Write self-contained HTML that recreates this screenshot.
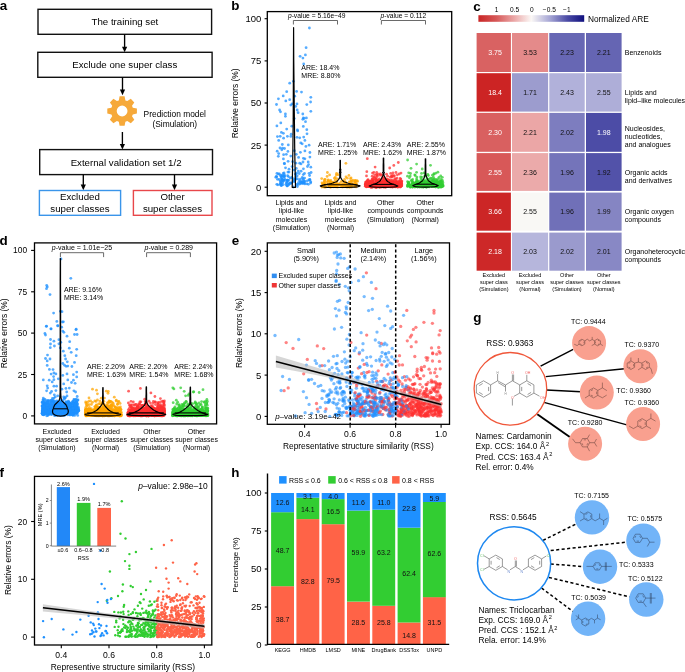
<!DOCTYPE html><html><head><meta charset="utf-8"><style>html,body{margin:0;padding:0;background:#fff;}svg{display:block;will-change:transform;font-family:"Liberation Sans",sans-serif;}</style></head><body>
<svg width="685" height="672" viewBox="0 0 685 672">
<rect width="685" height="672" fill="#fff"/>
<text x="-0.3" y="10.4" font-size="13.4" font-weight="bold">a</text>
<rect x="38" y="9.3" width="173.6" height="25" fill="none" stroke="#111" stroke-width="1.4"/>
<text x="124.9" y="25.1" font-size="9.7" text-anchor="middle">The training set</text>
<line x1="124.6" y1="34.3" x2="124.6" y2="48.8" stroke="#000" stroke-width="1.35"/>
<path d="M122,46.7 L127.2,46.7 L124.6,52.3 Z" fill="#000"/>
<rect x="37.8" y="52.3" width="174.3" height="25" fill="none" stroke="#111" stroke-width="1.4"/>
<text x="124.8" y="68.2" font-size="9.7" text-anchor="middle">Exclude one super class</text>
<line x1="122.5" y1="77.3" x2="122.5" y2="91.7" stroke="#000" stroke-width="1.35"/>
<path d="M119.9,89.6 L125.1,89.6 L122.5,95.2 Z" fill="#000"/>
<path d="M118.8,100.4 L119.6,96.3 L124.6,96.3 L125.4,100.4 L127.3,101.1 L130.8,98.8 L134.3,102.4 L132,105.8 L132.8,107.7 L136.9,108.5 L136.9,113.6 L132.8,114.4 L132,116.3 L134.3,119.7 L130.8,123.3 L127.3,121 L125.4,121.7 L124.6,125.8 L119.6,125.8 L118.8,121.7 L116.9,121 L113.4,123.3 L109.9,119.7 L112.2,116.3 L111.4,114.4 L107.3,113.6 L107.3,108.5 L111.4,107.7 L112.2,105.8 L109.9,102.4 L113.4,98.8 L116.9,101.1 Z M116.7,111 a5.4,5.4 0 1,0 10.8,0 a5.4,5.4 0 1,0 -10.8,0 Z" fill="#F6A93A" fill-rule="evenodd"/>
<text x="174.8" y="117" font-size="8.4" text-anchor="middle">Prediction model</text>
<text x="174.8" y="127.2" font-size="8.4" text-anchor="middle">(Simulation)</text>
<line x1="122.4" y1="132" x2="122.4" y2="146.1" stroke="#000" stroke-width="1.35"/>
<path d="M119.8,144 L125,144 L122.4,149.6 Z" fill="#000"/>
<rect x="39.7" y="149.6" width="172.8" height="25" fill="none" stroke="#111" stroke-width="1.4"/>
<text x="126.1" y="166.3" font-size="9.7" text-anchor="middle">External validation set 1/2</text>
<line x1="83.3" y1="174.6" x2="83.3" y2="186.7" stroke="#000" stroke-width="1.35"/>
<path d="M80.7,184.6 L85.9,184.6 L83.3,190.2 Z" fill="#000"/>
<line x1="174.5" y1="174.6" x2="174.5" y2="186.7" stroke="#000" stroke-width="1.35"/>
<path d="M171.9,184.6 L177.1,184.6 L174.5,190.2 Z" fill="#000"/>
<rect x="39.4" y="190.5" width="81.2" height="24.8" fill="none" stroke="#3A95EA" stroke-width="1.4"/>
<text x="79.9" y="200.3" font-size="9.7" text-anchor="middle">Excluded</text>
<text x="79.9" y="212.3" font-size="9.7" text-anchor="middle">super classes</text>
<rect x="133.4" y="190.5" width="78.6" height="24.8" fill="none" stroke="#E8474A" stroke-width="1.4"/>
<text x="172.5" y="200.3" font-size="9.7" text-anchor="middle">Other</text>
<text x="172.5" y="212.3" font-size="9.7" text-anchor="middle">super classes</text>
<text x="231.2" y="10" font-size="13.4" font-weight="bold">b</text>
<g fill="#1E90FF" fill-opacity="0.75">
<circle cx="309.4" cy="28" r="1.4"/>
<circle cx="306.1" cy="47.7" r="1.4"/>
<circle cx="305.4" cy="54.9" r="1.4"/>
<circle cx="300.1" cy="56.3" r="1.4"/>
<circle cx="302.9" cy="58.1" r="1.4"/>
<circle cx="303.7" cy="64" r="1.4"/>
<circle cx="293.4" cy="81.3" r="1.4"/>
<circle cx="289.7" cy="83.2" r="1.4"/>
<circle cx="286.7" cy="91.7" r="1.4"/>
<circle cx="296.6" cy="91.4" r="1.4"/>
<circle cx="301.5" cy="92.1" r="1.4"/>
<circle cx="283.2" cy="95.9" r="1.4"/>
<circle cx="294.8" cy="96.2" r="1.4"/>
<circle cx="278.4" cy="98.8" r="1.4"/>
<circle cx="310.8" cy="97.3" r="1.4"/>
<circle cx="285.8" cy="100.9" r="1.4"/>
<circle cx="289.7" cy="99.7" r="1.4"/>
<circle cx="310.6" cy="102" r="1.4"/>
<circle cx="276.5" cy="104.5" r="1.4"/>
<circle cx="290.8" cy="105.1" r="1.4"/>
<circle cx="292.1" cy="103.8" r="1.4"/>
<circle cx="297" cy="103.9" r="1.4"/>
<circle cx="295.7" cy="106.4" r="1.4"/>
<circle cx="306.8" cy="104.6" r="1.4"/>
<circle cx="279.6" cy="110" r="1.4"/>
<circle cx="280.5" cy="111.8" r="1.4"/>
<circle cx="297.2" cy="110" r="1.4"/>
<circle cx="298.1" cy="112.7" r="1.4"/>
<circle cx="310.8" cy="111.3" r="1.4"/>
<circle cx="285.4" cy="114" r="1.4"/>
<circle cx="285.4" cy="116.3" r="1.4"/>
<circle cx="302.8" cy="114" r="1.4"/>
<circle cx="303.3" cy="118" r="1.4"/>
<circle cx="306.4" cy="117.9" r="1.4"/>
<circle cx="294.3" cy="118.6" r="1.4"/>
<circle cx="302.8" cy="119.3" r="1.4"/>
<circle cx="304.1" cy="118.4" r="1.4"/>
<circle cx="305.5" cy="121.7" r="1.4"/>
<circle cx="280.8" cy="122.9" r="1.4"/>
<circle cx="276.9" cy="125.9" r="1.4"/>
<circle cx="291.8" cy="126.2" r="1.4"/>
<circle cx="303.3" cy="126.4" r="1.4"/>
<circle cx="286.7" cy="129.1" r="1.4"/>
<circle cx="297.4" cy="130" r="1.4"/>
<circle cx="297.7" cy="130.9" r="1.4"/>
<circle cx="306.8" cy="129.7" r="1.4"/>
<circle cx="281.4" cy="132.4" r="1.4"/>
<circle cx="283.4" cy="133.3" r="1.4"/>
<circle cx="307" cy="133.8" r="1.4"/>
<circle cx="291.2" cy="134.2" r="1.4"/>
<circle cx="277.4" cy="136.6" r="1.4"/>
<circle cx="280.2" cy="136.3" r="1.4"/>
<circle cx="287.4" cy="136.3" r="1.4"/>
<circle cx="290.8" cy="136.4" r="1.4"/>
<circle cx="297" cy="137.3" r="1.4"/>
<circle cx="299.7" cy="137.8" r="1.4"/>
<circle cx="303.7" cy="137.1" r="1.4"/>
<circle cx="283.6" cy="138.2" r="1.4"/>
<circle cx="278.7" cy="140.4" r="1.4"/>
<circle cx="304.9" cy="140.4" r="1.4"/>
<circle cx="282.3" cy="144.5" r="1.4"/>
<circle cx="288.3" cy="144.9" r="1.4"/>
<circle cx="300.8" cy="142.9" r="1.4"/>
<circle cx="302.2" cy="143.8" r="1.4"/>
<circle cx="305.9" cy="146.4" r="1.4"/>
<circle cx="309.1" cy="145.2" r="1.4"/>
<circle cx="280" cy="148" r="1.4"/>
<circle cx="282.5" cy="148.2" r="1.4"/>
<circle cx="284.5" cy="148.5" r="1.4"/>
<circle cx="281.8" cy="149.8" r="1.4"/>
<circle cx="277.2" cy="151.2" r="1.4"/>
<circle cx="287.9" cy="151.4" r="1.4"/>
<circle cx="294.3" cy="150.7" r="1.4"/>
<circle cx="304.9" cy="150.9" r="1.4"/>
<circle cx="300.4" cy="152.3" r="1.4"/>
<circle cx="309.9" cy="152.5" r="1.4"/>
<circle cx="278.7" cy="153.6" r="1.4"/>
<circle cx="283.6" cy="154.7" r="1.4"/>
<circle cx="286.3" cy="154.3" r="1.4"/>
<circle cx="296.3" cy="154.3" r="1.4"/>
<circle cx="290.8" cy="156.1" r="1.4"/>
<circle cx="278.3" cy="156.3" r="1.4"/>
<circle cx="298.6" cy="157.4" r="1.4"/>
<circle cx="309.9" cy="157.1" r="1.4"/>
<circle cx="283.4" cy="158.9" r="1.4"/>
<circle cx="303.4" cy="158.3" r="1.4"/>
<circle cx="304.9" cy="158.8" r="1.4"/>
<circle cx="288.1" cy="161.3" r="1.4"/>
<circle cx="295.9" cy="163.2" r="1.4"/>
<circle cx="299.7" cy="163.2" r="1.4"/>
<circle cx="301" cy="163.9" r="1.4"/>
<circle cx="308.2" cy="161.9" r="1.4"/>
<circle cx="284.5" cy="163.7" r="1.4"/>
<circle cx="308.6" cy="164.6" r="1.4"/>
<circle cx="292.1" cy="166.6" r="1.4"/>
<circle cx="310.8" cy="167.2" r="1.4"/>
<circle cx="303.4" cy="168.8" r="1.4"/>
<circle cx="289" cy="172.1" r="1.4"/>
<circle cx="298.3" cy="171.1" r="1.4"/>
<circle cx="278.3" cy="173.9" r="1.4"/>
<circle cx="283.2" cy="173.5" r="1.4"/>
<circle cx="303.3" cy="174.6" r="1.4"/>
<circle cx="284.3" cy="163.5" r="1.4"/>
<circle cx="292.6" cy="161.7" r="1.4"/>
<circle cx="303" cy="162" r="1.4"/>
<circle cx="307.5" cy="166.5" r="1.4"/>
<circle cx="296.3" cy="168.4" r="1.4"/>
<circle cx="285.5" cy="167.8" r="1.4"/>
<circle cx="290.6" cy="183.1" r="1.4"/>
<circle cx="282.7" cy="182.5" r="1.4"/>
<circle cx="280.2" cy="181" r="1.4"/>
<circle cx="288.4" cy="176.6" r="1.4"/>
<circle cx="310.6" cy="183" r="1.4"/>
<circle cx="281.1" cy="185.4" r="1.4"/>
<circle cx="287.9" cy="172.1" r="1.4"/>
<circle cx="302.3" cy="177.4" r="1.4"/>
<circle cx="306.8" cy="183.8" r="1.4"/>
<circle cx="307.3" cy="180.8" r="1.4"/>
<circle cx="284.1" cy="180.1" r="1.4"/>
<circle cx="284.1" cy="176.8" r="1.4"/>
<circle cx="304.3" cy="181.5" r="1.4"/>
<circle cx="309.9" cy="180" r="1.4"/>
<circle cx="310.8" cy="181.9" r="1.4"/>
<circle cx="281.4" cy="184" r="1.4"/>
<circle cx="301.1" cy="171.2" r="1.4"/>
<circle cx="303.3" cy="182.8" r="1.4"/>
<circle cx="302.9" cy="178.7" r="1.4"/>
<circle cx="297.5" cy="178.9" r="1.4"/>
<circle cx="283" cy="184.7" r="1.4"/>
<circle cx="281.7" cy="175.9" r="1.4"/>
<circle cx="281.6" cy="177.9" r="1.4"/>
<circle cx="294.3" cy="180.2" r="1.4"/>
<circle cx="297.4" cy="186.5" r="1.4"/>
<circle cx="293.8" cy="181.6" r="1.4"/>
<circle cx="284.5" cy="174.9" r="1.4"/>
<circle cx="287.6" cy="180.8" r="1.4"/>
<circle cx="284.7" cy="176.3" r="1.4"/>
<circle cx="287.4" cy="180.3" r="1.4"/>
<circle cx="283" cy="181.1" r="1.4"/>
<circle cx="287.6" cy="175.7" r="1.4"/>
<circle cx="304.2" cy="182.8" r="1.4"/>
<circle cx="288.8" cy="180.4" r="1.4"/>
<circle cx="289" cy="183.8" r="1.4"/>
<circle cx="302.4" cy="181.1" r="1.4"/>
<circle cx="302" cy="182.4" r="1.4"/>
<circle cx="276.8" cy="176.8" r="1.4"/>
<circle cx="309" cy="180" r="1.4"/>
<circle cx="282.5" cy="179.9" r="1.4"/>
<circle cx="301.6" cy="182.5" r="1.4"/>
<circle cx="286.5" cy="183.5" r="1.4"/>
<circle cx="304.9" cy="183.9" r="1.4"/>
<circle cx="276.3" cy="176.3" r="1.4"/>
<circle cx="287.2" cy="185.8" r="1.4"/>
<circle cx="281.1" cy="177.1" r="1.4"/>
<circle cx="285.9" cy="184.6" r="1.4"/>
<circle cx="294.6" cy="181.3" r="1.4"/>
<circle cx="303.5" cy="179.7" r="1.4"/>
<circle cx="296.7" cy="184.4" r="1.4"/>
<circle cx="299.4" cy="180.6" r="1.4"/>
<circle cx="304.9" cy="181.3" r="1.4"/>
<circle cx="287" cy="185.9" r="1.4"/>
<circle cx="295.9" cy="177" r="1.4"/>
<circle cx="282" cy="175.5" r="1.4"/>
<circle cx="283.5" cy="176.3" r="1.4"/>
<circle cx="277.9" cy="184.8" r="1.4"/>
<circle cx="296.7" cy="173.1" r="1.4"/>
<circle cx="311.1" cy="172.5" r="1.4"/>
<circle cx="295.5" cy="173.9" r="1.4"/>
<circle cx="281.5" cy="185.5" r="1.4"/>
<circle cx="303.7" cy="183.2" r="1.4"/>
<circle cx="280.2" cy="184.6" r="1.4"/>
<circle cx="289" cy="169.2" r="1.4"/>
<circle cx="295.8" cy="179.2" r="1.4"/>
<circle cx="276.9" cy="173.4" r="1.4"/>
<circle cx="288.9" cy="184.4" r="1.4"/>
<circle cx="284.7" cy="179" r="1.4"/>
<circle cx="281.9" cy="178.9" r="1.4"/>
<circle cx="298.5" cy="182.6" r="1.4"/>
<circle cx="294.2" cy="170.1" r="1.4"/>
<circle cx="300.5" cy="181.7" r="1.4"/>
<circle cx="276.8" cy="184.3" r="1.4"/>
<circle cx="279.1" cy="179.4" r="1.4"/>
<circle cx="295.7" cy="174.4" r="1.4"/>
<circle cx="287.5" cy="180.1" r="1.4"/>
<circle cx="286.7" cy="181.9" r="1.4"/>
<circle cx="290.1" cy="178" r="1.4"/>
<circle cx="304.6" cy="178.1" r="1.4"/>
<circle cx="299.2" cy="173.5" r="1.4"/>
<circle cx="308.4" cy="184.3" r="1.4"/>
<circle cx="300.8" cy="183.4" r="1.4"/>
<circle cx="290.5" cy="183.2" r="1.4"/>
<circle cx="289.7" cy="183.3" r="1.4"/>
<circle cx="302.5" cy="183.5" r="1.4"/>
<circle cx="281.5" cy="181.1" r="1.4"/>
<circle cx="298.1" cy="184.4" r="1.4"/>
<circle cx="284.5" cy="180.4" r="1.4"/>
<circle cx="280.7" cy="183.8" r="1.4"/>
<circle cx="300.4" cy="179.1" r="1.4"/>
<circle cx="291.9" cy="177.5" r="1.4"/>
<circle cx="284" cy="176" r="1.4"/>
<circle cx="293.9" cy="178.8" r="1.4"/>
<circle cx="287.2" cy="180.1" r="1.4"/>
<circle cx="277.4" cy="179.3" r="1.4"/>
<circle cx="280.3" cy="175.5" r="1.4"/>
<circle cx="275.8" cy="177.3" r="1.4"/>
<circle cx="309.6" cy="175.5" r="1.4"/>
<circle cx="287" cy="182.6" r="1.4"/>
<circle cx="291.4" cy="183" r="1.4"/>
<circle cx="299.7" cy="184.1" r="1.4"/>
<circle cx="282.8" cy="180" r="1.4"/>
<circle cx="309.1" cy="173.3" r="1.4"/>
<circle cx="284.1" cy="173" r="1.4"/>
<circle cx="280.8" cy="182.3" r="1.4"/>
<circle cx="309.8" cy="179.5" r="1.4"/>
<circle cx="293.3" cy="187" r="1.4"/>
<circle cx="304.5" cy="173.4" r="1.4"/>
<circle cx="288" cy="185.3" r="1.4"/>
<circle cx="281.6" cy="179.7" r="1.4"/>
<circle cx="295.6" cy="179.1" r="1.4"/>
<circle cx="280.7" cy="183.5" r="1.4"/>
<circle cx="297.2" cy="175.8" r="1.4"/>
<circle cx="300.8" cy="182.5" r="1.4"/>
<circle cx="279.4" cy="173.9" r="1.4"/>
</g>
<g fill="#FFA500" fill-opacity="0.75">
<circle cx="327.6" cy="184.4" r="1.4"/>
<circle cx="328.2" cy="181.5" r="1.4"/>
<circle cx="336.3" cy="174.9" r="1.4"/>
<circle cx="337.7" cy="183.8" r="1.4"/>
<circle cx="330.8" cy="180.5" r="1.4"/>
<circle cx="348.2" cy="186.3" r="1.4"/>
<circle cx="336.9" cy="185.4" r="1.4"/>
<circle cx="345.4" cy="182" r="1.4"/>
<circle cx="350" cy="186.9" r="1.4"/>
<circle cx="332.7" cy="183.6" r="1.4"/>
<circle cx="353.8" cy="184.1" r="1.4"/>
<circle cx="339" cy="184.5" r="1.4"/>
<circle cx="338.6" cy="184.6" r="1.4"/>
<circle cx="357.5" cy="181.4" r="1.4"/>
<circle cx="355.6" cy="183.6" r="1.4"/>
<circle cx="350.7" cy="186.7" r="1.4"/>
<circle cx="344.6" cy="185.3" r="1.4"/>
<circle cx="325.2" cy="179.5" r="1.4"/>
<circle cx="330.9" cy="184.5" r="1.4"/>
<circle cx="332.2" cy="182.1" r="1.4"/>
<circle cx="329.6" cy="186.8" r="1.4"/>
<circle cx="322.4" cy="184" r="1.4"/>
<circle cx="324" cy="184.8" r="1.4"/>
<circle cx="327.1" cy="181.9" r="1.4"/>
<circle cx="344.3" cy="186.2" r="1.4"/>
<circle cx="352.2" cy="183.7" r="1.4"/>
<circle cx="334.4" cy="178.2" r="1.4"/>
<circle cx="322" cy="182.8" r="1.4"/>
<circle cx="356" cy="185.6" r="1.4"/>
<circle cx="343.4" cy="184" r="1.4"/>
<circle cx="328.8" cy="184.5" r="1.4"/>
<circle cx="341.6" cy="185.3" r="1.4"/>
<circle cx="330.1" cy="185.3" r="1.4"/>
<circle cx="335.2" cy="180.2" r="1.4"/>
<circle cx="336.2" cy="186.9" r="1.4"/>
<circle cx="342.7" cy="185.4" r="1.4"/>
<circle cx="331.3" cy="184" r="1.4"/>
<circle cx="328.2" cy="179.8" r="1.4"/>
<circle cx="334.7" cy="183.9" r="1.4"/>
<circle cx="349.2" cy="182" r="1.4"/>
<circle cx="350.7" cy="185.7" r="1.4"/>
<circle cx="337.1" cy="185" r="1.4"/>
<circle cx="327.1" cy="176.4" r="1.4"/>
<circle cx="322.5" cy="186.6" r="1.4"/>
<circle cx="336.3" cy="183.2" r="1.4"/>
<circle cx="331" cy="184.8" r="1.4"/>
<circle cx="324.4" cy="181.2" r="1.4"/>
<circle cx="342.1" cy="186.8" r="1.4"/>
<circle cx="331.2" cy="186.5" r="1.4"/>
<circle cx="356.3" cy="183.9" r="1.4"/>
<circle cx="346.4" cy="186" r="1.4"/>
<circle cx="325.2" cy="184" r="1.4"/>
<circle cx="338" cy="174.7" r="1.4"/>
<circle cx="342.2" cy="186.1" r="1.4"/>
<circle cx="334.2" cy="184.7" r="1.4"/>
<circle cx="351" cy="181.2" r="1.4"/>
<circle cx="322.4" cy="185.6" r="1.4"/>
<circle cx="348.9" cy="175.4" r="1.4"/>
<circle cx="345.5" cy="183.6" r="1.4"/>
<circle cx="342.6" cy="186.9" r="1.4"/>
<circle cx="345.9" cy="163.3" r="1.4"/>
<circle cx="328.7" cy="186.4" r="1.4"/>
<circle cx="332.9" cy="184.6" r="1.4"/>
<circle cx="355" cy="182.1" r="1.4"/>
<circle cx="329.7" cy="181.1" r="1.4"/>
<circle cx="329.8" cy="186.7" r="1.4"/>
<circle cx="355.5" cy="181" r="1.4"/>
<circle cx="356.2" cy="184.3" r="1.4"/>
<circle cx="355.7" cy="183.8" r="1.4"/>
<circle cx="333.1" cy="185.9" r="1.4"/>
<circle cx="347.1" cy="185.8" r="1.4"/>
<circle cx="337.1" cy="178.8" r="1.4"/>
<circle cx="345" cy="184.3" r="1.4"/>
<circle cx="337.5" cy="184.6" r="1.4"/>
<circle cx="344.6" cy="179.5" r="1.4"/>
<circle cx="357" cy="180.7" r="1.4"/>
<circle cx="333.8" cy="182.4" r="1.4"/>
<circle cx="349" cy="187" r="1.4"/>
<circle cx="331.1" cy="184.4" r="1.4"/>
<circle cx="352.7" cy="180.1" r="1.4"/>
<circle cx="345.2" cy="183.3" r="1.4"/>
<circle cx="330.2" cy="182.8" r="1.4"/>
<circle cx="342.9" cy="181.2" r="1.4"/>
<circle cx="337.7" cy="187.1" r="1.4"/>
<circle cx="346" cy="176.9" r="1.4"/>
<circle cx="341.8" cy="185.1" r="1.4"/>
<circle cx="350.4" cy="182.7" r="1.4"/>
<circle cx="351.4" cy="184.9" r="1.4"/>
<circle cx="346.5" cy="186.4" r="1.4"/>
<circle cx="336.6" cy="173.4" r="1.4"/>
<circle cx="355.5" cy="183.8" r="1.4"/>
<circle cx="327.4" cy="172.5" r="1.4"/>
<circle cx="356.5" cy="184.8" r="1.4"/>
<circle cx="329.6" cy="174.9" r="1.4"/>
<circle cx="354.8" cy="181.2" r="1.4"/>
<circle cx="351" cy="177.8" r="1.4"/>
<circle cx="354.6" cy="186.6" r="1.4"/>
<circle cx="356.1" cy="186.9" r="1.4"/>
<circle cx="333.7" cy="186.8" r="1.4"/>
<circle cx="321.9" cy="187.1" r="1.4"/>
<circle cx="330.7" cy="185.4" r="1.4"/>
<circle cx="329.3" cy="186.7" r="1.4"/>
<circle cx="347.1" cy="187.2" r="1.4"/>
<circle cx="328.2" cy="180.6" r="1.4"/>
<circle cx="324.8" cy="183.5" r="1.4"/>
<circle cx="324.5" cy="179.6" r="1.4"/>
<circle cx="325.5" cy="187.2" r="1.4"/>
<circle cx="336.6" cy="184.2" r="1.4"/>
<circle cx="355.1" cy="180.5" r="1.4"/>
<circle cx="323.6" cy="183.5" r="1.4"/>
<circle cx="339.8" cy="183.5" r="1.4"/>
<circle cx="345.1" cy="182.4" r="1.4"/>
<circle cx="345" cy="183.5" r="1.4"/>
<circle cx="352.3" cy="181.2" r="1.4"/>
<circle cx="345.8" cy="185.3" r="1.4"/>
<circle cx="332.6" cy="183.6" r="1.4"/>
<circle cx="335" cy="186.3" r="1.4"/>
<circle cx="321.7" cy="178.6" r="1.4"/>
<circle cx="347.5" cy="185.4" r="1.4"/>
<circle cx="324" cy="187.1" r="1.4"/>
<circle cx="324.9" cy="186.9" r="1.4"/>
<circle cx="335" cy="185.5" r="1.4"/>
<circle cx="342.3" cy="184.2" r="1.4"/>
<circle cx="346.5" cy="185.8" r="1.4"/>
<circle cx="340.3" cy="185.6" r="1.4"/>
<circle cx="340.7" cy="185.4" r="1.4"/>
<circle cx="341.2" cy="181.6" r="1.4"/>
<circle cx="353.7" cy="183.9" r="1.4"/>
<circle cx="350.5" cy="178.7" r="1.4"/>
<circle cx="347.3" cy="178.2" r="1.4"/>
<circle cx="347.9" cy="186.2" r="1.4"/>
<circle cx="330.1" cy="186" r="1.4"/>
<circle cx="346.3" cy="183.9" r="1.4"/>
<circle cx="348.6" cy="184.3" r="1.4"/>
<circle cx="351.9" cy="185.6" r="1.4"/>
<circle cx="325.6" cy="186.7" r="1.4"/>
<circle cx="324.5" cy="181.6" r="1.4"/>
<circle cx="330.4" cy="187.1" r="1.4"/>
<circle cx="348.9" cy="186.5" r="1.4"/>
<circle cx="335.3" cy="177.5" r="1.4"/>
<circle cx="331" cy="186.9" r="1.4"/>
<circle cx="351" cy="181.3" r="1.4"/>
<circle cx="336.8" cy="181.4" r="1.4"/>
<circle cx="332.7" cy="182.9" r="1.4"/>
<circle cx="330.6" cy="182.1" r="1.4"/>
<circle cx="354.6" cy="185.6" r="1.4"/>
<circle cx="351.7" cy="187" r="1.4"/>
<circle cx="330.6" cy="186.9" r="1.4"/>
<circle cx="350.7" cy="185.2" r="1.4"/>
<circle cx="349.9" cy="187.1" r="1.4"/>
</g>
<g fill="#FF3030" fill-opacity="0.75">
<circle cx="374.6" cy="185.6" r="1.4"/>
<circle cx="365.7" cy="185.9" r="1.4"/>
<circle cx="377.4" cy="184.4" r="1.4"/>
<circle cx="371.3" cy="183.6" r="1.4"/>
<circle cx="378.3" cy="182.2" r="1.4"/>
<circle cx="386.6" cy="174.2" r="1.4"/>
<circle cx="381.4" cy="183.5" r="1.4"/>
<circle cx="384.2" cy="182.7" r="1.4"/>
<circle cx="389.9" cy="185" r="1.4"/>
<circle cx="376.2" cy="187" r="1.4"/>
<circle cx="396.1" cy="186.3" r="1.4"/>
<circle cx="369.7" cy="184.2" r="1.4"/>
<circle cx="401.1" cy="185.9" r="1.4"/>
<circle cx="399.2" cy="174" r="1.4"/>
<circle cx="369.7" cy="186.6" r="1.4"/>
<circle cx="401.2" cy="183.8" r="1.4"/>
<circle cx="397.5" cy="186.9" r="1.4"/>
<circle cx="377" cy="181.5" r="1.4"/>
<circle cx="375.9" cy="186.6" r="1.4"/>
<circle cx="376.4" cy="184.8" r="1.4"/>
<circle cx="369.8" cy="183.8" r="1.4"/>
<circle cx="390" cy="184.2" r="1.4"/>
<circle cx="379.3" cy="184.9" r="1.4"/>
<circle cx="390.7" cy="186.8" r="1.4"/>
<circle cx="380.3" cy="187" r="1.4"/>
<circle cx="380.4" cy="186.8" r="1.4"/>
<circle cx="388.7" cy="186.2" r="1.4"/>
<circle cx="380.7" cy="185.9" r="1.4"/>
<circle cx="374.9" cy="182.9" r="1.4"/>
<circle cx="385.1" cy="182.9" r="1.4"/>
<circle cx="389.5" cy="184.2" r="1.4"/>
<circle cx="400.9" cy="185.5" r="1.4"/>
<circle cx="383.5" cy="180.6" r="1.4"/>
<circle cx="392.5" cy="181.5" r="1.4"/>
<circle cx="389" cy="180.7" r="1.4"/>
<circle cx="385.7" cy="179.5" r="1.4"/>
<circle cx="372.8" cy="180.9" r="1.4"/>
<circle cx="394.4" cy="175.6" r="1.4"/>
<circle cx="367" cy="186.1" r="1.4"/>
<circle cx="391.7" cy="176.6" r="1.4"/>
<circle cx="370.4" cy="182.5" r="1.4"/>
<circle cx="385.5" cy="185.5" r="1.4"/>
<circle cx="366.8" cy="171.7" r="1.4"/>
<circle cx="385" cy="182.8" r="1.4"/>
<circle cx="375.2" cy="187.1" r="1.4"/>
<circle cx="376.4" cy="184.3" r="1.4"/>
<circle cx="400.4" cy="186.7" r="1.4"/>
<circle cx="398.9" cy="186.2" r="1.4"/>
<circle cx="395.7" cy="182" r="1.4"/>
<circle cx="384.7" cy="185.2" r="1.4"/>
<circle cx="372.2" cy="176.2" r="1.4"/>
<circle cx="387.6" cy="186.6" r="1.4"/>
<circle cx="371.1" cy="187" r="1.4"/>
<circle cx="368" cy="185.1" r="1.4"/>
<circle cx="380" cy="182" r="1.4"/>
<circle cx="374.7" cy="183.6" r="1.4"/>
<circle cx="372.8" cy="181.3" r="1.4"/>
<circle cx="397.1" cy="186.5" r="1.4"/>
<circle cx="380.4" cy="174" r="1.4"/>
<circle cx="393" cy="173" r="1.4"/>
<circle cx="385.9" cy="180.7" r="1.4"/>
<circle cx="386.8" cy="184" r="1.4"/>
<circle cx="395.3" cy="186.9" r="1.4"/>
<circle cx="399.4" cy="184.9" r="1.4"/>
<circle cx="366.7" cy="181.8" r="1.4"/>
<circle cx="375.9" cy="181.7" r="1.4"/>
<circle cx="392.5" cy="182.7" r="1.4"/>
<circle cx="384" cy="182" r="1.4"/>
<circle cx="373.1" cy="185" r="1.4"/>
<circle cx="370.1" cy="184.2" r="1.4"/>
<circle cx="383.2" cy="182" r="1.4"/>
<circle cx="400.1" cy="178.5" r="1.4"/>
<circle cx="368" cy="179.7" r="1.4"/>
<circle cx="396.8" cy="181.6" r="1.4"/>
<circle cx="373.3" cy="179.8" r="1.4"/>
<circle cx="380.3" cy="182.7" r="1.4"/>
<circle cx="385.1" cy="182.5" r="1.4"/>
<circle cx="365.6" cy="182.4" r="1.4"/>
<circle cx="380.2" cy="185" r="1.4"/>
<circle cx="395.1" cy="186" r="1.4"/>
<circle cx="392.4" cy="185.6" r="1.4"/>
<circle cx="392.2" cy="183.8" r="1.4"/>
<circle cx="396" cy="172.5" r="1.4"/>
<circle cx="376.2" cy="185.8" r="1.4"/>
<circle cx="372.1" cy="184.5" r="1.4"/>
<circle cx="381.6" cy="186.6" r="1.4"/>
<circle cx="380.4" cy="183.8" r="1.4"/>
<circle cx="401.2" cy="183.6" r="1.4"/>
<circle cx="400.6" cy="185.7" r="1.4"/>
<circle cx="373.6" cy="185.2" r="1.4"/>
<circle cx="373.3" cy="183.7" r="1.4"/>
<circle cx="373.8" cy="172.3" r="1.4"/>
<circle cx="367.5" cy="185.5" r="1.4"/>
<circle cx="401" cy="185.7" r="1.4"/>
<circle cx="373" cy="185.3" r="1.4"/>
<circle cx="381.3" cy="181.9" r="1.4"/>
<circle cx="401.9" cy="181.1" r="1.4"/>
<circle cx="374.9" cy="185.5" r="1.4"/>
<circle cx="372.1" cy="179.3" r="1.4"/>
<circle cx="377.3" cy="182" r="1.4"/>
<circle cx="380.5" cy="179.8" r="1.4"/>
<circle cx="366.7" cy="185.6" r="1.4"/>
<circle cx="375.4" cy="185.6" r="1.4"/>
<circle cx="398.9" cy="184.7" r="1.4"/>
<circle cx="384.3" cy="187.1" r="1.4"/>
<circle cx="399.7" cy="186.3" r="1.4"/>
<circle cx="392" cy="182.5" r="1.4"/>
<circle cx="378.4" cy="174.2" r="1.4"/>
<circle cx="376.7" cy="187.1" r="1.4"/>
<circle cx="400.2" cy="187.1" r="1.4"/>
<circle cx="394.6" cy="182.7" r="1.4"/>
<circle cx="371.8" cy="185.9" r="1.4"/>
<circle cx="370.2" cy="182.4" r="1.4"/>
<circle cx="373.1" cy="182" r="1.4"/>
<circle cx="379.6" cy="186.9" r="1.4"/>
<circle cx="377.2" cy="176.3" r="1.4"/>
<circle cx="381.7" cy="186.1" r="1.4"/>
<circle cx="391.5" cy="183.9" r="1.4"/>
<circle cx="367.5" cy="184.3" r="1.4"/>
<circle cx="377.5" cy="184.8" r="1.4"/>
<circle cx="369" cy="186.4" r="1.4"/>
<circle cx="385.5" cy="185.1" r="1.4"/>
<circle cx="378.5" cy="179.9" r="1.4"/>
<circle cx="398" cy="183.1" r="1.4"/>
<circle cx="378.3" cy="185.9" r="1.4"/>
<circle cx="394.1" cy="184.6" r="1.4"/>
<circle cx="393.4" cy="185.6" r="1.4"/>
<circle cx="375.1" cy="187.1" r="1.4"/>
<circle cx="372.7" cy="182.7" r="1.4"/>
<circle cx="374.8" cy="186.2" r="1.4"/>
<circle cx="376.5" cy="174.4" r="1.4"/>
<circle cx="374.7" cy="177.3" r="1.4"/>
<circle cx="365.6" cy="184.1" r="1.4"/>
<circle cx="368.1" cy="182.8" r="1.4"/>
<circle cx="401.4" cy="186.1" r="1.4"/>
<circle cx="377.3" cy="187.1" r="1.4"/>
<circle cx="386.9" cy="180.8" r="1.4"/>
<circle cx="382.7" cy="186" r="1.4"/>
<circle cx="389.7" cy="186.3" r="1.4"/>
<circle cx="378.1" cy="185.9" r="1.4"/>
<circle cx="368.3" cy="185.8" r="1.4"/>
<circle cx="390.1" cy="182.3" r="1.4"/>
<circle cx="395.7" cy="184" r="1.4"/>
<circle cx="381.9" cy="183.9" r="1.4"/>
<circle cx="382.8" cy="184.7" r="1.4"/>
<circle cx="366.4" cy="186.2" r="1.4"/>
<circle cx="372.7" cy="179.8" r="1.4"/>
<circle cx="373.7" cy="177.5" r="1.4"/>
<circle cx="383.4" cy="183.6" r="1.4"/>
<circle cx="393.3" cy="183.1" r="1.4"/>
<circle cx="392.5" cy="175.5" r="1.4"/>
<circle cx="380.7" cy="186.1" r="1.4"/>
<circle cx="394.2" cy="180" r="1.4"/>
<circle cx="372.5" cy="186.5" r="1.4"/>
<circle cx="398.4" cy="185.6" r="1.4"/>
<circle cx="391.7" cy="185.2" r="1.4"/>
<circle cx="385.4" cy="184.7" r="1.4"/>
<circle cx="389.7" cy="168" r="1.4"/>
<circle cx="396" cy="181.8" r="1.4"/>
<circle cx="375" cy="185.9" r="1.4"/>
<circle cx="367.4" cy="185.4" r="1.4"/>
<circle cx="373.9" cy="183.1" r="1.4"/>
<circle cx="369.1" cy="182.9" r="1.4"/>
<circle cx="366.1" cy="185.4" r="1.4"/>
<circle cx="376.7" cy="182.4" r="1.4"/>
<circle cx="391.3" cy="186.5" r="1.4"/>
<circle cx="386.1" cy="180.5" r="1.4"/>
<circle cx="372" cy="185.7" r="1.4"/>
<circle cx="398.4" cy="186.9" r="1.4"/>
<circle cx="375.1" cy="185.7" r="1.4"/>
<circle cx="397.1" cy="184.4" r="1.4"/>
<circle cx="372.1" cy="185.4" r="1.4"/>
<circle cx="396" cy="184.5" r="1.4"/>
<circle cx="390.1" cy="183.2" r="1.4"/>
<circle cx="372.9" cy="185.7" r="1.4"/>
<circle cx="376.7" cy="172.4" r="1.4"/>
<circle cx="400.8" cy="185" r="1.4"/>
<circle cx="375.2" cy="184.5" r="1.4"/>
<circle cx="397" cy="178.1" r="1.4"/>
<circle cx="384.2" cy="186.5" r="1.4"/>
<circle cx="391.5" cy="176.1" r="1.4"/>
<circle cx="396" cy="179.4" r="1.4"/>
<circle cx="385.3" cy="180.5" r="1.4"/>
<circle cx="374.5" cy="174.8" r="1.4"/>
<circle cx="372.2" cy="184.8" r="1.4"/>
<circle cx="375.7" cy="184.5" r="1.4"/>
<circle cx="400.1" cy="184.3" r="1.4"/>
<circle cx="385.1" cy="184.5" r="1.4"/>
<circle cx="376.3" cy="182.2" r="1.4"/>
<circle cx="396.4" cy="183.3" r="1.4"/>
<circle cx="376.8" cy="186" r="1.4"/>
<circle cx="376.6" cy="179.4" r="1.4"/>
<circle cx="388.9" cy="184.9" r="1.4"/>
<circle cx="395.3" cy="186.6" r="1.4"/>
<circle cx="388.6" cy="185.7" r="1.4"/>
<circle cx="397.1" cy="183.7" r="1.4"/>
<circle cx="372.6" cy="181" r="1.4"/>
<circle cx="387.7" cy="182.6" r="1.4"/>
<circle cx="379.5" cy="186.8" r="1.4"/>
<circle cx="375.5" cy="186.7" r="1.4"/>
<circle cx="390.6" cy="185.6" r="1.4"/>
<circle cx="387.6" cy="176.2" r="1.4"/>
<circle cx="382.3" cy="182.5" r="1.4"/>
<circle cx="401.7" cy="184.5" r="1.4"/>
<circle cx="377" cy="175.2" r="1.4"/>
<circle cx="376.4" cy="185.2" r="1.4"/>
<circle cx="366.4" cy="186.4" r="1.4"/>
<circle cx="370" cy="184.5" r="1.4"/>
<circle cx="367.7" cy="182.2" r="1.4"/>
<circle cx="371.4" cy="186.3" r="1.4"/>
<circle cx="375.6" cy="186" r="1.4"/>
<circle cx="391.9" cy="180.2" r="1.4"/>
<circle cx="368.9" cy="186.3" r="1.4"/>
<circle cx="380.7" cy="182.4" r="1.4"/>
<circle cx="390.5" cy="183.4" r="1.4"/>
<circle cx="400.8" cy="179.1" r="1.4"/>
<circle cx="389.3" cy="186.3" r="1.4"/>
<circle cx="398.7" cy="181" r="1.4"/>
<circle cx="393.9" cy="185.3" r="1.4"/>
<circle cx="376.2" cy="184.4" r="1.4"/>
<circle cx="387.6" cy="184.1" r="1.4"/>
<circle cx="384.4" cy="178.1" r="1.4"/>
<circle cx="379.4" cy="179" r="1.4"/>
<circle cx="369.9" cy="181.8" r="1.4"/>
<circle cx="390.5" cy="185.2" r="1.4"/>
<circle cx="381.7" cy="182" r="1.4"/>
<circle cx="400.1" cy="184" r="1.4"/>
<circle cx="376.2" cy="177.7" r="1.4"/>
<circle cx="379.8" cy="184.8" r="1.4"/>
<circle cx="393.3" cy="183.5" r="1.4"/>
<circle cx="386.5" cy="179.4" r="1.4"/>
<circle cx="399.5" cy="184.7" r="1.4"/>
<circle cx="385.5" cy="187" r="1.4"/>
<circle cx="397.6" cy="184.2" r="1.4"/>
<circle cx="369" cy="186.5" r="1.4"/>
<circle cx="389" cy="183.2" r="1.4"/>
<circle cx="367.2" cy="186.4" r="1.4"/>
<circle cx="366.3" cy="183.4" r="1.4"/>
<circle cx="376" cy="182" r="1.4"/>
<circle cx="397.6" cy="186.9" r="1.4"/>
<circle cx="386.2" cy="180" r="1.4"/>
<circle cx="393.9" cy="176.3" r="1.4"/>
<circle cx="399.1" cy="181.6" r="1.4"/>
<circle cx="396.3" cy="186.5" r="1.4"/>
<circle cx="388.3" cy="186.6" r="1.4"/>
<circle cx="401.6" cy="182.4" r="1.4"/>
<circle cx="372.1" cy="185.3" r="1.4"/>
<circle cx="400.6" cy="186.6" r="1.4"/>
<circle cx="371.2" cy="187" r="1.4"/>
<circle cx="395.1" cy="178.7" r="1.4"/>
<circle cx="390.9" cy="181.6" r="1.4"/>
<circle cx="375.8" cy="184.9" r="1.4"/>
<circle cx="399.4" cy="184.2" r="1.4"/>
<circle cx="400.5" cy="181.9" r="1.4"/>
<circle cx="392.6" cy="184.8" r="1.4"/>
<circle cx="386.1" cy="178.8" r="1.4"/>
<circle cx="371.5" cy="181.3" r="1.4"/>
<circle cx="384.2" cy="186.1" r="1.4"/>
<circle cx="401.5" cy="182" r="1.4"/>
<circle cx="378.5" cy="181.8" r="1.4"/>
<circle cx="393.2" cy="182.4" r="1.4"/>
<circle cx="391.5" cy="182.8" r="1.4"/>
<circle cx="376.1" cy="187.1" r="1.4"/>
<circle cx="387.7" cy="184.5" r="1.4"/>
<circle cx="379.5" cy="187" r="1.4"/>
<circle cx="370" cy="181.1" r="1.4"/>
<circle cx="394.1" cy="183.4" r="1.4"/>
<circle cx="375.4" cy="186" r="1.4"/>
<circle cx="372" cy="186.7" r="1.4"/>
<circle cx="374.2" cy="184.5" r="1.4"/>
<circle cx="390" cy="182.7" r="1.4"/>
<circle cx="371.4" cy="187.1" r="1.4"/>
<circle cx="377.3" cy="180.3" r="1.4"/>
<circle cx="379.6" cy="183.9" r="1.4"/>
<circle cx="367.9" cy="182.9" r="1.4"/>
<circle cx="399.2" cy="184.3" r="1.4"/>
<circle cx="393.8" cy="165.4" r="1.4"/>
<circle cx="381.8" cy="175.1" r="1.4"/>
<circle cx="383.7" cy="185.2" r="1.4"/>
<circle cx="383.6" cy="177.5" r="1.4"/>
<circle cx="383.8" cy="184.5" r="1.4"/>
<circle cx="388.2" cy="181.9" r="1.4"/>
<circle cx="394.9" cy="184.7" r="1.4"/>
<circle cx="385.6" cy="186" r="1.4"/>
<circle cx="385.8" cy="187" r="1.4"/>
<circle cx="380.6" cy="186.2" r="1.4"/>
<circle cx="378.1" cy="184.1" r="1.4"/>
<circle cx="372.5" cy="184.4" r="1.4"/>
<circle cx="373" cy="182.4" r="1.4"/>
<circle cx="384" cy="184.9" r="1.4"/>
<circle cx="386.1" cy="186.8" r="1.4"/>
<circle cx="397.1" cy="185.4" r="1.4"/>
<circle cx="385.8" cy="184" r="1.4"/>
<circle cx="370.6" cy="187" r="1.4"/>
<circle cx="390.1" cy="177.1" r="1.4"/>
<circle cx="396.5" cy="185" r="1.4"/>
<circle cx="376.1" cy="187" r="1.4"/>
<circle cx="380.6" cy="185.3" r="1.4"/>
<circle cx="367.4" cy="185.5" r="1.4"/>
<circle cx="387.9" cy="179.7" r="1.4"/>
<circle cx="383.7" cy="180.3" r="1.4"/>
<circle cx="397.8" cy="186.9" r="1.4"/>
<circle cx="382.5" cy="177.7" r="1.4"/>
<circle cx="376.2" cy="185.8" r="1.4"/>
<circle cx="392.6" cy="184.9" r="1.4"/>
<circle cx="367.2" cy="181.1" r="1.4"/>
<circle cx="401.3" cy="181.8" r="1.4"/>
<circle cx="401" cy="173.1" r="1.4"/>
<circle cx="365.3" cy="184.6" r="1.4"/>
<circle cx="375.2" cy="179.7" r="1.4"/>
<circle cx="386.7" cy="183.5" r="1.4"/>
<circle cx="367.5" cy="186.4" r="1.4"/>
<circle cx="365.3" cy="183.9" r="1.4"/>
<circle cx="386.5" cy="184.8" r="1.4"/>
<circle cx="392.9" cy="184.7" r="1.4"/>
<circle cx="390.4" cy="184.4" r="1.4"/>
<circle cx="376.8" cy="186.3" r="1.4"/>
<circle cx="382.3" cy="186.4" r="1.4"/>
<circle cx="375.8" cy="179.6" r="1.4"/>
<circle cx="394.4" cy="186.6" r="1.4"/>
<circle cx="387" cy="186.3" r="1.4"/>
<circle cx="367.3" cy="182.1" r="1.4"/>
<circle cx="394.2" cy="186.1" r="1.4"/>
<circle cx="386.5" cy="186.7" r="1.4"/>
<circle cx="366.5" cy="186.9" r="1.4"/>
<circle cx="392.8" cy="182.7" r="1.4"/>
<circle cx="383.8" cy="182.7" r="1.4"/>
<circle cx="368.1" cy="183.6" r="1.4"/>
<circle cx="397.2" cy="184.9" r="1.4"/>
<circle cx="378.5" cy="183.2" r="1.4"/>
<circle cx="380" cy="183" r="1.4"/>
<circle cx="375.1" cy="167.1" r="1.4"/>
<circle cx="389" cy="180.8" r="1.4"/>
<circle cx="381.6" cy="187.1" r="1.4"/>
<circle cx="365.8" cy="185.8" r="1.4"/>
<circle cx="376.7" cy="184.2" r="1.4"/>
<circle cx="373.4" cy="186.1" r="1.4"/>
<circle cx="377.3" cy="185.4" r="1.4"/>
<circle cx="393" cy="186.9" r="1.4"/>
<circle cx="392.9" cy="184.5" r="1.4"/>
<circle cx="397.3" cy="174.8" r="1.4"/>
<circle cx="369.6" cy="181.8" r="1.4"/>
<circle cx="390.5" cy="186.4" r="1.4"/>
<circle cx="394.5" cy="183.6" r="1.4"/>
<circle cx="375.1" cy="184" r="1.4"/>
<circle cx="392.2" cy="187.1" r="1.4"/>
<circle cx="392.5" cy="186.7" r="1.4"/>
<circle cx="388.3" cy="185.1" r="1.4"/>
<circle cx="367.3" cy="183.4" r="1.4"/>
<circle cx="367.6" cy="180.5" r="1.4"/>
<circle cx="401.8" cy="185.8" r="1.4"/>
<circle cx="385.1" cy="186.8" r="1.4"/>
<circle cx="390.3" cy="179.9" r="1.4"/>
<circle cx="371" cy="181.2" r="1.4"/>
<circle cx="371.5" cy="185.9" r="1.4"/>
<circle cx="384.9" cy="185.9" r="1.4"/>
<circle cx="376.2" cy="187" r="1.4"/>
<circle cx="369.5" cy="183.3" r="1.4"/>
<circle cx="365.9" cy="185.7" r="1.4"/>
<circle cx="368.6" cy="180.9" r="1.4"/>
<circle cx="368.6" cy="183" r="1.4"/>
<circle cx="366.5" cy="175.9" r="1.4"/>
<circle cx="377.5" cy="184.5" r="1.4"/>
<circle cx="369.7" cy="185" r="1.4"/>
<circle cx="378.4" cy="181.3" r="1.4"/>
<circle cx="397.9" cy="184.9" r="1.4"/>
<circle cx="390.1" cy="186.8" r="1.4"/>
<circle cx="382.3" cy="179.7" r="1.4"/>
<circle cx="386.7" cy="184.1" r="1.4"/>
<circle cx="384.5" cy="183.7" r="1.4"/>
<circle cx="392" cy="177" r="1.4"/>
<circle cx="379" cy="187" r="1.4"/>
<circle cx="395.5" cy="184.1" r="1.4"/>
<circle cx="391" cy="182.3" r="1.4"/>
<circle cx="397.1" cy="185" r="1.4"/>
<circle cx="396.2" cy="181.5" r="1.4"/>
<circle cx="400" cy="185.6" r="1.4"/>
<circle cx="372.6" cy="187.1" r="1.4"/>
<circle cx="380.2" cy="175.3" r="1.4"/>
<circle cx="390.7" cy="173.4" r="1.4"/>
<circle cx="366" cy="181.8" r="1.4"/>
<circle cx="389" cy="185.1" r="1.4"/>
<circle cx="383.3" cy="180.3" r="1.4"/>
<circle cx="366.6" cy="185.8" r="1.4"/>
<circle cx="371.5" cy="183.1" r="1.4"/>
<circle cx="388.8" cy="183.9" r="1.4"/>
<circle cx="375.4" cy="186.2" r="1.4"/>
<circle cx="387" cy="186.5" r="1.4"/>
<circle cx="393.1" cy="185.6" r="1.4"/>
<circle cx="399.5" cy="184.6" r="1.4"/>
<circle cx="393.5" cy="184.6" r="1.4"/>
<circle cx="379.8" cy="182.4" r="1.4"/>
<circle cx="384.9" cy="180.3" r="1.4"/>
<circle cx="383.4" cy="187.1" r="1.4"/>
<circle cx="388.4" cy="180" r="1.4"/>
<circle cx="370" cy="183.4" r="1.4"/>
<circle cx="372.5" cy="173.1" r="1.4"/>
<circle cx="397.2" cy="184.8" r="1.4"/>
<circle cx="381.6" cy="183.2" r="1.4"/>
<circle cx="367.3" cy="184.5" r="1.4"/>
<circle cx="385.7" cy="185.5" r="1.4"/>
<circle cx="398.3" cy="162.5" r="1.4"/>
<circle cx="377.2" cy="183.6" r="1.4"/>
<circle cx="399.3" cy="182.4" r="1.4"/>
<circle cx="375.4" cy="179.6" r="1.4"/>
<circle cx="401.7" cy="183.8" r="1.4"/>
<circle cx="384.5" cy="181.5" r="1.4"/>
<circle cx="366.6" cy="182.6" r="1.4"/>
<circle cx="365.3" cy="186.2" r="1.4"/>
<circle cx="385.8" cy="183.7" r="1.4"/>
<circle cx="372.6" cy="187" r="1.4"/>
<circle cx="393.9" cy="181.4" r="1.4"/>
<circle cx="396" cy="184.3" r="1.4"/>
<circle cx="383.5" cy="182.2" r="1.4"/>
<circle cx="394.2" cy="184.5" r="1.4"/>
<circle cx="367.3" cy="158.7" r="1.4"/>
<circle cx="389.5" cy="185.2" r="1.4"/>
<circle cx="365.4" cy="184.6" r="1.4"/>
<circle cx="400.5" cy="180.6" r="1.4"/>
<circle cx="395.1" cy="182.9" r="1.4"/>
<circle cx="376.4" cy="184.4" r="1.4"/>
<circle cx="397.7" cy="182.3" r="1.4"/>
<circle cx="374.7" cy="183.2" r="1.4"/>
<circle cx="376.7" cy="185.3" r="1.4"/>
<circle cx="390.4" cy="186.1" r="1.4"/>
<circle cx="379.2" cy="186.5" r="1.4"/>
<circle cx="372.5" cy="178.8" r="1.4"/>
<circle cx="394.9" cy="184.5" r="1.4"/>
<circle cx="383.6" cy="186" r="1.4"/>
<circle cx="371.4" cy="183.2" r="1.4"/>
</g>
<g fill="#32CD32" fill-opacity="0.75">
<circle cx="438.9" cy="182.6" r="1.4"/>
<circle cx="420" cy="184.2" r="1.4"/>
<circle cx="422.4" cy="185.9" r="1.4"/>
<circle cx="410.3" cy="187" r="1.4"/>
<circle cx="419.7" cy="184" r="1.4"/>
<circle cx="428.9" cy="186.1" r="1.4"/>
<circle cx="429.6" cy="184.6" r="1.4"/>
<circle cx="425.5" cy="186.6" r="1.4"/>
<circle cx="434.7" cy="185.4" r="1.4"/>
<circle cx="426.7" cy="186.8" r="1.4"/>
<circle cx="422.4" cy="179.8" r="1.4"/>
<circle cx="412.2" cy="186.4" r="1.4"/>
<circle cx="432.9" cy="180.9" r="1.4"/>
<circle cx="437.4" cy="185.1" r="1.4"/>
<circle cx="428" cy="186.3" r="1.4"/>
<circle cx="433" cy="181.8" r="1.4"/>
<circle cx="430.1" cy="182.9" r="1.4"/>
<circle cx="412.9" cy="186.8" r="1.4"/>
<circle cx="424.6" cy="186.4" r="1.4"/>
<circle cx="430.1" cy="185.2" r="1.4"/>
<circle cx="424.4" cy="182.8" r="1.4"/>
<circle cx="416.9" cy="186.1" r="1.4"/>
<circle cx="442.3" cy="177.3" r="1.4"/>
<circle cx="420.1" cy="184.3" r="1.4"/>
<circle cx="416.6" cy="164.1" r="1.4"/>
<circle cx="430.5" cy="178.2" r="1.4"/>
<circle cx="440.3" cy="184.1" r="1.4"/>
<circle cx="436.1" cy="179.3" r="1.4"/>
<circle cx="442.4" cy="180.5" r="1.4"/>
<circle cx="441.3" cy="187" r="1.4"/>
<circle cx="415.1" cy="184.9" r="1.4"/>
<circle cx="439.7" cy="186.8" r="1.4"/>
<circle cx="419.7" cy="185.5" r="1.4"/>
<circle cx="417.2" cy="185.3" r="1.4"/>
<circle cx="432.6" cy="180.9" r="1.4"/>
<circle cx="416.1" cy="184.8" r="1.4"/>
<circle cx="416.9" cy="177.1" r="1.4"/>
<circle cx="420.6" cy="177" r="1.4"/>
<circle cx="421.1" cy="184.7" r="1.4"/>
<circle cx="408.4" cy="185.2" r="1.4"/>
<circle cx="439.4" cy="183.8" r="1.4"/>
<circle cx="417.7" cy="186.8" r="1.4"/>
<circle cx="417.7" cy="184.8" r="1.4"/>
<circle cx="426.2" cy="187.1" r="1.4"/>
<circle cx="412.5" cy="182" r="1.4"/>
<circle cx="426.8" cy="183.7" r="1.4"/>
<circle cx="433" cy="185.5" r="1.4"/>
<circle cx="414.4" cy="184.8" r="1.4"/>
<circle cx="415" cy="186" r="1.4"/>
<circle cx="421.5" cy="173.4" r="1.4"/>
<circle cx="442.8" cy="183.8" r="1.4"/>
<circle cx="421" cy="179.1" r="1.4"/>
<circle cx="416.9" cy="182" r="1.4"/>
<circle cx="435.5" cy="186.1" r="1.4"/>
<circle cx="435.9" cy="181.6" r="1.4"/>
<circle cx="412.6" cy="179.4" r="1.4"/>
<circle cx="418.9" cy="184.9" r="1.4"/>
<circle cx="408.5" cy="184" r="1.4"/>
<circle cx="417.2" cy="185.4" r="1.4"/>
<circle cx="416" cy="185.3" r="1.4"/>
<circle cx="432.2" cy="186.2" r="1.4"/>
<circle cx="413.9" cy="184.2" r="1.4"/>
<circle cx="441.4" cy="181.1" r="1.4"/>
<circle cx="419.4" cy="187" r="1.4"/>
<circle cx="440.4" cy="181.8" r="1.4"/>
<circle cx="428.6" cy="185.9" r="1.4"/>
<circle cx="439" cy="181.6" r="1.4"/>
<circle cx="439" cy="186.9" r="1.4"/>
<circle cx="439.5" cy="184" r="1.4"/>
<circle cx="414.4" cy="186.8" r="1.4"/>
<circle cx="442.2" cy="186.1" r="1.4"/>
<circle cx="420.7" cy="184.5" r="1.4"/>
<circle cx="434.9" cy="182.3" r="1.4"/>
<circle cx="408.8" cy="184.9" r="1.4"/>
<circle cx="408.7" cy="183.5" r="1.4"/>
<circle cx="431.9" cy="186.4" r="1.4"/>
<circle cx="436.3" cy="182.9" r="1.4"/>
<circle cx="425.4" cy="184.4" r="1.4"/>
<circle cx="407.7" cy="186.2" r="1.4"/>
<circle cx="414.3" cy="184.7" r="1.4"/>
<circle cx="423.2" cy="185.9" r="1.4"/>
<circle cx="418.2" cy="185.3" r="1.4"/>
<circle cx="431.6" cy="181.4" r="1.4"/>
<circle cx="413.9" cy="186.7" r="1.4"/>
<circle cx="411.2" cy="184.6" r="1.4"/>
<circle cx="442.9" cy="186.2" r="1.4"/>
<circle cx="412.3" cy="183.1" r="1.4"/>
<circle cx="429.1" cy="186.9" r="1.4"/>
<circle cx="422.9" cy="185.8" r="1.4"/>
<circle cx="432.9" cy="182.7" r="1.4"/>
<circle cx="424.3" cy="181.6" r="1.4"/>
<circle cx="416.6" cy="186.3" r="1.4"/>
<circle cx="432.3" cy="183.9" r="1.4"/>
<circle cx="417.1" cy="181.7" r="1.4"/>
<circle cx="427.9" cy="183.2" r="1.4"/>
<circle cx="433.3" cy="177.2" r="1.4"/>
<circle cx="440" cy="186.1" r="1.4"/>
<circle cx="430.5" cy="165.3" r="1.4"/>
<circle cx="437.6" cy="185" r="1.4"/>
<circle cx="437.6" cy="181.8" r="1.4"/>
<circle cx="433.3" cy="180.3" r="1.4"/>
<circle cx="426.2" cy="186.7" r="1.4"/>
<circle cx="421.7" cy="177.1" r="1.4"/>
<circle cx="410.1" cy="187" r="1.4"/>
<circle cx="424.9" cy="181.5" r="1.4"/>
<circle cx="437.9" cy="185.3" r="1.4"/>
<circle cx="411.2" cy="180.6" r="1.4"/>
<circle cx="438" cy="183.7" r="1.4"/>
<circle cx="434.4" cy="185.9" r="1.4"/>
<circle cx="434.1" cy="178.9" r="1.4"/>
<circle cx="415.3" cy="186.3" r="1.4"/>
<circle cx="413.5" cy="185.4" r="1.4"/>
<circle cx="421.7" cy="184.2" r="1.4"/>
<circle cx="430.3" cy="182.9" r="1.4"/>
<circle cx="410.8" cy="185.8" r="1.4"/>
<circle cx="420.1" cy="183.9" r="1.4"/>
<circle cx="432.5" cy="180" r="1.4"/>
<circle cx="417.4" cy="183.9" r="1.4"/>
<circle cx="433.8" cy="181" r="1.4"/>
<circle cx="416.1" cy="185" r="1.4"/>
<circle cx="442" cy="184.8" r="1.4"/>
<circle cx="414.8" cy="174.8" r="1.4"/>
<circle cx="441.6" cy="186.4" r="1.4"/>
<circle cx="431.8" cy="186.5" r="1.4"/>
<circle cx="436" cy="183.3" r="1.4"/>
<circle cx="440.7" cy="176" r="1.4"/>
<circle cx="411.8" cy="180.5" r="1.4"/>
<circle cx="443.1" cy="185.5" r="1.4"/>
<circle cx="407.5" cy="176.2" r="1.4"/>
<circle cx="412" cy="184.5" r="1.4"/>
<circle cx="427.9" cy="186.1" r="1.4"/>
<circle cx="429" cy="179.2" r="1.4"/>
<circle cx="427.1" cy="184.7" r="1.4"/>
<circle cx="427.8" cy="180.7" r="1.4"/>
<circle cx="424.4" cy="183.7" r="1.4"/>
<circle cx="415.4" cy="183.2" r="1.4"/>
<circle cx="422.2" cy="169" r="1.4"/>
<circle cx="407.6" cy="181.6" r="1.4"/>
<circle cx="434.6" cy="186.6" r="1.4"/>
<circle cx="427.3" cy="185.8" r="1.4"/>
<circle cx="430" cy="185.3" r="1.4"/>
<circle cx="422.4" cy="184.4" r="1.4"/>
<circle cx="428.3" cy="186.1" r="1.4"/>
<circle cx="420.3" cy="184.2" r="1.4"/>
<circle cx="412.8" cy="182.1" r="1.4"/>
<circle cx="411.8" cy="185.3" r="1.4"/>
<circle cx="423.6" cy="182.1" r="1.4"/>
<circle cx="432.4" cy="184.8" r="1.4"/>
<circle cx="426.6" cy="187.2" r="1.4"/>
<circle cx="418.8" cy="186.7" r="1.4"/>
<circle cx="438.4" cy="187.2" r="1.4"/>
<circle cx="434" cy="186.6" r="1.4"/>
<circle cx="414.1" cy="185" r="1.4"/>
<circle cx="438.2" cy="185.4" r="1.4"/>
<circle cx="441.9" cy="183.7" r="1.4"/>
<circle cx="421.6" cy="186.6" r="1.4"/>
<circle cx="439.7" cy="186.5" r="1.4"/>
<circle cx="435.7" cy="187" r="1.4"/>
<circle cx="419" cy="186.5" r="1.4"/>
<circle cx="429.3" cy="183.3" r="1.4"/>
<circle cx="433.9" cy="179.3" r="1.4"/>
<circle cx="434" cy="174.3" r="1.4"/>
<circle cx="421.3" cy="183.4" r="1.4"/>
<circle cx="415.2" cy="175.5" r="1.4"/>
<circle cx="436.6" cy="186.5" r="1.4"/>
<circle cx="418" cy="184.3" r="1.4"/>
<circle cx="437.2" cy="186.8" r="1.4"/>
<circle cx="423.1" cy="187.2" r="1.4"/>
<circle cx="423.4" cy="183.7" r="1.4"/>
<circle cx="412.9" cy="184.5" r="1.4"/>
<circle cx="421.6" cy="181.5" r="1.4"/>
<circle cx="432.4" cy="175.2" r="1.4"/>
<circle cx="425.3" cy="175.9" r="1.4"/>
<circle cx="439" cy="177.3" r="1.4"/>
<circle cx="415" cy="183.1" r="1.4"/>
<circle cx="438.9" cy="185.1" r="1.4"/>
<circle cx="435" cy="185.6" r="1.4"/>
<circle cx="438.4" cy="186.5" r="1.4"/>
<circle cx="422.7" cy="184.3" r="1.4"/>
<circle cx="434.2" cy="186.7" r="1.4"/>
<circle cx="429.4" cy="186.3" r="1.4"/>
<circle cx="410.2" cy="176.1" r="1.4"/>
<circle cx="424.6" cy="180" r="1.4"/>
<circle cx="432.3" cy="186.3" r="1.4"/>
<circle cx="418.7" cy="181.1" r="1.4"/>
<circle cx="429.8" cy="185" r="1.4"/>
<circle cx="408.8" cy="182.4" r="1.4"/>
<circle cx="415.9" cy="185.5" r="1.4"/>
<circle cx="408.1" cy="184.4" r="1.4"/>
<circle cx="422.2" cy="184.2" r="1.4"/>
<circle cx="436" cy="173.1" r="1.4"/>
<circle cx="441" cy="186.1" r="1.4"/>
<circle cx="423.4" cy="183.3" r="1.4"/>
<circle cx="436.6" cy="180.3" r="1.4"/>
<circle cx="407.6" cy="186.4" r="1.4"/>
<circle cx="421.1" cy="184.9" r="1.4"/>
<circle cx="434" cy="185" r="1.4"/>
<circle cx="421.8" cy="181.1" r="1.4"/>
<circle cx="421" cy="182.4" r="1.4"/>
<circle cx="440.1" cy="186.7" r="1.4"/>
<circle cx="427.5" cy="182.8" r="1.4"/>
<circle cx="431.6" cy="185.1" r="1.4"/>
<circle cx="412.4" cy="186.8" r="1.4"/>
<circle cx="440.5" cy="184.8" r="1.4"/>
<circle cx="441" cy="179.4" r="1.4"/>
<circle cx="418.3" cy="184" r="1.4"/>
<circle cx="410.5" cy="173.5" r="1.4"/>
<circle cx="428.3" cy="185.1" r="1.4"/>
<circle cx="428.8" cy="182.9" r="1.4"/>
<circle cx="416.6" cy="183.1" r="1.4"/>
<circle cx="437" cy="186.2" r="1.4"/>
<circle cx="426" cy="184" r="1.4"/>
<circle cx="433.8" cy="185" r="1.4"/>
<circle cx="414.2" cy="184.7" r="1.4"/>
<circle cx="427.9" cy="183.6" r="1.4"/>
<circle cx="433.5" cy="181.6" r="1.4"/>
<circle cx="415.9" cy="182.1" r="1.4"/>
<circle cx="434" cy="173.7" r="1.4"/>
<circle cx="416.6" cy="172.3" r="1.4"/>
<circle cx="428.5" cy="183.2" r="1.4"/>
<circle cx="437.2" cy="183.8" r="1.4"/>
<circle cx="438.5" cy="184.7" r="1.4"/>
<circle cx="423.3" cy="186.5" r="1.4"/>
<circle cx="415.7" cy="186.7" r="1.4"/>
<circle cx="408.7" cy="172.8" r="1.4"/>
<circle cx="424.1" cy="173" r="1.4"/>
<circle cx="421.2" cy="186.2" r="1.4"/>
<circle cx="413.7" cy="183.6" r="1.4"/>
<circle cx="442.3" cy="186.4" r="1.4"/>
<circle cx="437.9" cy="172.2" r="1.4"/>
<circle cx="409.3" cy="185.7" r="1.4"/>
<circle cx="418.4" cy="184" r="1.4"/>
<circle cx="440.6" cy="187" r="1.4"/>
<circle cx="420.5" cy="186.3" r="1.4"/>
<circle cx="424.8" cy="176.2" r="1.4"/>
<circle cx="425.7" cy="183" r="1.4"/>
<circle cx="428.4" cy="175.6" r="1.4"/>
<circle cx="433.3" cy="183.5" r="1.4"/>
<circle cx="438.7" cy="184" r="1.4"/>
<circle cx="441.6" cy="185.8" r="1.4"/>
<circle cx="408" cy="185.5" r="1.4"/>
<circle cx="414.9" cy="186.3" r="1.4"/>
<circle cx="438.6" cy="182.9" r="1.4"/>
<circle cx="412.8" cy="184.9" r="1.4"/>
<circle cx="440.9" cy="181.3" r="1.4"/>
<circle cx="427.2" cy="184.9" r="1.4"/>
<circle cx="436.9" cy="180.6" r="1.4"/>
<circle cx="425.4" cy="186.4" r="1.4"/>
<circle cx="436.8" cy="186" r="1.4"/>
<circle cx="413.7" cy="183.3" r="1.4"/>
<circle cx="427.8" cy="174.5" r="1.4"/>
<circle cx="421.9" cy="186.6" r="1.4"/>
<circle cx="408.2" cy="182.6" r="1.4"/>
<circle cx="431.6" cy="178.5" r="1.4"/>
<circle cx="421.5" cy="185.4" r="1.4"/>
<circle cx="417.5" cy="184.9" r="1.4"/>
<circle cx="435.6" cy="182.6" r="1.4"/>
<circle cx="424.5" cy="186.4" r="1.4"/>
<circle cx="408.9" cy="182.7" r="1.4"/>
<circle cx="428.9" cy="182.7" r="1.4"/>
<circle cx="420.4" cy="186" r="1.4"/>
<circle cx="442.7" cy="186" r="1.4"/>
<circle cx="439.2" cy="183" r="1.4"/>
<circle cx="424.8" cy="186.2" r="1.4"/>
<circle cx="424.9" cy="185.4" r="1.4"/>
<circle cx="438.6" cy="186.9" r="1.4"/>
<circle cx="437.2" cy="183.9" r="1.4"/>
<circle cx="418.6" cy="182.5" r="1.4"/>
<circle cx="413" cy="183.7" r="1.4"/>
<circle cx="438.1" cy="182.5" r="1.4"/>
<circle cx="426.2" cy="181.6" r="1.4"/>
<circle cx="418.8" cy="184.7" r="1.4"/>
<circle cx="435.5" cy="185.5" r="1.4"/>
<circle cx="416" cy="181.9" r="1.4"/>
<circle cx="422.3" cy="183" r="1.4"/>
<circle cx="410.6" cy="186.6" r="1.4"/>
<circle cx="417.5" cy="187.1" r="1.4"/>
<circle cx="411.1" cy="185.4" r="1.4"/>
<circle cx="413.9" cy="185.2" r="1.4"/>
<circle cx="427.7" cy="185.6" r="1.4"/>
<circle cx="440.6" cy="182.8" r="1.4"/>
<circle cx="423.3" cy="184.9" r="1.4"/>
<circle cx="435.3" cy="181.3" r="1.4"/>
<circle cx="428.9" cy="182.9" r="1.4"/>
<circle cx="438.4" cy="178.9" r="1.4"/>
<circle cx="407.6" cy="160" r="1.4"/>
<circle cx="430.3" cy="180.6" r="1.4"/>
<circle cx="418.4" cy="186" r="1.4"/>
<circle cx="438.1" cy="185.2" r="1.4"/>
<circle cx="422" cy="185.4" r="1.4"/>
<circle cx="421.7" cy="181.7" r="1.4"/>
<circle cx="419" cy="185.1" r="1.4"/>
<circle cx="441.5" cy="182.8" r="1.4"/>
<circle cx="409.4" cy="177.8" r="1.4"/>
<circle cx="421" cy="183.1" r="1.4"/>
<circle cx="417" cy="183.1" r="1.4"/>
<circle cx="432.7" cy="184.5" r="1.4"/>
<circle cx="438.1" cy="184" r="1.4"/>
<circle cx="433.8" cy="186.3" r="1.4"/>
<circle cx="436.1" cy="182.4" r="1.4"/>
<circle cx="439.9" cy="181.1" r="1.4"/>
<circle cx="412.4" cy="187.2" r="1.4"/>
<circle cx="422" cy="184.2" r="1.4"/>
<circle cx="413.4" cy="186.7" r="1.4"/>
<circle cx="415" cy="187" r="1.4"/>
<circle cx="423.6" cy="186.9" r="1.4"/>
<circle cx="425.4" cy="185.3" r="1.4"/>
<circle cx="427.8" cy="186.6" r="1.4"/>
<circle cx="416.9" cy="180.4" r="1.4"/>
<circle cx="408.9" cy="185" r="1.4"/>
<circle cx="442.8" cy="182.2" r="1.4"/>
<circle cx="432.2" cy="182.4" r="1.4"/>
<circle cx="432.7" cy="184.6" r="1.4"/>
<circle cx="421.2" cy="187" r="1.4"/>
<circle cx="427.7" cy="181" r="1.4"/>
<circle cx="438.3" cy="187.2" r="1.4"/>
<circle cx="431.3" cy="183.8" r="1.4"/>
<circle cx="422.9" cy="184.7" r="1.4"/>
<circle cx="410.9" cy="186.2" r="1.4"/>
<circle cx="433.2" cy="184.9" r="1.4"/>
<circle cx="425.5" cy="184.8" r="1.4"/>
<circle cx="412.6" cy="185.2" r="1.4"/>
<circle cx="434" cy="185" r="1.4"/>
<circle cx="411" cy="186.7" r="1.4"/>
<circle cx="411" cy="168.3" r="1.4"/>
<circle cx="416.6" cy="179" r="1.4"/>
<circle cx="419.4" cy="184.3" r="1.4"/>
<circle cx="427.2" cy="179" r="1.4"/>
<circle cx="427.5" cy="181.8" r="1.4"/>
<circle cx="407.6" cy="184.9" r="1.4"/>
</g>
<path d="M292.2,187.3 L292.6,165 L292.9,148 L293.2,120 L293.45,60 L293.6,27.7 L293.75,60 L294.4,120 L294.7,148 L295.0,165 L295.5,187.3 Z" fill="none" stroke="#000" stroke-width="1.2" stroke-linejoin="round"/>
<path d="M320.3,185.9 A19.9,1.6 0 0 0 360.1,185.9 L359.4,185.7 L358.7,185.6 L358,185.4 L357.3,185.2 L356.6,185.1 L355.9,184.9 L354.8,184.7 L353.8,184.5 L352.7,184.2 L351.6,184 L350.6,183.8 L349.5,183.6 L348.5,183.3 L347.6,183 L346.6,182.6 L345.6,182.3 L344.7,182 L343.7,181.7 L343.4,181.3 L343.1,181 L342.8,180.6 L342.4,180.2 L342.1,179.9 L341.8,179.5 L341.6,179.2 L341.4,178.8 L341.2,178.5 L341,178.2 L340.8,177.8 L340.6,177.5 L340.6,176.8 L340.6,176 L340.6,175.2 L340.6,174.5 L340.6,173.8 L340.6,173 L340.7,172.9 L340.7,172.8 L340.8,172.7 L340.9,172.6 L340.9,172.5 L341,172.4 L340.9,172.2 L340.8,172.1 L340.8,171.9 L340.7,171.8 L340.6,171.7 L340.5,171.5 L340.6,171.2 L340.6,170.8 L340.6,170.5 L340.7,170.2 L340.8,169.8 L340.8,169.5 L340.7,169.3 L340.7,169.2 L340.6,169 L340.5,168.8 L340.5,168.7 L340.4,168.5 L340.4,167.2 L340.4,165.8 L340.4,164.4 L340.4,163.1 L340.4,161.8 L340.4,160.4 L340,160.4 L340,161.8 L340,163.1 L340,164.4 L340,165.8 L340,167.2 L340,168.5 L339.9,168.7 L339.9,168.8 L339.8,169 L339.7,169.2 L339.7,169.3 L339.6,169.5 L339.6,169.8 L339.7,170.2 L339.8,170.5 L339.8,170.8 L339.8,171.2 L339.9,171.5 L339.8,171.7 L339.7,171.8 L339.6,171.9 L339.6,172.1 L339.5,172.2 L339.4,172.4 L339.5,172.5 L339.5,172.6 L339.6,172.7 L339.7,172.8 L339.7,172.9 L339.8,173 L339.8,173.8 L339.8,174.5 L339.8,175.2 L339.8,176 L339.8,176.8 L339.8,177.5 L339.6,177.8 L339.4,178.2 L339.2,178.5 L339,178.8 L338.8,179.2 L338.6,179.5 L338.3,179.9 L338,180.2 L337.6,180.6 L337.3,181 L337,181.3 L336.7,181.7 L335.7,182 L334.8,182.3 L333.8,182.6 L332.8,183 L331.9,183.3 L330.9,183.6 L329.8,183.8 L328.8,184 L327.7,184.2 L326.6,184.5 L325.6,184.7 L324.5,184.9 L323.8,185.1 L323.1,185.2 L322.4,185.4 L321.7,185.6 L321,185.7 Z" fill="none" stroke="#000" stroke-width="1.2" stroke-linejoin="round"/>
<line x1="323.7" y1="184.7" x2="356.7" y2="184.7" stroke="#000" stroke-width="1.08"/>
<path d="M369.2,186 A14.3,1.3 0 0 0 397.8,186 L397.6,185.9 L397.3,185.8 L397.1,185.8 L396.8,185.7 L396.6,185.6 L396.3,185.5 L395.9,185.3 L395.5,185.1 L395.1,184.9 L394.6,184.8 L394.2,184.6 L393.8,184.4 L393.2,184.2 L392.7,184.1 L392.1,183.9 L391.6,183.7 L391.1,183.6 L390.5,183.4 L389.9,183 L389.3,182.5 L388.6,182.1 L388,181.7 L387.4,181.2 L386.8,180.8 L386.5,180.4 L386.3,179.9 L386,179.4 L385.7,179 L385.5,178.6 L385.2,178.1 L385,177.6 L384.8,177.1 L384.6,176.6 L384.3,176 L384.1,175.5 L383.9,175 L383.9,174.7 L383.9,174.5 L383.9,174.2 L383.9,173.9 L383.9,173.7 L383.9,173.4 L384,173.2 L384.1,173.1 L384.1,172.9 L384.2,172.7 L384.3,172.6 L384.4,172.4 L384.3,172.2 L384.2,172.1 L384.1,171.9 L384,171.7 L383.9,171.6 L383.8,171.4 L383.8,169.2 L383.8,167 L383.8,164.8 L383.7,162.6 L383.7,160.4 L383.7,158.2 L383.3,158.2 L383.3,160.4 L383.3,162.6 L383.2,164.8 L383.2,167 L383.2,169.2 L383.2,171.4 L383.1,171.6 L383,171.7 L382.9,171.9 L382.8,172.1 L382.7,172.2 L382.6,172.4 L382.7,172.6 L382.8,172.7 L382.9,172.9 L382.9,173.1 L383,173.2 L383.1,173.4 L383.1,173.7 L383.1,173.9 L383.1,174.2 L383.1,174.5 L383.1,174.7 L383.1,175 L382.9,175.5 L382.7,176 L382.4,176.6 L382.2,177.1 L382,177.6 L381.8,178.1 L381.5,178.6 L381.3,179 L381,179.4 L380.7,179.9 L380.5,180.4 L380.2,180.8 L379.6,181.2 L379,181.7 L378.4,182.1 L377.7,182.5 L377.1,183 L376.5,183.4 L375.9,183.6 L375.4,183.7 L374.9,183.9 L374.3,184.1 L373.8,184.2 L373.2,184.4 L372.8,184.6 L372.4,184.8 L371.9,184.9 L371.5,185.1 L371.1,185.3 L370.7,185.5 L370.4,185.6 L370.2,185.7 L369.9,185.8 L369.7,185.8 L369.4,185.9 Z" fill="none" stroke="#000" stroke-width="1.2" stroke-linejoin="round"/>
<line x1="373.2" y1="184.4" x2="393.8" y2="184.4" stroke="#000" stroke-width="1.08"/>
<path d="M412.8,185.6 A12.7,1.6 0 0 0 438.2,185.6 L438,185.5 L437.8,185.4 L437.6,185.3 L437.3,185.3 L437.1,185.2 L436.9,185.1 L436.5,184.9 L436.2,184.8 L435.8,184.6 L435.4,184.5 L435.1,184.3 L434.7,184.2 L434.2,184 L433.8,183.9 L433.3,183.7 L432.8,183.5 L432.4,183.4 L431.9,183.2 L431.3,182.8 L430.8,182.4 L430.2,182 L429.6,181.6 L429.1,181.2 L428.5,180.8 L428.2,180.3 L428,179.9 L427.8,179.4 L427.5,178.9 L427.2,178.5 L427,178 L426.8,177.5 L426.6,177 L426.4,176.5 L426.3,176 L426.1,175.5 L425.9,175 L425.9,174.5 L425.9,174 L425.9,173.5 L425.8,173 L425.8,172.5 L425.8,172 L425.8,169.8 L425.8,167.6 L425.8,165.4 L425.7,163.2 L425.7,161 L425.7,158.8 L425.3,158.8 L425.3,161 L425.3,163.2 L425.2,165.4 L425.2,167.6 L425.2,169.8 L425.2,172 L425.2,172.5 L425.2,173 L425.1,173.5 L425.1,174 L425.1,174.5 L425.1,175 L424.9,175.5 L424.7,176 L424.6,176.5 L424.4,177 L424.2,177.5 L424,178 L423.8,178.5 L423.5,178.9 L423.2,179.4 L423,179.9 L422.8,180.3 L422.5,180.8 L421.9,181.2 L421.4,181.6 L420.8,182 L420.2,182.4 L419.7,182.8 L419.1,183.2 L418.6,183.4 L418.2,183.5 L417.7,183.7 L417.2,183.9 L416.8,184 L416.3,184.2 L415.9,184.3 L415.6,184.5 L415.2,184.6 L414.8,184.8 L414.5,184.9 L414.1,185.1 L413.9,185.2 L413.7,185.3 L413.4,185.3 L413.2,185.4 L413,185.5 Z" fill="none" stroke="#000" stroke-width="1.2" stroke-linejoin="round"/>
<line x1="416.3" y1="184.2" x2="434.7" y2="184.2" stroke="#000" stroke-width="1.08"/>
<rect x="267.3" y="11.6" width="184.4" height="184.1" fill="none" stroke="#000" stroke-width="1.3"/>
<line x1="264.6" y1="18.7" x2="267.3" y2="18.7" stroke="#000" stroke-width="1.1"/>
<text x="261.3" y="22.2" font-size="9.5" text-anchor="end">100</text>
<line x1="264.6" y1="60.9" x2="267.3" y2="60.9" stroke="#000" stroke-width="1.1"/>
<text x="261.3" y="64.3" font-size="9.5" text-anchor="end">75</text>
<line x1="264.6" y1="103" x2="267.3" y2="103" stroke="#000" stroke-width="1.1"/>
<text x="261.3" y="106.4" font-size="9.5" text-anchor="end">50</text>
<line x1="264.6" y1="145.1" x2="267.3" y2="145.1" stroke="#000" stroke-width="1.1"/>
<text x="261.3" y="148.5" font-size="9.5" text-anchor="end">25</text>
<line x1="264.6" y1="187.2" x2="267.3" y2="187.2" stroke="#000" stroke-width="1.1"/>
<text x="261.3" y="190.6" font-size="9.5" text-anchor="end">0</text>
<text transform="translate(238.2,103.4) rotate(-90)" font-size="8.4" text-anchor="middle">Relative errors (%)</text>
<text x="287.9" y="17.9" font-size="6.7"><tspan font-style="italic">p</tspan>-value = 5.16e&#8722;49</text>
<text x="380.5" y="17.9" font-size="6.7"><tspan font-style="italic">p</tspan>-value = 0.112</text>
<path d="M293.4,24.5 V20.5 H337.5 V24.5 M381.4,24.5 V20.5 H425.5 V24.5" fill="none" stroke="#444" stroke-width="0.8"/>
<text x="301.3" y="70.1" font-size="7">ARE: 18.4%</text>
<text x="301.3" y="78.3" font-size="7">MRE: 8.80%</text>
<text x="318.1" y="146.7" font-size="7">ARE: 1.71%</text>
<text x="318.1" y="154.9" font-size="7">MRE: 1.25%</text>
<text x="363" y="146.7" font-size="7">ARE: 2.43%</text>
<text x="363" y="154.9" font-size="7">MRE: 1.62%</text>
<text x="406.8" y="146.7" font-size="7">ARE: 2.55%</text>
<text x="406.8" y="154.9" font-size="7">MRE: 1.87%</text>
<text x="291.5" y="205" font-size="7" text-anchor="middle">Lipids and</text>
<text x="291.5" y="213.3" font-size="7" text-anchor="middle">lipid-like</text>
<text x="291.5" y="221.6" font-size="7" text-anchor="middle">molecules</text>
<text x="291.5" y="229.9" font-size="7" text-anchor="middle">(Simulation)</text>
<text x="340.5" y="205" font-size="7" text-anchor="middle">Lipids and</text>
<text x="340.5" y="213.3" font-size="7" text-anchor="middle">lipid-like</text>
<text x="340.5" y="221.6" font-size="7" text-anchor="middle">molecules</text>
<text x="340.5" y="229.9" font-size="7" text-anchor="middle">(Normal)</text>
<text x="385.7" y="205" font-size="7" text-anchor="middle">Other</text>
<text x="385.7" y="213.3" font-size="7" text-anchor="middle">compounds</text>
<text x="385.7" y="221.6" font-size="7" text-anchor="middle">(Simulation)</text>
<text x="425.2" y="205" font-size="7" text-anchor="middle">Other</text>
<text x="425.2" y="213.3" font-size="7" text-anchor="middle">compounds</text>
<text x="425.2" y="221.6" font-size="7" text-anchor="middle">(Normal)</text>
<text x="473.2" y="10.7" font-size="13.4" font-weight="bold">c</text>
<defs><linearGradient id="cb" x1="0" x2="1" y1="0" y2="0"><stop offset="0" stop-color="#C92525"/><stop offset="0.17" stop-color="#D65858"/><stop offset="0.34" stop-color="#EBA8A8"/><stop offset="0.5" stop-color="#FBF8F6"/><stop offset="0.67" stop-color="#A9A9D6"/><stop offset="0.84" stop-color="#4C4CA6"/><stop offset="1" stop-color="#10107E"/></linearGradient></defs>
<rect x="478.4" y="15.2" width="105.8" height="6.6" fill="url(#cb)"/>
<text x="496.6" y="11.6" font-size="6.6" text-anchor="middle">1</text>
<text x="514.5" y="11.6" font-size="6.6" text-anchor="middle">0.5</text>
<text x="531.8" y="11.6" font-size="6.6" text-anchor="middle">0</text>
<text x="549.3" y="11.6" font-size="6.6" text-anchor="middle">&#8722;0.5</text>
<text x="566.8" y="11.6" font-size="6.6" text-anchor="middle">&#8722;1</text>
<text x="587.9" y="21.6" font-size="8.3">Normalized ARE</text>
<rect x="476.6" y="33" width="34.3" height="39" fill="#D96262"/>
<text x="495.1" y="55" font-size="7" text-anchor="middle" fill="#fff">3.75</text>
<rect x="512" y="33" width="36.1" height="39" fill="#E48A8A"/>
<text x="530" y="55" font-size="7" text-anchor="middle" fill="#111">3.53</text>
<rect x="549.3" y="33" width="35.4" height="39" fill="#6767B4"/>
<text x="567" y="55" font-size="7" text-anchor="middle" fill="#111">2.23</text>
<rect x="586" y="33" width="35.6" height="39" fill="#6565B3"/>
<text x="603.8" y="55" font-size="7" text-anchor="middle" fill="#111">2.21</text>
<rect x="476.6" y="73.2" width="34.3" height="38.4" fill="#CC2424"/>
<text x="495.1" y="94.9" font-size="7" text-anchor="middle" fill="#fff">18.4</text>
<rect x="512" y="73.2" width="36.1" height="38.4" fill="#9C9CCE"/>
<text x="530" y="94.9" font-size="7" text-anchor="middle" fill="#111">1.71</text>
<rect x="549.3" y="73.2" width="35.4" height="38.4" fill="#B1B1DA"/>
<text x="567" y="94.9" font-size="7" text-anchor="middle" fill="#111">2.43</text>
<rect x="586" y="73.2" width="35.6" height="38.4" fill="#AEAED8"/>
<text x="603.8" y="94.9" font-size="7" text-anchor="middle" fill="#111">2.55</text>
<rect x="476.6" y="112.9" width="34.3" height="38.9" fill="#D96060"/>
<text x="495.1" y="134.9" font-size="7" text-anchor="middle" fill="#fff">2.30</text>
<rect x="512" y="112.9" width="36.1" height="38.9" fill="#EBA6A6"/>
<text x="530" y="134.9" font-size="7" text-anchor="middle" fill="#111">2.21</text>
<rect x="549.3" y="112.9" width="35.4" height="38.9" fill="#7D7DBF"/>
<text x="567" y="134.9" font-size="7" text-anchor="middle" fill="#111">2.02</text>
<rect x="586" y="112.9" width="35.6" height="38.9" fill="#4C4CA6"/>
<text x="603.8" y="134.9" font-size="7" text-anchor="middle" fill="#fff">1.98</text>
<rect x="476.6" y="153.1" width="34.3" height="37.8" fill="#D85858"/>
<text x="495.1" y="174.5" font-size="7" text-anchor="middle" fill="#fff">2.55</text>
<rect x="512" y="153.1" width="36.1" height="37.8" fill="#EBAAAA"/>
<text x="530" y="174.5" font-size="7" text-anchor="middle" fill="#111">2.36</text>
<rect x="549.3" y="153.1" width="35.4" height="37.8" fill="#7474BA"/>
<text x="567" y="174.5" font-size="7" text-anchor="middle" fill="#111">1.96</text>
<rect x="586" y="153.1" width="35.6" height="37.8" fill="#5252A9"/>
<text x="603.8" y="174.5" font-size="7" text-anchor="middle" fill="#111">1.92</text>
<rect x="476.6" y="192.6" width="34.3" height="38.1" fill="#CC2626"/>
<text x="495.1" y="214.1" font-size="7" text-anchor="middle" fill="#fff">3.66</text>
<rect x="512" y="192.6" width="36.1" height="38.1" fill="#F9F8F5"/>
<text x="530" y="214.1" font-size="7" text-anchor="middle" fill="#111">2.55</text>
<rect x="549.3" y="192.6" width="35.4" height="38.1" fill="#7070B8"/>
<text x="567" y="214.1" font-size="7" text-anchor="middle" fill="#111">1.96</text>
<rect x="586" y="192.6" width="35.6" height="38.1" fill="#8585C3"/>
<text x="603.8" y="214.1" font-size="7" text-anchor="middle" fill="#111">1.99</text>
<rect x="476.6" y="232.6" width="34.3" height="38.1" fill="#CD2828"/>
<text x="495.1" y="254.1" font-size="7" text-anchor="middle" fill="#fff">2.18</text>
<rect x="512" y="232.6" width="36.1" height="38.1" fill="#B6B6DC"/>
<text x="530" y="254.1" font-size="7" text-anchor="middle" fill="#111">2.03</text>
<rect x="549.3" y="232.6" width="35.4" height="38.1" fill="#9A9ACD"/>
<text x="567" y="254.1" font-size="7" text-anchor="middle" fill="#111">2.02</text>
<rect x="586" y="232.6" width="35.6" height="38.1" fill="#8888C5"/>
<text x="603.8" y="254.1" font-size="7" text-anchor="middle" fill="#111">2.01</text>
<text x="624.8" y="55" font-size="7">Benzenoids</text>
<text x="624.8" y="95.2" font-size="7">Lipids and</text>
<text x="624.8" y="103.3" font-size="7">lipid&#8211;like molecules</text>
<text x="624.8" y="130.8" font-size="7">Nucleosides,</text>
<text x="624.8" y="138.9" font-size="7">nucleotides,</text>
<text x="624.8" y="147" font-size="7">and analogues</text>
<text x="624.8" y="174.7" font-size="7">Organic acids</text>
<text x="624.8" y="182.8" font-size="7">and derivatives</text>
<text x="624.8" y="214.2" font-size="7">Organic oxygen</text>
<text x="624.8" y="222.3" font-size="7">compounds</text>
<text x="624.8" y="254.2" font-size="7">Organoheterocyclic</text>
<text x="624.8" y="262.3" font-size="7">compounds</text>
<text x="493.8" y="277.3" font-size="5.5" text-anchor="middle">Excluded</text>
<text x="493.8" y="284.3" font-size="5.5" text-anchor="middle">super class</text>
<text x="493.8" y="291.3" font-size="5.5" text-anchor="middle">(Simulation)</text>
<text x="530" y="277.3" font-size="5.5" text-anchor="middle">Excluded</text>
<text x="530" y="284.3" font-size="5.5" text-anchor="middle">super class</text>
<text x="530" y="291.3" font-size="5.5" text-anchor="middle">(Normal)</text>
<text x="567" y="277.3" font-size="5.5" text-anchor="middle">Other</text>
<text x="567" y="284.3" font-size="5.5" text-anchor="middle">super classes</text>
<text x="567" y="291.3" font-size="5.5" text-anchor="middle">(Simulation)</text>
<text x="603.8" y="277.3" font-size="5.5" text-anchor="middle">Other</text>
<text x="603.8" y="284.3" font-size="5.5" text-anchor="middle">super classes</text>
<text x="603.8" y="291.3" font-size="5.5" text-anchor="middle">(Normal)</text>
<text x="-0.5" y="245.3" font-size="13.4" font-weight="bold">d</text>
<g fill="#1E90FF" fill-opacity="0.75">
<circle cx="61" cy="258.9" r="1.4"/>
<circle cx="70.8" cy="278.3" r="1.4"/>
<circle cx="46.7" cy="285.5" r="1.4"/>
<circle cx="47.3" cy="286.9" r="1.4"/>
<circle cx="46.5" cy="288.7" r="1.4"/>
<circle cx="50" cy="294.6" r="1.4"/>
<circle cx="53.6" cy="313.1" r="1.4"/>
<circle cx="60.4" cy="311.3" r="1.4"/>
<circle cx="62" cy="311.7" r="1.4"/>
<circle cx="56.8" cy="321.4" r="1.4"/>
<circle cx="62.4" cy="322" r="1.4"/>
<circle cx="63.4" cy="321.8" r="1.4"/>
<circle cx="46.5" cy="326.2" r="1.4"/>
<circle cx="57.7" cy="325.6" r="1.4"/>
<circle cx="50.9" cy="328.8" r="1.4"/>
<circle cx="76.2" cy="329.2" r="1.4"/>
<circle cx="46.3" cy="326.3" r="1.4"/>
<circle cx="57.8" cy="325.9" r="1.4"/>
<circle cx="61.7" cy="327.2" r="1.4"/>
<circle cx="51.1" cy="328.9" r="1.4"/>
<circle cx="62.8" cy="331.1" r="1.4"/>
<circle cx="63.9" cy="332.3" r="1.4"/>
<circle cx="76" cy="329.7" r="1.4"/>
<circle cx="44.9" cy="333.4" r="1.4"/>
<circle cx="45.5" cy="335" r="1.4"/>
<circle cx="74.5" cy="334.5" r="1.4"/>
<circle cx="77.1" cy="334.5" r="1.4"/>
<circle cx="67" cy="336.2" r="1.4"/>
<circle cx="50.5" cy="339.5" r="1.4"/>
<circle cx="53.9" cy="341.2" r="1.4"/>
<circle cx="58.9" cy="339.7" r="1.4"/>
<circle cx="60.8" cy="342.3" r="1.4"/>
<circle cx="69.7" cy="341.7" r="1.4"/>
<circle cx="50.5" cy="344" r="1.4"/>
<circle cx="54.4" cy="346" r="1.4"/>
<circle cx="58.9" cy="343.8" r="1.4"/>
<circle cx="50.3" cy="347.7" r="1.4"/>
<circle cx="60.3" cy="347.9" r="1.4"/>
<circle cx="69.3" cy="348.2" r="1.4"/>
<circle cx="76.7" cy="349.3" r="1.4"/>
<circle cx="63.3" cy="351.2" r="1.4"/>
<circle cx="71.2" cy="352.3" r="1.4"/>
<circle cx="47.5" cy="355.1" r="1.4"/>
<circle cx="64.8" cy="355.7" r="1.4"/>
<circle cx="76.2" cy="355.7" r="1.4"/>
<circle cx="45.5" cy="358.5" r="1.4"/>
<circle cx="50" cy="359" r="1.4"/>
<circle cx="47.2" cy="360.9" r="1.4"/>
<circle cx="65.6" cy="359" r="1.4"/>
<circle cx="67.3" cy="361.8" r="1.4"/>
<circle cx="74.5" cy="362.4" r="1.4"/>
<circle cx="62.8" cy="363.5" r="1.4"/>
<circle cx="64.5" cy="365.2" r="1.4"/>
<circle cx="66.1" cy="366.3" r="1.4"/>
<circle cx="67.8" cy="366.1" r="1.4"/>
<circle cx="47.2" cy="365.4" r="1.4"/>
<circle cx="71.9" cy="366.5" r="1.4"/>
<circle cx="49.4" cy="369.4" r="1.4"/>
<circle cx="53" cy="369.6" r="1.4"/>
<circle cx="76.7" cy="372.1" r="1.4"/>
<circle cx="51.1" cy="374.1" r="1.4"/>
<circle cx="53.9" cy="373" r="1.4"/>
<circle cx="55.9" cy="373.9" r="1.4"/>
<circle cx="62.8" cy="375.4" r="1.4"/>
<circle cx="67" cy="373.9" r="1.4"/>
<circle cx="73.4" cy="374.7" r="1.4"/>
<circle cx="53.6" cy="376.6" r="1.4"/>
<circle cx="76.7" cy="376.9" r="1.4"/>
<circle cx="43.3" cy="379.9" r="1.4"/>
<circle cx="49.2" cy="380.2" r="1.4"/>
<circle cx="53.9" cy="379.7" r="1.4"/>
<circle cx="58.3" cy="378.8" r="1.4"/>
<circle cx="67.8" cy="379.9" r="1.4"/>
<circle cx="73.4" cy="380.2" r="1.4"/>
<circle cx="52.2" cy="381.9" r="1.4"/>
<circle cx="71.5" cy="382.5" r="1.4"/>
<circle cx="75.1" cy="383.3" r="1.4"/>
<circle cx="47.2" cy="385.8" r="1.4"/>
<circle cx="53.9" cy="386.2" r="1.4"/>
<circle cx="56.6" cy="386.2" r="1.4"/>
<circle cx="63.7" cy="383.9" r="1.4"/>
<circle cx="47.7" cy="388.1" r="1.4"/>
<circle cx="65.9" cy="388.4" r="1.4"/>
<circle cx="69.3" cy="388.1" r="1.4"/>
<circle cx="46.6" cy="390.8" r="1.4"/>
<circle cx="51.6" cy="391.4" r="1.4"/>
<circle cx="55.9" cy="390.6" r="1.4"/>
<circle cx="61.9" cy="389.2" r="1.4"/>
<circle cx="66.7" cy="392" r="1.4"/>
<circle cx="73.9" cy="390.8" r="1.4"/>
<circle cx="75.6" cy="392" r="1.4"/>
<circle cx="50.3" cy="393.1" r="1.4"/>
<circle cx="67" cy="395.9" r="1.4"/>
<circle cx="43.3" cy="398.1" r="1.4"/>
<circle cx="53.9" cy="398.1" r="1.4"/>
<circle cx="63.7" cy="397" r="1.4"/>
<circle cx="76.2" cy="399.2" r="1.4"/>
<circle cx="76.1" cy="413.3" r="1.4"/>
<circle cx="44" cy="403.7" r="1.4"/>
<circle cx="59.1" cy="404.2" r="1.4"/>
<circle cx="55.3" cy="396.9" r="1.4"/>
<circle cx="44.1" cy="402" r="1.4"/>
<circle cx="47.4" cy="408" r="1.4"/>
<circle cx="76.3" cy="408.5" r="1.4"/>
<circle cx="63.7" cy="410.2" r="1.4"/>
<circle cx="48.3" cy="411.8" r="1.4"/>
<circle cx="59.6" cy="406.5" r="1.4"/>
<circle cx="48.2" cy="409.7" r="1.4"/>
<circle cx="49.5" cy="410.4" r="1.4"/>
<circle cx="70.6" cy="412.9" r="1.4"/>
<circle cx="78.2" cy="410.6" r="1.4"/>
<circle cx="77.2" cy="407" r="1.4"/>
<circle cx="50.9" cy="403" r="1.4"/>
<circle cx="57.7" cy="410.3" r="1.4"/>
<circle cx="74.7" cy="406.9" r="1.4"/>
<circle cx="64.8" cy="408.9" r="1.4"/>
<circle cx="73.9" cy="409.4" r="1.4"/>
<circle cx="70" cy="413.8" r="1.4"/>
<circle cx="70.6" cy="412.1" r="1.4"/>
<circle cx="46.5" cy="407.6" r="1.4"/>
<circle cx="44.6" cy="412.5" r="1.4"/>
<circle cx="66.5" cy="410.3" r="1.4"/>
<circle cx="50.3" cy="411.1" r="1.4"/>
<circle cx="42.7" cy="410.2" r="1.4"/>
<circle cx="66.6" cy="410.1" r="1.4"/>
<circle cx="43.2" cy="407.7" r="1.4"/>
<circle cx="64.7" cy="404.2" r="1.4"/>
<circle cx="47" cy="409.8" r="1.4"/>
<circle cx="68.3" cy="409.4" r="1.4"/>
<circle cx="71.5" cy="404.4" r="1.4"/>
<circle cx="44.2" cy="409.5" r="1.4"/>
<circle cx="58.5" cy="407.1" r="1.4"/>
<circle cx="65.2" cy="407" r="1.4"/>
<circle cx="59.2" cy="405.3" r="1.4"/>
<circle cx="50.8" cy="409.2" r="1.4"/>
<circle cx="73.2" cy="408.6" r="1.4"/>
<circle cx="65.5" cy="397.4" r="1.4"/>
<circle cx="66.8" cy="405.1" r="1.4"/>
<circle cx="57.5" cy="403.5" r="1.4"/>
<circle cx="57.6" cy="411.9" r="1.4"/>
<circle cx="49.3" cy="410.6" r="1.4"/>
<circle cx="61.7" cy="412.4" r="1.4"/>
<circle cx="42.7" cy="412.8" r="1.4"/>
<circle cx="51.1" cy="411.5" r="1.4"/>
<circle cx="62.5" cy="405.7" r="1.4"/>
<circle cx="50.6" cy="408" r="1.4"/>
<circle cx="64.6" cy="411.1" r="1.4"/>
<circle cx="44.2" cy="410.9" r="1.4"/>
<circle cx="63.7" cy="405.8" r="1.4"/>
<circle cx="54.4" cy="413" r="1.4"/>
<circle cx="47.4" cy="409.2" r="1.4"/>
<circle cx="67.2" cy="410.2" r="1.4"/>
<circle cx="53.1" cy="407.7" r="1.4"/>
<circle cx="53.8" cy="406.2" r="1.4"/>
<circle cx="52.4" cy="400.8" r="1.4"/>
<circle cx="74.8" cy="403.5" r="1.4"/>
<circle cx="54.3" cy="403" r="1.4"/>
<circle cx="47.6" cy="413.1" r="1.4"/>
<circle cx="68.3" cy="410.8" r="1.4"/>
<circle cx="49.5" cy="411.1" r="1.4"/>
<circle cx="75.6" cy="402.3" r="1.4"/>
<circle cx="43.7" cy="413.4" r="1.4"/>
<circle cx="76.7" cy="401.8" r="1.4"/>
<circle cx="70.8" cy="406.2" r="1.4"/>
<circle cx="48.4" cy="410.4" r="1.4"/>
<circle cx="46.6" cy="408.5" r="1.4"/>
<circle cx="45.1" cy="413.9" r="1.4"/>
<circle cx="70" cy="404.6" r="1.4"/>
<circle cx="69.5" cy="407.4" r="1.4"/>
<circle cx="54.8" cy="404.2" r="1.4"/>
<circle cx="46.2" cy="410" r="1.4"/>
<circle cx="53.4" cy="410.8" r="1.4"/>
<circle cx="70.8" cy="414.7" r="1.4"/>
<circle cx="54.5" cy="412.8" r="1.4"/>
<circle cx="74.7" cy="411.7" r="1.4"/>
<circle cx="70.7" cy="409.6" r="1.4"/>
<circle cx="56.8" cy="405.3" r="1.4"/>
<circle cx="65.4" cy="405" r="1.4"/>
<circle cx="66.6" cy="412.1" r="1.4"/>
<circle cx="58.4" cy="406.3" r="1.4"/>
<circle cx="74.1" cy="403.2" r="1.4"/>
<circle cx="77.7" cy="415.4" r="1.4"/>
<circle cx="46.1" cy="408.9" r="1.4"/>
<circle cx="59.5" cy="409.9" r="1.4"/>
<circle cx="47.1" cy="404.1" r="1.4"/>
<circle cx="61.4" cy="402.4" r="1.4"/>
<circle cx="63.1" cy="411.5" r="1.4"/>
<circle cx="65.8" cy="401.7" r="1.4"/>
<circle cx="74" cy="411.7" r="1.4"/>
<circle cx="67" cy="406.8" r="1.4"/>
<circle cx="74.2" cy="400" r="1.4"/>
<circle cx="52.5" cy="404.6" r="1.4"/>
<circle cx="72.4" cy="412.6" r="1.4"/>
<circle cx="67.4" cy="413.7" r="1.4"/>
<circle cx="73.8" cy="408.6" r="1.4"/>
<circle cx="69" cy="403.2" r="1.4"/>
<circle cx="61.1" cy="402.2" r="1.4"/>
<circle cx="70.5" cy="408.7" r="1.4"/>
<circle cx="44" cy="412.8" r="1.4"/>
<circle cx="73.6" cy="408.2" r="1.4"/>
<circle cx="69.3" cy="403" r="1.4"/>
<circle cx="60" cy="403.2" r="1.4"/>
<circle cx="56" cy="412.8" r="1.4"/>
<circle cx="53.7" cy="404.1" r="1.4"/>
<circle cx="50" cy="406.2" r="1.4"/>
<circle cx="45" cy="410.8" r="1.4"/>
<circle cx="44.8" cy="404.2" r="1.4"/>
<circle cx="51.7" cy="408.9" r="1.4"/>
<circle cx="48.7" cy="410.6" r="1.4"/>
<circle cx="56.4" cy="410.8" r="1.4"/>
<circle cx="72.9" cy="401.7" r="1.4"/>
<circle cx="76.8" cy="411.7" r="1.4"/>
<circle cx="47.5" cy="406.9" r="1.4"/>
<circle cx="76.3" cy="413" r="1.4"/>
<circle cx="72.5" cy="404.2" r="1.4"/>
<circle cx="58.3" cy="409.9" r="1.4"/>
<circle cx="54.6" cy="412" r="1.4"/>
<circle cx="42.1" cy="406.1" r="1.4"/>
<circle cx="70.2" cy="405.7" r="1.4"/>
<circle cx="68" cy="410.1" r="1.4"/>
<circle cx="52.3" cy="408.7" r="1.4"/>
<circle cx="44.5" cy="410.8" r="1.4"/>
<circle cx="50.6" cy="410" r="1.4"/>
<circle cx="63.2" cy="404.8" r="1.4"/>
<circle cx="69.8" cy="408.7" r="1.4"/>
<circle cx="60.2" cy="414.3" r="1.4"/>
<circle cx="57.7" cy="395.8" r="1.4"/>
<circle cx="61.5" cy="411.1" r="1.4"/>
<circle cx="58.1" cy="412.1" r="1.4"/>
<circle cx="64.1" cy="410.5" r="1.4"/>
<circle cx="51.8" cy="405.1" r="1.4"/>
<circle cx="52" cy="411.7" r="1.4"/>
<circle cx="67.2" cy="409.9" r="1.4"/>
<circle cx="44.7" cy="404.4" r="1.4"/>
<circle cx="42.9" cy="407.9" r="1.4"/>
<circle cx="64.8" cy="406.3" r="1.4"/>
<circle cx="43.4" cy="401.3" r="1.4"/>
<circle cx="42.3" cy="402.3" r="1.4"/>
<circle cx="42.1" cy="413.4" r="1.4"/>
<circle cx="50.7" cy="402" r="1.4"/>
<circle cx="42.9" cy="406" r="1.4"/>
<circle cx="62.9" cy="409.4" r="1.4"/>
<circle cx="67.3" cy="406.5" r="1.4"/>
<circle cx="74.7" cy="412.9" r="1.4"/>
<circle cx="54.9" cy="413.2" r="1.4"/>
<circle cx="45.4" cy="407.5" r="1.4"/>
<circle cx="42.8" cy="410.7" r="1.4"/>
<circle cx="69.3" cy="414.6" r="1.4"/>
<circle cx="76.9" cy="405.8" r="1.4"/>
<circle cx="58.8" cy="405.2" r="1.4"/>
<circle cx="68.5" cy="412.3" r="1.4"/>
<circle cx="65.2" cy="409.1" r="1.4"/>
<circle cx="72" cy="407.4" r="1.4"/>
<circle cx="73.5" cy="411.6" r="1.4"/>
<circle cx="74.8" cy="403.6" r="1.4"/>
<circle cx="54.5" cy="409.8" r="1.4"/>
<circle cx="77.1" cy="410.2" r="1.4"/>
<circle cx="76.7" cy="409.9" r="1.4"/>
<circle cx="42.6" cy="411.5" r="1.4"/>
<circle cx="76.8" cy="407.4" r="1.4"/>
<circle cx="54.9" cy="404.9" r="1.4"/>
<circle cx="53.8" cy="409.9" r="1.4"/>
<circle cx="69.2" cy="402.9" r="1.4"/>
<circle cx="75.7" cy="408.8" r="1.4"/>
<circle cx="75.9" cy="412" r="1.4"/>
<circle cx="70" cy="413.2" r="1.4"/>
<circle cx="71.2" cy="408.9" r="1.4"/>
<circle cx="44.6" cy="414.3" r="1.4"/>
<circle cx="67.7" cy="407.9" r="1.4"/>
<circle cx="51.2" cy="409.6" r="1.4"/>
<circle cx="65.7" cy="412.2" r="1.4"/>
<circle cx="57.6" cy="409" r="1.4"/>
<circle cx="77.5" cy="404.3" r="1.4"/>
<circle cx="66.7" cy="411.4" r="1.4"/>
<circle cx="43.6" cy="403.1" r="1.4"/>
<circle cx="53.6" cy="406.3" r="1.4"/>
<circle cx="73.7" cy="410.1" r="1.4"/>
<circle cx="49.1" cy="413.5" r="1.4"/>
<circle cx="44.3" cy="404.2" r="1.4"/>
<circle cx="66.9" cy="411.7" r="1.4"/>
<circle cx="53.7" cy="405.3" r="1.4"/>
<circle cx="57.3" cy="409.9" r="1.4"/>
<circle cx="62.2" cy="406.9" r="1.4"/>
<circle cx="43.3" cy="414.6" r="1.4"/>
<circle cx="42.2" cy="413" r="1.4"/>
<circle cx="69.3" cy="412.7" r="1.4"/>
<circle cx="75.1" cy="411" r="1.4"/>
<circle cx="50.3" cy="408.6" r="1.4"/>
<circle cx="63.1" cy="413.3" r="1.4"/>
<circle cx="65.3" cy="413.9" r="1.4"/>
<circle cx="56.6" cy="409.5" r="1.4"/>
<circle cx="69.5" cy="411.7" r="1.4"/>
<circle cx="70.4" cy="405.6" r="1.4"/>
<circle cx="73.4" cy="410.2" r="1.4"/>
<circle cx="46.3" cy="409.1" r="1.4"/>
<circle cx="56.8" cy="408.9" r="1.4"/>
<circle cx="75.5" cy="407.6" r="1.4"/>
<circle cx="56.5" cy="412.7" r="1.4"/>
<circle cx="51.1" cy="407.2" r="1.4"/>
<circle cx="68.2" cy="407.5" r="1.4"/>
<circle cx="49.7" cy="413.9" r="1.4"/>
<circle cx="47.6" cy="413.3" r="1.4"/>
<circle cx="64.8" cy="403.5" r="1.4"/>
<circle cx="76.8" cy="404.8" r="1.4"/>
<circle cx="65" cy="409" r="1.4"/>
<circle cx="75.4" cy="408" r="1.4"/>
<circle cx="48.3" cy="408.8" r="1.4"/>
<circle cx="63.1" cy="406.1" r="1.4"/>
<circle cx="44.8" cy="410.7" r="1.4"/>
<circle cx="75" cy="403.7" r="1.4"/>
<circle cx="47.2" cy="409.4" r="1.4"/>
<circle cx="59.3" cy="408" r="1.4"/>
<circle cx="76.5" cy="407.3" r="1.4"/>
<circle cx="53.1" cy="410.6" r="1.4"/>
<circle cx="54.3" cy="406" r="1.4"/>
<circle cx="59.6" cy="402.2" r="1.4"/>
<circle cx="73.6" cy="409.3" r="1.4"/>
<circle cx="48.9" cy="410.7" r="1.4"/>
<circle cx="49" cy="411.8" r="1.4"/>
<circle cx="64.7" cy="405.5" r="1.4"/>
<circle cx="62.1" cy="410.6" r="1.4"/>
<circle cx="68.8" cy="406.5" r="1.4"/>
<circle cx="56.8" cy="401" r="1.4"/>
<circle cx="59.7" cy="410.2" r="1.4"/>
<circle cx="53" cy="401.6" r="1.4"/>
<circle cx="51.3" cy="414.4" r="1.4"/>
<circle cx="59.9" cy="413.3" r="1.4"/>
<circle cx="56.3" cy="407.9" r="1.4"/>
<circle cx="66.2" cy="411.9" r="1.4"/>
<circle cx="71.8" cy="408.4" r="1.4"/>
<circle cx="60.3" cy="406.9" r="1.4"/>
<circle cx="51.1" cy="412.4" r="1.4"/>
<circle cx="70.5" cy="409.7" r="1.4"/>
<circle cx="56.5" cy="406" r="1.4"/>
<circle cx="66.5" cy="409" r="1.4"/>
<circle cx="50.4" cy="412.3" r="1.4"/>
<circle cx="49.3" cy="412.7" r="1.4"/>
<circle cx="61.5" cy="401.6" r="1.4"/>
<circle cx="57.2" cy="403.4" r="1.4"/>
<circle cx="65.8" cy="409.9" r="1.4"/>
<circle cx="57.6" cy="403.7" r="1.4"/>
<circle cx="59.8" cy="411.6" r="1.4"/>
<circle cx="71.2" cy="405.2" r="1.4"/>
<circle cx="69.5" cy="412.3" r="1.4"/>
<circle cx="51.4" cy="402" r="1.4"/>
<circle cx="55.8" cy="410.1" r="1.4"/>
<circle cx="72.4" cy="415.1" r="1.4"/>
<circle cx="78" cy="409.9" r="1.4"/>
<circle cx="49.3" cy="404" r="1.4"/>
<circle cx="71.8" cy="413.5" r="1.4"/>
<circle cx="64.8" cy="398.6" r="1.4"/>
<circle cx="72.4" cy="403.8" r="1.4"/>
<circle cx="78.6" cy="410.9" r="1.4"/>
<circle cx="62" cy="411.8" r="1.4"/>
<circle cx="69.1" cy="403.9" r="1.4"/>
<circle cx="63.3" cy="408.8" r="1.4"/>
<circle cx="54.6" cy="412.9" r="1.4"/>
<circle cx="63" cy="414.5" r="1.4"/>
<circle cx="43.2" cy="408.7" r="1.4"/>
<circle cx="65.8" cy="409.3" r="1.4"/>
<circle cx="51.7" cy="406.9" r="1.4"/>
<circle cx="69.9" cy="403.3" r="1.4"/>
<circle cx="71.5" cy="409" r="1.4"/>
<circle cx="56.5" cy="412.7" r="1.4"/>
<circle cx="67.2" cy="405.5" r="1.4"/>
<circle cx="46.9" cy="406.8" r="1.4"/>
<circle cx="71.6" cy="413.1" r="1.4"/>
<circle cx="49" cy="409.2" r="1.4"/>
<circle cx="59.2" cy="409.2" r="1.4"/>
<circle cx="47" cy="410.9" r="1.4"/>
<circle cx="60.6" cy="412" r="1.4"/>
<circle cx="44" cy="407.4" r="1.4"/>
<circle cx="49.6" cy="406.2" r="1.4"/>
<circle cx="68.8" cy="411.1" r="1.4"/>
<circle cx="49.8" cy="408.3" r="1.4"/>
<circle cx="55.6" cy="413" r="1.4"/>
<circle cx="46.6" cy="413.3" r="1.4"/>
<circle cx="59.3" cy="403.5" r="1.4"/>
<circle cx="42.1" cy="402.1" r="1.4"/>
<circle cx="64.4" cy="411.7" r="1.4"/>
<circle cx="60.6" cy="412.7" r="1.4"/>
<circle cx="53" cy="401.9" r="1.4"/>
<circle cx="75.8" cy="411.3" r="1.4"/>
<circle cx="60.5" cy="413.3" r="1.4"/>
<circle cx="58.1" cy="414.6" r="1.4"/>
<circle cx="45.8" cy="404" r="1.4"/>
<circle cx="50.5" cy="410.6" r="1.4"/>
<circle cx="74.9" cy="412.6" r="1.4"/>
<circle cx="57.2" cy="412.8" r="1.4"/>
<circle cx="62.6" cy="410.1" r="1.4"/>
<circle cx="58.3" cy="412.4" r="1.4"/>
<circle cx="46.7" cy="415.8" r="1.4"/>
<circle cx="50.3" cy="400.4" r="1.4"/>
<circle cx="60.5" cy="411.9" r="1.4"/>
<circle cx="60.7" cy="412.5" r="1.4"/>
<circle cx="65.4" cy="407.8" r="1.4"/>
<circle cx="52.2" cy="405.9" r="1.4"/>
<circle cx="63.3" cy="409.5" r="1.4"/>
<circle cx="66.2" cy="403.9" r="1.4"/>
<circle cx="60.1" cy="405.3" r="1.4"/>
<circle cx="44" cy="406.2" r="1.4"/>
<circle cx="57.6" cy="409.2" r="1.4"/>
<circle cx="76.1" cy="401.7" r="1.4"/>
<circle cx="64.7" cy="406.8" r="1.4"/>
<circle cx="44.2" cy="403.1" r="1.4"/>
<circle cx="66.1" cy="403.8" r="1.4"/>
<circle cx="49.7" cy="411.7" r="1.4"/>
<circle cx="47.7" cy="407.9" r="1.4"/>
<circle cx="57.1" cy="402.3" r="1.4"/>
<circle cx="53.3" cy="405.9" r="1.4"/>
<circle cx="69.5" cy="413.9" r="1.4"/>
<circle cx="51.4" cy="411.5" r="1.4"/>
<circle cx="44.4" cy="410.4" r="1.4"/>
<circle cx="44.7" cy="405.3" r="1.4"/>
<circle cx="65.3" cy="408.1" r="1.4"/>
<circle cx="48" cy="400.8" r="1.4"/>
<circle cx="42.6" cy="411.7" r="1.4"/>
<circle cx="61.2" cy="405" r="1.4"/>
<circle cx="53.7" cy="402.1" r="1.4"/>
<circle cx="55" cy="409.3" r="1.4"/>
<circle cx="53.7" cy="409.4" r="1.4"/>
<circle cx="45.6" cy="407.9" r="1.4"/>
<circle cx="52.6" cy="413.9" r="1.4"/>
<circle cx="50.3" cy="409.8" r="1.4"/>
<circle cx="78.5" cy="407.5" r="1.4"/>
<circle cx="67.7" cy="414.9" r="1.4"/>
<circle cx="71.7" cy="409.6" r="1.4"/>
<circle cx="61.7" cy="409" r="1.4"/>
<circle cx="70.5" cy="408.7" r="1.4"/>
<circle cx="73.9" cy="406.5" r="1.4"/>
<circle cx="64.5" cy="398.2" r="1.4"/>
<circle cx="58.7" cy="409.3" r="1.4"/>
<circle cx="58.4" cy="410.5" r="1.4"/>
<circle cx="61" cy="408.9" r="1.4"/>
<circle cx="51.8" cy="409.6" r="1.4"/>
<circle cx="42.6" cy="410.1" r="1.4"/>
<circle cx="78" cy="400" r="1.4"/>
<circle cx="60.7" cy="404.8" r="1.4"/>
<circle cx="73.8" cy="410" r="1.4"/>
<circle cx="68.2" cy="402" r="1.4"/>
<circle cx="66.6" cy="410.1" r="1.4"/>
<circle cx="42.7" cy="408.8" r="1.4"/>
<circle cx="55.4" cy="410.1" r="1.4"/>
<circle cx="75.1" cy="406.3" r="1.4"/>
<circle cx="62.3" cy="411.3" r="1.4"/>
<circle cx="46.2" cy="403.7" r="1.4"/>
<circle cx="52.6" cy="405.7" r="1.4"/>
<circle cx="49.9" cy="411.8" r="1.4"/>
<circle cx="73.5" cy="410.9" r="1.4"/>
<circle cx="42.7" cy="407.8" r="1.4"/>
<circle cx="75.7" cy="407.8" r="1.4"/>
<circle cx="60.1" cy="409.3" r="1.4"/>
<circle cx="64.6" cy="405.1" r="1.4"/>
<circle cx="69.5" cy="411.5" r="1.4"/>
<circle cx="43.6" cy="407.2" r="1.4"/>
<circle cx="62.1" cy="402.1" r="1.4"/>
<circle cx="43.3" cy="405.8" r="1.4"/>
<circle cx="73.5" cy="414.1" r="1.4"/>
<circle cx="44.7" cy="412.3" r="1.4"/>
<circle cx="73.9" cy="399.4" r="1.4"/>
<circle cx="53.7" cy="401.8" r="1.4"/>
<circle cx="47.7" cy="411.9" r="1.4"/>
<circle cx="52.9" cy="412.9" r="1.4"/>
<circle cx="49" cy="411.7" r="1.4"/>
<circle cx="65.4" cy="409.9" r="1.4"/>
<circle cx="77.6" cy="412.8" r="1.4"/>
<circle cx="47.6" cy="405.7" r="1.4"/>
<circle cx="74.1" cy="412.9" r="1.4"/>
<circle cx="52.8" cy="408.5" r="1.4"/>
<circle cx="46.2" cy="400.7" r="1.4"/>
<circle cx="53.7" cy="408.9" r="1.4"/>
<circle cx="69.7" cy="413.2" r="1.4"/>
<circle cx="55.5" cy="406.5" r="1.4"/>
<circle cx="42.1" cy="405.9" r="1.4"/>
<circle cx="55.4" cy="411.2" r="1.4"/>
<circle cx="42.5" cy="408.4" r="1.4"/>
<circle cx="56.6" cy="402.7" r="1.4"/>
<circle cx="59.7" cy="408.7" r="1.4"/>
<circle cx="52.9" cy="408.6" r="1.4"/>
<circle cx="58.2" cy="409.5" r="1.4"/>
<circle cx="55.5" cy="409.9" r="1.4"/>
<circle cx="54.4" cy="415.5" r="1.4"/>
<circle cx="64.3" cy="410.1" r="1.4"/>
<circle cx="69.5" cy="406.3" r="1.4"/>
<circle cx="71.4" cy="407.8" r="1.4"/>
<circle cx="48.5" cy="411.3" r="1.4"/>
<circle cx="57.6" cy="404.7" r="1.4"/>
<circle cx="65.9" cy="411.9" r="1.4"/>
<circle cx="55.2" cy="412" r="1.4"/>
<circle cx="74.2" cy="405.3" r="1.4"/>
<circle cx="77.3" cy="411.1" r="1.4"/>
<circle cx="48.4" cy="412.2" r="1.4"/>
<circle cx="45.6" cy="402.9" r="1.4"/>
<circle cx="51.4" cy="402.9" r="1.4"/>
<circle cx="64.8" cy="410.5" r="1.4"/>
<circle cx="56.5" cy="404.8" r="1.4"/>
<circle cx="72.4" cy="411" r="1.4"/>
<circle cx="70.6" cy="407.6" r="1.4"/>
<circle cx="42.1" cy="413.3" r="1.4"/>
<circle cx="56.4" cy="404" r="1.4"/>
<circle cx="73.8" cy="410.9" r="1.4"/>
<circle cx="55.1" cy="405.6" r="1.4"/>
<circle cx="43.2" cy="407.7" r="1.4"/>
<circle cx="65.7" cy="409.4" r="1.4"/>
<circle cx="43.7" cy="414.9" r="1.4"/>
<circle cx="43.6" cy="407.8" r="1.4"/>
<circle cx="57.5" cy="412.1" r="1.4"/>
<circle cx="77.2" cy="411.1" r="1.4"/>
<circle cx="53" cy="408.5" r="1.4"/>
<circle cx="67.5" cy="404.1" r="1.4"/>
<circle cx="49" cy="412.5" r="1.4"/>
<circle cx="57.2" cy="405.2" r="1.4"/>
<circle cx="69.5" cy="409" r="1.4"/>
<circle cx="42.3" cy="412" r="1.4"/>
<circle cx="50.4" cy="408.5" r="1.4"/>
<circle cx="65.1" cy="412.2" r="1.4"/>
<circle cx="69.2" cy="410.2" r="1.4"/>
<circle cx="53" cy="403" r="1.4"/>
<circle cx="78.4" cy="410.6" r="1.4"/>
<circle cx="50.8" cy="412.9" r="1.4"/>
<circle cx="67.1" cy="402.7" r="1.4"/>
<circle cx="73" cy="408.4" r="1.4"/>
<circle cx="77.5" cy="411" r="1.4"/>
<circle cx="48.6" cy="406.5" r="1.4"/>
<circle cx="59.9" cy="411" r="1.4"/>
<circle cx="73.1" cy="410.1" r="1.4"/>
<circle cx="74.1" cy="411.7" r="1.4"/>
<circle cx="65.9" cy="405.1" r="1.4"/>
<circle cx="71.8" cy="410" r="1.4"/>
<circle cx="72.4" cy="402" r="1.4"/>
<circle cx="76.6" cy="402.6" r="1.4"/>
<circle cx="42.9" cy="402.5" r="1.4"/>
<circle cx="51.5" cy="407.2" r="1.4"/>
<circle cx="51.2" cy="414.2" r="1.4"/>
<circle cx="49.2" cy="409" r="1.4"/>
<circle cx="73.4" cy="410.9" r="1.4"/>
<circle cx="74.3" cy="407.5" r="1.4"/>
<circle cx="51.3" cy="400.5" r="1.4"/>
<circle cx="59.7" cy="405.3" r="1.4"/>
<circle cx="67.2" cy="412.9" r="1.4"/>
<circle cx="43.9" cy="412.2" r="1.4"/>
<circle cx="56" cy="411.7" r="1.4"/>
<circle cx="58" cy="407.7" r="1.4"/>
<circle cx="48.9" cy="413.5" r="1.4"/>
<circle cx="48" cy="414" r="1.4"/>
<circle cx="42.3" cy="411.7" r="1.4"/>
<circle cx="71.7" cy="407.5" r="1.4"/>
<circle cx="69.5" cy="412.7" r="1.4"/>
<circle cx="73.3" cy="414.1" r="1.4"/>
<circle cx="76.7" cy="409.3" r="1.4"/>
<circle cx="52.6" cy="407.3" r="1.4"/>
<circle cx="57.2" cy="413.1" r="1.4"/>
<circle cx="61.6" cy="405.8" r="1.4"/>
<circle cx="73.4" cy="402.6" r="1.4"/>
<circle cx="72.8" cy="415" r="1.4"/>
<circle cx="42.2" cy="410.8" r="1.4"/>
<circle cx="55.7" cy="405.6" r="1.4"/>
<circle cx="43.5" cy="410.4" r="1.4"/>
<circle cx="47.9" cy="408.1" r="1.4"/>
<circle cx="51.3" cy="410.2" r="1.4"/>
<circle cx="48.3" cy="412.7" r="1.4"/>
<circle cx="70.1" cy="410.8" r="1.4"/>
<circle cx="55.2" cy="401.7" r="1.4"/>
<circle cx="70.4" cy="411.9" r="1.4"/>
<circle cx="51.6" cy="414" r="1.4"/>
<circle cx="55.2" cy="407.9" r="1.4"/>
<circle cx="57.6" cy="415" r="1.4"/>
<circle cx="66.1" cy="407.7" r="1.4"/>
<circle cx="76.5" cy="408.5" r="1.4"/>
<circle cx="61.2" cy="415.1" r="1.4"/>
<circle cx="45.3" cy="412.2" r="1.4"/>
<circle cx="63.9" cy="412.6" r="1.4"/>
<circle cx="66.5" cy="402.1" r="1.4"/>
<circle cx="75.1" cy="404.1" r="1.4"/>
<circle cx="70" cy="415" r="1.4"/>
<circle cx="58.7" cy="412.6" r="1.4"/>
<circle cx="62.8" cy="407.1" r="1.4"/>
<circle cx="45.9" cy="408.5" r="1.4"/>
<circle cx="54.8" cy="414.2" r="1.4"/>
<circle cx="46.4" cy="403.7" r="1.4"/>
<circle cx="50.6" cy="409" r="1.4"/>
<circle cx="45.9" cy="405.3" r="1.4"/>
<circle cx="48.3" cy="407.9" r="1.4"/>
<circle cx="42.5" cy="414.5" r="1.4"/>
<circle cx="72.7" cy="414.6" r="1.4"/>
<circle cx="47.7" cy="414.3" r="1.4"/>
<circle cx="66.5" cy="405" r="1.4"/>
<circle cx="59.4" cy="405.2" r="1.4"/>
<circle cx="57.5" cy="405.4" r="1.4"/>
<circle cx="66.8" cy="403.9" r="1.4"/>
<circle cx="72.3" cy="403.8" r="1.4"/>
<circle cx="63.1" cy="413.2" r="1.4"/>
<circle cx="43.5" cy="413.9" r="1.4"/>
<circle cx="61.1" cy="411.6" r="1.4"/>
<circle cx="47.8" cy="402.9" r="1.4"/>
<circle cx="67.2" cy="411.3" r="1.4"/>
<circle cx="55.2" cy="406.8" r="1.4"/>
<circle cx="63.2" cy="399.9" r="1.4"/>
<circle cx="55.5" cy="404.8" r="1.4"/>
<circle cx="51.1" cy="406.6" r="1.4"/>
<circle cx="73.5" cy="408.4" r="1.4"/>
<circle cx="77.2" cy="396.5" r="1.4"/>
<circle cx="65.7" cy="405" r="1.4"/>
<circle cx="58.9" cy="411.5" r="1.4"/>
<circle cx="63.5" cy="408.1" r="1.4"/>
<circle cx="42.5" cy="405.8" r="1.4"/>
<circle cx="78.2" cy="408.7" r="1.4"/>
<circle cx="65.7" cy="406.3" r="1.4"/>
<circle cx="57.8" cy="408.1" r="1.4"/>
<circle cx="53.8" cy="407.5" r="1.4"/>
<circle cx="50.8" cy="412.4" r="1.4"/>
<circle cx="49.4" cy="410.2" r="1.4"/>
<circle cx="42.9" cy="400.1" r="1.4"/>
<circle cx="74.2" cy="412" r="1.4"/>
<circle cx="53.9" cy="410.1" r="1.4"/>
<circle cx="76.7" cy="413" r="1.4"/>
<circle cx="59.8" cy="405.9" r="1.4"/>
<circle cx="76" cy="407.3" r="1.4"/>
<circle cx="72.8" cy="408.2" r="1.4"/>
<circle cx="72.1" cy="409.8" r="1.4"/>
<circle cx="77.2" cy="403.2" r="1.4"/>
<circle cx="45" cy="410.2" r="1.4"/>
<circle cx="55.5" cy="415.6" r="1.4"/>
<circle cx="43.9" cy="408.4" r="1.4"/>
<circle cx="43.5" cy="408.7" r="1.4"/>
<circle cx="42.6" cy="403.8" r="1.4"/>
<circle cx="75.6" cy="412.2" r="1.4"/>
<circle cx="64.9" cy="406.9" r="1.4"/>
<circle cx="68.6" cy="404.9" r="1.4"/>
<circle cx="49" cy="404.4" r="1.4"/>
<circle cx="77" cy="411.2" r="1.4"/>
<circle cx="61.1" cy="406" r="1.4"/>
<circle cx="52.9" cy="407.1" r="1.4"/>
<circle cx="60.2" cy="410.8" r="1.4"/>
<circle cx="44.2" cy="411.6" r="1.4"/>
<circle cx="51.3" cy="412.6" r="1.4"/>
<circle cx="48.8" cy="414.5" r="1.4"/>
<circle cx="46.5" cy="411.7" r="1.4"/>
<circle cx="73" cy="410.5" r="1.4"/>
<circle cx="47" cy="410.8" r="1.4"/>
<circle cx="73.7" cy="411.1" r="1.4"/>
<circle cx="57.2" cy="409.2" r="1.4"/>
<circle cx="76" cy="410.9" r="1.4"/>
<circle cx="51.1" cy="412.3" r="1.4"/>
<circle cx="65.3" cy="409.7" r="1.4"/>
<circle cx="75.1" cy="410.7" r="1.4"/>
<circle cx="75.5" cy="405.8" r="1.4"/>
<circle cx="43.8" cy="411.3" r="1.4"/>
<circle cx="71.4" cy="403.4" r="1.4"/>
<circle cx="71.5" cy="406.6" r="1.4"/>
<circle cx="51.7" cy="412" r="1.4"/>
<circle cx="74.6" cy="404.9" r="1.4"/>
<circle cx="50.1" cy="412" r="1.4"/>
<circle cx="64" cy="405" r="1.4"/>
<circle cx="57.6" cy="409.7" r="1.4"/>
<circle cx="47.3" cy="412.9" r="1.4"/>
<circle cx="67.1" cy="410.2" r="1.4"/>
<circle cx="47.8" cy="415.5" r="1.4"/>
<circle cx="74" cy="411.8" r="1.4"/>
<circle cx="57.9" cy="409.4" r="1.4"/>
<circle cx="76.1" cy="405.4" r="1.4"/>
<circle cx="54.5" cy="411.5" r="1.4"/>
<circle cx="46.2" cy="413.1" r="1.4"/>
<circle cx="50.7" cy="405.2" r="1.4"/>
<circle cx="78.2" cy="409.2" r="1.4"/>
<circle cx="59.5" cy="413.8" r="1.4"/>
<circle cx="75.8" cy="408.4" r="1.4"/>
<circle cx="52.6" cy="399.9" r="1.4"/>
<circle cx="73.3" cy="409.1" r="1.4"/>
<circle cx="53.8" cy="405.7" r="1.4"/>
<circle cx="74.4" cy="411.6" r="1.4"/>
<circle cx="53.9" cy="411.7" r="1.4"/>
<circle cx="58.1" cy="403.4" r="1.4"/>
<circle cx="47.4" cy="402" r="1.4"/>
<circle cx="58.1" cy="406.2" r="1.4"/>
<circle cx="61.7" cy="408.2" r="1.4"/>
<circle cx="44.4" cy="404.8" r="1.4"/>
<circle cx="63.8" cy="408.7" r="1.4"/>
<circle cx="63.7" cy="408.6" r="1.4"/>
<circle cx="60.1" cy="400" r="1.4"/>
<circle cx="43.9" cy="407.6" r="1.4"/>
<circle cx="74.7" cy="410.6" r="1.4"/>
<circle cx="54.8" cy="411.9" r="1.4"/>
<circle cx="55.6" cy="410.5" r="1.4"/>
<circle cx="73" cy="408.3" r="1.4"/>
<circle cx="48.1" cy="400.5" r="1.4"/>
<circle cx="64.8" cy="407.3" r="1.4"/>
<circle cx="56.4" cy="413.4" r="1.4"/>
<circle cx="69.9" cy="407" r="1.4"/>
<circle cx="74.5" cy="413.3" r="1.4"/>
<circle cx="69" cy="411.5" r="1.4"/>
<circle cx="73.1" cy="401.4" r="1.4"/>
<circle cx="71.9" cy="406.6" r="1.4"/>
<circle cx="72.5" cy="414.9" r="1.4"/>
<circle cx="49.5" cy="404.8" r="1.4"/>
<circle cx="56.9" cy="407.4" r="1.4"/>
<circle cx="57.2" cy="414.9" r="1.4"/>
<circle cx="58.9" cy="409.9" r="1.4"/>
<circle cx="77.6" cy="400.3" r="1.4"/>
<circle cx="63.1" cy="411.5" r="1.4"/>
<circle cx="47.5" cy="410.9" r="1.4"/>
<circle cx="76.5" cy="412.3" r="1.4"/>
<circle cx="58.3" cy="412.5" r="1.4"/>
<circle cx="74.7" cy="415.4" r="1.4"/>
<circle cx="71.9" cy="407.9" r="1.4"/>
<circle cx="74.8" cy="407.3" r="1.4"/>
<circle cx="76.3" cy="411" r="1.4"/>
<circle cx="68.3" cy="408.4" r="1.4"/>
<circle cx="53.1" cy="411.8" r="1.4"/>
<circle cx="49.2" cy="414.1" r="1.4"/>
<circle cx="67.7" cy="410.4" r="1.4"/>
<circle cx="59.1" cy="412.4" r="1.4"/>
<circle cx="54.3" cy="410.7" r="1.4"/>
<circle cx="61.3" cy="407.4" r="1.4"/>
<circle cx="74.4" cy="405.9" r="1.4"/>
<circle cx="65.3" cy="408.2" r="1.4"/>
<circle cx="66" cy="411.8" r="1.4"/>
<circle cx="52.9" cy="410.4" r="1.4"/>
<circle cx="64.4" cy="413" r="1.4"/>
<circle cx="45.7" cy="409" r="1.4"/>
<circle cx="48.3" cy="409.7" r="1.4"/>
<circle cx="42.9" cy="411.2" r="1.4"/>
<circle cx="59.4" cy="414.2" r="1.4"/>
<circle cx="78.7" cy="410.3" r="1.4"/>
<circle cx="47.4" cy="411.3" r="1.4"/>
<circle cx="53.6" cy="413.9" r="1.4"/>
<circle cx="57.4" cy="411.7" r="1.4"/>
<circle cx="56.8" cy="413.7" r="1.4"/>
<circle cx="63.7" cy="413.6" r="1.4"/>
<circle cx="64.5" cy="415.6" r="1.4"/>
<circle cx="53.9" cy="410.2" r="1.4"/>
<circle cx="75.7" cy="408.6" r="1.4"/>
<circle cx="49.3" cy="411.8" r="1.4"/>
<circle cx="74.2" cy="407.9" r="1.4"/>
<circle cx="66" cy="409.8" r="1.4"/>
<circle cx="58.5" cy="409" r="1.4"/>
<circle cx="42.8" cy="414.3" r="1.4"/>
<circle cx="45.5" cy="406.8" r="1.4"/>
<circle cx="51.7" cy="411.7" r="1.4"/>
<circle cx="48.5" cy="407.3" r="1.4"/>
<circle cx="71.5" cy="410.5" r="1.4"/>
<circle cx="44.6" cy="405.4" r="1.4"/>
<circle cx="76.7" cy="408.8" r="1.4"/>
<circle cx="51.9" cy="406.1" r="1.4"/>
<circle cx="58.1" cy="411.8" r="1.4"/>
<circle cx="43" cy="410.3" r="1.4"/>
<circle cx="48.6" cy="413.3" r="1.4"/>
<circle cx="52.4" cy="407.4" r="1.4"/>
<circle cx="43.9" cy="412.2" r="1.4"/>
<circle cx="58.7" cy="412.1" r="1.4"/>
<circle cx="77.8" cy="409.5" r="1.4"/>
<circle cx="57.6" cy="406.1" r="1.4"/>
<circle cx="59.7" cy="412.4" r="1.4"/>
<circle cx="44.2" cy="412.1" r="1.4"/>
<circle cx="75.3" cy="403.8" r="1.4"/>
<circle cx="66.6" cy="406.5" r="1.4"/>
<circle cx="51.4" cy="410.8" r="1.4"/>
<circle cx="62.7" cy="412.3" r="1.4"/>
<circle cx="55" cy="412.9" r="1.4"/>
<circle cx="54.3" cy="410.4" r="1.4"/>
<circle cx="76.7" cy="407.9" r="1.4"/>
<circle cx="53.8" cy="405.4" r="1.4"/>
<circle cx="47.2" cy="407.1" r="1.4"/>
<circle cx="45" cy="399.5" r="1.4"/>
<circle cx="69.3" cy="402.8" r="1.4"/>
<circle cx="62.2" cy="413.6" r="1.4"/>
<circle cx="68.4" cy="409" r="1.4"/>
<circle cx="57.6" cy="401.6" r="1.4"/>
<circle cx="53.9" cy="411.5" r="1.4"/>
<circle cx="68.3" cy="401.1" r="1.4"/>
<circle cx="61.4" cy="412.4" r="1.4"/>
<circle cx="44.2" cy="408.4" r="1.4"/>
<circle cx="53.2" cy="412.9" r="1.4"/>
<circle cx="49.5" cy="401.7" r="1.4"/>
<circle cx="47.5" cy="407.6" r="1.4"/>
<circle cx="45.5" cy="410.4" r="1.4"/>
<circle cx="62" cy="411.8" r="1.4"/>
<circle cx="73.2" cy="404.6" r="1.4"/>
<circle cx="64.3" cy="408.7" r="1.4"/>
<circle cx="73.3" cy="409.1" r="1.4"/>
<circle cx="77.1" cy="405.8" r="1.4"/>
<circle cx="72.1" cy="408.1" r="1.4"/>
<circle cx="54.4" cy="409.6" r="1.4"/>
<circle cx="52.4" cy="398.5" r="1.4"/>
<circle cx="46.5" cy="412.5" r="1.4"/>
<circle cx="46.8" cy="410.6" r="1.4"/>
<circle cx="48.9" cy="410" r="1.4"/>
<circle cx="58.3" cy="411.7" r="1.4"/>
<circle cx="45.8" cy="409.2" r="1.4"/>
<circle cx="54.2" cy="409.4" r="1.4"/>
<circle cx="76.7" cy="411.4" r="1.4"/>
<circle cx="43.5" cy="399.7" r="1.4"/>
<circle cx="69.6" cy="411.3" r="1.4"/>
<circle cx="54" cy="412.8" r="1.4"/>
<circle cx="47.5" cy="413.5" r="1.4"/>
<circle cx="49.4" cy="407.2" r="1.4"/>
<circle cx="45.5" cy="411.9" r="1.4"/>
<circle cx="51" cy="409.9" r="1.4"/>
<circle cx="58.1" cy="406.8" r="1.4"/>
<circle cx="47.8" cy="401.4" r="1.4"/>
<circle cx="55.8" cy="410" r="1.4"/>
<circle cx="68.3" cy="408.4" r="1.4"/>
<circle cx="66.1" cy="411.5" r="1.4"/>
<circle cx="44.2" cy="406.9" r="1.4"/>
<circle cx="54.5" cy="407.4" r="1.4"/>
<circle cx="59.9" cy="411.2" r="1.4"/>
<circle cx="64.4" cy="407.7" r="1.4"/>
<circle cx="49.9" cy="406.9" r="1.4"/>
<circle cx="67.4" cy="406.4" r="1.4"/>
<circle cx="45.2" cy="404" r="1.4"/>
<circle cx="63.3" cy="406.1" r="1.4"/>
<circle cx="73" cy="403.7" r="1.4"/>
<circle cx="56.7" cy="407.1" r="1.4"/>
<circle cx="57.3" cy="407.4" r="1.4"/>
<circle cx="43.8" cy="409.6" r="1.4"/>
<circle cx="60.2" cy="415.1" r="1.4"/>
<circle cx="74.9" cy="412" r="1.4"/>
<circle cx="47.1" cy="409.9" r="1.4"/>
<circle cx="78.3" cy="409.2" r="1.4"/>
<circle cx="48.5" cy="413.1" r="1.4"/>
<circle cx="43.1" cy="413.4" r="1.4"/>
<circle cx="55.4" cy="413.9" r="1.4"/>
<circle cx="65" cy="409.2" r="1.4"/>
<circle cx="54.3" cy="394.8" r="1.4"/>
<circle cx="71.3" cy="409.5" r="1.4"/>
<circle cx="58.2" cy="409" r="1.4"/>
<circle cx="45.6" cy="402.6" r="1.4"/>
<circle cx="59.4" cy="404.9" r="1.4"/>
<circle cx="53.2" cy="405.4" r="1.4"/>
<circle cx="58" cy="412.4" r="1.4"/>
<circle cx="57.4" cy="405.9" r="1.4"/>
<circle cx="48.4" cy="407.6" r="1.4"/>
<circle cx="47.8" cy="409.1" r="1.4"/>
<circle cx="70.8" cy="410.9" r="1.4"/>
<circle cx="44.6" cy="412.6" r="1.4"/>
<circle cx="64" cy="411" r="1.4"/>
<circle cx="56.7" cy="407.4" r="1.4"/>
<circle cx="53.8" cy="405.4" r="1.4"/>
<circle cx="73.3" cy="411.1" r="1.4"/>
<circle cx="43.2" cy="406.2" r="1.4"/>
<circle cx="46.5" cy="410.4" r="1.4"/>
<circle cx="51.1" cy="410.4" r="1.4"/>
<circle cx="69.5" cy="410.4" r="1.4"/>
<circle cx="62.9" cy="404.5" r="1.4"/>
<circle cx="69.6" cy="406.8" r="1.4"/>
<circle cx="75.7" cy="401.3" r="1.4"/>
<circle cx="42.8" cy="406.4" r="1.4"/>
<circle cx="46" cy="413.1" r="1.4"/>
<circle cx="56.9" cy="409.1" r="1.4"/>
<circle cx="60.2" cy="413" r="1.4"/>
<circle cx="48.1" cy="412" r="1.4"/>
<circle cx="60.8" cy="402.6" r="1.4"/>
<circle cx="69.1" cy="411.9" r="1.4"/>
<circle cx="70.6" cy="409.6" r="1.4"/>
<circle cx="70.3" cy="404.9" r="1.4"/>
<circle cx="72.6" cy="408.1" r="1.4"/>
<circle cx="75.6" cy="411.3" r="1.4"/>
<circle cx="52.4" cy="409.3" r="1.4"/>
<circle cx="65.2" cy="413.4" r="1.4"/>
<circle cx="75.9" cy="410.8" r="1.4"/>
<circle cx="68.8" cy="406.8" r="1.4"/>
<circle cx="65.3" cy="407.9" r="1.4"/>
<circle cx="58.8" cy="412.4" r="1.4"/>
<circle cx="75" cy="406.2" r="1.4"/>
<circle cx="44.3" cy="406.1" r="1.4"/>
<circle cx="54.2" cy="400.8" r="1.4"/>
<circle cx="65.5" cy="409.5" r="1.4"/>
<circle cx="75.3" cy="410.7" r="1.4"/>
<circle cx="58.3" cy="412.8" r="1.4"/>
<circle cx="44.3" cy="411.2" r="1.4"/>
<circle cx="60.6" cy="408.6" r="1.4"/>
<circle cx="59.1" cy="414.5" r="1.4"/>
<circle cx="51.4" cy="410.2" r="1.4"/>
<circle cx="46.5" cy="407.9" r="1.4"/>
<circle cx="42.7" cy="410.2" r="1.4"/>
<circle cx="74.8" cy="404.3" r="1.4"/>
<circle cx="47.7" cy="402.3" r="1.4"/>
<circle cx="47" cy="413.6" r="1.4"/>
<circle cx="44.5" cy="411.4" r="1.4"/>
<circle cx="55.1" cy="406.2" r="1.4"/>
<circle cx="51.2" cy="413.6" r="1.4"/>
<circle cx="70.9" cy="411.4" r="1.4"/>
<circle cx="58" cy="407.6" r="1.4"/>
<circle cx="51.9" cy="412.9" r="1.4"/>
<circle cx="61.8" cy="413.6" r="1.4"/>
<circle cx="62.8" cy="411" r="1.4"/>
<circle cx="45" cy="410" r="1.4"/>
<circle cx="51.3" cy="405.3" r="1.4"/>
<circle cx="73.4" cy="411.4" r="1.4"/>
<circle cx="57.3" cy="407.6" r="1.4"/>
<circle cx="46.4" cy="404.3" r="1.4"/>
<circle cx="69.4" cy="411.7" r="1.4"/>
<circle cx="73.1" cy="408.5" r="1.4"/>
<circle cx="78" cy="411.3" r="1.4"/>
<circle cx="68.9" cy="402" r="1.4"/>
<circle cx="49.1" cy="410.7" r="1.4"/>
<circle cx="49.5" cy="405.2" r="1.4"/>
<circle cx="62.7" cy="407.8" r="1.4"/>
<circle cx="55.7" cy="410" r="1.4"/>
<circle cx="76.2" cy="402.6" r="1.4"/>
<circle cx="73.4" cy="415.1" r="1.4"/>
<circle cx="45.8" cy="413" r="1.4"/>
<circle cx="49.1" cy="412" r="1.4"/>
<circle cx="47.9" cy="412.2" r="1.4"/>
<circle cx="76.2" cy="413.4" r="1.4"/>
<circle cx="71.9" cy="413.4" r="1.4"/>
<circle cx="62.6" cy="402.2" r="1.4"/>
<circle cx="60.5" cy="405.2" r="1.4"/>
<circle cx="75" cy="405.2" r="1.4"/>
<circle cx="75.5" cy="399.8" r="1.4"/>
<circle cx="58.1" cy="405.6" r="1.4"/>
<circle cx="62.6" cy="415.2" r="1.4"/>
<circle cx="43.8" cy="411.1" r="1.4"/>
<circle cx="64.5" cy="409.1" r="1.4"/>
<circle cx="73" cy="410.9" r="1.4"/>
<circle cx="57.6" cy="414.4" r="1.4"/>
<circle cx="46" cy="410.9" r="1.4"/>
</g>
<g fill="#FFA500" fill-opacity="0.75">
<circle cx="85.3" cy="412.1" r="1.4"/>
<circle cx="99.9" cy="412.8" r="1.4"/>
<circle cx="87.1" cy="411.7" r="1.4"/>
<circle cx="88.4" cy="415.6" r="1.4"/>
<circle cx="115" cy="413.4" r="1.4"/>
<circle cx="88.9" cy="410.4" r="1.4"/>
<circle cx="104.4" cy="411" r="1.4"/>
<circle cx="90.9" cy="415" r="1.4"/>
<circle cx="95.1" cy="414.9" r="1.4"/>
<circle cx="120.1" cy="413" r="1.4"/>
<circle cx="108.7" cy="402.1" r="1.4"/>
<circle cx="86.5" cy="412.8" r="1.4"/>
<circle cx="99.4" cy="415.5" r="1.4"/>
<circle cx="107.7" cy="415.8" r="1.4"/>
<circle cx="96" cy="411.1" r="1.4"/>
<circle cx="103.6" cy="413.4" r="1.4"/>
<circle cx="99.6" cy="413.2" r="1.4"/>
<circle cx="112.9" cy="414.7" r="1.4"/>
<circle cx="111.6" cy="406" r="1.4"/>
<circle cx="103.6" cy="415.7" r="1.4"/>
<circle cx="99.8" cy="401.1" r="1.4"/>
<circle cx="99.8" cy="409.3" r="1.4"/>
<circle cx="113.5" cy="413.4" r="1.4"/>
<circle cx="87.1" cy="414.3" r="1.4"/>
<circle cx="115.1" cy="406.8" r="1.4"/>
<circle cx="102.3" cy="411.4" r="1.4"/>
<circle cx="94.7" cy="415.1" r="1.4"/>
<circle cx="105.7" cy="412.7" r="1.4"/>
<circle cx="109.8" cy="406.5" r="1.4"/>
<circle cx="119.3" cy="413.6" r="1.4"/>
<circle cx="86.6" cy="412.1" r="1.4"/>
<circle cx="105.4" cy="415.2" r="1.4"/>
<circle cx="114.8" cy="412.7" r="1.4"/>
<circle cx="86.5" cy="410.5" r="1.4"/>
<circle cx="104.6" cy="415.5" r="1.4"/>
<circle cx="90" cy="414.6" r="1.4"/>
<circle cx="103.9" cy="415.2" r="1.4"/>
<circle cx="107.1" cy="411.6" r="1.4"/>
<circle cx="117.3" cy="411.9" r="1.4"/>
<circle cx="89.6" cy="410.6" r="1.4"/>
<circle cx="92.5" cy="410.8" r="1.4"/>
<circle cx="116.8" cy="411.3" r="1.4"/>
<circle cx="121.1" cy="409.6" r="1.4"/>
<circle cx="114.3" cy="410.6" r="1.4"/>
<circle cx="101.9" cy="410.8" r="1.4"/>
<circle cx="96.1" cy="409.2" r="1.4"/>
<circle cx="94.7" cy="411.2" r="1.4"/>
<circle cx="95.9" cy="407.6" r="1.4"/>
<circle cx="90.4" cy="410.3" r="1.4"/>
<circle cx="100.5" cy="411.4" r="1.4"/>
<circle cx="88.4" cy="414" r="1.4"/>
<circle cx="91.6" cy="413.8" r="1.4"/>
<circle cx="91.9" cy="414.4" r="1.4"/>
<circle cx="111.9" cy="415.7" r="1.4"/>
<circle cx="120.2" cy="414.5" r="1.4"/>
<circle cx="106.4" cy="414.3" r="1.4"/>
<circle cx="94.9" cy="400.9" r="1.4"/>
<circle cx="111.3" cy="415.7" r="1.4"/>
<circle cx="90.9" cy="411" r="1.4"/>
<circle cx="119.2" cy="409.6" r="1.4"/>
<circle cx="108.1" cy="414.9" r="1.4"/>
<circle cx="90.2" cy="409.3" r="1.4"/>
<circle cx="87.7" cy="414.1" r="1.4"/>
<circle cx="121" cy="415.6" r="1.4"/>
<circle cx="119.1" cy="409.2" r="1.4"/>
<circle cx="97.2" cy="413.6" r="1.4"/>
<circle cx="113.4" cy="412.3" r="1.4"/>
<circle cx="108.2" cy="411.3" r="1.4"/>
<circle cx="115.1" cy="411.5" r="1.4"/>
<circle cx="98.2" cy="415.8" r="1.4"/>
<circle cx="107.9" cy="414.6" r="1.4"/>
<circle cx="91.9" cy="414.1" r="1.4"/>
<circle cx="119.5" cy="412.6" r="1.4"/>
<circle cx="97.6" cy="410.7" r="1.4"/>
<circle cx="107.7" cy="413.3" r="1.4"/>
<circle cx="102" cy="405.4" r="1.4"/>
<circle cx="110.9" cy="412.5" r="1.4"/>
<circle cx="117.7" cy="414.3" r="1.4"/>
<circle cx="94.9" cy="409.6" r="1.4"/>
<circle cx="87.1" cy="413.5" r="1.4"/>
<circle cx="119.2" cy="415.6" r="1.4"/>
<circle cx="96.2" cy="411" r="1.4"/>
<circle cx="118.1" cy="409.8" r="1.4"/>
<circle cx="96.2" cy="412.6" r="1.4"/>
<circle cx="111.7" cy="412.2" r="1.4"/>
<circle cx="90.9" cy="412.8" r="1.4"/>
<circle cx="112.3" cy="414.8" r="1.4"/>
<circle cx="114.7" cy="411.4" r="1.4"/>
<circle cx="96.4" cy="404.9" r="1.4"/>
<circle cx="95.8" cy="410.8" r="1.4"/>
<circle cx="102.5" cy="415.6" r="1.4"/>
<circle cx="88.7" cy="401.3" r="1.4"/>
<circle cx="111" cy="414.5" r="1.4"/>
<circle cx="86.7" cy="409.3" r="1.4"/>
<circle cx="102.3" cy="412.4" r="1.4"/>
<circle cx="91.2" cy="415.6" r="1.4"/>
<circle cx="101.2" cy="398.2" r="1.4"/>
<circle cx="103.9" cy="415.8" r="1.4"/>
<circle cx="110.6" cy="413.2" r="1.4"/>
<circle cx="115.4" cy="415.2" r="1.4"/>
<circle cx="109.6" cy="413.5" r="1.4"/>
<circle cx="91.6" cy="414.1" r="1.4"/>
<circle cx="97.4" cy="410.9" r="1.4"/>
<circle cx="110.6" cy="415.3" r="1.4"/>
<circle cx="114.8" cy="412.7" r="1.4"/>
<circle cx="107.2" cy="408.8" r="1.4"/>
<circle cx="105.9" cy="412.6" r="1.4"/>
<circle cx="85.5" cy="410.7" r="1.4"/>
<circle cx="85.7" cy="412.3" r="1.4"/>
<circle cx="93.7" cy="414.6" r="1.4"/>
<circle cx="100.6" cy="415.2" r="1.4"/>
<circle cx="93.1" cy="414.3" r="1.4"/>
<circle cx="104.2" cy="409.6" r="1.4"/>
<circle cx="116.8" cy="415.2" r="1.4"/>
<circle cx="109.1" cy="415" r="1.4"/>
<circle cx="119" cy="412.9" r="1.4"/>
<circle cx="88.7" cy="414.3" r="1.4"/>
<circle cx="106.2" cy="415" r="1.4"/>
<circle cx="97.1" cy="409.3" r="1.4"/>
<circle cx="102.8" cy="415.3" r="1.4"/>
<circle cx="99.9" cy="407.4" r="1.4"/>
<circle cx="97.4" cy="399.9" r="1.4"/>
<circle cx="112.1" cy="412.7" r="1.4"/>
<circle cx="100.2" cy="412.9" r="1.4"/>
<circle cx="106.8" cy="412.2" r="1.4"/>
<circle cx="107.4" cy="411.1" r="1.4"/>
<circle cx="88" cy="413.1" r="1.4"/>
<circle cx="98.7" cy="414.6" r="1.4"/>
<circle cx="106.8" cy="414.8" r="1.4"/>
<circle cx="86.8" cy="410.7" r="1.4"/>
<circle cx="112.4" cy="409.9" r="1.4"/>
<circle cx="91.7" cy="412.3" r="1.4"/>
<circle cx="87.7" cy="409.8" r="1.4"/>
<circle cx="100.7" cy="413.8" r="1.4"/>
<circle cx="95.9" cy="411.1" r="1.4"/>
<circle cx="101.1" cy="415.5" r="1.4"/>
<circle cx="104.5" cy="413.5" r="1.4"/>
<circle cx="102.6" cy="410.6" r="1.4"/>
<circle cx="103.1" cy="414.1" r="1.4"/>
<circle cx="121.3" cy="412.3" r="1.4"/>
<circle cx="102.6" cy="407.9" r="1.4"/>
<circle cx="102" cy="402.6" r="1.4"/>
<circle cx="100.7" cy="414" r="1.4"/>
<circle cx="114.4" cy="414.6" r="1.4"/>
<circle cx="112.6" cy="414.5" r="1.4"/>
<circle cx="97.7" cy="412.7" r="1.4"/>
<circle cx="103" cy="412.7" r="1.4"/>
<circle cx="119.9" cy="413.6" r="1.4"/>
<circle cx="88.9" cy="415.2" r="1.4"/>
<circle cx="119.5" cy="412.6" r="1.4"/>
<circle cx="104.4" cy="415.3" r="1.4"/>
<circle cx="87.4" cy="414.1" r="1.4"/>
<circle cx="100.1" cy="409.7" r="1.4"/>
<circle cx="94.5" cy="414.6" r="1.4"/>
<circle cx="119.9" cy="412.9" r="1.4"/>
<circle cx="99.9" cy="409.1" r="1.4"/>
<circle cx="98" cy="413.7" r="1.4"/>
<circle cx="109" cy="411.8" r="1.4"/>
<circle cx="117.5" cy="415.2" r="1.4"/>
<circle cx="100.7" cy="414.4" r="1.4"/>
<circle cx="115.7" cy="413.4" r="1.4"/>
<circle cx="91.3" cy="408.7" r="1.4"/>
<circle cx="117.9" cy="415.7" r="1.4"/>
<circle cx="88.7" cy="414.8" r="1.4"/>
<circle cx="109.6" cy="405.8" r="1.4"/>
<circle cx="100.3" cy="414" r="1.4"/>
<circle cx="113.6" cy="413.6" r="1.4"/>
<circle cx="97.4" cy="413.7" r="1.4"/>
<circle cx="118.3" cy="407.3" r="1.4"/>
<circle cx="116.2" cy="414.5" r="1.4"/>
<circle cx="116.9" cy="414.6" r="1.4"/>
<circle cx="94.1" cy="409.4" r="1.4"/>
<circle cx="111" cy="415.7" r="1.4"/>
<circle cx="119.7" cy="410.3" r="1.4"/>
<circle cx="97.4" cy="415.5" r="1.4"/>
<circle cx="112.5" cy="415" r="1.4"/>
<circle cx="95.7" cy="415" r="1.4"/>
<circle cx="90.4" cy="415.4" r="1.4"/>
<circle cx="114.1" cy="411.5" r="1.4"/>
<circle cx="103.3" cy="414.9" r="1.4"/>
<circle cx="112.4" cy="413" r="1.4"/>
<circle cx="104.9" cy="413.9" r="1.4"/>
<circle cx="102.9" cy="415.8" r="1.4"/>
<circle cx="120.5" cy="409.5" r="1.4"/>
<circle cx="87.8" cy="414.4" r="1.4"/>
<circle cx="106" cy="414.3" r="1.4"/>
<circle cx="99.9" cy="403.7" r="1.4"/>
<circle cx="115.3" cy="413.3" r="1.4"/>
<circle cx="117.2" cy="413.3" r="1.4"/>
<circle cx="107" cy="413.4" r="1.4"/>
<circle cx="106.6" cy="409.4" r="1.4"/>
<circle cx="104.9" cy="414.9" r="1.4"/>
<circle cx="104.7" cy="411.2" r="1.4"/>
<circle cx="89.3" cy="409.9" r="1.4"/>
<circle cx="98.6" cy="410.4" r="1.4"/>
<circle cx="94.4" cy="413" r="1.4"/>
<circle cx="106.3" cy="407.7" r="1.4"/>
<circle cx="103" cy="414.7" r="1.4"/>
<circle cx="103.2" cy="411.3" r="1.4"/>
<circle cx="113.7" cy="414.3" r="1.4"/>
<circle cx="98.9" cy="414.8" r="1.4"/>
<circle cx="115.1" cy="414.3" r="1.4"/>
<circle cx="94.2" cy="414.8" r="1.4"/>
<circle cx="116.3" cy="409.1" r="1.4"/>
<circle cx="115.1" cy="413.7" r="1.4"/>
<circle cx="103.1" cy="407.2" r="1.4"/>
<circle cx="99.8" cy="412.6" r="1.4"/>
<circle cx="109.1" cy="407.1" r="1.4"/>
<circle cx="112.8" cy="415.2" r="1.4"/>
<circle cx="86.8" cy="412.6" r="1.4"/>
<circle cx="107.4" cy="409.3" r="1.4"/>
<circle cx="85.9" cy="414.2" r="1.4"/>
<circle cx="101.3" cy="410.2" r="1.4"/>
<circle cx="114.3" cy="397.2" r="1.4"/>
<circle cx="100" cy="414.6" r="1.4"/>
<circle cx="108.3" cy="402.9" r="1.4"/>
<circle cx="108.2" cy="409.7" r="1.4"/>
<circle cx="114.4" cy="410.6" r="1.4"/>
<circle cx="108.6" cy="415.4" r="1.4"/>
<circle cx="117.7" cy="403.9" r="1.4"/>
<circle cx="102.2" cy="412" r="1.4"/>
<circle cx="120.5" cy="414" r="1.4"/>
<circle cx="114.1" cy="414.5" r="1.4"/>
<circle cx="113.2" cy="404.7" r="1.4"/>
<circle cx="90.5" cy="413.3" r="1.4"/>
<circle cx="90.8" cy="413.2" r="1.4"/>
<circle cx="110.7" cy="414.3" r="1.4"/>
<circle cx="92.5" cy="389.2" r="1.4"/>
<circle cx="112.5" cy="414.4" r="1.4"/>
<circle cx="107" cy="409.1" r="1.4"/>
<circle cx="89.6" cy="410.4" r="1.4"/>
<circle cx="102.4" cy="414.8" r="1.4"/>
<circle cx="85.6" cy="413.1" r="1.4"/>
<circle cx="104.3" cy="405.2" r="1.4"/>
<circle cx="101" cy="414.6" r="1.4"/>
<circle cx="111.4" cy="404.7" r="1.4"/>
<circle cx="119" cy="412.8" r="1.4"/>
<circle cx="110.3" cy="415.4" r="1.4"/>
<circle cx="92.5" cy="413.8" r="1.4"/>
<circle cx="100.2" cy="410.9" r="1.4"/>
<circle cx="113.2" cy="415.4" r="1.4"/>
<circle cx="100.7" cy="414.7" r="1.4"/>
<circle cx="94.9" cy="413.7" r="1.4"/>
<circle cx="97" cy="407.8" r="1.4"/>
<circle cx="87.4" cy="405" r="1.4"/>
<circle cx="100.3" cy="415.1" r="1.4"/>
<circle cx="86" cy="410.9" r="1.4"/>
<circle cx="118.3" cy="402" r="1.4"/>
<circle cx="96.9" cy="415.7" r="1.4"/>
<circle cx="94.8" cy="411.6" r="1.4"/>
<circle cx="89.5" cy="414.7" r="1.4"/>
<circle cx="87.5" cy="411.5" r="1.4"/>
<circle cx="91.3" cy="412.1" r="1.4"/>
<circle cx="119.8" cy="413.2" r="1.4"/>
<circle cx="102.5" cy="412.4" r="1.4"/>
<circle cx="95" cy="415.6" r="1.4"/>
<circle cx="89.4" cy="407.5" r="1.4"/>
<circle cx="99.7" cy="415.8" r="1.4"/>
<circle cx="117.5" cy="414.8" r="1.4"/>
<circle cx="89.6" cy="410.4" r="1.4"/>
<circle cx="112.1" cy="412" r="1.4"/>
<circle cx="109.2" cy="415.2" r="1.4"/>
<circle cx="87.1" cy="411.9" r="1.4"/>
<circle cx="115.3" cy="414.9" r="1.4"/>
<circle cx="104.5" cy="413.4" r="1.4"/>
<circle cx="96.5" cy="390.2" r="1.4"/>
<circle cx="102.3" cy="410.8" r="1.4"/>
<circle cx="94.7" cy="411.6" r="1.4"/>
<circle cx="119.8" cy="411.4" r="1.4"/>
<circle cx="96" cy="401.4" r="1.4"/>
<circle cx="109.2" cy="415.4" r="1.4"/>
<circle cx="90.3" cy="411.2" r="1.4"/>
<circle cx="116.6" cy="410.4" r="1.4"/>
<circle cx="110.8" cy="413.4" r="1.4"/>
<circle cx="95.5" cy="412.3" r="1.4"/>
<circle cx="119.5" cy="411.5" r="1.4"/>
<circle cx="100.3" cy="415" r="1.4"/>
<circle cx="99.5" cy="415.2" r="1.4"/>
<circle cx="107.2" cy="405.2" r="1.4"/>
<circle cx="108.2" cy="414.4" r="1.4"/>
<circle cx="106.9" cy="410.1" r="1.4"/>
<circle cx="107.8" cy="414.5" r="1.4"/>
<circle cx="118.1" cy="410.2" r="1.4"/>
<circle cx="87.2" cy="415.7" r="1.4"/>
<circle cx="100.3" cy="408.9" r="1.4"/>
<circle cx="104.2" cy="404.5" r="1.4"/>
<circle cx="101.3" cy="414.5" r="1.4"/>
<circle cx="101.8" cy="403.9" r="1.4"/>
<circle cx="89" cy="398" r="1.4"/>
<circle cx="92" cy="413.4" r="1.4"/>
<circle cx="98" cy="415.8" r="1.4"/>
<circle cx="91.7" cy="412.5" r="1.4"/>
<circle cx="94" cy="413.2" r="1.4"/>
<circle cx="117.2" cy="413.3" r="1.4"/>
<circle cx="100.8" cy="413.1" r="1.4"/>
<circle cx="114.6" cy="409.9" r="1.4"/>
<circle cx="108" cy="412.8" r="1.4"/>
<circle cx="90.1" cy="412.2" r="1.4"/>
<circle cx="92.9" cy="413.4" r="1.4"/>
<circle cx="103.4" cy="410.8" r="1.4"/>
<circle cx="108.9" cy="414.9" r="1.4"/>
<circle cx="86" cy="412.2" r="1.4"/>
<circle cx="90.4" cy="414.6" r="1.4"/>
<circle cx="87.9" cy="414.8" r="1.4"/>
<circle cx="104.4" cy="411.9" r="1.4"/>
<circle cx="92.3" cy="414.7" r="1.4"/>
<circle cx="102.2" cy="413" r="1.4"/>
<circle cx="109.9" cy="410.6" r="1.4"/>
<circle cx="114.3" cy="413.7" r="1.4"/>
<circle cx="87.2" cy="412.1" r="1.4"/>
<circle cx="107.3" cy="402.8" r="1.4"/>
<circle cx="110.2" cy="413.3" r="1.4"/>
<circle cx="104.4" cy="398.1" r="1.4"/>
<circle cx="113.4" cy="410.3" r="1.4"/>
<circle cx="107.4" cy="406.8" r="1.4"/>
<circle cx="106.7" cy="415.2" r="1.4"/>
<circle cx="115.6" cy="408.1" r="1.4"/>
<circle cx="105.6" cy="413.6" r="1.4"/>
<circle cx="91.1" cy="414.3" r="1.4"/>
<circle cx="108.8" cy="414.5" r="1.4"/>
<circle cx="116.3" cy="400.2" r="1.4"/>
<circle cx="120.1" cy="403.4" r="1.4"/>
<circle cx="113.1" cy="403.2" r="1.4"/>
<circle cx="86.6" cy="414.9" r="1.4"/>
<circle cx="102.2" cy="413.6" r="1.4"/>
<circle cx="112" cy="402.2" r="1.4"/>
<circle cx="87.7" cy="410.9" r="1.4"/>
<circle cx="115.6" cy="414.2" r="1.4"/>
<circle cx="87.6" cy="411.9" r="1.4"/>
<circle cx="109.3" cy="412.2" r="1.4"/>
<circle cx="120.5" cy="410.4" r="1.4"/>
<circle cx="97.7" cy="411.9" r="1.4"/>
<circle cx="86" cy="413.3" r="1.4"/>
<circle cx="101.8" cy="414" r="1.4"/>
<circle cx="111.6" cy="410.5" r="1.4"/>
<circle cx="108.8" cy="415.4" r="1.4"/>
<circle cx="114.5" cy="415.2" r="1.4"/>
<circle cx="93.6" cy="413.8" r="1.4"/>
<circle cx="111.4" cy="407.5" r="1.4"/>
<circle cx="114.4" cy="414.3" r="1.4"/>
<circle cx="112.9" cy="410" r="1.4"/>
<circle cx="98.3" cy="411.5" r="1.4"/>
<circle cx="86.3" cy="404.8" r="1.4"/>
<circle cx="89.5" cy="413.3" r="1.4"/>
<circle cx="116.1" cy="415.5" r="1.4"/>
<circle cx="88" cy="414.8" r="1.4"/>
<circle cx="91.7" cy="413.6" r="1.4"/>
<circle cx="118.3" cy="415.5" r="1.4"/>
<circle cx="91.2" cy="413.7" r="1.4"/>
<circle cx="87" cy="415.2" r="1.4"/>
<circle cx="116.9" cy="413.6" r="1.4"/>
<circle cx="102.6" cy="415.9" r="1.4"/>
<circle cx="108.9" cy="414.3" r="1.4"/>
<circle cx="92.1" cy="414" r="1.4"/>
<circle cx="119.8" cy="412.6" r="1.4"/>
<circle cx="105.8" cy="410.7" r="1.4"/>
<circle cx="86.6" cy="414.8" r="1.4"/>
<circle cx="98.9" cy="412" r="1.4"/>
<circle cx="109.1" cy="415.8" r="1.4"/>
<circle cx="112.5" cy="411.2" r="1.4"/>
<circle cx="90.5" cy="410.1" r="1.4"/>
<circle cx="99.5" cy="408.7" r="1.4"/>
<circle cx="98.2" cy="411" r="1.4"/>
<circle cx="85.9" cy="415.4" r="1.4"/>
<circle cx="85.9" cy="403.1" r="1.4"/>
<circle cx="95.5" cy="413.9" r="1.4"/>
<circle cx="97.1" cy="415" r="1.4"/>
<circle cx="117.4" cy="404.5" r="1.4"/>
<circle cx="109.7" cy="413.5" r="1.4"/>
<circle cx="117.1" cy="415.2" r="1.4"/>
<circle cx="102.4" cy="408.6" r="1.4"/>
<circle cx="94.8" cy="414.1" r="1.4"/>
<circle cx="91.4" cy="404.4" r="1.4"/>
<circle cx="86.9" cy="413.7" r="1.4"/>
<circle cx="114.5" cy="411" r="1.4"/>
<circle cx="116.6" cy="411.3" r="1.4"/>
<circle cx="117.1" cy="414.3" r="1.4"/>
<circle cx="97.3" cy="411" r="1.4"/>
<circle cx="119.6" cy="408.1" r="1.4"/>
<circle cx="99.1" cy="411.5" r="1.4"/>
<circle cx="97" cy="415.3" r="1.4"/>
<circle cx="92.5" cy="402.3" r="1.4"/>
<circle cx="85.5" cy="414.8" r="1.4"/>
<circle cx="120.2" cy="415.8" r="1.4"/>
<circle cx="95.7" cy="409.9" r="1.4"/>
<circle cx="100.5" cy="412.2" r="1.4"/>
<circle cx="108.5" cy="413.7" r="1.4"/>
<circle cx="89.8" cy="415.1" r="1.4"/>
<circle cx="86.4" cy="415.1" r="1.4"/>
<circle cx="105.6" cy="412.8" r="1.4"/>
<circle cx="85.6" cy="414.1" r="1.4"/>
<circle cx="109.2" cy="410.7" r="1.4"/>
<circle cx="86" cy="414.5" r="1.4"/>
<circle cx="85.8" cy="413.2" r="1.4"/>
<circle cx="96.1" cy="406.6" r="1.4"/>
<circle cx="89.6" cy="409.3" r="1.4"/>
<circle cx="105.6" cy="413.3" r="1.4"/>
<circle cx="116" cy="413.2" r="1.4"/>
<circle cx="100.9" cy="413.9" r="1.4"/>
<circle cx="96.4" cy="405.4" r="1.4"/>
<circle cx="89.1" cy="412.9" r="1.4"/>
<circle cx="91.4" cy="410.6" r="1.4"/>
<circle cx="106.1" cy="412.3" r="1.4"/>
<circle cx="93.3" cy="410.2" r="1.4"/>
<circle cx="119.5" cy="411.4" r="1.4"/>
<circle cx="113.6" cy="415.3" r="1.4"/>
<circle cx="112.4" cy="413.1" r="1.4"/>
<circle cx="96.9" cy="415" r="1.4"/>
<circle cx="86.6" cy="414.3" r="1.4"/>
<circle cx="114.3" cy="412.9" r="1.4"/>
<circle cx="117.2" cy="409.7" r="1.4"/>
<circle cx="102.2" cy="414.2" r="1.4"/>
<circle cx="86.7" cy="413.4" r="1.4"/>
<circle cx="91.9" cy="415.6" r="1.4"/>
<circle cx="97.6" cy="408.7" r="1.4"/>
<circle cx="115.6" cy="415.1" r="1.4"/>
<circle cx="101.9" cy="412.5" r="1.4"/>
<circle cx="88.6" cy="409.9" r="1.4"/>
<circle cx="97.4" cy="393.8" r="1.4"/>
<circle cx="98" cy="411" r="1.4"/>
<circle cx="103.4" cy="413.5" r="1.4"/>
<circle cx="90.6" cy="401" r="1.4"/>
<circle cx="97.2" cy="413.8" r="1.4"/>
<circle cx="108.3" cy="415.6" r="1.4"/>
<circle cx="106" cy="414.5" r="1.4"/>
<circle cx="104.6" cy="413.5" r="1.4"/>
<circle cx="117.7" cy="411.1" r="1.4"/>
<circle cx="110" cy="408.3" r="1.4"/>
<circle cx="117" cy="410.4" r="1.4"/>
<circle cx="110.7" cy="409.6" r="1.4"/>
<circle cx="104.1" cy="415.4" r="1.4"/>
<circle cx="98.2" cy="409.7" r="1.4"/>
<circle cx="98.6" cy="404" r="1.4"/>
<circle cx="97.8" cy="410.8" r="1.4"/>
<circle cx="106.2" cy="406.2" r="1.4"/>
<circle cx="100.4" cy="411.1" r="1.4"/>
<circle cx="97.1" cy="406.8" r="1.4"/>
<circle cx="116.9" cy="415.1" r="1.4"/>
<circle cx="108.8" cy="414.4" r="1.4"/>
<circle cx="104.9" cy="409.7" r="1.4"/>
<circle cx="114.1" cy="414.7" r="1.4"/>
<circle cx="97" cy="411.4" r="1.4"/>
<circle cx="100.7" cy="414.7" r="1.4"/>
<circle cx="105.1" cy="413" r="1.4"/>
<circle cx="110" cy="401.5" r="1.4"/>
<circle cx="111" cy="415.1" r="1.4"/>
<circle cx="103.1" cy="412.3" r="1.4"/>
<circle cx="104.5" cy="409.4" r="1.4"/>
<circle cx="105.2" cy="412.1" r="1.4"/>
<circle cx="92.8" cy="414.2" r="1.4"/>
<circle cx="87.9" cy="409.8" r="1.4"/>
<circle cx="115.5" cy="414" r="1.4"/>
<circle cx="95.7" cy="412.8" r="1.4"/>
<circle cx="99.8" cy="411.7" r="1.4"/>
<circle cx="107.9" cy="414.1" r="1.4"/>
<circle cx="90.2" cy="412.9" r="1.4"/>
<circle cx="109.2" cy="413.9" r="1.4"/>
<circle cx="108" cy="415" r="1.4"/>
<circle cx="114" cy="406" r="1.4"/>
<circle cx="96.5" cy="410.6" r="1.4"/>
<circle cx="114.9" cy="414.4" r="1.4"/>
<circle cx="114.2" cy="415.7" r="1.4"/>
<circle cx="95.4" cy="413.9" r="1.4"/>
<circle cx="121.1" cy="415.1" r="1.4"/>
<circle cx="95.9" cy="412.2" r="1.4"/>
<circle cx="96.9" cy="415.1" r="1.4"/>
<circle cx="91.1" cy="414.8" r="1.4"/>
<circle cx="114.5" cy="415.9" r="1.4"/>
<circle cx="108" cy="393.3" r="1.4"/>
<circle cx="96.5" cy="413" r="1.4"/>
<circle cx="101.9" cy="413.9" r="1.4"/>
<circle cx="107.6" cy="415.5" r="1.4"/>
<circle cx="99.8" cy="412" r="1.4"/>
<circle cx="105" cy="415.3" r="1.4"/>
<circle cx="109.7" cy="412.1" r="1.4"/>
<circle cx="112.4" cy="411.8" r="1.4"/>
<circle cx="93.6" cy="415" r="1.4"/>
<circle cx="93.6" cy="414.2" r="1.4"/>
<circle cx="85.4" cy="410.1" r="1.4"/>
<circle cx="110.8" cy="414.5" r="1.4"/>
<circle cx="101.2" cy="410.7" r="1.4"/>
<circle cx="97.9" cy="415.5" r="1.4"/>
<circle cx="111.8" cy="405.8" r="1.4"/>
<circle cx="95.7" cy="410.9" r="1.4"/>
<circle cx="85.7" cy="413.2" r="1.4"/>
<circle cx="116" cy="414.5" r="1.4"/>
<circle cx="118.7" cy="412.5" r="1.4"/>
<circle cx="103.2" cy="410" r="1.4"/>
<circle cx="95" cy="406.6" r="1.4"/>
<circle cx="108.7" cy="414" r="1.4"/>
<circle cx="96.7" cy="411.9" r="1.4"/>
<circle cx="112.9" cy="412.4" r="1.4"/>
<circle cx="102.3" cy="412.8" r="1.4"/>
<circle cx="109.6" cy="411.3" r="1.4"/>
<circle cx="108.7" cy="413.8" r="1.4"/>
<circle cx="93.4" cy="414.7" r="1.4"/>
<circle cx="105.3" cy="413.6" r="1.4"/>
<circle cx="120" cy="408.5" r="1.4"/>
<circle cx="108.8" cy="413.7" r="1.4"/>
<circle cx="85.6" cy="409.5" r="1.4"/>
<circle cx="108.7" cy="415.5" r="1.4"/>
<circle cx="88.9" cy="414.7" r="1.4"/>
<circle cx="95.9" cy="414.7" r="1.4"/>
<circle cx="121" cy="415.9" r="1.4"/>
<circle cx="112.2" cy="411.1" r="1.4"/>
<circle cx="120.4" cy="406.9" r="1.4"/>
<circle cx="85.5" cy="413.6" r="1.4"/>
<circle cx="105" cy="413.8" r="1.4"/>
<circle cx="90.8" cy="413.1" r="1.4"/>
<circle cx="113.8" cy="414.9" r="1.4"/>
<circle cx="114" cy="412.4" r="1.4"/>
<circle cx="121.1" cy="414.7" r="1.4"/>
<circle cx="97.2" cy="415.2" r="1.4"/>
<circle cx="115.2" cy="407.3" r="1.4"/>
<circle cx="88" cy="413.9" r="1.4"/>
<circle cx="87.9" cy="413.9" r="1.4"/>
<circle cx="102.5" cy="415.8" r="1.4"/>
<circle cx="86.5" cy="415.9" r="1.4"/>
<circle cx="103" cy="415.1" r="1.4"/>
<circle cx="110.1" cy="412.8" r="1.4"/>
<circle cx="103.8" cy="411.8" r="1.4"/>
<circle cx="86.2" cy="415.4" r="1.4"/>
<circle cx="119.3" cy="415.2" r="1.4"/>
<circle cx="90.5" cy="414.7" r="1.4"/>
<circle cx="89.1" cy="413.3" r="1.4"/>
<circle cx="94.9" cy="410.6" r="1.4"/>
<circle cx="111" cy="409.3" r="1.4"/>
<circle cx="102.1" cy="409.7" r="1.4"/>
<circle cx="104.2" cy="414.1" r="1.4"/>
<circle cx="109.9" cy="414.1" r="1.4"/>
<circle cx="105.1" cy="415.1" r="1.4"/>
<circle cx="98.6" cy="414.6" r="1.4"/>
<circle cx="86.5" cy="414" r="1.4"/>
<circle cx="88.9" cy="411.2" r="1.4"/>
<circle cx="112.3" cy="415.8" r="1.4"/>
<circle cx="119.9" cy="414.2" r="1.4"/>
<circle cx="114.1" cy="414.5" r="1.4"/>
<circle cx="97.5" cy="407.7" r="1.4"/>
<circle cx="94.3" cy="415.2" r="1.4"/>
<circle cx="86.7" cy="411.8" r="1.4"/>
<circle cx="105.1" cy="412.2" r="1.4"/>
<circle cx="121.2" cy="415.5" r="1.4"/>
<circle cx="119.4" cy="414.8" r="1.4"/>
<circle cx="102.6" cy="410.1" r="1.4"/>
<circle cx="116.1" cy="407.6" r="1.4"/>
<circle cx="105.7" cy="411.1" r="1.4"/>
<circle cx="99.1" cy="413.5" r="1.4"/>
<circle cx="92.6" cy="415.1" r="1.4"/>
<circle cx="97.4" cy="415.7" r="1.4"/>
<circle cx="109.5" cy="402" r="1.4"/>
<circle cx="110.9" cy="405" r="1.4"/>
<circle cx="120.5" cy="412.9" r="1.4"/>
<circle cx="117" cy="412.5" r="1.4"/>
<circle cx="106.3" cy="391.2" r="1.4"/>
<circle cx="103" cy="402.8" r="1.4"/>
<circle cx="92.8" cy="414.4" r="1.4"/>
<circle cx="89" cy="409.2" r="1.4"/>
<circle cx="119.6" cy="415.9" r="1.4"/>
<circle cx="112.9" cy="413.6" r="1.4"/>
<circle cx="89.1" cy="404.7" r="1.4"/>
<circle cx="107" cy="412.9" r="1.4"/>
<circle cx="102.2" cy="410.7" r="1.4"/>
<circle cx="98" cy="414.2" r="1.4"/>
<circle cx="89.7" cy="414.1" r="1.4"/>
<circle cx="112.2" cy="413.7" r="1.4"/>
<circle cx="95.7" cy="415.5" r="1.4"/>
<circle cx="118.8" cy="401.3" r="1.4"/>
<circle cx="93.6" cy="414.7" r="1.4"/>
<circle cx="114.1" cy="415.2" r="1.4"/>
<circle cx="119.9" cy="412.2" r="1.4"/>
<circle cx="112.7" cy="414.9" r="1.4"/>
<circle cx="111.5" cy="407.4" r="1.4"/>
<circle cx="94.2" cy="410.3" r="1.4"/>
<circle cx="92" cy="412.9" r="1.4"/>
<circle cx="118.1" cy="408.8" r="1.4"/>
<circle cx="85.7" cy="401.9" r="1.4"/>
<circle cx="92.9" cy="414.3" r="1.4"/>
<circle cx="102.5" cy="411.6" r="1.4"/>
<circle cx="108.3" cy="391.5" r="1.4"/>
<circle cx="97" cy="412.4" r="1.4"/>
<circle cx="102.7" cy="411.8" r="1.4"/>
<circle cx="108.6" cy="415.8" r="1.4"/>
<circle cx="120.2" cy="412.9" r="1.4"/>
<circle cx="121.3" cy="414.2" r="1.4"/>
<circle cx="114.1" cy="415.7" r="1.4"/>
<circle cx="109.8" cy="408.5" r="1.4"/>
<circle cx="103.2" cy="414.2" r="1.4"/>
<circle cx="120.7" cy="414.4" r="1.4"/>
<circle cx="90.4" cy="415.2" r="1.4"/>
<circle cx="103.2" cy="414.2" r="1.4"/>
<circle cx="92.9" cy="410.8" r="1.4"/>
<circle cx="93" cy="411.5" r="1.4"/>
<circle cx="98.3" cy="407.2" r="1.4"/>
<circle cx="95.3" cy="414" r="1.4"/>
<circle cx="106.4" cy="413.6" r="1.4"/>
<circle cx="87.2" cy="402.7" r="1.4"/>
<circle cx="87.9" cy="411.7" r="1.4"/>
<circle cx="109.2" cy="412.8" r="1.4"/>
<circle cx="92.3" cy="410.3" r="1.4"/>
<circle cx="119.3" cy="415.9" r="1.4"/>
<circle cx="107.4" cy="410.1" r="1.4"/>
<circle cx="114" cy="411.4" r="1.4"/>
<circle cx="103.4" cy="408" r="1.4"/>
<circle cx="103.8" cy="407.4" r="1.4"/>
<circle cx="105.9" cy="408.6" r="1.4"/>
<circle cx="86.8" cy="406.3" r="1.4"/>
<circle cx="111.2" cy="415.5" r="1.4"/>
<circle cx="88.4" cy="413" r="1.4"/>
<circle cx="89.9" cy="415.7" r="1.4"/>
<circle cx="93.2" cy="411.4" r="1.4"/>
<circle cx="116.2" cy="401" r="1.4"/>
<circle cx="91.1" cy="413.8" r="1.4"/>
<circle cx="107.5" cy="405.3" r="1.4"/>
<circle cx="89.3" cy="415.1" r="1.4"/>
<circle cx="109.1" cy="400.9" r="1.4"/>
<circle cx="99.5" cy="411.3" r="1.4"/>
<circle cx="108" cy="414.3" r="1.4"/>
<circle cx="99.2" cy="414.4" r="1.4"/>
<circle cx="120.8" cy="414.5" r="1.4"/>
<circle cx="97.6" cy="410.2" r="1.4"/>
<circle cx="105.2" cy="411" r="1.4"/>
<circle cx="108.7" cy="410.3" r="1.4"/>
<circle cx="90" cy="409.9" r="1.4"/>
<circle cx="117.1" cy="408.2" r="1.4"/>
<circle cx="98.1" cy="410" r="1.4"/>
<circle cx="113.9" cy="414.7" r="1.4"/>
<circle cx="86.5" cy="411.2" r="1.4"/>
<circle cx="97.2" cy="412.1" r="1.4"/>
<circle cx="119.6" cy="414.7" r="1.4"/>
<circle cx="106.1" cy="412.3" r="1.4"/>
<circle cx="102.1" cy="410.3" r="1.4"/>
<circle cx="85.8" cy="415" r="1.4"/>
<circle cx="110.4" cy="415.4" r="1.4"/>
<circle cx="91.4" cy="414.8" r="1.4"/>
<circle cx="86.2" cy="414.2" r="1.4"/>
<circle cx="114.1" cy="415.8" r="1.4"/>
<circle cx="101.8" cy="412.2" r="1.4"/>
<circle cx="96.1" cy="412" r="1.4"/>
<circle cx="94.9" cy="407" r="1.4"/>
<circle cx="89.8" cy="412.7" r="1.4"/>
<circle cx="106.8" cy="414.3" r="1.4"/>
<circle cx="114.3" cy="413.5" r="1.4"/>
<circle cx="95.1" cy="410.3" r="1.4"/>
<circle cx="95.7" cy="410.4" r="1.4"/>
<circle cx="90.2" cy="415.4" r="1.4"/>
<circle cx="94.1" cy="412.4" r="1.4"/>
<circle cx="112.2" cy="411.5" r="1.4"/>
<circle cx="111.6" cy="411.4" r="1.4"/>
<circle cx="96.9" cy="408.3" r="1.4"/>
<circle cx="118.6" cy="412.7" r="1.4"/>
<circle cx="112.5" cy="412.7" r="1.4"/>
<circle cx="111" cy="409.8" r="1.4"/>
<circle cx="85.6" cy="409.8" r="1.4"/>
<circle cx="97" cy="415.3" r="1.4"/>
<circle cx="110.3" cy="412.2" r="1.4"/>
<circle cx="98.2" cy="408.2" r="1.4"/>
<circle cx="85.8" cy="415.8" r="1.4"/>
<circle cx="94" cy="415.3" r="1.4"/>
<circle cx="111.8" cy="411" r="1.4"/>
<circle cx="99.6" cy="414.9" r="1.4"/>
<circle cx="94.4" cy="414.5" r="1.4"/>
<circle cx="115" cy="415.5" r="1.4"/>
<circle cx="100.2" cy="414.7" r="1.4"/>
<circle cx="86.5" cy="415.2" r="1.4"/>
<circle cx="106.1" cy="408" r="1.4"/>
<circle cx="96.9" cy="414.6" r="1.4"/>
<circle cx="88" cy="415.3" r="1.4"/>
<circle cx="104.9" cy="415.3" r="1.4"/>
<circle cx="98.9" cy="414.3" r="1.4"/>
<circle cx="89.7" cy="412.7" r="1.4"/>
<circle cx="100.2" cy="410.4" r="1.4"/>
<circle cx="89.1" cy="411.6" r="1.4"/>
<circle cx="112.1" cy="412.3" r="1.4"/>
<circle cx="97.7" cy="412.3" r="1.4"/>
<circle cx="94.7" cy="414.4" r="1.4"/>
<circle cx="90.4" cy="413.6" r="1.4"/>
<circle cx="100.1" cy="415.5" r="1.4"/>
<circle cx="103" cy="404.3" r="1.4"/>
<circle cx="101.7" cy="410.8" r="1.4"/>
<circle cx="101.4" cy="415.7" r="1.4"/>
<circle cx="87.7" cy="415.6" r="1.4"/>
<circle cx="119.7" cy="415.1" r="1.4"/>
<circle cx="88.2" cy="414.3" r="1.4"/>
<circle cx="105.6" cy="411.2" r="1.4"/>
<circle cx="88" cy="409.5" r="1.4"/>
<circle cx="95.7" cy="412.8" r="1.4"/>
<circle cx="85.7" cy="407.7" r="1.4"/>
<circle cx="117.2" cy="414.1" r="1.4"/>
<circle cx="99.5" cy="414.6" r="1.4"/>
<circle cx="105.7" cy="414.6" r="1.4"/>
<circle cx="87.6" cy="408.9" r="1.4"/>
<circle cx="109.2" cy="415.8" r="1.4"/>
<circle cx="120.6" cy="414.2" r="1.4"/>
<circle cx="97.4" cy="409" r="1.4"/>
<circle cx="103.1" cy="414.6" r="1.4"/>
<circle cx="105.8" cy="413.5" r="1.4"/>
<circle cx="96.3" cy="413.2" r="1.4"/>
<circle cx="113.3" cy="409.5" r="1.4"/>
<circle cx="96" cy="412.5" r="1.4"/>
<circle cx="96" cy="408" r="1.4"/>
<circle cx="110.8" cy="414.4" r="1.4"/>
<circle cx="102.9" cy="407.7" r="1.4"/>
<circle cx="96.2" cy="415.8" r="1.4"/>
<circle cx="98" cy="415.3" r="1.4"/>
<circle cx="99.8" cy="409" r="1.4"/>
<circle cx="86.2" cy="411.2" r="1.4"/>
<circle cx="104.5" cy="412.6" r="1.4"/>
<circle cx="103.2" cy="415.5" r="1.4"/>
<circle cx="120.2" cy="409.2" r="1.4"/>
<circle cx="110.8" cy="401.4" r="1.4"/>
<circle cx="108.9" cy="408.2" r="1.4"/>
<circle cx="108.2" cy="410.5" r="1.4"/>
<circle cx="103.8" cy="401.3" r="1.4"/>
<circle cx="104.8" cy="407.5" r="1.4"/>
<circle cx="114.7" cy="414.7" r="1.4"/>
<circle cx="102.6" cy="413.9" r="1.4"/>
<circle cx="110.4" cy="414.5" r="1.4"/>
<circle cx="103.2" cy="415.5" r="1.4"/>
<circle cx="107" cy="410.1" r="1.4"/>
<circle cx="88.6" cy="409.2" r="1.4"/>
<circle cx="114.2" cy="412.1" r="1.4"/>
<circle cx="96.4" cy="412.7" r="1.4"/>
<circle cx="103.6" cy="412.4" r="1.4"/>
<circle cx="93.9" cy="413.6" r="1.4"/>
<circle cx="92.7" cy="415.7" r="1.4"/>
<circle cx="106.4" cy="414.6" r="1.4"/>
<circle cx="105.3" cy="414.3" r="1.4"/>
<circle cx="114.3" cy="415" r="1.4"/>
<circle cx="99.7" cy="412.5" r="1.4"/>
<circle cx="113.8" cy="414" r="1.4"/>
<circle cx="98.2" cy="413.1" r="1.4"/>
<circle cx="100.5" cy="408.6" r="1.4"/>
<circle cx="94.6" cy="413.6" r="1.4"/>
<circle cx="102.4" cy="410.7" r="1.4"/>
<circle cx="105.3" cy="415.3" r="1.4"/>
<circle cx="111.4" cy="411.8" r="1.4"/>
<circle cx="118.7" cy="412.3" r="1.4"/>
<circle cx="110.8" cy="412.7" r="1.4"/>
<circle cx="85.9" cy="409.3" r="1.4"/>
<circle cx="109" cy="410" r="1.4"/>
<circle cx="112.8" cy="411.6" r="1.4"/>
<circle cx="104.5" cy="415.8" r="1.4"/>
<circle cx="97.8" cy="415.4" r="1.4"/>
<circle cx="87.4" cy="412.8" r="1.4"/>
<circle cx="110.8" cy="415.7" r="1.4"/>
<circle cx="111.5" cy="410.8" r="1.4"/>
<circle cx="106.4" cy="413.5" r="1.4"/>
<circle cx="95.9" cy="408.8" r="1.4"/>
<circle cx="118.2" cy="413.8" r="1.4"/>
<circle cx="85.8" cy="413" r="1.4"/>
</g>
<g fill="#FF3030" fill-opacity="0.75">
<circle cx="130.8" cy="404.8" r="1.4"/>
<circle cx="163.2" cy="414.1" r="1.4"/>
<circle cx="135.8" cy="415.5" r="1.4"/>
<circle cx="132.3" cy="410.2" r="1.4"/>
<circle cx="154.1" cy="413.8" r="1.4"/>
<circle cx="145.8" cy="413.9" r="1.4"/>
<circle cx="164.2" cy="415.2" r="1.4"/>
<circle cx="142.1" cy="415.5" r="1.4"/>
<circle cx="150.7" cy="415.1" r="1.4"/>
<circle cx="138.3" cy="406.3" r="1.4"/>
<circle cx="156.6" cy="415.6" r="1.4"/>
<circle cx="159" cy="410.5" r="1.4"/>
<circle cx="138.4" cy="412.9" r="1.4"/>
<circle cx="143.9" cy="413.4" r="1.4"/>
<circle cx="132.4" cy="404.9" r="1.4"/>
<circle cx="152.2" cy="413.3" r="1.4"/>
<circle cx="132.1" cy="410.7" r="1.4"/>
<circle cx="139.2" cy="410.9" r="1.4"/>
<circle cx="140.9" cy="401.8" r="1.4"/>
<circle cx="129.5" cy="405.2" r="1.4"/>
<circle cx="149.4" cy="411.6" r="1.4"/>
<circle cx="153.6" cy="408.4" r="1.4"/>
<circle cx="140.7" cy="415.7" r="1.4"/>
<circle cx="137" cy="414.6" r="1.4"/>
<circle cx="144.5" cy="414.7" r="1.4"/>
<circle cx="132.8" cy="413.9" r="1.4"/>
<circle cx="163.9" cy="402.7" r="1.4"/>
<circle cx="136.1" cy="412.8" r="1.4"/>
<circle cx="134.2" cy="410.7" r="1.4"/>
<circle cx="161" cy="415.1" r="1.4"/>
<circle cx="133" cy="413.7" r="1.4"/>
<circle cx="149.2" cy="412.7" r="1.4"/>
<circle cx="130.7" cy="412.5" r="1.4"/>
<circle cx="146.1" cy="407.4" r="1.4"/>
<circle cx="149.4" cy="413.3" r="1.4"/>
<circle cx="137.2" cy="412.1" r="1.4"/>
<circle cx="152.8" cy="411.7" r="1.4"/>
<circle cx="160.3" cy="414.4" r="1.4"/>
<circle cx="154.1" cy="412.8" r="1.4"/>
<circle cx="133.3" cy="401.9" r="1.4"/>
<circle cx="157.8" cy="415.3" r="1.4"/>
<circle cx="131" cy="414.8" r="1.4"/>
<circle cx="149" cy="401.2" r="1.4"/>
<circle cx="128.5" cy="415" r="1.4"/>
<circle cx="142.1" cy="415.9" r="1.4"/>
<circle cx="155.8" cy="413.9" r="1.4"/>
<circle cx="159.5" cy="408.7" r="1.4"/>
<circle cx="151.4" cy="415.4" r="1.4"/>
<circle cx="132.3" cy="412.5" r="1.4"/>
<circle cx="131.5" cy="414.8" r="1.4"/>
<circle cx="147.7" cy="411.4" r="1.4"/>
<circle cx="151.5" cy="412.4" r="1.4"/>
<circle cx="160.1" cy="412.6" r="1.4"/>
<circle cx="158.6" cy="412.8" r="1.4"/>
<circle cx="128.2" cy="415.3" r="1.4"/>
<circle cx="147" cy="414.1" r="1.4"/>
<circle cx="161.7" cy="407.3" r="1.4"/>
<circle cx="134.8" cy="414.9" r="1.4"/>
<circle cx="146.8" cy="414.3" r="1.4"/>
<circle cx="132.3" cy="411.8" r="1.4"/>
<circle cx="160" cy="406.3" r="1.4"/>
<circle cx="149.6" cy="413.1" r="1.4"/>
<circle cx="153.5" cy="414.7" r="1.4"/>
<circle cx="164.2" cy="407.9" r="1.4"/>
<circle cx="128.4" cy="403" r="1.4"/>
<circle cx="163.2" cy="414.9" r="1.4"/>
<circle cx="131.5" cy="414.4" r="1.4"/>
<circle cx="159.5" cy="410.2" r="1.4"/>
<circle cx="156.2" cy="414.6" r="1.4"/>
<circle cx="139.2" cy="413.5" r="1.4"/>
<circle cx="157.4" cy="413.5" r="1.4"/>
<circle cx="146.1" cy="412.1" r="1.4"/>
<circle cx="139.4" cy="411" r="1.4"/>
<circle cx="128.1" cy="414" r="1.4"/>
<circle cx="142" cy="413.8" r="1.4"/>
<circle cx="153.3" cy="403.1" r="1.4"/>
<circle cx="136.2" cy="411.6" r="1.4"/>
<circle cx="152.3" cy="411.7" r="1.4"/>
<circle cx="131.5" cy="410.4" r="1.4"/>
<circle cx="151.6" cy="413.9" r="1.4"/>
<circle cx="150.8" cy="406" r="1.4"/>
<circle cx="147.5" cy="414.6" r="1.4"/>
<circle cx="158.6" cy="409.1" r="1.4"/>
<circle cx="146.6" cy="415.7" r="1.4"/>
<circle cx="164.4" cy="401" r="1.4"/>
<circle cx="158.9" cy="415.2" r="1.4"/>
<circle cx="143.6" cy="411.7" r="1.4"/>
<circle cx="150.3" cy="414.2" r="1.4"/>
<circle cx="152.4" cy="409.7" r="1.4"/>
<circle cx="134" cy="410.1" r="1.4"/>
<circle cx="139.9" cy="410.7" r="1.4"/>
<circle cx="150.9" cy="412.4" r="1.4"/>
<circle cx="151.8" cy="410.7" r="1.4"/>
<circle cx="162" cy="413.7" r="1.4"/>
<circle cx="130.3" cy="413.9" r="1.4"/>
<circle cx="161.1" cy="407.7" r="1.4"/>
<circle cx="132.8" cy="413.9" r="1.4"/>
<circle cx="129.9" cy="415.8" r="1.4"/>
<circle cx="153.5" cy="409.5" r="1.4"/>
<circle cx="145.8" cy="414" r="1.4"/>
<circle cx="128.1" cy="413.1" r="1.4"/>
<circle cx="164.3" cy="413.6" r="1.4"/>
<circle cx="144" cy="411.8" r="1.4"/>
<circle cx="133.2" cy="414.6" r="1.4"/>
<circle cx="146.9" cy="404.8" r="1.4"/>
<circle cx="152.7" cy="413.3" r="1.4"/>
<circle cx="163.6" cy="408.1" r="1.4"/>
<circle cx="162.4" cy="406.9" r="1.4"/>
<circle cx="147.7" cy="411.2" r="1.4"/>
<circle cx="163.7" cy="411.6" r="1.4"/>
<circle cx="140.4" cy="414.6" r="1.4"/>
<circle cx="143.3" cy="410.8" r="1.4"/>
<circle cx="153.3" cy="413.3" r="1.4"/>
<circle cx="128.6" cy="391.2" r="1.4"/>
<circle cx="138.1" cy="414.2" r="1.4"/>
<circle cx="136" cy="414.9" r="1.4"/>
<circle cx="141.1" cy="413.6" r="1.4"/>
<circle cx="160.5" cy="415.3" r="1.4"/>
<circle cx="145" cy="413.2" r="1.4"/>
<circle cx="156.4" cy="411.2" r="1.4"/>
<circle cx="146.8" cy="408.9" r="1.4"/>
<circle cx="163.2" cy="401.4" r="1.4"/>
<circle cx="136.1" cy="414.1" r="1.4"/>
<circle cx="131" cy="401.3" r="1.4"/>
<circle cx="148.7" cy="408.1" r="1.4"/>
<circle cx="142.7" cy="414.6" r="1.4"/>
<circle cx="133.6" cy="415.5" r="1.4"/>
<circle cx="148.9" cy="414.5" r="1.4"/>
<circle cx="132.2" cy="414.4" r="1.4"/>
<circle cx="152.2" cy="415.5" r="1.4"/>
<circle cx="145.8" cy="413.2" r="1.4"/>
<circle cx="158.3" cy="410.3" r="1.4"/>
<circle cx="135.7" cy="413.4" r="1.4"/>
<circle cx="146.6" cy="410.8" r="1.4"/>
<circle cx="146.5" cy="415.6" r="1.4"/>
<circle cx="132.9" cy="411.7" r="1.4"/>
<circle cx="147.1" cy="414.2" r="1.4"/>
<circle cx="154.4" cy="414.9" r="1.4"/>
<circle cx="131.5" cy="407.4" r="1.4"/>
<circle cx="133.7" cy="413.3" r="1.4"/>
<circle cx="139.1" cy="415.7" r="1.4"/>
<circle cx="135.7" cy="414.8" r="1.4"/>
<circle cx="154.5" cy="415.9" r="1.4"/>
<circle cx="134.1" cy="410.1" r="1.4"/>
<circle cx="147.8" cy="407.5" r="1.4"/>
<circle cx="162.4" cy="413.8" r="1.4"/>
<circle cx="131.3" cy="414.3" r="1.4"/>
<circle cx="140" cy="411.9" r="1.4"/>
<circle cx="153.4" cy="415.4" r="1.4"/>
<circle cx="130.5" cy="412.2" r="1.4"/>
<circle cx="156.2" cy="414.7" r="1.4"/>
<circle cx="130.4" cy="413.1" r="1.4"/>
<circle cx="130.1" cy="412.8" r="1.4"/>
<circle cx="153.1" cy="411.7" r="1.4"/>
<circle cx="152.6" cy="414.8" r="1.4"/>
<circle cx="142.5" cy="414.3" r="1.4"/>
<circle cx="148.8" cy="411.9" r="1.4"/>
<circle cx="144.7" cy="399.2" r="1.4"/>
<circle cx="160.5" cy="412" r="1.4"/>
<circle cx="132.9" cy="413.8" r="1.4"/>
<circle cx="155.1" cy="415.7" r="1.4"/>
<circle cx="143.3" cy="415.6" r="1.4"/>
<circle cx="137.2" cy="406.9" r="1.4"/>
<circle cx="132.1" cy="410.8" r="1.4"/>
<circle cx="135.7" cy="415.8" r="1.4"/>
<circle cx="158.1" cy="411.2" r="1.4"/>
<circle cx="132" cy="415.6" r="1.4"/>
<circle cx="138.1" cy="406.2" r="1.4"/>
<circle cx="130.9" cy="406.4" r="1.4"/>
<circle cx="141.5" cy="415.6" r="1.4"/>
<circle cx="145.2" cy="401.4" r="1.4"/>
<circle cx="157.5" cy="408.2" r="1.4"/>
<circle cx="156.9" cy="415.1" r="1.4"/>
<circle cx="146.6" cy="410.6" r="1.4"/>
<circle cx="149.3" cy="409.9" r="1.4"/>
<circle cx="139" cy="413.6" r="1.4"/>
<circle cx="134.4" cy="411.7" r="1.4"/>
<circle cx="164.2" cy="404.5" r="1.4"/>
<circle cx="130.2" cy="412.7" r="1.4"/>
<circle cx="160.2" cy="412.6" r="1.4"/>
<circle cx="160.8" cy="412.1" r="1.4"/>
<circle cx="157.2" cy="415.1" r="1.4"/>
<circle cx="136.1" cy="415" r="1.4"/>
<circle cx="131.4" cy="407.7" r="1.4"/>
<circle cx="144.2" cy="410.1" r="1.4"/>
<circle cx="146.5" cy="412.3" r="1.4"/>
<circle cx="133.8" cy="414.1" r="1.4"/>
<circle cx="131.3" cy="412.5" r="1.4"/>
<circle cx="145.7" cy="414.1" r="1.4"/>
<circle cx="160.6" cy="404.6" r="1.4"/>
<circle cx="156.9" cy="412" r="1.4"/>
<circle cx="162.2" cy="414.1" r="1.4"/>
<circle cx="143.6" cy="408.4" r="1.4"/>
<circle cx="135.5" cy="413.6" r="1.4"/>
<circle cx="152.2" cy="415" r="1.4"/>
<circle cx="129" cy="415.4" r="1.4"/>
<circle cx="139.3" cy="412.3" r="1.4"/>
<circle cx="138.2" cy="415.3" r="1.4"/>
<circle cx="161.2" cy="411" r="1.4"/>
<circle cx="131.3" cy="415.6" r="1.4"/>
<circle cx="161.3" cy="414.4" r="1.4"/>
<circle cx="138.6" cy="414.5" r="1.4"/>
<circle cx="135.3" cy="414.9" r="1.4"/>
<circle cx="140" cy="411.3" r="1.4"/>
<circle cx="145.3" cy="404.3" r="1.4"/>
<circle cx="142.5" cy="411.6" r="1.4"/>
<circle cx="138.1" cy="413.7" r="1.4"/>
<circle cx="153.4" cy="414" r="1.4"/>
<circle cx="158.6" cy="402.5" r="1.4"/>
<circle cx="137.9" cy="415.5" r="1.4"/>
<circle cx="151" cy="414.5" r="1.4"/>
<circle cx="131.8" cy="413.5" r="1.4"/>
<circle cx="141.4" cy="413.2" r="1.4"/>
<circle cx="157.3" cy="414.5" r="1.4"/>
<circle cx="138" cy="408" r="1.4"/>
<circle cx="144.1" cy="410.1" r="1.4"/>
<circle cx="142.8" cy="413.8" r="1.4"/>
<circle cx="133.3" cy="408.4" r="1.4"/>
<circle cx="136.9" cy="407.2" r="1.4"/>
<circle cx="160.7" cy="410.2" r="1.4"/>
<circle cx="144.9" cy="412.9" r="1.4"/>
<circle cx="130.3" cy="410.3" r="1.4"/>
<circle cx="131.2" cy="409.7" r="1.4"/>
<circle cx="148.1" cy="415.7" r="1.4"/>
<circle cx="134.2" cy="415.1" r="1.4"/>
<circle cx="137" cy="413.5" r="1.4"/>
<circle cx="138.2" cy="414.8" r="1.4"/>
<circle cx="145" cy="409.1" r="1.4"/>
<circle cx="133" cy="412.9" r="1.4"/>
<circle cx="132.2" cy="410.6" r="1.4"/>
<circle cx="128.3" cy="415.5" r="1.4"/>
<circle cx="157.5" cy="414.5" r="1.4"/>
<circle cx="140.9" cy="414.1" r="1.4"/>
<circle cx="131.6" cy="414.7" r="1.4"/>
<circle cx="148.6" cy="415.8" r="1.4"/>
<circle cx="156.6" cy="413.3" r="1.4"/>
<circle cx="138.2" cy="415.6" r="1.4"/>
<circle cx="137.1" cy="414.9" r="1.4"/>
<circle cx="157.9" cy="412.4" r="1.4"/>
<circle cx="157.6" cy="415" r="1.4"/>
<circle cx="141" cy="411.8" r="1.4"/>
<circle cx="145.5" cy="411.7" r="1.4"/>
<circle cx="140.5" cy="414.3" r="1.4"/>
<circle cx="145.4" cy="411.5" r="1.4"/>
<circle cx="163.2" cy="412.4" r="1.4"/>
<circle cx="146.2" cy="415.8" r="1.4"/>
<circle cx="150.9" cy="392.9" r="1.4"/>
<circle cx="161.2" cy="411.5" r="1.4"/>
<circle cx="139.5" cy="412.1" r="1.4"/>
<circle cx="141.1" cy="413.9" r="1.4"/>
<circle cx="154.3" cy="408.4" r="1.4"/>
<circle cx="135.8" cy="414.3" r="1.4"/>
<circle cx="137" cy="406.9" r="1.4"/>
<circle cx="143.6" cy="410.4" r="1.4"/>
<circle cx="141.8" cy="410.2" r="1.4"/>
<circle cx="136.4" cy="412" r="1.4"/>
<circle cx="162.5" cy="401.1" r="1.4"/>
<circle cx="132.7" cy="412.7" r="1.4"/>
<circle cx="128.3" cy="409.8" r="1.4"/>
<circle cx="154.6" cy="415.8" r="1.4"/>
<circle cx="160.4" cy="410.7" r="1.4"/>
<circle cx="141.2" cy="408.4" r="1.4"/>
<circle cx="140.4" cy="388.4" r="1.4"/>
<circle cx="153.3" cy="414.5" r="1.4"/>
<circle cx="163" cy="413.4" r="1.4"/>
<circle cx="161.7" cy="414.3" r="1.4"/>
<circle cx="158.3" cy="412" r="1.4"/>
<circle cx="143.5" cy="410.5" r="1.4"/>
<circle cx="131.2" cy="415.3" r="1.4"/>
<circle cx="129.1" cy="415.1" r="1.4"/>
<circle cx="154.3" cy="413.4" r="1.4"/>
<circle cx="138.3" cy="415" r="1.4"/>
<circle cx="155.8" cy="414.2" r="1.4"/>
<circle cx="151" cy="412" r="1.4"/>
<circle cx="131.1" cy="411.2" r="1.4"/>
<circle cx="149.8" cy="413.7" r="1.4"/>
<circle cx="158.4" cy="412.1" r="1.4"/>
<circle cx="163.4" cy="412.5" r="1.4"/>
<circle cx="140.1" cy="411.4" r="1.4"/>
<circle cx="135.5" cy="412.6" r="1.4"/>
<circle cx="160.6" cy="401.9" r="1.4"/>
<circle cx="131.5" cy="410.4" r="1.4"/>
<circle cx="143.6" cy="409.3" r="1.4"/>
<circle cx="136.9" cy="414" r="1.4"/>
<circle cx="134.4" cy="410.9" r="1.4"/>
<circle cx="133.7" cy="413.9" r="1.4"/>
<circle cx="146.8" cy="411.4" r="1.4"/>
<circle cx="137.9" cy="415.2" r="1.4"/>
<circle cx="153.2" cy="410.5" r="1.4"/>
<circle cx="160" cy="413.4" r="1.4"/>
<circle cx="151.6" cy="412.7" r="1.4"/>
<circle cx="143.5" cy="410.2" r="1.4"/>
<circle cx="130.3" cy="412.3" r="1.4"/>
<circle cx="150.8" cy="410.1" r="1.4"/>
<circle cx="138.6" cy="411.4" r="1.4"/>
<circle cx="140" cy="414" r="1.4"/>
<circle cx="148.6" cy="412.5" r="1.4"/>
<circle cx="131.3" cy="415.6" r="1.4"/>
<circle cx="143.2" cy="409.9" r="1.4"/>
<circle cx="150.8" cy="411.8" r="1.4"/>
<circle cx="134.2" cy="415.2" r="1.4"/>
<circle cx="144.8" cy="413.4" r="1.4"/>
<circle cx="162.9" cy="413.4" r="1.4"/>
<circle cx="142.1" cy="412.8" r="1.4"/>
<circle cx="138.4" cy="413.1" r="1.4"/>
<circle cx="162.1" cy="413.2" r="1.4"/>
<circle cx="158.5" cy="408.8" r="1.4"/>
<circle cx="162.6" cy="412.2" r="1.4"/>
<circle cx="146.7" cy="403.7" r="1.4"/>
<circle cx="152.6" cy="414.8" r="1.4"/>
<circle cx="160.2" cy="406" r="1.4"/>
<circle cx="144.1" cy="411.1" r="1.4"/>
<circle cx="145.8" cy="413.8" r="1.4"/>
<circle cx="152.5" cy="413" r="1.4"/>
<circle cx="140.9" cy="415.7" r="1.4"/>
<circle cx="128.8" cy="413.9" r="1.4"/>
<circle cx="146.1" cy="412.7" r="1.4"/>
<circle cx="133" cy="412.3" r="1.4"/>
<circle cx="143.6" cy="413.3" r="1.4"/>
<circle cx="129.5" cy="415.8" r="1.4"/>
<circle cx="129.5" cy="414.9" r="1.4"/>
<circle cx="154.1" cy="415.5" r="1.4"/>
<circle cx="158.8" cy="412.7" r="1.4"/>
<circle cx="142.2" cy="405.6" r="1.4"/>
<circle cx="149.4" cy="408.6" r="1.4"/>
<circle cx="157.6" cy="413.2" r="1.4"/>
<circle cx="146.8" cy="411.8" r="1.4"/>
<circle cx="134.7" cy="415.1" r="1.4"/>
<circle cx="161.2" cy="408.7" r="1.4"/>
<circle cx="132.4" cy="409.1" r="1.4"/>
<circle cx="141.8" cy="413.7" r="1.4"/>
<circle cx="163.7" cy="412.9" r="1.4"/>
<circle cx="145.9" cy="406.8" r="1.4"/>
<circle cx="145.7" cy="413.2" r="1.4"/>
<circle cx="158" cy="415.7" r="1.4"/>
<circle cx="138.7" cy="413.9" r="1.4"/>
<circle cx="164.6" cy="409" r="1.4"/>
<circle cx="148" cy="412.2" r="1.4"/>
<circle cx="152" cy="415.2" r="1.4"/>
<circle cx="139" cy="415.3" r="1.4"/>
<circle cx="145.2" cy="414.5" r="1.4"/>
<circle cx="142.9" cy="414.5" r="1.4"/>
<circle cx="141.7" cy="414.7" r="1.4"/>
<circle cx="161.4" cy="413.7" r="1.4"/>
<circle cx="130.5" cy="414.3" r="1.4"/>
<circle cx="159.7" cy="415.1" r="1.4"/>
<circle cx="146.1" cy="415.3" r="1.4"/>
<circle cx="138.7" cy="413.1" r="1.4"/>
<circle cx="133.5" cy="410.5" r="1.4"/>
<circle cx="156.3" cy="410.5" r="1.4"/>
<circle cx="144.5" cy="413.8" r="1.4"/>
<circle cx="154" cy="414.6" r="1.4"/>
<circle cx="144.9" cy="413.9" r="1.4"/>
<circle cx="161" cy="414.8" r="1.4"/>
<circle cx="149.1" cy="415.8" r="1.4"/>
<circle cx="152.3" cy="410.3" r="1.4"/>
<circle cx="140.7" cy="413.9" r="1.4"/>
<circle cx="135.9" cy="414.5" r="1.4"/>
<circle cx="145.7" cy="403.9" r="1.4"/>
<circle cx="143.5" cy="411.4" r="1.4"/>
<circle cx="158.5" cy="410.1" r="1.4"/>
<circle cx="145.6" cy="411.5" r="1.4"/>
<circle cx="155.4" cy="409" r="1.4"/>
<circle cx="142.2" cy="415.2" r="1.4"/>
<circle cx="144.8" cy="415.1" r="1.4"/>
<circle cx="131.3" cy="414.4" r="1.4"/>
<circle cx="150" cy="408.2" r="1.4"/>
<circle cx="158.2" cy="406.3" r="1.4"/>
<circle cx="146.8" cy="414.5" r="1.4"/>
<circle cx="152" cy="413.9" r="1.4"/>
<circle cx="161.2" cy="411.7" r="1.4"/>
<circle cx="139.2" cy="413.3" r="1.4"/>
<circle cx="149.7" cy="411.5" r="1.4"/>
<circle cx="140.1" cy="412.3" r="1.4"/>
<circle cx="161.9" cy="409.2" r="1.4"/>
<circle cx="157.4" cy="413.6" r="1.4"/>
<circle cx="164.4" cy="405.7" r="1.4"/>
<circle cx="138.4" cy="414.3" r="1.4"/>
<circle cx="159.9" cy="415.7" r="1.4"/>
<circle cx="144.8" cy="410.9" r="1.4"/>
<circle cx="150.3" cy="415.3" r="1.4"/>
<circle cx="164.4" cy="411.9" r="1.4"/>
<circle cx="128.5" cy="413.7" r="1.4"/>
<circle cx="143.7" cy="410.6" r="1.4"/>
<circle cx="145.1" cy="411.3" r="1.4"/>
<circle cx="146.5" cy="415.1" r="1.4"/>
<circle cx="151.4" cy="414.3" r="1.4"/>
<circle cx="148.5" cy="414.6" r="1.4"/>
<circle cx="144.6" cy="414.6" r="1.4"/>
<circle cx="133.3" cy="415.9" r="1.4"/>
<circle cx="138.8" cy="403.8" r="1.4"/>
<circle cx="144.7" cy="410.2" r="1.4"/>
<circle cx="161.6" cy="410.2" r="1.4"/>
<circle cx="162.2" cy="413.2" r="1.4"/>
<circle cx="147.2" cy="407.2" r="1.4"/>
<circle cx="160" cy="413.4" r="1.4"/>
<circle cx="151.5" cy="409.1" r="1.4"/>
<circle cx="153.6" cy="410.6" r="1.4"/>
<circle cx="151.3" cy="412.4" r="1.4"/>
<circle cx="151.1" cy="414.8" r="1.4"/>
<circle cx="140.6" cy="407.4" r="1.4"/>
<circle cx="133.7" cy="411.1" r="1.4"/>
<circle cx="163.3" cy="415.7" r="1.4"/>
<circle cx="140.6" cy="405.1" r="1.4"/>
<circle cx="146.4" cy="413.1" r="1.4"/>
<circle cx="155" cy="415.3" r="1.4"/>
<circle cx="146.2" cy="415.8" r="1.4"/>
<circle cx="133.3" cy="410.4" r="1.4"/>
<circle cx="157.6" cy="407.5" r="1.4"/>
<circle cx="151.6" cy="412.8" r="1.4"/>
<circle cx="149" cy="414.6" r="1.4"/>
<circle cx="158.5" cy="413.3" r="1.4"/>
<circle cx="141.6" cy="412.9" r="1.4"/>
<circle cx="161.2" cy="406.3" r="1.4"/>
<circle cx="134.1" cy="404.8" r="1.4"/>
<circle cx="131.6" cy="413.8" r="1.4"/>
<circle cx="147" cy="410.8" r="1.4"/>
<circle cx="157.5" cy="406.1" r="1.4"/>
<circle cx="135.5" cy="410.2" r="1.4"/>
<circle cx="157.2" cy="410.5" r="1.4"/>
<circle cx="131.2" cy="411" r="1.4"/>
<circle cx="153.2" cy="411.4" r="1.4"/>
<circle cx="134.6" cy="413.2" r="1.4"/>
<circle cx="127.8" cy="415.3" r="1.4"/>
<circle cx="153.4" cy="401.3" r="1.4"/>
<circle cx="140.6" cy="415.4" r="1.4"/>
<circle cx="128.1" cy="414.4" r="1.4"/>
<circle cx="145.2" cy="408.4" r="1.4"/>
<circle cx="128.9" cy="415.4" r="1.4"/>
<circle cx="144.2" cy="414.3" r="1.4"/>
<circle cx="151.8" cy="413.8" r="1.4"/>
<circle cx="152" cy="412.4" r="1.4"/>
<circle cx="150.3" cy="412.3" r="1.4"/>
<circle cx="130.7" cy="415.8" r="1.4"/>
<circle cx="135.2" cy="414.9" r="1.4"/>
<circle cx="153.9" cy="408.5" r="1.4"/>
<circle cx="135.3" cy="409.6" r="1.4"/>
<circle cx="129.1" cy="413.9" r="1.4"/>
<circle cx="147.4" cy="412.5" r="1.4"/>
<circle cx="160.7" cy="414.9" r="1.4"/>
<circle cx="162.3" cy="413.1" r="1.4"/>
<circle cx="141.5" cy="412.5" r="1.4"/>
<circle cx="138.5" cy="412.8" r="1.4"/>
<circle cx="155.9" cy="414.2" r="1.4"/>
<circle cx="160.3" cy="415" r="1.4"/>
<circle cx="153.8" cy="414.4" r="1.4"/>
<circle cx="162.6" cy="410.6" r="1.4"/>
<circle cx="135.3" cy="404.7" r="1.4"/>
<circle cx="144.6" cy="415.2" r="1.4"/>
<circle cx="147.9" cy="411.3" r="1.4"/>
<circle cx="143.2" cy="407.6" r="1.4"/>
<circle cx="144.5" cy="414.2" r="1.4"/>
<circle cx="142" cy="415.4" r="1.4"/>
<circle cx="142.4" cy="409.2" r="1.4"/>
<circle cx="138.1" cy="413.4" r="1.4"/>
<circle cx="155.4" cy="402.1" r="1.4"/>
<circle cx="145.7" cy="402.5" r="1.4"/>
<circle cx="129.7" cy="414.9" r="1.4"/>
<circle cx="158.2" cy="411.4" r="1.4"/>
<circle cx="162.2" cy="411.9" r="1.4"/>
<circle cx="129.9" cy="411.1" r="1.4"/>
<circle cx="136.2" cy="404.4" r="1.4"/>
<circle cx="164.1" cy="410.4" r="1.4"/>
<circle cx="159.6" cy="414.1" r="1.4"/>
<circle cx="142.9" cy="414.6" r="1.4"/>
<circle cx="129.9" cy="412.2" r="1.4"/>
<circle cx="143.8" cy="413.1" r="1.4"/>
<circle cx="155.8" cy="412.4" r="1.4"/>
<circle cx="154.5" cy="415.6" r="1.4"/>
<circle cx="159.4" cy="413.8" r="1.4"/>
<circle cx="133.3" cy="415" r="1.4"/>
<circle cx="136.7" cy="414.3" r="1.4"/>
<circle cx="145.6" cy="414.7" r="1.4"/>
<circle cx="130" cy="415.8" r="1.4"/>
<circle cx="160.1" cy="415.8" r="1.4"/>
<circle cx="162.7" cy="415.8" r="1.4"/>
<circle cx="152" cy="407.2" r="1.4"/>
<circle cx="142.3" cy="412.5" r="1.4"/>
<circle cx="160.9" cy="414.4" r="1.4"/>
<circle cx="143.4" cy="412.2" r="1.4"/>
<circle cx="145.5" cy="409.5" r="1.4"/>
<circle cx="142.6" cy="412.2" r="1.4"/>
<circle cx="132.5" cy="409.9" r="1.4"/>
<circle cx="141.9" cy="406.9" r="1.4"/>
<circle cx="151.6" cy="414.7" r="1.4"/>
<circle cx="143" cy="415.6" r="1.4"/>
<circle cx="161.3" cy="409.8" r="1.4"/>
<circle cx="136.7" cy="408.2" r="1.4"/>
<circle cx="152.8" cy="412.5" r="1.4"/>
<circle cx="159.9" cy="413.2" r="1.4"/>
<circle cx="150.3" cy="412.6" r="1.4"/>
<circle cx="162.2" cy="414.4" r="1.4"/>
<circle cx="140.3" cy="409.4" r="1.4"/>
<circle cx="145.5" cy="415.5" r="1.4"/>
<circle cx="155.7" cy="408.8" r="1.4"/>
<circle cx="149.1" cy="415.2" r="1.4"/>
<circle cx="154.7" cy="415" r="1.4"/>
<circle cx="162.6" cy="406.3" r="1.4"/>
<circle cx="157.9" cy="408.4" r="1.4"/>
<circle cx="135.8" cy="414.4" r="1.4"/>
<circle cx="157.3" cy="414.3" r="1.4"/>
<circle cx="140.8" cy="412.2" r="1.4"/>
<circle cx="137.1" cy="415.5" r="1.4"/>
<circle cx="148.8" cy="410.7" r="1.4"/>
<circle cx="159.3" cy="414.7" r="1.4"/>
<circle cx="164.4" cy="411.3" r="1.4"/>
<circle cx="130" cy="410.9" r="1.4"/>
<circle cx="155.5" cy="409.4" r="1.4"/>
<circle cx="139.3" cy="408.7" r="1.4"/>
<circle cx="159.6" cy="408.3" r="1.4"/>
<circle cx="148.2" cy="413.5" r="1.4"/>
<circle cx="160.9" cy="413.5" r="1.4"/>
<circle cx="139" cy="410.6" r="1.4"/>
<circle cx="140.7" cy="410.9" r="1.4"/>
<circle cx="163.5" cy="415.4" r="1.4"/>
<circle cx="145.1" cy="411.4" r="1.4"/>
<circle cx="134.3" cy="415.7" r="1.4"/>
<circle cx="128.2" cy="412.1" r="1.4"/>
<circle cx="160.2" cy="414.6" r="1.4"/>
<circle cx="137.7" cy="408.6" r="1.4"/>
<circle cx="163.3" cy="409.5" r="1.4"/>
<circle cx="152.3" cy="413.7" r="1.4"/>
<circle cx="156.1" cy="412.6" r="1.4"/>
<circle cx="149.4" cy="413.5" r="1.4"/>
<circle cx="129.7" cy="412.2" r="1.4"/>
<circle cx="134.4" cy="411.3" r="1.4"/>
<circle cx="145.7" cy="414" r="1.4"/>
<circle cx="128.1" cy="412.4" r="1.4"/>
<circle cx="157.7" cy="402.9" r="1.4"/>
<circle cx="162" cy="415.8" r="1.4"/>
<circle cx="135" cy="413.4" r="1.4"/>
<circle cx="143.9" cy="411.4" r="1.4"/>
<circle cx="147.2" cy="407.6" r="1.4"/>
<circle cx="146.7" cy="414.8" r="1.4"/>
<circle cx="147.8" cy="409.9" r="1.4"/>
<circle cx="164.5" cy="411" r="1.4"/>
<circle cx="154.9" cy="396.5" r="1.4"/>
<circle cx="139.4" cy="413.2" r="1.4"/>
<circle cx="132.3" cy="415.3" r="1.4"/>
<circle cx="158.1" cy="412.3" r="1.4"/>
<circle cx="133.3" cy="410.7" r="1.4"/>
<circle cx="141.1" cy="413.2" r="1.4"/>
<circle cx="134.7" cy="409.1" r="1.4"/>
<circle cx="162.9" cy="414.7" r="1.4"/>
<circle cx="146" cy="415.6" r="1.4"/>
<circle cx="141.1" cy="415.8" r="1.4"/>
<circle cx="151.4" cy="413.1" r="1.4"/>
<circle cx="151.6" cy="413.5" r="1.4"/>
<circle cx="145" cy="414.4" r="1.4"/>
<circle cx="131" cy="413.1" r="1.4"/>
<circle cx="132.9" cy="414" r="1.4"/>
<circle cx="130.9" cy="415.3" r="1.4"/>
<circle cx="145.1" cy="412.8" r="1.4"/>
<circle cx="132" cy="407.6" r="1.4"/>
<circle cx="155.1" cy="409.4" r="1.4"/>
<circle cx="158.6" cy="413.7" r="1.4"/>
<circle cx="163.4" cy="404.6" r="1.4"/>
<circle cx="141.3" cy="413.3" r="1.4"/>
<circle cx="129.2" cy="413.6" r="1.4"/>
<circle cx="152" cy="415.2" r="1.4"/>
<circle cx="142.9" cy="405.3" r="1.4"/>
<circle cx="161.5" cy="414" r="1.4"/>
<circle cx="158.7" cy="414.5" r="1.4"/>
<circle cx="152.3" cy="405.6" r="1.4"/>
<circle cx="164" cy="412.8" r="1.4"/>
<circle cx="157.9" cy="404.1" r="1.4"/>
<circle cx="156.4" cy="414.3" r="1.4"/>
<circle cx="159.2" cy="414.5" r="1.4"/>
<circle cx="131.6" cy="411.3" r="1.4"/>
<circle cx="145.3" cy="411" r="1.4"/>
<circle cx="145.1" cy="410.6" r="1.4"/>
<circle cx="157.8" cy="415.2" r="1.4"/>
<circle cx="130.5" cy="413.6" r="1.4"/>
<circle cx="141.3" cy="409.3" r="1.4"/>
<circle cx="143.8" cy="414.8" r="1.4"/>
<circle cx="129.3" cy="408.5" r="1.4"/>
<circle cx="163.4" cy="414.6" r="1.4"/>
<circle cx="160.9" cy="414.8" r="1.4"/>
<circle cx="161.7" cy="415.9" r="1.4"/>
<circle cx="141.5" cy="414.3" r="1.4"/>
<circle cx="154.5" cy="414.2" r="1.4"/>
<circle cx="163.2" cy="413.4" r="1.4"/>
<circle cx="143.1" cy="411.3" r="1.4"/>
<circle cx="162.7" cy="415.5" r="1.4"/>
<circle cx="148.8" cy="414.8" r="1.4"/>
<circle cx="156.2" cy="414.5" r="1.4"/>
<circle cx="133.5" cy="412.9" r="1.4"/>
<circle cx="148.1" cy="415.9" r="1.4"/>
<circle cx="135.9" cy="415.4" r="1.4"/>
<circle cx="161.8" cy="413.2" r="1.4"/>
<circle cx="136.4" cy="414.9" r="1.4"/>
<circle cx="164.3" cy="413.3" r="1.4"/>
<circle cx="157.5" cy="412.9" r="1.4"/>
<circle cx="136.1" cy="410.2" r="1.4"/>
<circle cx="163.4" cy="409.7" r="1.4"/>
<circle cx="146.6" cy="415.9" r="1.4"/>
<circle cx="133.8" cy="414.7" r="1.4"/>
<circle cx="160.4" cy="398.6" r="1.4"/>
<circle cx="151.9" cy="407.1" r="1.4"/>
<circle cx="148.5" cy="412.7" r="1.4"/>
<circle cx="135.6" cy="414.5" r="1.4"/>
<circle cx="145.8" cy="415.4" r="1.4"/>
<circle cx="154.2" cy="410" r="1.4"/>
<circle cx="133.4" cy="414.9" r="1.4"/>
<circle cx="162.8" cy="408.7" r="1.4"/>
<circle cx="139.9" cy="402" r="1.4"/>
<circle cx="130.2" cy="406.4" r="1.4"/>
<circle cx="153.2" cy="408.3" r="1.4"/>
<circle cx="151.9" cy="415.5" r="1.4"/>
<circle cx="135.4" cy="413.6" r="1.4"/>
<circle cx="137.1" cy="414.6" r="1.4"/>
<circle cx="135.1" cy="414.5" r="1.4"/>
<circle cx="150.8" cy="411.2" r="1.4"/>
<circle cx="130.7" cy="413.4" r="1.4"/>
<circle cx="163.2" cy="411.9" r="1.4"/>
<circle cx="135.3" cy="414.3" r="1.4"/>
<circle cx="135.2" cy="409" r="1.4"/>
<circle cx="158.7" cy="415.7" r="1.4"/>
<circle cx="128.4" cy="415" r="1.4"/>
<circle cx="139.4" cy="415.7" r="1.4"/>
<circle cx="163.3" cy="415.3" r="1.4"/>
<circle cx="135.1" cy="414.2" r="1.4"/>
<circle cx="161.7" cy="413.9" r="1.4"/>
<circle cx="136.4" cy="413.7" r="1.4"/>
<circle cx="163.9" cy="409.1" r="1.4"/>
<circle cx="164.1" cy="414.5" r="1.4"/>
<circle cx="156.8" cy="411.4" r="1.4"/>
<circle cx="154.4" cy="411.1" r="1.4"/>
<circle cx="139.2" cy="415" r="1.4"/>
<circle cx="142" cy="411.8" r="1.4"/>
<circle cx="161.7" cy="414.9" r="1.4"/>
<circle cx="147.8" cy="406.5" r="1.4"/>
<circle cx="146.1" cy="415" r="1.4"/>
<circle cx="135.9" cy="414.1" r="1.4"/>
<circle cx="139.2" cy="412.5" r="1.4"/>
<circle cx="127.9" cy="412.9" r="1.4"/>
<circle cx="161.6" cy="411.8" r="1.4"/>
<circle cx="156.3" cy="414.9" r="1.4"/>
<circle cx="129" cy="415.9" r="1.4"/>
<circle cx="135.9" cy="415.1" r="1.4"/>
<circle cx="138.2" cy="407.9" r="1.4"/>
<circle cx="148.1" cy="411.8" r="1.4"/>
<circle cx="140.3" cy="415.5" r="1.4"/>
<circle cx="163.7" cy="412.6" r="1.4"/>
<circle cx="141.7" cy="414.5" r="1.4"/>
<circle cx="148.3" cy="415.9" r="1.4"/>
<circle cx="137.6" cy="414.8" r="1.4"/>
<circle cx="144.4" cy="413.6" r="1.4"/>
<circle cx="145.9" cy="414.2" r="1.4"/>
<circle cx="155" cy="415.4" r="1.4"/>
<circle cx="155.5" cy="404.6" r="1.4"/>
<circle cx="132.1" cy="410.4" r="1.4"/>
<circle cx="161" cy="411.7" r="1.4"/>
<circle cx="130.6" cy="415.3" r="1.4"/>
<circle cx="155.1" cy="401.9" r="1.4"/>
<circle cx="132" cy="411.8" r="1.4"/>
<circle cx="142.4" cy="410.6" r="1.4"/>
<circle cx="160.3" cy="413.3" r="1.4"/>
<circle cx="140.9" cy="410.5" r="1.4"/>
<circle cx="148.7" cy="407.7" r="1.4"/>
<circle cx="163.6" cy="412.4" r="1.4"/>
<circle cx="132" cy="413.7" r="1.4"/>
<circle cx="136.1" cy="415.7" r="1.4"/>
<circle cx="128.2" cy="413.4" r="1.4"/>
<circle cx="139.6" cy="410.2" r="1.4"/>
<circle cx="134" cy="407.6" r="1.4"/>
<circle cx="150.9" cy="410.7" r="1.4"/>
<circle cx="157.5" cy="414.1" r="1.4"/>
<circle cx="138" cy="412.8" r="1.4"/>
<circle cx="141.6" cy="413.4" r="1.4"/>
<circle cx="163.9" cy="402.7" r="1.4"/>
<circle cx="138.7" cy="413.4" r="1.4"/>
<circle cx="134.7" cy="415.8" r="1.4"/>
<circle cx="146.7" cy="410.3" r="1.4"/>
<circle cx="155.8" cy="412.2" r="1.4"/>
<circle cx="153.6" cy="413.6" r="1.4"/>
<circle cx="159.8" cy="415.1" r="1.4"/>
<circle cx="164.5" cy="410.3" r="1.4"/>
<circle cx="158.1" cy="411.6" r="1.4"/>
<circle cx="147.4" cy="409.2" r="1.4"/>
<circle cx="158.5" cy="404.6" r="1.4"/>
<circle cx="132.6" cy="412.7" r="1.4"/>
<circle cx="137.9" cy="405.3" r="1.4"/>
<circle cx="145.7" cy="407.9" r="1.4"/>
<circle cx="141.9" cy="413.4" r="1.4"/>
<circle cx="162" cy="415" r="1.4"/>
<circle cx="142.7" cy="405.3" r="1.4"/>
<circle cx="144.7" cy="414.9" r="1.4"/>
<circle cx="138.2" cy="414.1" r="1.4"/>
<circle cx="148" cy="408.5" r="1.4"/>
<circle cx="129.9" cy="412" r="1.4"/>
<circle cx="137.2" cy="411.8" r="1.4"/>
<circle cx="145" cy="412.4" r="1.4"/>
<circle cx="142.8" cy="414.1" r="1.4"/>
<circle cx="141.2" cy="412.7" r="1.4"/>
<circle cx="140" cy="415.4" r="1.4"/>
<circle cx="159.3" cy="415.6" r="1.4"/>
<circle cx="161.5" cy="414.7" r="1.4"/>
<circle cx="155" cy="409.2" r="1.4"/>
<circle cx="143.3" cy="413.7" r="1.4"/>
<circle cx="133.3" cy="413.9" r="1.4"/>
<circle cx="158" cy="415.5" r="1.4"/>
<circle cx="141.2" cy="414.1" r="1.4"/>
<circle cx="150.6" cy="409" r="1.4"/>
<circle cx="145.5" cy="415.4" r="1.4"/>
<circle cx="143.4" cy="414.4" r="1.4"/>
<circle cx="130.6" cy="410.6" r="1.4"/>
<circle cx="154.3" cy="413.8" r="1.4"/>
<circle cx="160.5" cy="415.2" r="1.4"/>
<circle cx="133.7" cy="413.9" r="1.4"/>
<circle cx="164.2" cy="412.6" r="1.4"/>
<circle cx="156.5" cy="409.4" r="1.4"/>
<circle cx="145.6" cy="411.3" r="1.4"/>
<circle cx="163.5" cy="414.1" r="1.4"/>
<circle cx="158.7" cy="408.1" r="1.4"/>
<circle cx="163.5" cy="410.6" r="1.4"/>
<circle cx="158.4" cy="411.8" r="1.4"/>
<circle cx="135.2" cy="410.8" r="1.4"/>
<circle cx="145.9" cy="411.2" r="1.4"/>
<circle cx="151.1" cy="410.2" r="1.4"/>
<circle cx="151.3" cy="413.8" r="1.4"/>
<circle cx="162.5" cy="415.7" r="1.4"/>
<circle cx="159.7" cy="413.9" r="1.4"/>
<circle cx="144.9" cy="404.7" r="1.4"/>
<circle cx="140.5" cy="415.3" r="1.4"/>
<circle cx="143.4" cy="415.3" r="1.4"/>
<circle cx="136.9" cy="408.9" r="1.4"/>
<circle cx="133.5" cy="415.4" r="1.4"/>
<circle cx="136.7" cy="411.6" r="1.4"/>
<circle cx="132.6" cy="408.3" r="1.4"/>
<circle cx="152.9" cy="413.8" r="1.4"/>
<circle cx="135.8" cy="409.5" r="1.4"/>
<circle cx="154.4" cy="413.5" r="1.4"/>
<circle cx="128.5" cy="413.2" r="1.4"/>
<circle cx="153.2" cy="414.4" r="1.4"/>
<circle cx="140.8" cy="415.9" r="1.4"/>
<circle cx="150.5" cy="412.9" r="1.4"/>
<circle cx="160.5" cy="410.6" r="1.4"/>
<circle cx="156" cy="415.8" r="1.4"/>
<circle cx="139.7" cy="403.8" r="1.4"/>
<circle cx="134.3" cy="410.9" r="1.4"/>
<circle cx="144.7" cy="414.3" r="1.4"/>
<circle cx="150.5" cy="403.1" r="1.4"/>
<circle cx="163.6" cy="412.7" r="1.4"/>
<circle cx="136.9" cy="410" r="1.4"/>
<circle cx="134.7" cy="413.9" r="1.4"/>
<circle cx="154" cy="408.5" r="1.4"/>
<circle cx="162.5" cy="413" r="1.4"/>
<circle cx="159.4" cy="413.9" r="1.4"/>
<circle cx="153.2" cy="407.3" r="1.4"/>
</g>
<g fill="#32CD32" fill-opacity="0.75">
<circle cx="174.3" cy="412.4" r="1.4"/>
<circle cx="205.2" cy="414.2" r="1.4"/>
<circle cx="194" cy="413.8" r="1.4"/>
<circle cx="196.2" cy="410" r="1.4"/>
<circle cx="192" cy="410.4" r="1.4"/>
<circle cx="175" cy="414.7" r="1.4"/>
<circle cx="198.4" cy="412.8" r="1.4"/>
<circle cx="206.2" cy="415.5" r="1.4"/>
<circle cx="176.5" cy="413.3" r="1.4"/>
<circle cx="192.7" cy="414.2" r="1.4"/>
<circle cx="184.8" cy="415.1" r="1.4"/>
<circle cx="173.3" cy="414" r="1.4"/>
<circle cx="193.9" cy="410.7" r="1.4"/>
<circle cx="177.9" cy="413.7" r="1.4"/>
<circle cx="189.9" cy="411" r="1.4"/>
<circle cx="184.5" cy="403" r="1.4"/>
<circle cx="173.7" cy="415.3" r="1.4"/>
<circle cx="183.4" cy="414.6" r="1.4"/>
<circle cx="202.1" cy="413.5" r="1.4"/>
<circle cx="194.4" cy="413.4" r="1.4"/>
<circle cx="206.8" cy="410.5" r="1.4"/>
<circle cx="176.1" cy="411.3" r="1.4"/>
<circle cx="197.7" cy="414.7" r="1.4"/>
<circle cx="191.4" cy="412.5" r="1.4"/>
<circle cx="184.4" cy="415.2" r="1.4"/>
<circle cx="176.3" cy="414.4" r="1.4"/>
<circle cx="206.8" cy="402.9" r="1.4"/>
<circle cx="194.7" cy="412.1" r="1.4"/>
<circle cx="187.9" cy="412.8" r="1.4"/>
<circle cx="188.6" cy="409" r="1.4"/>
<circle cx="202.4" cy="414.5" r="1.4"/>
<circle cx="183.1" cy="412.6" r="1.4"/>
<circle cx="190.6" cy="411.8" r="1.4"/>
<circle cx="185.7" cy="413.6" r="1.4"/>
<circle cx="203.5" cy="411.4" r="1.4"/>
<circle cx="182.1" cy="413.3" r="1.4"/>
<circle cx="173.3" cy="414.8" r="1.4"/>
<circle cx="176.5" cy="413.4" r="1.4"/>
<circle cx="201.2" cy="412.1" r="1.4"/>
<circle cx="200.3" cy="415.6" r="1.4"/>
<circle cx="185.1" cy="414.6" r="1.4"/>
<circle cx="185.8" cy="413.3" r="1.4"/>
<circle cx="184.4" cy="412.3" r="1.4"/>
<circle cx="186.3" cy="401.9" r="1.4"/>
<circle cx="194.5" cy="415.3" r="1.4"/>
<circle cx="192.6" cy="414.6" r="1.4"/>
<circle cx="195.8" cy="413.7" r="1.4"/>
<circle cx="191.6" cy="413.5" r="1.4"/>
<circle cx="200.4" cy="413.4" r="1.4"/>
<circle cx="189.2" cy="412.3" r="1.4"/>
<circle cx="199.3" cy="415.2" r="1.4"/>
<circle cx="179.9" cy="415.6" r="1.4"/>
<circle cx="185.6" cy="411.3" r="1.4"/>
<circle cx="196.3" cy="415.3" r="1.4"/>
<circle cx="176.9" cy="413.9" r="1.4"/>
<circle cx="200.4" cy="410.4" r="1.4"/>
<circle cx="187" cy="413.6" r="1.4"/>
<circle cx="206.9" cy="399.5" r="1.4"/>
<circle cx="180.2" cy="413.6" r="1.4"/>
<circle cx="179.6" cy="414.2" r="1.4"/>
<circle cx="178.5" cy="412.9" r="1.4"/>
<circle cx="195.1" cy="412.9" r="1.4"/>
<circle cx="188.6" cy="415" r="1.4"/>
<circle cx="188" cy="414" r="1.4"/>
<circle cx="207.7" cy="415.7" r="1.4"/>
<circle cx="184.2" cy="413.5" r="1.4"/>
<circle cx="188.6" cy="415.5" r="1.4"/>
<circle cx="177.9" cy="414.1" r="1.4"/>
<circle cx="191.1" cy="415.3" r="1.4"/>
<circle cx="176.7" cy="404" r="1.4"/>
<circle cx="179.5" cy="412.4" r="1.4"/>
<circle cx="189.2" cy="412.3" r="1.4"/>
<circle cx="185.5" cy="413.5" r="1.4"/>
<circle cx="197" cy="413" r="1.4"/>
<circle cx="198.2" cy="415.5" r="1.4"/>
<circle cx="197.7" cy="414.6" r="1.4"/>
<circle cx="206.2" cy="412.9" r="1.4"/>
<circle cx="191.7" cy="411.3" r="1.4"/>
<circle cx="181.2" cy="413.4" r="1.4"/>
<circle cx="198.5" cy="415.2" r="1.4"/>
<circle cx="178.8" cy="412" r="1.4"/>
<circle cx="206.5" cy="415.8" r="1.4"/>
<circle cx="178.9" cy="414.5" r="1.4"/>
<circle cx="182.7" cy="412.1" r="1.4"/>
<circle cx="202.7" cy="413.8" r="1.4"/>
<circle cx="186.6" cy="415.3" r="1.4"/>
<circle cx="177.6" cy="415.2" r="1.4"/>
<circle cx="189" cy="414.6" r="1.4"/>
<circle cx="186.9" cy="414.3" r="1.4"/>
<circle cx="182.5" cy="413.6" r="1.4"/>
<circle cx="183.3" cy="413.9" r="1.4"/>
<circle cx="199.6" cy="414.9" r="1.4"/>
<circle cx="206.5" cy="411.5" r="1.4"/>
<circle cx="182" cy="415.4" r="1.4"/>
<circle cx="175.9" cy="409.2" r="1.4"/>
<circle cx="201.4" cy="414.6" r="1.4"/>
<circle cx="192.4" cy="412.6" r="1.4"/>
<circle cx="199.6" cy="412.7" r="1.4"/>
<circle cx="178" cy="413.4" r="1.4"/>
<circle cx="196.1" cy="407.2" r="1.4"/>
<circle cx="175.9" cy="413.6" r="1.4"/>
<circle cx="184" cy="414.6" r="1.4"/>
<circle cx="197.5" cy="412.7" r="1.4"/>
<circle cx="185.1" cy="412.4" r="1.4"/>
<circle cx="193.1" cy="412" r="1.4"/>
<circle cx="192.6" cy="403.7" r="1.4"/>
<circle cx="201.6" cy="401.6" r="1.4"/>
<circle cx="179.2" cy="412.9" r="1.4"/>
<circle cx="193.1" cy="414.2" r="1.4"/>
<circle cx="201.9" cy="415.7" r="1.4"/>
<circle cx="195.3" cy="415.2" r="1.4"/>
<circle cx="174.1" cy="413.8" r="1.4"/>
<circle cx="185.4" cy="414.6" r="1.4"/>
<circle cx="199.2" cy="413.3" r="1.4"/>
<circle cx="186.2" cy="414.2" r="1.4"/>
<circle cx="195.6" cy="414.6" r="1.4"/>
<circle cx="188.4" cy="415.6" r="1.4"/>
<circle cx="194.2" cy="411.7" r="1.4"/>
<circle cx="181.9" cy="411.6" r="1.4"/>
<circle cx="206.7" cy="415" r="1.4"/>
<circle cx="175.6" cy="412.2" r="1.4"/>
<circle cx="196.5" cy="415.9" r="1.4"/>
<circle cx="172.6" cy="415.3" r="1.4"/>
<circle cx="174.9" cy="412.5" r="1.4"/>
<circle cx="188" cy="410.7" r="1.4"/>
<circle cx="197.3" cy="413.7" r="1.4"/>
<circle cx="198.8" cy="413.6" r="1.4"/>
<circle cx="173.1" cy="412.6" r="1.4"/>
<circle cx="180.1" cy="414.8" r="1.4"/>
<circle cx="180.1" cy="414.2" r="1.4"/>
<circle cx="184.2" cy="391.3" r="1.4"/>
<circle cx="196.8" cy="414.2" r="1.4"/>
<circle cx="193.4" cy="412.6" r="1.4"/>
<circle cx="206.1" cy="408.2" r="1.4"/>
<circle cx="207.6" cy="413.6" r="1.4"/>
<circle cx="190.8" cy="407.7" r="1.4"/>
<circle cx="193.9" cy="408.4" r="1.4"/>
<circle cx="172.9" cy="415.7" r="1.4"/>
<circle cx="182.5" cy="410.7" r="1.4"/>
<circle cx="190.7" cy="404.8" r="1.4"/>
<circle cx="204.4" cy="412.6" r="1.4"/>
<circle cx="182.3" cy="415.5" r="1.4"/>
<circle cx="190.2" cy="414.8" r="1.4"/>
<circle cx="195.4" cy="414.6" r="1.4"/>
<circle cx="201.5" cy="415.2" r="1.4"/>
<circle cx="200.6" cy="414.3" r="1.4"/>
<circle cx="207.6" cy="414.6" r="1.4"/>
<circle cx="193.4" cy="410.6" r="1.4"/>
<circle cx="197.1" cy="415.2" r="1.4"/>
<circle cx="174.3" cy="408.1" r="1.4"/>
<circle cx="179" cy="413.9" r="1.4"/>
<circle cx="192.8" cy="411.7" r="1.4"/>
<circle cx="202.4" cy="414.5" r="1.4"/>
<circle cx="201.9" cy="412.2" r="1.4"/>
<circle cx="206.8" cy="404" r="1.4"/>
<circle cx="185.7" cy="413.4" r="1.4"/>
<circle cx="180.7" cy="414.8" r="1.4"/>
<circle cx="177" cy="413.9" r="1.4"/>
<circle cx="199.1" cy="413.8" r="1.4"/>
<circle cx="184" cy="410.5" r="1.4"/>
<circle cx="202.8" cy="413.6" r="1.4"/>
<circle cx="183.5" cy="408.6" r="1.4"/>
<circle cx="188.9" cy="410.1" r="1.4"/>
<circle cx="200.5" cy="413.8" r="1.4"/>
<circle cx="188.8" cy="413.5" r="1.4"/>
<circle cx="178.9" cy="411.5" r="1.4"/>
<circle cx="177.7" cy="412.7" r="1.4"/>
<circle cx="187" cy="414.9" r="1.4"/>
<circle cx="185.6" cy="414.8" r="1.4"/>
<circle cx="189.8" cy="408.7" r="1.4"/>
<circle cx="186.5" cy="406.2" r="1.4"/>
<circle cx="182.3" cy="414.4" r="1.4"/>
<circle cx="207.3" cy="414.2" r="1.4"/>
<circle cx="193.6" cy="414.8" r="1.4"/>
<circle cx="175.3" cy="410.5" r="1.4"/>
<circle cx="194.6" cy="406.8" r="1.4"/>
<circle cx="176.2" cy="415.4" r="1.4"/>
<circle cx="185.5" cy="415.8" r="1.4"/>
<circle cx="199.8" cy="413.4" r="1.4"/>
<circle cx="177.2" cy="415.8" r="1.4"/>
<circle cx="206.4" cy="410.6" r="1.4"/>
<circle cx="182.8" cy="411.8" r="1.4"/>
<circle cx="178.2" cy="408.5" r="1.4"/>
<circle cx="175.2" cy="412.2" r="1.4"/>
<circle cx="173.8" cy="409" r="1.4"/>
<circle cx="202.4" cy="415" r="1.4"/>
<circle cx="173.4" cy="411.7" r="1.4"/>
<circle cx="186" cy="409.8" r="1.4"/>
<circle cx="187.3" cy="413" r="1.4"/>
<circle cx="174.3" cy="409.1" r="1.4"/>
<circle cx="193.8" cy="411.7" r="1.4"/>
<circle cx="193" cy="411" r="1.4"/>
<circle cx="188.8" cy="410.2" r="1.4"/>
<circle cx="183.3" cy="411.8" r="1.4"/>
<circle cx="190.2" cy="415.3" r="1.4"/>
<circle cx="200" cy="410.8" r="1.4"/>
<circle cx="184.6" cy="403.6" r="1.4"/>
<circle cx="185.6" cy="395.8" r="1.4"/>
<circle cx="187.2" cy="413.1" r="1.4"/>
<circle cx="185.6" cy="413.2" r="1.4"/>
<circle cx="187.9" cy="414.2" r="1.4"/>
<circle cx="178.1" cy="415.6" r="1.4"/>
<circle cx="193.3" cy="392" r="1.4"/>
<circle cx="206.9" cy="410.1" r="1.4"/>
<circle cx="182.5" cy="413.1" r="1.4"/>
<circle cx="188.5" cy="404.8" r="1.4"/>
<circle cx="183.6" cy="413.8" r="1.4"/>
<circle cx="205.3" cy="415.8" r="1.4"/>
<circle cx="179.7" cy="409.7" r="1.4"/>
<circle cx="202.3" cy="407" r="1.4"/>
<circle cx="187.9" cy="407.5" r="1.4"/>
<circle cx="175.3" cy="411.8" r="1.4"/>
<circle cx="202.9" cy="409.6" r="1.4"/>
<circle cx="187.4" cy="409.2" r="1.4"/>
<circle cx="196.4" cy="415.6" r="1.4"/>
<circle cx="193.8" cy="391.8" r="1.4"/>
<circle cx="183.5" cy="406.6" r="1.4"/>
<circle cx="179.2" cy="404.6" r="1.4"/>
<circle cx="173.2" cy="402.7" r="1.4"/>
<circle cx="199" cy="415.2" r="1.4"/>
<circle cx="172.8" cy="409.5" r="1.4"/>
<circle cx="174.4" cy="413.6" r="1.4"/>
<circle cx="179.7" cy="410.6" r="1.4"/>
<circle cx="179.7" cy="409.8" r="1.4"/>
<circle cx="174.8" cy="413.8" r="1.4"/>
<circle cx="173.4" cy="409.9" r="1.4"/>
<circle cx="175.7" cy="415.1" r="1.4"/>
<circle cx="183.7" cy="413.4" r="1.4"/>
<circle cx="198.9" cy="414.4" r="1.4"/>
<circle cx="187.1" cy="413.4" r="1.4"/>
<circle cx="176.8" cy="413.9" r="1.4"/>
<circle cx="189.7" cy="413.5" r="1.4"/>
<circle cx="202.3" cy="407.2" r="1.4"/>
<circle cx="188.8" cy="415.6" r="1.4"/>
<circle cx="195.2" cy="412.6" r="1.4"/>
<circle cx="196.1" cy="403.2" r="1.4"/>
<circle cx="205.1" cy="413.7" r="1.4"/>
<circle cx="187.7" cy="412" r="1.4"/>
<circle cx="205.8" cy="413.7" r="1.4"/>
<circle cx="205.5" cy="413.3" r="1.4"/>
<circle cx="176.8" cy="415.1" r="1.4"/>
<circle cx="203.5" cy="411.9" r="1.4"/>
<circle cx="179.6" cy="413.1" r="1.4"/>
<circle cx="178.2" cy="413.4" r="1.4"/>
<circle cx="182.5" cy="414.1" r="1.4"/>
<circle cx="177.8" cy="412" r="1.4"/>
<circle cx="199.4" cy="410.8" r="1.4"/>
<circle cx="203.4" cy="414" r="1.4"/>
<circle cx="177.8" cy="413.8" r="1.4"/>
<circle cx="183.3" cy="414.9" r="1.4"/>
<circle cx="179.3" cy="415" r="1.4"/>
<circle cx="173.2" cy="412.2" r="1.4"/>
<circle cx="198" cy="415.1" r="1.4"/>
<circle cx="205.5" cy="413.7" r="1.4"/>
<circle cx="204.4" cy="411.9" r="1.4"/>
<circle cx="173.2" cy="411.6" r="1.4"/>
<circle cx="198.7" cy="412.4" r="1.4"/>
<circle cx="186.7" cy="412.8" r="1.4"/>
<circle cx="178.9" cy="405.4" r="1.4"/>
<circle cx="183.6" cy="410" r="1.4"/>
<circle cx="190.7" cy="412.4" r="1.4"/>
<circle cx="190.8" cy="403.4" r="1.4"/>
<circle cx="182.4" cy="413.2" r="1.4"/>
<circle cx="176" cy="411.1" r="1.4"/>
<circle cx="181.8" cy="415.1" r="1.4"/>
<circle cx="194" cy="414.6" r="1.4"/>
<circle cx="184.7" cy="414.3" r="1.4"/>
<circle cx="180.7" cy="387.8" r="1.4"/>
<circle cx="187.1" cy="413.8" r="1.4"/>
<circle cx="201.7" cy="415.4" r="1.4"/>
<circle cx="190.4" cy="414.8" r="1.4"/>
<circle cx="189.4" cy="411.6" r="1.4"/>
<circle cx="192.9" cy="412.6" r="1.4"/>
<circle cx="191.8" cy="412.5" r="1.4"/>
<circle cx="197.6" cy="415.1" r="1.4"/>
<circle cx="205.7" cy="407.7" r="1.4"/>
<circle cx="180.1" cy="414.6" r="1.4"/>
<circle cx="180.4" cy="408.2" r="1.4"/>
<circle cx="187.2" cy="409.2" r="1.4"/>
<circle cx="176.1" cy="414.6" r="1.4"/>
<circle cx="187.7" cy="404" r="1.4"/>
<circle cx="207.7" cy="410.6" r="1.4"/>
<circle cx="192.5" cy="412.5" r="1.4"/>
<circle cx="183.5" cy="409.8" r="1.4"/>
<circle cx="181.9" cy="412.8" r="1.4"/>
<circle cx="198" cy="415.2" r="1.4"/>
<circle cx="191.8" cy="410" r="1.4"/>
<circle cx="189.4" cy="412.6" r="1.4"/>
<circle cx="205.6" cy="415.5" r="1.4"/>
<circle cx="190.8" cy="415.6" r="1.4"/>
<circle cx="178.3" cy="411.6" r="1.4"/>
<circle cx="179.9" cy="415.5" r="1.4"/>
<circle cx="193.7" cy="410.3" r="1.4"/>
<circle cx="200" cy="412.6" r="1.4"/>
<circle cx="207.3" cy="407.8" r="1.4"/>
<circle cx="197" cy="408.4" r="1.4"/>
<circle cx="206" cy="410.2" r="1.4"/>
<circle cx="188.2" cy="395.4" r="1.4"/>
<circle cx="180.8" cy="415.7" r="1.4"/>
<circle cx="180.4" cy="415.5" r="1.4"/>
<circle cx="202.4" cy="415.2" r="1.4"/>
<circle cx="206.1" cy="411.1" r="1.4"/>
<circle cx="181.6" cy="412.4" r="1.4"/>
<circle cx="199.4" cy="415.1" r="1.4"/>
<circle cx="179.2" cy="410.4" r="1.4"/>
<circle cx="193.7" cy="410.2" r="1.4"/>
<circle cx="196.3" cy="414.4" r="1.4"/>
<circle cx="199.2" cy="414.9" r="1.4"/>
<circle cx="178" cy="413.4" r="1.4"/>
<circle cx="207.6" cy="415.6" r="1.4"/>
<circle cx="205" cy="408.6" r="1.4"/>
<circle cx="180.1" cy="406.4" r="1.4"/>
<circle cx="193.7" cy="413.9" r="1.4"/>
<circle cx="185.1" cy="413.1" r="1.4"/>
<circle cx="183.1" cy="415.4" r="1.4"/>
<circle cx="198.2" cy="414.9" r="1.4"/>
<circle cx="194.9" cy="408.7" r="1.4"/>
<circle cx="173.9" cy="388.9" r="1.4"/>
<circle cx="195.1" cy="403" r="1.4"/>
<circle cx="173.4" cy="411.6" r="1.4"/>
<circle cx="195" cy="413.3" r="1.4"/>
<circle cx="194.8" cy="415.5" r="1.4"/>
<circle cx="182.7" cy="411.7" r="1.4"/>
<circle cx="189.3" cy="413.3" r="1.4"/>
<circle cx="204.1" cy="414.3" r="1.4"/>
<circle cx="172.7" cy="415.3" r="1.4"/>
<circle cx="199.7" cy="415" r="1.4"/>
<circle cx="172.7" cy="413.6" r="1.4"/>
<circle cx="183.3" cy="405.7" r="1.4"/>
<circle cx="200.5" cy="415.1" r="1.4"/>
<circle cx="176.6" cy="409.1" r="1.4"/>
<circle cx="186" cy="401.3" r="1.4"/>
<circle cx="198.7" cy="413" r="1.4"/>
<circle cx="196.9" cy="409" r="1.4"/>
<circle cx="176.8" cy="413.6" r="1.4"/>
<circle cx="202.1" cy="408.4" r="1.4"/>
<circle cx="175.6" cy="415.6" r="1.4"/>
<circle cx="178.9" cy="415" r="1.4"/>
<circle cx="194.3" cy="414.6" r="1.4"/>
<circle cx="207.4" cy="414.7" r="1.4"/>
<circle cx="197.7" cy="415.4" r="1.4"/>
<circle cx="186.6" cy="409.8" r="1.4"/>
<circle cx="198.2" cy="407.4" r="1.4"/>
<circle cx="200.7" cy="414.8" r="1.4"/>
<circle cx="206.6" cy="409.9" r="1.4"/>
<circle cx="196.4" cy="415.3" r="1.4"/>
<circle cx="198.3" cy="414.1" r="1.4"/>
<circle cx="176.4" cy="412.8" r="1.4"/>
<circle cx="203.7" cy="413.2" r="1.4"/>
<circle cx="185.2" cy="410.8" r="1.4"/>
<circle cx="207.7" cy="413.6" r="1.4"/>
<circle cx="188.5" cy="413.7" r="1.4"/>
<circle cx="189.7" cy="409.4" r="1.4"/>
<circle cx="181.5" cy="415.9" r="1.4"/>
<circle cx="190.1" cy="405" r="1.4"/>
<circle cx="177" cy="414" r="1.4"/>
<circle cx="177.6" cy="415.8" r="1.4"/>
<circle cx="196.2" cy="409.8" r="1.4"/>
<circle cx="173.6" cy="413.1" r="1.4"/>
<circle cx="174.7" cy="413.7" r="1.4"/>
<circle cx="174.7" cy="413.6" r="1.4"/>
<circle cx="193.7" cy="413.1" r="1.4"/>
<circle cx="193.1" cy="413.1" r="1.4"/>
<circle cx="181.6" cy="407.7" r="1.4"/>
<circle cx="189.5" cy="414.4" r="1.4"/>
<circle cx="198.7" cy="413.3" r="1.4"/>
<circle cx="199.1" cy="402.9" r="1.4"/>
<circle cx="206" cy="411.4" r="1.4"/>
<circle cx="205.9" cy="414.8" r="1.4"/>
<circle cx="192" cy="415.6" r="1.4"/>
<circle cx="192" cy="410.6" r="1.4"/>
<circle cx="191.7" cy="415.1" r="1.4"/>
<circle cx="185.1" cy="415.8" r="1.4"/>
<circle cx="179.3" cy="410.9" r="1.4"/>
<circle cx="198.6" cy="415.1" r="1.4"/>
<circle cx="173.3" cy="412.1" r="1.4"/>
<circle cx="197" cy="414.5" r="1.4"/>
<circle cx="183.2" cy="411.1" r="1.4"/>
<circle cx="187.9" cy="415.9" r="1.4"/>
<circle cx="174.3" cy="411.3" r="1.4"/>
<circle cx="192" cy="414.5" r="1.4"/>
<circle cx="172.5" cy="414.2" r="1.4"/>
<circle cx="176.1" cy="413.6" r="1.4"/>
<circle cx="207.8" cy="410.9" r="1.4"/>
<circle cx="186.5" cy="415.2" r="1.4"/>
<circle cx="174.1" cy="414.9" r="1.4"/>
<circle cx="180.7" cy="412.1" r="1.4"/>
<circle cx="180.4" cy="411.6" r="1.4"/>
<circle cx="180.6" cy="412.6" r="1.4"/>
<circle cx="184.2" cy="415.9" r="1.4"/>
<circle cx="192.5" cy="415.3" r="1.4"/>
<circle cx="190.8" cy="414.9" r="1.4"/>
<circle cx="177.4" cy="415.6" r="1.4"/>
<circle cx="181.6" cy="415.4" r="1.4"/>
<circle cx="207.7" cy="415.3" r="1.4"/>
<circle cx="200.1" cy="412.5" r="1.4"/>
<circle cx="200.8" cy="410.1" r="1.4"/>
<circle cx="206.7" cy="411.5" r="1.4"/>
<circle cx="183.8" cy="410.6" r="1.4"/>
<circle cx="172.5" cy="415.8" r="1.4"/>
<circle cx="197.1" cy="410.4" r="1.4"/>
<circle cx="175.6" cy="410.5" r="1.4"/>
<circle cx="187" cy="414.1" r="1.4"/>
<circle cx="199.8" cy="413.9" r="1.4"/>
<circle cx="206.2" cy="415.1" r="1.4"/>
<circle cx="196.1" cy="404.9" r="1.4"/>
<circle cx="204.9" cy="414.7" r="1.4"/>
<circle cx="182.8" cy="415.1" r="1.4"/>
<circle cx="207.3" cy="414.4" r="1.4"/>
<circle cx="187.6" cy="414.4" r="1.4"/>
<circle cx="185.7" cy="413.3" r="1.4"/>
<circle cx="184" cy="413.7" r="1.4"/>
<circle cx="180.9" cy="415.1" r="1.4"/>
<circle cx="180.1" cy="414.4" r="1.4"/>
<circle cx="192.7" cy="411.3" r="1.4"/>
<circle cx="207.2" cy="405.2" r="1.4"/>
<circle cx="173.8" cy="413.4" r="1.4"/>
<circle cx="186.3" cy="415.3" r="1.4"/>
<circle cx="190.2" cy="415.8" r="1.4"/>
<circle cx="202.1" cy="412.9" r="1.4"/>
<circle cx="176.8" cy="412.7" r="1.4"/>
<circle cx="181.2" cy="412.2" r="1.4"/>
<circle cx="178.4" cy="415.2" r="1.4"/>
<circle cx="200.3" cy="411.7" r="1.4"/>
<circle cx="185.5" cy="410.8" r="1.4"/>
<circle cx="194.6" cy="413.9" r="1.4"/>
<circle cx="202.5" cy="412" r="1.4"/>
<circle cx="192.5" cy="412.2" r="1.4"/>
<circle cx="195.3" cy="409.9" r="1.4"/>
<circle cx="188.6" cy="412.7" r="1.4"/>
<circle cx="198.4" cy="413.5" r="1.4"/>
<circle cx="177.1" cy="410.6" r="1.4"/>
<circle cx="185.2" cy="414.7" r="1.4"/>
<circle cx="193.6" cy="409.5" r="1.4"/>
<circle cx="204.7" cy="413.5" r="1.4"/>
<circle cx="196" cy="413.5" r="1.4"/>
<circle cx="198.4" cy="409.9" r="1.4"/>
<circle cx="199.7" cy="414.9" r="1.4"/>
<circle cx="194.6" cy="412.9" r="1.4"/>
<circle cx="182.6" cy="413.6" r="1.4"/>
<circle cx="205.8" cy="401.1" r="1.4"/>
<circle cx="196.5" cy="413.5" r="1.4"/>
<circle cx="198.7" cy="406.7" r="1.4"/>
<circle cx="175.6" cy="412.3" r="1.4"/>
<circle cx="174.4" cy="410" r="1.4"/>
<circle cx="200.6" cy="410.6" r="1.4"/>
<circle cx="184.8" cy="412.2" r="1.4"/>
<circle cx="204" cy="411.8" r="1.4"/>
<circle cx="188.2" cy="406.3" r="1.4"/>
<circle cx="207" cy="410.5" r="1.4"/>
<circle cx="187.8" cy="415.2" r="1.4"/>
<circle cx="200.9" cy="413.1" r="1.4"/>
<circle cx="196.1" cy="413.3" r="1.4"/>
<circle cx="179.9" cy="407.8" r="1.4"/>
<circle cx="180.7" cy="415.3" r="1.4"/>
<circle cx="181.8" cy="409.6" r="1.4"/>
<circle cx="186.6" cy="414" r="1.4"/>
<circle cx="174.8" cy="414.4" r="1.4"/>
<circle cx="189.9" cy="415.1" r="1.4"/>
<circle cx="195" cy="415.6" r="1.4"/>
<circle cx="201.7" cy="414.5" r="1.4"/>
<circle cx="195.2" cy="415.5" r="1.4"/>
<circle cx="176.3" cy="400.2" r="1.4"/>
<circle cx="186.5" cy="411.4" r="1.4"/>
<circle cx="174.6" cy="412" r="1.4"/>
<circle cx="174.8" cy="414.4" r="1.4"/>
<circle cx="185.2" cy="410.7" r="1.4"/>
<circle cx="174.5" cy="414.1" r="1.4"/>
<circle cx="195.2" cy="415.2" r="1.4"/>
<circle cx="204.9" cy="414.8" r="1.4"/>
<circle cx="201.6" cy="415" r="1.4"/>
<circle cx="204.1" cy="415.2" r="1.4"/>
<circle cx="195.9" cy="412.4" r="1.4"/>
<circle cx="195.9" cy="409.3" r="1.4"/>
<circle cx="175.3" cy="411.6" r="1.4"/>
<circle cx="197.3" cy="404.7" r="1.4"/>
<circle cx="203.3" cy="410.2" r="1.4"/>
<circle cx="179.6" cy="415.3" r="1.4"/>
<circle cx="200.1" cy="415.5" r="1.4"/>
<circle cx="189.4" cy="412.8" r="1.4"/>
<circle cx="187.9" cy="414.8" r="1.4"/>
<circle cx="205.9" cy="413.2" r="1.4"/>
<circle cx="187.1" cy="410.6" r="1.4"/>
<circle cx="186.5" cy="412.1" r="1.4"/>
<circle cx="192.7" cy="410.1" r="1.4"/>
<circle cx="201.4" cy="409.3" r="1.4"/>
<circle cx="181.4" cy="412.4" r="1.4"/>
<circle cx="182.9" cy="411.7" r="1.4"/>
<circle cx="192" cy="415" r="1.4"/>
<circle cx="201" cy="412.3" r="1.4"/>
<circle cx="203.2" cy="412.6" r="1.4"/>
<circle cx="199.7" cy="409.3" r="1.4"/>
<circle cx="198.2" cy="414.1" r="1.4"/>
<circle cx="199.6" cy="413.3" r="1.4"/>
<circle cx="206.1" cy="415.7" r="1.4"/>
<circle cx="182.5" cy="408.9" r="1.4"/>
<circle cx="177.4" cy="411.9" r="1.4"/>
<circle cx="198.1" cy="410.2" r="1.4"/>
<circle cx="201.1" cy="404.4" r="1.4"/>
<circle cx="189.2" cy="415.7" r="1.4"/>
<circle cx="182.6" cy="411.4" r="1.4"/>
<circle cx="205.3" cy="406" r="1.4"/>
<circle cx="189.4" cy="413.1" r="1.4"/>
<circle cx="180.9" cy="415.8" r="1.4"/>
<circle cx="197.1" cy="414.9" r="1.4"/>
<circle cx="201.2" cy="409.5" r="1.4"/>
<circle cx="192.2" cy="415.9" r="1.4"/>
<circle cx="192.3" cy="414.4" r="1.4"/>
<circle cx="203.9" cy="415.6" r="1.4"/>
<circle cx="201.8" cy="414.1" r="1.4"/>
<circle cx="203.1" cy="415.7" r="1.4"/>
<circle cx="199.8" cy="413.5" r="1.4"/>
<circle cx="197.6" cy="406.9" r="1.4"/>
<circle cx="181.6" cy="406.4" r="1.4"/>
<circle cx="196.8" cy="411" r="1.4"/>
<circle cx="177.6" cy="415.6" r="1.4"/>
<circle cx="188.4" cy="413.2" r="1.4"/>
<circle cx="197.6" cy="415.8" r="1.4"/>
<circle cx="173.7" cy="413.7" r="1.4"/>
<circle cx="205.4" cy="404.5" r="1.4"/>
<circle cx="174.3" cy="411.2" r="1.4"/>
<circle cx="183.4" cy="415.9" r="1.4"/>
<circle cx="183.4" cy="410.9" r="1.4"/>
<circle cx="189.7" cy="414.9" r="1.4"/>
<circle cx="202" cy="414.8" r="1.4"/>
<circle cx="207.3" cy="409" r="1.4"/>
<circle cx="175.7" cy="414.3" r="1.4"/>
<circle cx="188.6" cy="415.1" r="1.4"/>
<circle cx="185.9" cy="414.2" r="1.4"/>
<circle cx="182.9" cy="414.6" r="1.4"/>
<circle cx="201.6" cy="410.7" r="1.4"/>
<circle cx="183.3" cy="405.4" r="1.4"/>
<circle cx="189.9" cy="408.9" r="1.4"/>
<circle cx="188" cy="410.2" r="1.4"/>
<circle cx="186.3" cy="413.4" r="1.4"/>
<circle cx="187.7" cy="413.3" r="1.4"/>
<circle cx="177.3" cy="408.9" r="1.4"/>
<circle cx="180.8" cy="412.5" r="1.4"/>
<circle cx="203.8" cy="414.4" r="1.4"/>
<circle cx="175.7" cy="410.5" r="1.4"/>
<circle cx="204.2" cy="401.9" r="1.4"/>
<circle cx="186.2" cy="415.7" r="1.4"/>
<circle cx="191.8" cy="413.2" r="1.4"/>
<circle cx="192.6" cy="413.1" r="1.4"/>
<circle cx="183.9" cy="415" r="1.4"/>
<circle cx="199.2" cy="392.5" r="1.4"/>
<circle cx="207.7" cy="414.5" r="1.4"/>
<circle cx="172.8" cy="412.6" r="1.4"/>
<circle cx="204.6" cy="402.4" r="1.4"/>
<circle cx="203" cy="389.7" r="1.4"/>
<circle cx="190.9" cy="414.2" r="1.4"/>
<circle cx="179.4" cy="414.5" r="1.4"/>
<circle cx="193.9" cy="414.5" r="1.4"/>
<circle cx="194.5" cy="411.6" r="1.4"/>
<circle cx="199.2" cy="413.5" r="1.4"/>
<circle cx="207.3" cy="411" r="1.4"/>
<circle cx="184.8" cy="413.3" r="1.4"/>
<circle cx="190.6" cy="414.1" r="1.4"/>
<circle cx="184.7" cy="415.2" r="1.4"/>
<circle cx="189.6" cy="414" r="1.4"/>
<circle cx="199.8" cy="412.4" r="1.4"/>
<circle cx="183.4" cy="404.7" r="1.4"/>
<circle cx="180.4" cy="413.7" r="1.4"/>
<circle cx="195.2" cy="402" r="1.4"/>
<circle cx="181.5" cy="413.9" r="1.4"/>
<circle cx="179.1" cy="414.2" r="1.4"/>
<circle cx="182.8" cy="405.5" r="1.4"/>
<circle cx="200.7" cy="415.2" r="1.4"/>
<circle cx="207.4" cy="401.5" r="1.4"/>
<circle cx="190.1" cy="414.1" r="1.4"/>
<circle cx="204.1" cy="415.1" r="1.4"/>
<circle cx="176" cy="412.6" r="1.4"/>
<circle cx="182.1" cy="404.3" r="1.4"/>
<circle cx="177.9" cy="411.6" r="1.4"/>
<circle cx="195.5" cy="412.3" r="1.4"/>
<circle cx="184.5" cy="415.3" r="1.4"/>
<circle cx="182.5" cy="412.4" r="1.4"/>
<circle cx="187.3" cy="411.2" r="1.4"/>
<circle cx="183" cy="414.3" r="1.4"/>
<circle cx="190.3" cy="411.7" r="1.4"/>
<circle cx="184.4" cy="415" r="1.4"/>
<circle cx="207.1" cy="411.5" r="1.4"/>
<circle cx="200.3" cy="404.9" r="1.4"/>
<circle cx="203.1" cy="414.4" r="1.4"/>
<circle cx="187.1" cy="414.1" r="1.4"/>
<circle cx="199.9" cy="412.8" r="1.4"/>
<circle cx="173.6" cy="412.7" r="1.4"/>
<circle cx="204.7" cy="412" r="1.4"/>
<circle cx="205.4" cy="414.4" r="1.4"/>
<circle cx="172.8" cy="411.5" r="1.4"/>
<circle cx="175.1" cy="415" r="1.4"/>
<circle cx="175.8" cy="412.9" r="1.4"/>
<circle cx="202.2" cy="410.5" r="1.4"/>
<circle cx="192.1" cy="415.4" r="1.4"/>
<circle cx="204.6" cy="412.8" r="1.4"/>
<circle cx="195.3" cy="410.5" r="1.4"/>
<circle cx="195.4" cy="413.5" r="1.4"/>
<circle cx="191.1" cy="407.4" r="1.4"/>
<circle cx="183.9" cy="405.3" r="1.4"/>
<circle cx="189.8" cy="408.7" r="1.4"/>
<circle cx="207.8" cy="408.5" r="1.4"/>
<circle cx="181" cy="414.2" r="1.4"/>
<circle cx="180.5" cy="408.3" r="1.4"/>
<circle cx="194.3" cy="412.4" r="1.4"/>
<circle cx="193.5" cy="414.7" r="1.4"/>
<circle cx="176.4" cy="415.9" r="1.4"/>
<circle cx="172.9" cy="412.8" r="1.4"/>
<circle cx="191.6" cy="411.3" r="1.4"/>
<circle cx="201.4" cy="414.1" r="1.4"/>
<circle cx="179.1" cy="411.9" r="1.4"/>
<circle cx="189" cy="394" r="1.4"/>
<circle cx="184.5" cy="412.6" r="1.4"/>
<circle cx="177" cy="409.1" r="1.4"/>
<circle cx="174" cy="413.6" r="1.4"/>
<circle cx="185.6" cy="415.7" r="1.4"/>
<circle cx="177.7" cy="402.2" r="1.4"/>
<circle cx="194.3" cy="414.9" r="1.4"/>
<circle cx="190.8" cy="415.5" r="1.4"/>
<circle cx="174" cy="414" r="1.4"/>
<circle cx="178.8" cy="414.8" r="1.4"/>
<circle cx="191.7" cy="414.8" r="1.4"/>
<circle cx="206.4" cy="410.5" r="1.4"/>
<circle cx="202.4" cy="412.9" r="1.4"/>
<circle cx="193.9" cy="414.5" r="1.4"/>
<circle cx="194.6" cy="414.1" r="1.4"/>
<circle cx="199.8" cy="415.3" r="1.4"/>
<circle cx="200.7" cy="412" r="1.4"/>
<circle cx="174.2" cy="415.1" r="1.4"/>
<circle cx="196.4" cy="403.8" r="1.4"/>
<circle cx="193.7" cy="412.3" r="1.4"/>
<circle cx="175.6" cy="412.2" r="1.4"/>
<circle cx="202.6" cy="412.9" r="1.4"/>
<circle cx="179.1" cy="410.7" r="1.4"/>
<circle cx="199.4" cy="412.8" r="1.4"/>
<circle cx="175.7" cy="412.8" r="1.4"/>
<circle cx="192.4" cy="412.9" r="1.4"/>
<circle cx="206.5" cy="414" r="1.4"/>
<circle cx="172.8" cy="387.8" r="1.4"/>
<circle cx="192.3" cy="414.2" r="1.4"/>
<circle cx="181.6" cy="413.5" r="1.4"/>
<circle cx="202.8" cy="413.9" r="1.4"/>
<circle cx="197.5" cy="414.1" r="1.4"/>
<circle cx="207.8" cy="411.1" r="1.4"/>
<circle cx="174.9" cy="411.6" r="1.4"/>
<circle cx="194.1" cy="414.4" r="1.4"/>
<circle cx="175.1" cy="415.2" r="1.4"/>
<circle cx="194.4" cy="409" r="1.4"/>
<circle cx="178.9" cy="407.2" r="1.4"/>
<circle cx="175" cy="406.9" r="1.4"/>
<circle cx="202" cy="415.2" r="1.4"/>
</g>
<path d="M52.5,412 A7.9,4.2 0 0 0 68.3,412 L68.3,411.7 L68.2,411.3 L68.2,411 L68.2,410.7 L68.1,410.3 L68.1,410 L68,409.8 L67.9,409.6 L67.8,409.4 L67.8,409.2 L67.7,409 L67.6,408.8 L67.5,408.5 L67.4,408.1 L67.3,407.8 L67.2,407.5 L67.1,407.1 L67,406.8 L66.8,406.5 L66.7,406.1 L66.5,405.8 L66.3,405.5 L66.2,405.1 L66,404.8 L65.6,404.4 L65.2,404 L64.8,403.6 L64.4,403.3 L64,402.9 L63.6,402.5 L63.3,402.2 L63,401.8 L62.6,401.5 L62.3,401.2 L62,400.8 L61.7,400.5 L61.6,400.2 L61.5,399.8 L61.4,399.5 L61.3,399.2 L61.2,398.8 L61.1,398.5 L61,397.6 L61,396.7 L60.9,395.8 L60.8,394.8 L60.8,393.9 L60.7,393 L60.7,370.6 L60.6,348.2 L60.6,325.8 L60.6,303.4 L60.5,281 L60.5,258.6 L60.3,258.6 L60.2,281 L60.2,303.4 L60.2,325.8 L60.2,348.2 L60.1,370.6 L60.1,393 L60,393.9 L60,394.8 L59.9,395.8 L59.8,396.7 L59.8,397.6 L59.7,398.5 L59.6,398.8 L59.5,399.2 L59.4,399.5 L59.3,399.8 L59.2,400.2 L59.1,400.5 L58.8,400.8 L58.5,401.2 L58.1,401.5 L57.8,401.8 L57.5,402.2 L57.2,402.5 L56.8,402.9 L56.4,403.3 L56,403.6 L55.6,404 L55.2,404.4 L54.8,404.8 L54.6,405.1 L54.5,405.5 L54.3,405.8 L54.1,406.1 L54,406.5 L53.8,406.8 L53.7,407.1 L53.6,407.5 L53.5,407.8 L53.4,408.1 L53.3,408.5 L53.2,408.8 L53.1,409 L53,409.2 L52.9,409.4 L52.9,409.6 L52.8,409.8 L52.7,410 L52.7,410.3 L52.6,410.7 L52.6,411 L52.6,411.3 L52.5,411.7 Z" fill="none" stroke="#000" stroke-width="1.2" stroke-linejoin="round"/>
<line x1="53.6" y1="408.8" x2="67.2" y2="408.8" stroke="#000" stroke-width="1.08"/>
<path d="M85.1,414.4 A17.8,1.5 0 0 0 120.7,414.4 L119.9,414.2 L119.1,414.1 L118.3,413.9 L117.5,413.8 L116.7,413.6 L115.9,413.5 L115.2,413.2 L114.6,413 L113.9,412.8 L113.2,412.5 L112.6,412.2 L111.9,412 L111.4,411.7 L110.8,411.3 L110.3,411 L109.8,410.7 L109.2,410.3 L108.7,410 L108.2,409.5 L107.7,409 L107.2,408.5 L106.8,408 L106.3,407.5 L105.8,407 L105.5,406.5 L105.1,406.1 L104.8,405.6 L104.5,405.1 L104.1,404.7 L103.8,404.2 L103.7,403.8 L103.6,403.5 L103.5,403.1 L103.4,402.7 L103.3,402.4 L103.2,402 L103.2,399.6 L103.2,397.2 L103.2,394.9 L103.1,392.5 L103.1,390.1 L103.1,387.7 L102.8,387.7 L102.7,390.1 L102.7,392.5 L102.7,394.9 L102.6,397.2 L102.6,399.6 L102.6,402 L102.5,402.4 L102.4,402.7 L102.3,403.1 L102.2,403.5 L102.1,403.8 L102,404.2 L101.7,404.7 L101.3,405.1 L101,405.6 L100.7,406.1 L100.3,406.5 L100,407 L99.5,407.5 L99,408 L98.6,408.5 L98.1,409 L97.6,409.5 L97.1,410 L96.6,410.3 L96,410.7 L95.5,411 L95,411.3 L94.4,411.7 L93.9,412 L93.2,412.2 L92.6,412.5 L91.9,412.8 L91.2,413 L90.6,413.2 L89.9,413.5 L89.1,413.6 L88.3,413.8 L87.5,413.9 L86.7,414.1 L85.9,414.2 Z" fill="none" stroke="#000" stroke-width="1.2" stroke-linejoin="round"/>
<line x1="87.1" y1="412.9" x2="118.7" y2="412.9" stroke="#000" stroke-width="1.08"/>
<path d="M126.9,414.4 A19.4,1.3 0 0 0 165.7,414.4 L165,414.2 L164.2,414.1 L163.5,413.9 L162.8,413.8 L162,413.6 L161.3,413.5 L160.7,413.3 L160.1,413.1 L159.6,412.9 L159,412.6 L158.4,412.4 L157.8,412.2 L157.2,411.9 L156.6,411.6 L156.1,411.4 L155.5,411.1 L154.9,410.8 L154.3,410.5 L153.8,410.1 L153.3,409.7 L152.8,409.4 L152.3,409 L151.8,408.6 L151.3,408.2 L150.8,407.8 L150.3,407.3 L149.8,406.9 L149.3,406.4 L148.8,405.9 L148.3,405.5 L148.1,405.1 L147.9,404.7 L147.7,404.2 L147.4,403.8 L147.2,403.4 L147,403 L146.9,402.7 L146.9,402.3 L146.8,402 L146.8,401.7 L146.7,401.3 L146.7,401 L146.6,398.6 L146.6,396.3 L146.6,393.9 L146.5,391.5 L146.5,389.2 L146.5,386.8 L146.2,386.8 L146.1,389.2 L146.1,391.5 L146.1,393.9 L146,396.3 L146,398.6 L146,401 L145.9,401.3 L145.8,401.7 L145.8,402 L145.7,402.3 L145.7,402.7 L145.6,403 L145.4,403.4 L145.2,403.8 L145,404.2 L144.7,404.7 L144.5,405.1 L144.3,405.5 L143.8,405.9 L143.3,406.4 L142.8,406.9 L142.3,407.3 L141.8,407.8 L141.3,408.2 L140.8,408.6 L140.3,409 L139.8,409.4 L139.3,409.7 L138.8,410.1 L138.3,410.5 L137.7,410.8 L137.1,411.1 L136.6,411.4 L136,411.6 L135.4,411.9 L134.8,412.2 L134.2,412.4 L133.6,412.6 L133.1,412.9 L132.5,413.1 L131.9,413.3 L131.3,413.5 L130.6,413.6 L129.8,413.8 L129.1,413.9 L128.4,414.1 L127.6,414.2 Z" fill="none" stroke="#000" stroke-width="1.2" stroke-linejoin="round"/>
<line x1="128.8" y1="412.9" x2="163.8" y2="412.9" stroke="#000" stroke-width="1.08"/>
<path d="M172.9,414.4 A17.4,1.3 0 0 0 207.7,414.4 L207.1,414.2 L206.4,414.1 L205.8,413.9 L205.1,413.8 L204.5,413.6 L203.8,413.5 L203.3,413.3 L202.8,413.1 L202.3,412.9 L201.8,412.6 L201.3,412.4 L200.8,412.2 L200.3,411.9 L199.8,411.6 L199.3,411.4 L198.8,411.1 L198.3,410.8 L197.8,410.5 L197.3,410.1 L196.8,409.7 L196.3,409.4 L195.8,409 L195.3,408.6 L194.8,408.2 L194.4,407.8 L193.9,407.4 L193.5,407 L193,406.6 L192.6,406.2 L192.1,405.8 L191.9,405.5 L191.7,405.2 L191.5,404.9 L191.2,404.6 L191,404.3 L190.8,404 L190.7,401.2 L190.7,398.4 L190.6,395.6 L190.6,392.8 L190.5,390 L190.5,387.2 L190.2,387.2 L190.1,390 L190,392.8 L190,395.6 L189.9,398.4 L189.9,401.2 L189.8,404 L189.6,404.3 L189.4,404.6 L189.2,404.9 L188.9,405.2 L188.7,405.5 L188.5,405.8 L188.1,406.2 L187.6,406.6 L187.2,407 L186.7,407.4 L186.2,407.8 L185.8,408.2 L185.3,408.6 L184.8,409 L184.3,409.4 L183.8,409.7 L183.3,410.1 L182.8,410.5 L182.3,410.8 L181.8,411.1 L181.3,411.4 L180.8,411.6 L180.3,411.9 L179.8,412.2 L179.3,412.4 L178.8,412.6 L178.3,412.9 L177.8,413.1 L177.3,413.3 L176.8,413.5 L176.2,413.6 L175.5,413.8 L174.9,413.9 L174.2,414.1 L173.6,414.2 Z" fill="none" stroke="#000" stroke-width="1.2" stroke-linejoin="round"/>
<line x1="174.7" y1="412.9" x2="205.9" y2="412.9" stroke="#000" stroke-width="1.08"/>
<rect x="34.5" y="242.9" width="182.1" height="181" fill="none" stroke="#000" stroke-width="1.3"/>
<line x1="31.1" y1="250.4" x2="34.5" y2="250.4" stroke="#000" stroke-width="1.1"/>
<text x="27.1" y="253.4" font-size="8.4" text-anchor="end">100</text>
<line x1="31.1" y1="291.8" x2="34.5" y2="291.8" stroke="#000" stroke-width="1.1"/>
<text x="27.1" y="294.8" font-size="8.4" text-anchor="end">75</text>
<line x1="31.1" y1="333.1" x2="34.5" y2="333.1" stroke="#000" stroke-width="1.1"/>
<text x="27.1" y="336.2" font-size="8.4" text-anchor="end">50</text>
<line x1="31.1" y1="374.5" x2="34.5" y2="374.5" stroke="#000" stroke-width="1.1"/>
<text x="27.1" y="377.5" font-size="8.4" text-anchor="end">25</text>
<line x1="31.1" y1="415.9" x2="34.5" y2="415.9" stroke="#000" stroke-width="1.1"/>
<text x="27.1" y="418.9" font-size="8.4" text-anchor="end">0</text>
<text transform="translate(7.2,333.4) rotate(-90)" font-size="8.4" text-anchor="middle">Relative errors (%)</text>
<text x="51.8" y="250" font-size="7"><tspan font-style="italic">p</tspan>-value = 1.01e&#8722;25</text>
<text x="144.5" y="250" font-size="7"><tspan font-style="italic">p</tspan>-value = 0.289</text>
<path d="M60.4,257.1 V252.7 H103.6 V257.1 M146.6,257.1 V252.7 H190.4 V257.1" fill="none" stroke="#444" stroke-width="0.8"/>
<text x="63.9" y="292" font-size="7">ARE: 9.16%</text>
<text x="63.9" y="299.6" font-size="7">MRE: 3.14%</text>
<text x="87" y="369.1" font-size="7">ARE: 2.20%</text>
<text x="87" y="376.7" font-size="7">MRE: 1.63%</text>
<text x="129.3" y="369.1" font-size="7">ARE: 2.20%</text>
<text x="129.3" y="376.7" font-size="7">MRE: 1.54%</text>
<text x="174.3" y="369.1" font-size="7">ARE: 2.24%</text>
<text x="174.3" y="376.7" font-size="7">MRE: 1.68%</text>
<text x="57" y="433.6" font-size="7" text-anchor="middle">Excluded</text>
<text x="57" y="442" font-size="7" text-anchor="middle">super classes</text>
<text x="57" y="450.4" font-size="7" text-anchor="middle">(Simulation)</text>
<text x="105.6" y="433.6" font-size="7" text-anchor="middle">Excluded</text>
<text x="105.6" y="442" font-size="7" text-anchor="middle">super classes</text>
<text x="105.6" y="450.4" font-size="7" text-anchor="middle">(Normal)</text>
<text x="151.9" y="433.6" font-size="7" text-anchor="middle">Other</text>
<text x="151.9" y="442" font-size="7" text-anchor="middle">super classes</text>
<text x="151.9" y="450.4" font-size="7" text-anchor="middle">(Simulation)</text>
<text x="196.6" y="433.6" font-size="7" text-anchor="middle">Other</text>
<text x="196.6" y="442" font-size="7" text-anchor="middle">super classes</text>
<text x="196.6" y="450.4" font-size="7" text-anchor="middle">(Normal)</text>
<text x="231.8" y="245.3" font-size="13.4" font-weight="bold">e</text>
<g fill-opacity="0.6">
<circle cx="435.6" cy="405.9" r="1.65" fill="#FF3030"/>
<circle cx="430.9" cy="397" r="1.65" fill="#FF3030"/>
<circle cx="414.9" cy="399.5" r="1.65" fill="#FF3030"/>
<circle cx="429.8" cy="400.4" r="1.65" fill="#FF3030"/>
<circle cx="383.5" cy="344.7" r="1.65" fill="#1E90FF"/>
<circle cx="396.7" cy="410.5" r="1.65" fill="#FF3030"/>
<circle cx="376.8" cy="375" r="1.65" fill="#1E90FF"/>
<circle cx="434.9" cy="413.3" r="1.65" fill="#FF3030"/>
<circle cx="293" cy="348.4" r="1.65" fill="#FF3030"/>
<circle cx="357.7" cy="412.5" r="1.65" fill="#FF3030"/>
<circle cx="438.2" cy="410.6" r="1.65" fill="#FF3030"/>
<circle cx="346.9" cy="386.4" r="1.65" fill="#1E90FF"/>
<circle cx="422.7" cy="412.1" r="1.65" fill="#FF3030"/>
<circle cx="308.8" cy="380" r="1.65" fill="#1E90FF"/>
<circle cx="354.8" cy="414.3" r="1.65" fill="#1E90FF"/>
<circle cx="353" cy="410.6" r="1.65" fill="#FF3030"/>
<circle cx="389.8" cy="411.9" r="1.65" fill="#1E90FF"/>
<circle cx="400.8" cy="411" r="1.65" fill="#FF3030"/>
<circle cx="361.2" cy="403.7" r="1.65" fill="#1E90FF"/>
<circle cx="409.1" cy="397.9" r="1.65" fill="#FF3030"/>
<circle cx="417.3" cy="375.8" r="1.65" fill="#FF3030"/>
<circle cx="346.5" cy="412.7" r="1.65" fill="#FF3030"/>
<circle cx="431.7" cy="413.4" r="1.65" fill="#FF3030"/>
<circle cx="405.6" cy="412.9" r="1.65" fill="#FF3030"/>
<circle cx="391.2" cy="407.9" r="1.65" fill="#FF3030"/>
<circle cx="372.1" cy="389.1" r="1.65" fill="#1E90FF"/>
<circle cx="416.2" cy="406.7" r="1.65" fill="#FF3030"/>
<circle cx="435.1" cy="409.5" r="1.65" fill="#FF3030"/>
<circle cx="382.8" cy="414.5" r="1.65" fill="#FF3030"/>
<circle cx="372.4" cy="409.7" r="1.65" fill="#FF3030"/>
<circle cx="415.9" cy="327.3" r="1.65" fill="#FF3030"/>
<circle cx="396.8" cy="407.7" r="1.65" fill="#1E90FF"/>
<circle cx="428" cy="411" r="1.65" fill="#FF3030"/>
<circle cx="372.1" cy="393.1" r="1.65" fill="#FF3030"/>
<circle cx="311.6" cy="413.3" r="1.65" fill="#1E90FF"/>
<circle cx="350.3" cy="414.4" r="1.65" fill="#1E90FF"/>
<circle cx="340.1" cy="412.5" r="1.65" fill="#1E90FF"/>
<circle cx="374.8" cy="415.5" r="1.65" fill="#1E90FF"/>
<circle cx="428.1" cy="408" r="1.65" fill="#FF3030"/>
<circle cx="363.3" cy="388.2" r="1.65" fill="#1E90FF"/>
<circle cx="427.7" cy="396.2" r="1.65" fill="#FF3030"/>
<circle cx="379.6" cy="393.5" r="1.65" fill="#1E90FF"/>
<circle cx="380.6" cy="401.8" r="1.65" fill="#FF3030"/>
<circle cx="338" cy="264" r="1.65" fill="#1E90FF"/>
<circle cx="356.9" cy="398.6" r="1.65" fill="#1E90FF"/>
<circle cx="342.1" cy="394.9" r="1.65" fill="#1E90FF"/>
<circle cx="336.1" cy="414.4" r="1.65" fill="#1E90FF"/>
<circle cx="359.2" cy="353.8" r="1.65" fill="#FF3030"/>
<circle cx="413" cy="398.3" r="1.65" fill="#FF3030"/>
<circle cx="423.9" cy="322.3" r="1.65" fill="#FF3030"/>
<circle cx="425.5" cy="393.7" r="1.65" fill="#FF3030"/>
<circle cx="327.9" cy="402.4" r="1.65" fill="#1E90FF"/>
<circle cx="334.1" cy="398.8" r="1.65" fill="#1E90FF"/>
<circle cx="413.5" cy="406.9" r="1.65" fill="#FF3030"/>
<circle cx="429.6" cy="404" r="1.65" fill="#FF3030"/>
<circle cx="397" cy="387.2" r="1.65" fill="#FF3030"/>
<circle cx="438.6" cy="411.6" r="1.65" fill="#FF3030"/>
<circle cx="381.5" cy="414.6" r="1.65" fill="#1E90FF"/>
<circle cx="397.1" cy="410.4" r="1.65" fill="#FF3030"/>
<circle cx="339" cy="310.2" r="1.65" fill="#1E90FF"/>
<circle cx="341.7" cy="415.4" r="1.65" fill="#1E90FF"/>
<circle cx="369.4" cy="401.9" r="1.65" fill="#1E90FF"/>
<circle cx="432.4" cy="323.3" r="1.65" fill="#FF3030"/>
<circle cx="405.4" cy="406.2" r="1.65" fill="#FF3030"/>
<circle cx="440.8" cy="397.8" r="1.65" fill="#FF3030"/>
<circle cx="390.7" cy="311" r="1.65" fill="#1E90FF"/>
<circle cx="383.5" cy="400.9" r="1.65" fill="#1E90FF"/>
<circle cx="432.1" cy="381.8" r="1.65" fill="#FF3030"/>
<circle cx="426.4" cy="409.1" r="1.65" fill="#FF3030"/>
<circle cx="356.1" cy="398.7" r="1.65" fill="#FF3030"/>
<circle cx="386" cy="397.3" r="1.65" fill="#1E90FF"/>
<circle cx="358.3" cy="403.8" r="1.65" fill="#1E90FF"/>
<circle cx="410.9" cy="401" r="1.65" fill="#FF3030"/>
<circle cx="359.2" cy="377.2" r="1.65" fill="#1E90FF"/>
<circle cx="339.7" cy="380.4" r="1.65" fill="#1E90FF"/>
<circle cx="390.8" cy="415.5" r="1.65" fill="#1E90FF"/>
<circle cx="417.9" cy="403.5" r="1.65" fill="#FF3030"/>
<circle cx="380.3" cy="381.4" r="1.65" fill="#1E90FF"/>
<circle cx="417.2" cy="405" r="1.65" fill="#FF3030"/>
<circle cx="408.5" cy="388.1" r="1.65" fill="#FF3030"/>
<circle cx="440.6" cy="396.9" r="1.65" fill="#FF3030"/>
<circle cx="406.1" cy="387.2" r="1.65" fill="#FF3030"/>
<circle cx="347.7" cy="268.4" r="1.65" fill="#1E90FF"/>
<circle cx="419.1" cy="403.7" r="1.65" fill="#FF3030"/>
<circle cx="345.5" cy="367.4" r="1.65" fill="#1E90FF"/>
<circle cx="381.7" cy="381.5" r="1.65" fill="#1E90FF"/>
<circle cx="414" cy="413.3" r="1.65" fill="#FF3030"/>
<circle cx="384.1" cy="378.5" r="1.65" fill="#1E90FF"/>
<circle cx="336.5" cy="273.8" r="1.65" fill="#1E90FF"/>
<circle cx="354.2" cy="350.7" r="1.65" fill="#1E90FF"/>
<circle cx="411.5" cy="408.7" r="1.65" fill="#FF3030"/>
<circle cx="416.7" cy="413.8" r="1.65" fill="#FF3030"/>
<circle cx="373.8" cy="404.6" r="1.65" fill="#FF3030"/>
<circle cx="378.1" cy="409.8" r="1.65" fill="#1E90FF"/>
<circle cx="436" cy="410.3" r="1.65" fill="#FF3030"/>
<circle cx="383.4" cy="408.7" r="1.65" fill="#FF3030"/>
<circle cx="405.2" cy="412.8" r="1.65" fill="#FF3030"/>
<circle cx="339.9" cy="382.4" r="1.65" fill="#1E90FF"/>
<circle cx="354.8" cy="393.6" r="1.65" fill="#1E90FF"/>
<circle cx="380.4" cy="411.1" r="1.65" fill="#FF3030"/>
<circle cx="337.4" cy="255.1" r="1.65" fill="#1E90FF"/>
<circle cx="403.3" cy="407.7" r="1.65" fill="#FF3030"/>
<circle cx="351" cy="282.4" r="1.65" fill="#1E90FF"/>
<circle cx="400" cy="403.9" r="1.65" fill="#FF3030"/>
<circle cx="420.7" cy="409.1" r="1.65" fill="#FF3030"/>
<circle cx="380.7" cy="399.4" r="1.65" fill="#1E90FF"/>
<circle cx="394.9" cy="372.2" r="1.65" fill="#FF3030"/>
<circle cx="436.6" cy="407.8" r="1.65" fill="#FF3030"/>
<circle cx="419.3" cy="412.6" r="1.65" fill="#FF3030"/>
<circle cx="420.8" cy="406.9" r="1.65" fill="#FF3030"/>
<circle cx="436.8" cy="376.4" r="1.65" fill="#FF3030"/>
<circle cx="394.1" cy="377.3" r="1.65" fill="#1E90FF"/>
<circle cx="370.2" cy="386.8" r="1.65" fill="#1E90FF"/>
<circle cx="358.1" cy="411.5" r="1.65" fill="#1E90FF"/>
<circle cx="438.3" cy="414.3" r="1.65" fill="#FF3030"/>
<circle cx="333.9" cy="383.7" r="1.65" fill="#1E90FF"/>
<circle cx="437.2" cy="402.9" r="1.65" fill="#FF3030"/>
<circle cx="379.9" cy="361" r="1.65" fill="#1E90FF"/>
<circle cx="347.9" cy="367.1" r="1.65" fill="#1E90FF"/>
<circle cx="422.9" cy="410.3" r="1.65" fill="#FF3030"/>
<circle cx="364.1" cy="391.3" r="1.65" fill="#1E90FF"/>
<circle cx="396.3" cy="393.4" r="1.65" fill="#FF3030"/>
<circle cx="363.8" cy="402" r="1.65" fill="#1E90FF"/>
<circle cx="374.3" cy="403" r="1.65" fill="#FF3030"/>
<circle cx="423.7" cy="410.1" r="1.65" fill="#FF3030"/>
<circle cx="339.1" cy="411.9" r="1.65" fill="#1E90FF"/>
<circle cx="411.3" cy="398.4" r="1.65" fill="#FF3030"/>
<circle cx="432.7" cy="353" r="1.65" fill="#FF3030"/>
<circle cx="419.6" cy="414.9" r="1.65" fill="#FF3030"/>
<circle cx="436.4" cy="384.4" r="1.65" fill="#FF3030"/>
<circle cx="311.6" cy="379.3" r="1.65" fill="#1E90FF"/>
<circle cx="372.4" cy="391.4" r="1.65" fill="#1E90FF"/>
<circle cx="433.5" cy="389.2" r="1.65" fill="#FF3030"/>
<circle cx="397.7" cy="411.1" r="1.65" fill="#FF3030"/>
<circle cx="371.4" cy="282.4" r="1.65" fill="#1E90FF"/>
<circle cx="361.9" cy="404.6" r="1.65" fill="#FF3030"/>
<circle cx="439.9" cy="406.1" r="1.65" fill="#FF3030"/>
<circle cx="375.4" cy="410.2" r="1.65" fill="#1E90FF"/>
<circle cx="355.7" cy="409.7" r="1.65" fill="#1E90FF"/>
<circle cx="381.7" cy="389.2" r="1.65" fill="#1E90FF"/>
<circle cx="427.9" cy="407.5" r="1.65" fill="#FF3030"/>
<circle cx="392" cy="404.7" r="1.65" fill="#FF3030"/>
<circle cx="327" cy="396.4" r="1.65" fill="#1E90FF"/>
<circle cx="376" cy="402.8" r="1.65" fill="#1E90FF"/>
<circle cx="404" cy="393.5" r="1.65" fill="#1E90FF"/>
<circle cx="320.3" cy="407.4" r="1.65" fill="#1E90FF"/>
<circle cx="408.6" cy="378.8" r="1.65" fill="#FF3030"/>
<circle cx="437.8" cy="390.9" r="1.65" fill="#FF3030"/>
<circle cx="409.5" cy="407.6" r="1.65" fill="#FF3030"/>
<circle cx="424.5" cy="415.1" r="1.65" fill="#FF3030"/>
<circle cx="397" cy="411.1" r="1.65" fill="#FF3030"/>
<circle cx="356.1" cy="406.1" r="1.65" fill="#1E90FF"/>
<circle cx="396.4" cy="411.1" r="1.65" fill="#FF3030"/>
<circle cx="362.2" cy="388.2" r="1.65" fill="#1E90FF"/>
<circle cx="337" cy="368.5" r="1.65" fill="#1E90FF"/>
<circle cx="392.8" cy="372.7" r="1.65" fill="#1E90FF"/>
<circle cx="424.4" cy="404.8" r="1.65" fill="#FF3030"/>
<circle cx="394.6" cy="395.5" r="1.65" fill="#FF3030"/>
<circle cx="405.2" cy="412.3" r="1.65" fill="#FF3030"/>
<circle cx="390.7" cy="388.2" r="1.65" fill="#FF3030"/>
<circle cx="348.1" cy="372.8" r="1.65" fill="#1E90FF"/>
<circle cx="370.5" cy="406.8" r="1.65" fill="#1E90FF"/>
<circle cx="338.7" cy="254.6" r="1.65" fill="#1E90FF"/>
<circle cx="431.1" cy="414.5" r="1.65" fill="#FF3030"/>
<circle cx="408.5" cy="409.6" r="1.65" fill="#FF3030"/>
<circle cx="368.4" cy="389.2" r="1.65" fill="#1E90FF"/>
<circle cx="389.5" cy="402.8" r="1.65" fill="#FF3030"/>
<circle cx="359.5" cy="406.8" r="1.65" fill="#FF3030"/>
<circle cx="357.5" cy="396.1" r="1.65" fill="#FF3030"/>
<circle cx="342.9" cy="405.7" r="1.65" fill="#1E90FF"/>
<circle cx="399" cy="415.9" r="1.65" fill="#FF3030"/>
<circle cx="376.4" cy="398.1" r="1.65" fill="#1E90FF"/>
<circle cx="377.8" cy="412.3" r="1.65" fill="#FF3030"/>
<circle cx="389.6" cy="393.7" r="1.65" fill="#1E90FF"/>
<circle cx="438.6" cy="399.4" r="1.65" fill="#FF3030"/>
<circle cx="437.1" cy="408.8" r="1.65" fill="#FF3030"/>
<circle cx="430.8" cy="403" r="1.65" fill="#FF3030"/>
<circle cx="351.8" cy="376" r="1.65" fill="#1E90FF"/>
<circle cx="377.4" cy="386.5" r="1.65" fill="#1E90FF"/>
<circle cx="339.4" cy="399.9" r="1.65" fill="#1E90FF"/>
<circle cx="316.5" cy="403.5" r="1.65" fill="#FF3030"/>
<circle cx="376" cy="397.1" r="1.65" fill="#1E90FF"/>
<circle cx="288.2" cy="387.9" r="1.65" fill="#FF3030"/>
<circle cx="374.6" cy="409.5" r="1.65" fill="#1E90FF"/>
<circle cx="403.1" cy="401.2" r="1.65" fill="#FF3030"/>
<circle cx="430.3" cy="407.8" r="1.65" fill="#FF3030"/>
<circle cx="406.3" cy="400" r="1.65" fill="#FF3030"/>
<circle cx="388.2" cy="400.2" r="1.65" fill="#1E90FF"/>
<circle cx="427.5" cy="412.4" r="1.65" fill="#FF3030"/>
<circle cx="298.7" cy="339.5" r="1.65" fill="#1E90FF"/>
<circle cx="400.7" cy="326.4" r="1.65" fill="#FF3030"/>
<circle cx="423.4" cy="403.6" r="1.65" fill="#FF3030"/>
<circle cx="415.6" cy="396.1" r="1.65" fill="#FF3030"/>
<circle cx="359.7" cy="409.1" r="1.65" fill="#FF3030"/>
<circle cx="361.1" cy="332.7" r="1.65" fill="#1E90FF"/>
<circle cx="415.6" cy="411.5" r="1.65" fill="#FF3030"/>
<circle cx="428.4" cy="414.9" r="1.65" fill="#FF3030"/>
<circle cx="390.7" cy="406.9" r="1.65" fill="#FF3030"/>
<circle cx="385.2" cy="389.6" r="1.65" fill="#FF3030"/>
<circle cx="329.5" cy="400.1" r="1.65" fill="#1E90FF"/>
<circle cx="409.3" cy="407.3" r="1.65" fill="#FF3030"/>
<circle cx="343.1" cy="401" r="1.65" fill="#1E90FF"/>
<circle cx="408.8" cy="413.3" r="1.65" fill="#FF3030"/>
<circle cx="347.2" cy="415.8" r="1.65" fill="#1E90FF"/>
<circle cx="346" cy="407.2" r="1.65" fill="#1E90FF"/>
<circle cx="372.1" cy="402.7" r="1.65" fill="#FF3030"/>
<circle cx="440" cy="404.8" r="1.65" fill="#FF3030"/>
<circle cx="412.9" cy="410" r="1.65" fill="#FF3030"/>
<circle cx="376.6" cy="381.2" r="1.65" fill="#FF3030"/>
<circle cx="347.1" cy="407.5" r="1.65" fill="#1E90FF"/>
<circle cx="404.3" cy="411.3" r="1.65" fill="#1E90FF"/>
<circle cx="435.1" cy="410" r="1.65" fill="#FF3030"/>
<circle cx="410.9" cy="411.2" r="1.65" fill="#FF3030"/>
<circle cx="413.2" cy="413.5" r="1.65" fill="#FF3030"/>
<circle cx="429.1" cy="411.3" r="1.65" fill="#FF3030"/>
<circle cx="401.9" cy="405.8" r="1.65" fill="#1E90FF"/>
<circle cx="369.3" cy="395.7" r="1.65" fill="#1E90FF"/>
<circle cx="365.9" cy="410.8" r="1.65" fill="#1E90FF"/>
<circle cx="361.1" cy="413.9" r="1.65" fill="#1E90FF"/>
<circle cx="328.9" cy="395" r="1.65" fill="#1E90FF"/>
<circle cx="350.7" cy="413.4" r="1.65" fill="#1E90FF"/>
<circle cx="391.3" cy="395" r="1.65" fill="#FF3030"/>
<circle cx="394.7" cy="412.6" r="1.65" fill="#FF3030"/>
<circle cx="423.4" cy="393.4" r="1.65" fill="#FF3030"/>
<circle cx="368.8" cy="405.3" r="1.65" fill="#1E90FF"/>
<circle cx="342.8" cy="391.8" r="1.65" fill="#1E90FF"/>
<circle cx="345.7" cy="363" r="1.65" fill="#1E90FF"/>
<circle cx="358.6" cy="280.7" r="1.65" fill="#1E90FF"/>
<circle cx="428.1" cy="382.4" r="1.65" fill="#FF3030"/>
<circle cx="306.5" cy="397.7" r="1.65" fill="#1E90FF"/>
<circle cx="331.4" cy="380" r="1.65" fill="#1E90FF"/>
<circle cx="422" cy="412.9" r="1.65" fill="#FF3030"/>
<circle cx="392" cy="410" r="1.65" fill="#1E90FF"/>
<circle cx="420.1" cy="414.4" r="1.65" fill="#FF3030"/>
<circle cx="410.3" cy="337" r="1.65" fill="#FF3030"/>
<circle cx="373.2" cy="407" r="1.65" fill="#1E90FF"/>
<circle cx="393.3" cy="406.5" r="1.65" fill="#1E90FF"/>
<circle cx="424" cy="408.5" r="1.65" fill="#FF3030"/>
<circle cx="392.9" cy="411.1" r="1.65" fill="#1E90FF"/>
<circle cx="402.9" cy="412.7" r="1.65" fill="#FF3030"/>
<circle cx="333.5" cy="356.3" r="1.65" fill="#1E90FF"/>
<circle cx="341.9" cy="373.9" r="1.65" fill="#1E90FF"/>
<circle cx="426" cy="413.3" r="1.65" fill="#FF3030"/>
<circle cx="379.6" cy="385.1" r="1.65" fill="#1E90FF"/>
<circle cx="355.3" cy="406.4" r="1.65" fill="#FF3030"/>
<circle cx="410.5" cy="392" r="1.65" fill="#FF3030"/>
<circle cx="436.1" cy="409" r="1.65" fill="#FF3030"/>
<circle cx="353.6" cy="404.9" r="1.65" fill="#1E90FF"/>
<circle cx="354.6" cy="382" r="1.65" fill="#1E90FF"/>
<circle cx="420" cy="384.3" r="1.65" fill="#FF3030"/>
<circle cx="397.5" cy="406.9" r="1.65" fill="#FF3030"/>
<circle cx="370.2" cy="409" r="1.65" fill="#1E90FF"/>
<circle cx="353.7" cy="382.5" r="1.65" fill="#FF3030"/>
<circle cx="402.7" cy="405" r="1.65" fill="#FF3030"/>
<circle cx="337.8" cy="393.9" r="1.65" fill="#1E90FF"/>
<circle cx="330.2" cy="392.6" r="1.65" fill="#1E90FF"/>
<circle cx="385.4" cy="354.2" r="1.65" fill="#1E90FF"/>
<circle cx="374.6" cy="412.8" r="1.65" fill="#1E90FF"/>
<circle cx="370.4" cy="408.3" r="1.65" fill="#1E90FF"/>
<circle cx="375.2" cy="397.4" r="1.65" fill="#FF3030"/>
<circle cx="401" cy="413.7" r="1.65" fill="#FF3030"/>
<circle cx="401.4" cy="393.8" r="1.65" fill="#FF3030"/>
<circle cx="412.8" cy="414.2" r="1.65" fill="#FF3030"/>
<circle cx="360" cy="414.1" r="1.65" fill="#1E90FF"/>
<circle cx="389.3" cy="412.4" r="1.65" fill="#FF3030"/>
<circle cx="365" cy="377.8" r="1.65" fill="#1E90FF"/>
<circle cx="392.5" cy="396.5" r="1.65" fill="#FF3030"/>
<circle cx="436.3" cy="392.2" r="1.65" fill="#FF3030"/>
<circle cx="350.9" cy="392.4" r="1.65" fill="#1E90FF"/>
<circle cx="416.3" cy="374.6" r="1.65" fill="#FF3030"/>
<circle cx="379.9" cy="392.5" r="1.65" fill="#FF3030"/>
<circle cx="411.8" cy="412.5" r="1.65" fill="#FF3030"/>
<circle cx="406.8" cy="310.4" r="1.65" fill="#FF3030"/>
<circle cx="425.5" cy="413" r="1.65" fill="#FF3030"/>
<circle cx="373.8" cy="414.2" r="1.65" fill="#1E90FF"/>
<circle cx="382.4" cy="406.9" r="1.65" fill="#1E90FF"/>
<circle cx="371.7" cy="407.4" r="1.65" fill="#1E90FF"/>
<circle cx="440" cy="416.1" r="1.65" fill="#FF3030"/>
<circle cx="358.6" cy="383.7" r="1.65" fill="#1E90FF"/>
<circle cx="397.1" cy="396.3" r="1.65" fill="#1E90FF"/>
<circle cx="401.4" cy="401.4" r="1.65" fill="#1E90FF"/>
<circle cx="417.6" cy="408.9" r="1.65" fill="#FF3030"/>
<circle cx="419.2" cy="411.2" r="1.65" fill="#FF3030"/>
<circle cx="369.1" cy="371.7" r="1.65" fill="#FF3030"/>
<circle cx="367" cy="397.7" r="1.65" fill="#FF3030"/>
<circle cx="379.3" cy="318.6" r="1.65" fill="#1E90FF"/>
<circle cx="430.5" cy="408.4" r="1.65" fill="#FF3030"/>
<circle cx="399.9" cy="412.7" r="1.65" fill="#FF3030"/>
<circle cx="344.8" cy="403.4" r="1.65" fill="#1E90FF"/>
<circle cx="440.1" cy="353.1" r="1.65" fill="#FF3030"/>
<circle cx="402.3" cy="397.6" r="1.65" fill="#FF3030"/>
<circle cx="423.5" cy="408.9" r="1.65" fill="#FF3030"/>
<circle cx="358" cy="395.5" r="1.65" fill="#FF3030"/>
<circle cx="382.2" cy="352.4" r="1.65" fill="#1E90FF"/>
<circle cx="355.2" cy="399.3" r="1.65" fill="#1E90FF"/>
<circle cx="434.9" cy="403.7" r="1.65" fill="#FF3030"/>
<circle cx="357.6" cy="376.9" r="1.65" fill="#1E90FF"/>
<circle cx="395" cy="402.5" r="1.65" fill="#FF3030"/>
<circle cx="432.7" cy="407.3" r="1.65" fill="#FF3030"/>
<circle cx="308.5" cy="380" r="1.65" fill="#1E90FF"/>
<circle cx="402.7" cy="386.4" r="1.65" fill="#1E90FF"/>
<circle cx="346.6" cy="377.8" r="1.65" fill="#1E90FF"/>
<circle cx="397.1" cy="414.2" r="1.65" fill="#FF3030"/>
<circle cx="396.4" cy="406.3" r="1.65" fill="#1E90FF"/>
<circle cx="358.1" cy="401.9" r="1.65" fill="#FF3030"/>
<circle cx="437.3" cy="404.1" r="1.65" fill="#FF3030"/>
<circle cx="400.7" cy="416.1" r="1.65" fill="#FF3030"/>
<circle cx="437.9" cy="416" r="1.65" fill="#FF3030"/>
<circle cx="368.5" cy="389.8" r="1.65" fill="#FF3030"/>
<circle cx="397.5" cy="361.1" r="1.65" fill="#FF3030"/>
<circle cx="388.4" cy="414.9" r="1.65" fill="#FF3030"/>
<circle cx="348.8" cy="415.8" r="1.65" fill="#1E90FF"/>
<circle cx="398.4" cy="385" r="1.65" fill="#1E90FF"/>
<circle cx="385" cy="395.1" r="1.65" fill="#1E90FF"/>
<circle cx="422.5" cy="408.3" r="1.65" fill="#FF3030"/>
<circle cx="380.9" cy="406.5" r="1.65" fill="#1E90FF"/>
<circle cx="381.2" cy="407.2" r="1.65" fill="#FF3030"/>
<circle cx="374" cy="413.2" r="1.65" fill="#1E90FF"/>
<circle cx="335.4" cy="308.6" r="1.65" fill="#1E90FF"/>
<circle cx="399.2" cy="365" r="1.65" fill="#FF3030"/>
<circle cx="439.1" cy="351.6" r="1.65" fill="#FF3030"/>
<circle cx="345.3" cy="286.3" r="1.65" fill="#1E90FF"/>
<circle cx="416.9" cy="406.3" r="1.65" fill="#FF3030"/>
<circle cx="418.3" cy="401.5" r="1.65" fill="#FF3030"/>
<circle cx="340.7" cy="257.9" r="1.65" fill="#1E90FF"/>
<circle cx="433.8" cy="382" r="1.65" fill="#FF3030"/>
<circle cx="353.7" cy="407.3" r="1.65" fill="#1E90FF"/>
<circle cx="346.9" cy="339.2" r="1.65" fill="#1E90FF"/>
<circle cx="424.9" cy="403.1" r="1.65" fill="#FF3030"/>
<circle cx="367" cy="402.9" r="1.65" fill="#1E90FF"/>
<circle cx="395.6" cy="394.4" r="1.65" fill="#1E90FF"/>
<circle cx="365.2" cy="412.9" r="1.65" fill="#1E90FF"/>
<circle cx="328.5" cy="402.2" r="1.65" fill="#1E90FF"/>
<circle cx="337" cy="363.4" r="1.65" fill="#1E90FF"/>
<circle cx="434.7" cy="372.7" r="1.65" fill="#FF3030"/>
<circle cx="362.7" cy="414.2" r="1.65" fill="#FF3030"/>
<circle cx="347.8" cy="379.2" r="1.65" fill="#1E90FF"/>
<circle cx="392.6" cy="326.7" r="1.65" fill="#1E90FF"/>
<circle cx="354.7" cy="395.9" r="1.65" fill="#1E90FF"/>
<circle cx="417.4" cy="395.4" r="1.65" fill="#FF3030"/>
<circle cx="395.1" cy="413.1" r="1.65" fill="#1E90FF"/>
<circle cx="363.1" cy="409.1" r="1.65" fill="#1E90FF"/>
<circle cx="361" cy="411.6" r="1.65" fill="#1E90FF"/>
<circle cx="434" cy="398" r="1.65" fill="#FF3030"/>
<circle cx="424.9" cy="402.4" r="1.65" fill="#FF3030"/>
<circle cx="418.7" cy="392.9" r="1.65" fill="#FF3030"/>
<circle cx="424.6" cy="393.7" r="1.65" fill="#FF3030"/>
<circle cx="371.1" cy="401.1" r="1.65" fill="#1E90FF"/>
<circle cx="432.4" cy="398.6" r="1.65" fill="#FF3030"/>
<circle cx="403.3" cy="392.8" r="1.65" fill="#FF3030"/>
<circle cx="352.5" cy="411.8" r="1.65" fill="#1E90FF"/>
<circle cx="435.6" cy="369.1" r="1.65" fill="#FF3030"/>
<circle cx="372.1" cy="389.4" r="1.65" fill="#1E90FF"/>
<circle cx="395.6" cy="411.2" r="1.65" fill="#1E90FF"/>
<circle cx="436.5" cy="399.2" r="1.65" fill="#FF3030"/>
<circle cx="431.1" cy="406.9" r="1.65" fill="#FF3030"/>
<circle cx="381.5" cy="404.4" r="1.65" fill="#FF3030"/>
<circle cx="435" cy="413.7" r="1.65" fill="#FF3030"/>
<circle cx="363.9" cy="403.7" r="1.65" fill="#FF3030"/>
<circle cx="403.4" cy="410.2" r="1.65" fill="#FF3030"/>
<circle cx="303.7" cy="373.8" r="1.65" fill="#FF3030"/>
<circle cx="431.8" cy="410.6" r="1.65" fill="#FF3030"/>
<circle cx="419.6" cy="411.8" r="1.65" fill="#FF3030"/>
<circle cx="431.3" cy="399.5" r="1.65" fill="#FF3030"/>
<circle cx="388.5" cy="415.8" r="1.65" fill="#1E90FF"/>
<circle cx="437.2" cy="400.8" r="1.65" fill="#FF3030"/>
<circle cx="344.4" cy="351.8" r="1.65" fill="#1E90FF"/>
<circle cx="435.3" cy="405.8" r="1.65" fill="#FF3030"/>
<circle cx="412.9" cy="407.9" r="1.65" fill="#FF3030"/>
<circle cx="335.8" cy="392.7" r="1.65" fill="#1E90FF"/>
<circle cx="339" cy="412" r="1.65" fill="#1E90FF"/>
<circle cx="436.6" cy="406" r="1.65" fill="#FF3030"/>
<circle cx="433.5" cy="406" r="1.65" fill="#FF3030"/>
<circle cx="409.3" cy="416.2" r="1.65" fill="#FF3030"/>
<circle cx="339.4" cy="284.3" r="1.65" fill="#1E90FF"/>
<circle cx="305.1" cy="412.7" r="1.65" fill="#1E90FF"/>
<circle cx="431.3" cy="380.2" r="1.65" fill="#FF3030"/>
<circle cx="343" cy="399.7" r="1.65" fill="#1E90FF"/>
<circle cx="402.5" cy="364.9" r="1.65" fill="#FF3030"/>
<circle cx="368.5" cy="396.8" r="1.65" fill="#1E90FF"/>
<circle cx="365.2" cy="403.6" r="1.65" fill="#1E90FF"/>
<circle cx="395.6" cy="409.7" r="1.65" fill="#1E90FF"/>
<circle cx="353" cy="407.6" r="1.65" fill="#FF3030"/>
<circle cx="389" cy="409.2" r="1.65" fill="#1E90FF"/>
<circle cx="369.3" cy="382.5" r="1.65" fill="#1E90FF"/>
<circle cx="351.7" cy="390.1" r="1.65" fill="#1E90FF"/>
<circle cx="395.9" cy="403.6" r="1.65" fill="#FF3030"/>
<circle cx="413.4" cy="329.4" r="1.65" fill="#FF3030"/>
<circle cx="401.2" cy="408.8" r="1.65" fill="#1E90FF"/>
<circle cx="377.8" cy="385.5" r="1.65" fill="#FF3030"/>
<circle cx="431.4" cy="382.2" r="1.65" fill="#FF3030"/>
<circle cx="373.1" cy="407.4" r="1.65" fill="#FF3030"/>
<circle cx="432.7" cy="353.7" r="1.65" fill="#FF3030"/>
<circle cx="332.1" cy="367.5" r="1.65" fill="#1E90FF"/>
<circle cx="415.2" cy="393.7" r="1.65" fill="#FF3030"/>
<circle cx="362.8" cy="403.7" r="1.65" fill="#1E90FF"/>
<circle cx="436.5" cy="387.6" r="1.65" fill="#FF3030"/>
<circle cx="431.3" cy="392.3" r="1.65" fill="#FF3030"/>
<circle cx="386" cy="393.9" r="1.65" fill="#1E90FF"/>
<circle cx="411.6" cy="335.1" r="1.65" fill="#FF3030"/>
<circle cx="425.7" cy="416.3" r="1.65" fill="#FF3030"/>
<circle cx="399.5" cy="355.7" r="1.65" fill="#FF3030"/>
<circle cx="424.4" cy="366.5" r="1.65" fill="#FF3030"/>
<circle cx="418.3" cy="408.4" r="1.65" fill="#FF3030"/>
<circle cx="391.4" cy="405.4" r="1.65" fill="#1E90FF"/>
<circle cx="370.2" cy="401.8" r="1.65" fill="#1E90FF"/>
<circle cx="395" cy="394.8" r="1.65" fill="#1E90FF"/>
<circle cx="404.4" cy="376.7" r="1.65" fill="#FF3030"/>
<circle cx="410.4" cy="388" r="1.65" fill="#FF3030"/>
<circle cx="425.4" cy="414.3" r="1.65" fill="#FF3030"/>
<circle cx="360" cy="398.3" r="1.65" fill="#1E90FF"/>
<circle cx="371.8" cy="411.2" r="1.65" fill="#FF3030"/>
<circle cx="413.5" cy="376.8" r="1.65" fill="#FF3030"/>
<circle cx="421.5" cy="406.9" r="1.65" fill="#FF3030"/>
<circle cx="410.1" cy="403.4" r="1.65" fill="#FF3030"/>
<circle cx="381.3" cy="356.3" r="1.65" fill="#1E90FF"/>
<circle cx="432.6" cy="411.2" r="1.65" fill="#FF3030"/>
<circle cx="440.6" cy="415.2" r="1.65" fill="#FF3030"/>
<circle cx="383.5" cy="386.7" r="1.65" fill="#FF3030"/>
<circle cx="406.7" cy="405.7" r="1.65" fill="#FF3030"/>
<circle cx="439.9" cy="384" r="1.65" fill="#FF3030"/>
<circle cx="344.4" cy="393" r="1.65" fill="#1E90FF"/>
<circle cx="440.2" cy="399.3" r="1.65" fill="#FF3030"/>
<circle cx="361.6" cy="407.5" r="1.65" fill="#FF3030"/>
<circle cx="390.1" cy="405.5" r="1.65" fill="#1E90FF"/>
<circle cx="415.3" cy="405.3" r="1.65" fill="#FF3030"/>
<circle cx="423.7" cy="415.6" r="1.65" fill="#FF3030"/>
<circle cx="391.7" cy="387" r="1.65" fill="#1E90FF"/>
<circle cx="354.4" cy="415.8" r="1.65" fill="#1E90FF"/>
<circle cx="317.3" cy="345.9" r="1.65" fill="#FF3030"/>
<circle cx="371.5" cy="366.1" r="1.65" fill="#1E90FF"/>
<circle cx="393.9" cy="407.9" r="1.65" fill="#1E90FF"/>
<circle cx="406.1" cy="409.1" r="1.65" fill="#FF3030"/>
<circle cx="350.8" cy="409.1" r="1.65" fill="#FF3030"/>
<circle cx="425.2" cy="391.4" r="1.65" fill="#FF3030"/>
<circle cx="383.7" cy="390.2" r="1.65" fill="#1E90FF"/>
<circle cx="356.3" cy="383.5" r="1.65" fill="#FF3030"/>
<circle cx="412.7" cy="413.3" r="1.65" fill="#FF3030"/>
<circle cx="359.5" cy="394.7" r="1.65" fill="#FF3030"/>
<circle cx="358.2" cy="413.2" r="1.65" fill="#1E90FF"/>
<circle cx="357" cy="405.7" r="1.65" fill="#1E90FF"/>
<circle cx="373.7" cy="401.2" r="1.65" fill="#1E90FF"/>
<circle cx="427.6" cy="400.8" r="1.65" fill="#FF3030"/>
<circle cx="396" cy="396.9" r="1.65" fill="#1E90FF"/>
<circle cx="367.9" cy="410.7" r="1.65" fill="#1E90FF"/>
<circle cx="418.7" cy="401.9" r="1.65" fill="#FF3030"/>
<circle cx="322" cy="398.4" r="1.65" fill="#1E90FF"/>
<circle cx="366.1" cy="399.7" r="1.65" fill="#1E90FF"/>
<circle cx="395.5" cy="402.2" r="1.65" fill="#1E90FF"/>
<circle cx="439.4" cy="361.4" r="1.65" fill="#FF3030"/>
<circle cx="433.6" cy="397.7" r="1.65" fill="#FF3030"/>
<circle cx="344.7" cy="400.7" r="1.65" fill="#1E90FF"/>
<circle cx="390.6" cy="384.4" r="1.65" fill="#FF3030"/>
<circle cx="432.8" cy="399.6" r="1.65" fill="#FF3030"/>
<circle cx="416.4" cy="405" r="1.65" fill="#FF3030"/>
<circle cx="390.3" cy="377.9" r="1.65" fill="#1E90FF"/>
<circle cx="393.3" cy="388.6" r="1.65" fill="#1E90FF"/>
<circle cx="349.2" cy="406.8" r="1.65" fill="#1E90FF"/>
<circle cx="324.7" cy="365.6" r="1.65" fill="#1E90FF"/>
<circle cx="424.7" cy="415.7" r="1.65" fill="#FF3030"/>
<circle cx="322" cy="365.6" r="1.65" fill="#FF3030"/>
<circle cx="392.3" cy="410.9" r="1.65" fill="#1E90FF"/>
<circle cx="433.7" cy="390.3" r="1.65" fill="#FF3030"/>
<circle cx="432.1" cy="397.4" r="1.65" fill="#FF3030"/>
<circle cx="388.6" cy="401.2" r="1.65" fill="#FF3030"/>
<circle cx="412.3" cy="393.2" r="1.65" fill="#FF3030"/>
<circle cx="406.5" cy="405.2" r="1.65" fill="#FF3030"/>
<circle cx="408.3" cy="399.5" r="1.65" fill="#FF3030"/>
<circle cx="392.2" cy="416.1" r="1.65" fill="#FF3030"/>
<circle cx="350.4" cy="410.5" r="1.65" fill="#1E90FF"/>
<circle cx="370.6" cy="406.1" r="1.65" fill="#1E90FF"/>
<circle cx="417.5" cy="375.5" r="1.65" fill="#FF3030"/>
<circle cx="440.3" cy="411.2" r="1.65" fill="#FF3030"/>
<circle cx="435" cy="387.1" r="1.65" fill="#FF3030"/>
<circle cx="352.5" cy="406.5" r="1.65" fill="#1E90FF"/>
<circle cx="384.9" cy="343.1" r="1.65" fill="#1E90FF"/>
<circle cx="384.2" cy="388.9" r="1.65" fill="#1E90FF"/>
<circle cx="414.9" cy="383.7" r="1.65" fill="#FF3030"/>
<circle cx="398.7" cy="403.4" r="1.65" fill="#FF3030"/>
<circle cx="419.1" cy="398.4" r="1.65" fill="#FF3030"/>
<circle cx="415.4" cy="397.8" r="1.65" fill="#FF3030"/>
<circle cx="370.4" cy="402.1" r="1.65" fill="#FF3030"/>
<circle cx="412.4" cy="415.6" r="1.65" fill="#FF3030"/>
<circle cx="372.8" cy="415.8" r="1.65" fill="#1E90FF"/>
<circle cx="393.4" cy="387.7" r="1.65" fill="#1E90FF"/>
<circle cx="414.3" cy="409.9" r="1.65" fill="#FF3030"/>
<circle cx="341.6" cy="327.3" r="1.65" fill="#1E90FF"/>
<circle cx="416.3" cy="400.9" r="1.65" fill="#FF3030"/>
<circle cx="429.2" cy="403.7" r="1.65" fill="#FF3030"/>
<circle cx="437.6" cy="406.7" r="1.65" fill="#FF3030"/>
<circle cx="398.4" cy="402.4" r="1.65" fill="#1E90FF"/>
<circle cx="413.9" cy="412.7" r="1.65" fill="#FF3030"/>
<circle cx="359.9" cy="411.4" r="1.65" fill="#FF3030"/>
<circle cx="433" cy="415.2" r="1.65" fill="#FF3030"/>
<circle cx="426.8" cy="406.8" r="1.65" fill="#FF3030"/>
<circle cx="431" cy="406.2" r="1.65" fill="#FF3030"/>
<circle cx="435.9" cy="401.4" r="1.65" fill="#FF3030"/>
<circle cx="350.9" cy="342.5" r="1.65" fill="#FF3030"/>
<circle cx="402" cy="414.4" r="1.65" fill="#1E90FF"/>
<circle cx="435.3" cy="382" r="1.65" fill="#FF3030"/>
<circle cx="295.5" cy="415.9" r="1.65" fill="#1E90FF"/>
<circle cx="419" cy="412.7" r="1.65" fill="#FF3030"/>
<circle cx="417.7" cy="396.9" r="1.65" fill="#FF3030"/>
<circle cx="402.1" cy="399.8" r="1.65" fill="#FF3030"/>
<circle cx="359.9" cy="393.8" r="1.65" fill="#1E90FF"/>
<circle cx="414" cy="393.8" r="1.65" fill="#FF3030"/>
<circle cx="350.7" cy="391.9" r="1.65" fill="#1E90FF"/>
<circle cx="346.8" cy="408.3" r="1.65" fill="#1E90FF"/>
<circle cx="349.4" cy="334.5" r="1.65" fill="#1E90FF"/>
<circle cx="356.4" cy="388.2" r="1.65" fill="#1E90FF"/>
<circle cx="431.4" cy="401.6" r="1.65" fill="#FF3030"/>
<circle cx="381.7" cy="399.8" r="1.65" fill="#1E90FF"/>
<circle cx="363.7" cy="415.5" r="1.65" fill="#1E90FF"/>
<circle cx="375.8" cy="414.9" r="1.65" fill="#1E90FF"/>
<circle cx="345.4" cy="312.4" r="1.65" fill="#1E90FF"/>
<circle cx="368.3" cy="395.8" r="1.65" fill="#FF3030"/>
<circle cx="391.5" cy="409" r="1.65" fill="#1E90FF"/>
<circle cx="357" cy="400.4" r="1.65" fill="#1E90FF"/>
<circle cx="337.3" cy="355.7" r="1.65" fill="#1E90FF"/>
<circle cx="418.1" cy="408.3" r="1.65" fill="#FF3030"/>
<circle cx="352.3" cy="399.8" r="1.65" fill="#1E90FF"/>
<circle cx="436.1" cy="405" r="1.65" fill="#FF3030"/>
<circle cx="384.8" cy="384.8" r="1.65" fill="#FF3030"/>
<circle cx="337.2" cy="257.4" r="1.65" fill="#1E90FF"/>
<circle cx="363.8" cy="372.5" r="1.65" fill="#1E90FF"/>
<circle cx="402.7" cy="415" r="1.65" fill="#FF3030"/>
<circle cx="439.8" cy="395.1" r="1.65" fill="#FF3030"/>
<circle cx="430" cy="405" r="1.65" fill="#FF3030"/>
<circle cx="374.2" cy="388.7" r="1.65" fill="#1E90FF"/>
<circle cx="373.3" cy="406.6" r="1.65" fill="#1E90FF"/>
<circle cx="360.4" cy="395.1" r="1.65" fill="#FF3030"/>
<circle cx="362.2" cy="404.1" r="1.65" fill="#1E90FF"/>
<circle cx="329.8" cy="416.4" r="1.65" fill="#1E90FF"/>
<circle cx="356.8" cy="399.3" r="1.65" fill="#1E90FF"/>
<circle cx="412.4" cy="384.3" r="1.65" fill="#FF3030"/>
<circle cx="371.1" cy="407.1" r="1.65" fill="#FF3030"/>
<circle cx="370.6" cy="411.1" r="1.65" fill="#1E90FF"/>
<circle cx="412.2" cy="401.4" r="1.65" fill="#FF3030"/>
<circle cx="334.6" cy="373.3" r="1.65" fill="#1E90FF"/>
<circle cx="415.2" cy="411.1" r="1.65" fill="#FF3030"/>
<circle cx="338.2" cy="374.7" r="1.65" fill="#1E90FF"/>
<circle cx="366.8" cy="357.5" r="1.65" fill="#1E90FF"/>
<circle cx="425" cy="408" r="1.65" fill="#FF3030"/>
<circle cx="440.5" cy="409.2" r="1.65" fill="#FF3030"/>
<circle cx="390.3" cy="403.8" r="1.65" fill="#1E90FF"/>
<circle cx="337.1" cy="408.1" r="1.65" fill="#1E90FF"/>
<circle cx="375.3" cy="340" r="1.65" fill="#1E90FF"/>
<circle cx="335.5" cy="389.2" r="1.65" fill="#1E90FF"/>
<circle cx="372.1" cy="379.3" r="1.65" fill="#1E90FF"/>
<circle cx="399.3" cy="414.4" r="1.65" fill="#FF3030"/>
<circle cx="397" cy="398.3" r="1.65" fill="#FF3030"/>
<circle cx="365" cy="401.5" r="1.65" fill="#FF3030"/>
<circle cx="418" cy="393.5" r="1.65" fill="#FF3030"/>
<circle cx="345.4" cy="397.2" r="1.65" fill="#1E90FF"/>
<circle cx="399.8" cy="381.5" r="1.65" fill="#FF3030"/>
<circle cx="373.7" cy="390.8" r="1.65" fill="#1E90FF"/>
<circle cx="377.2" cy="407.2" r="1.65" fill="#1E90FF"/>
<circle cx="428.8" cy="402.3" r="1.65" fill="#FF3030"/>
<circle cx="440.2" cy="368.8" r="1.65" fill="#FF3030"/>
<circle cx="420.4" cy="410.9" r="1.65" fill="#FF3030"/>
<circle cx="358.6" cy="396.4" r="1.65" fill="#FF3030"/>
<circle cx="342.4" cy="412.7" r="1.65" fill="#1E90FF"/>
<circle cx="409.2" cy="393.1" r="1.65" fill="#FF3030"/>
<circle cx="380.2" cy="399.6" r="1.65" fill="#1E90FF"/>
<circle cx="329" cy="399.3" r="1.65" fill="#1E90FF"/>
<circle cx="384.4" cy="401.8" r="1.65" fill="#1E90FF"/>
<circle cx="369" cy="397.2" r="1.65" fill="#FF3030"/>
<circle cx="419.9" cy="405.6" r="1.65" fill="#FF3030"/>
<circle cx="402.5" cy="404.6" r="1.65" fill="#FF3030"/>
<circle cx="376.9" cy="408.7" r="1.65" fill="#1E90FF"/>
<circle cx="430.8" cy="392.4" r="1.65" fill="#FF3030"/>
<circle cx="427.1" cy="413.9" r="1.65" fill="#FF3030"/>
<circle cx="411.5" cy="409.1" r="1.65" fill="#FF3030"/>
<circle cx="407.5" cy="405.8" r="1.65" fill="#FF3030"/>
<circle cx="356.2" cy="413.3" r="1.65" fill="#1E90FF"/>
<circle cx="382.7" cy="386.7" r="1.65" fill="#1E90FF"/>
<circle cx="407.3" cy="407.6" r="1.65" fill="#FF3030"/>
<circle cx="404.3" cy="410" r="1.65" fill="#FF3030"/>
<circle cx="339.5" cy="300.3" r="1.65" fill="#1E90FF"/>
<circle cx="385.6" cy="409.7" r="1.65" fill="#1E90FF"/>
<circle cx="435.8" cy="413.3" r="1.65" fill="#FF3030"/>
<circle cx="420.2" cy="406.7" r="1.65" fill="#FF3030"/>
<circle cx="390.6" cy="411.5" r="1.65" fill="#FF3030"/>
<circle cx="370.6" cy="356.8" r="1.65" fill="#1E90FF"/>
<circle cx="375.9" cy="378.3" r="1.65" fill="#1E90FF"/>
<circle cx="439" cy="412.7" r="1.65" fill="#FF3030"/>
<circle cx="421.2" cy="416" r="1.65" fill="#FF3030"/>
<circle cx="340.6" cy="387.4" r="1.65" fill="#1E90FF"/>
<circle cx="421.8" cy="415.8" r="1.65" fill="#FF3030"/>
<circle cx="403" cy="395.8" r="1.65" fill="#FF3030"/>
<circle cx="401.4" cy="409.4" r="1.65" fill="#FF3030"/>
<circle cx="334.2" cy="253" r="1.65" fill="#1E90FF"/>
<circle cx="433.2" cy="415.5" r="1.65" fill="#FF3030"/>
<circle cx="407.6" cy="411.7" r="1.65" fill="#FF3030"/>
<circle cx="434.8" cy="414.6" r="1.65" fill="#FF3030"/>
<circle cx="338.8" cy="370.7" r="1.65" fill="#1E90FF"/>
<circle cx="364.1" cy="390.6" r="1.65" fill="#1E90FF"/>
<circle cx="381.3" cy="343.4" r="1.65" fill="#FF3030"/>
<circle cx="376.8" cy="415.2" r="1.65" fill="#1E90FF"/>
<circle cx="375" cy="412.2" r="1.65" fill="#1E90FF"/>
<circle cx="424.2" cy="391.5" r="1.65" fill="#FF3030"/>
<circle cx="350.2" cy="410.2" r="1.65" fill="#1E90FF"/>
<circle cx="335.3" cy="414.3" r="1.65" fill="#1E90FF"/>
<circle cx="364.9" cy="375.3" r="1.65" fill="#1E90FF"/>
<circle cx="433.3" cy="402.3" r="1.65" fill="#FF3030"/>
<circle cx="437.6" cy="405.5" r="1.65" fill="#FF3030"/>
<circle cx="385.8" cy="409.9" r="1.65" fill="#FF3030"/>
<circle cx="440.6" cy="411.8" r="1.65" fill="#FF3030"/>
<circle cx="331.8" cy="392" r="1.65" fill="#1E90FF"/>
<circle cx="359.5" cy="352.5" r="1.65" fill="#1E90FF"/>
<circle cx="389.9" cy="412.4" r="1.65" fill="#1E90FF"/>
<circle cx="319.9" cy="366" r="1.65" fill="#1E90FF"/>
<circle cx="367" cy="410.2" r="1.65" fill="#1E90FF"/>
<circle cx="390.5" cy="411.3" r="1.65" fill="#1E90FF"/>
<circle cx="358" cy="407.3" r="1.65" fill="#1E90FF"/>
<circle cx="385.8" cy="380.2" r="1.65" fill="#1E90FF"/>
<circle cx="411.3" cy="346.7" r="1.65" fill="#FF3030"/>
<circle cx="426.2" cy="395" r="1.65" fill="#FF3030"/>
<circle cx="383.5" cy="406.3" r="1.65" fill="#1E90FF"/>
<circle cx="404.3" cy="393.4" r="1.65" fill="#FF3030"/>
<circle cx="374" cy="378.3" r="1.65" fill="#1E90FF"/>
<circle cx="382.6" cy="401.4" r="1.65" fill="#FF3030"/>
<circle cx="354.6" cy="409.7" r="1.65" fill="#1E90FF"/>
<circle cx="326" cy="409" r="1.65" fill="#FF3030"/>
<circle cx="419.2" cy="410.8" r="1.65" fill="#FF3030"/>
<circle cx="378.2" cy="370.8" r="1.65" fill="#FF3030"/>
<circle cx="429.7" cy="398.7" r="1.65" fill="#FF3030"/>
<circle cx="391" cy="380.2" r="1.65" fill="#FF3030"/>
<circle cx="429.8" cy="393" r="1.65" fill="#FF3030"/>
<circle cx="387.1" cy="410.2" r="1.65" fill="#1E90FF"/>
<circle cx="405.7" cy="395.3" r="1.65" fill="#1E90FF"/>
<circle cx="396.9" cy="382.4" r="1.65" fill="#1E90FF"/>
<circle cx="387.3" cy="364.9" r="1.65" fill="#1E90FF"/>
<circle cx="362.2" cy="397.4" r="1.65" fill="#1E90FF"/>
<circle cx="437.8" cy="392.2" r="1.65" fill="#FF3030"/>
<circle cx="398.1" cy="385.4" r="1.65" fill="#1E90FF"/>
<circle cx="401" cy="404.9" r="1.65" fill="#FF3030"/>
<circle cx="332.8" cy="402.3" r="1.65" fill="#1E90FF"/>
<circle cx="377.7" cy="411.4" r="1.65" fill="#1E90FF"/>
<circle cx="366.2" cy="402.1" r="1.65" fill="#FF3030"/>
<circle cx="420.5" cy="378.7" r="1.65" fill="#FF3030"/>
<circle cx="330.4" cy="377.9" r="1.65" fill="#1E90FF"/>
<circle cx="382.7" cy="381.5" r="1.65" fill="#FF3030"/>
<circle cx="437" cy="399.9" r="1.65" fill="#FF3030"/>
<circle cx="358.3" cy="368.1" r="1.65" fill="#FF3030"/>
<circle cx="388.6" cy="399.8" r="1.65" fill="#1E90FF"/>
<circle cx="382.1" cy="381.5" r="1.65" fill="#1E90FF"/>
<circle cx="337.4" cy="301.3" r="1.65" fill="#1E90FF"/>
<circle cx="338.3" cy="415.1" r="1.65" fill="#1E90FF"/>
<circle cx="416.1" cy="341.9" r="1.65" fill="#FF3030"/>
<circle cx="366.4" cy="272.8" r="1.65" fill="#FF3030"/>
<circle cx="407.8" cy="406" r="1.65" fill="#FF3030"/>
<circle cx="344.1" cy="258.3" r="1.65" fill="#1E90FF"/>
<circle cx="351" cy="406.1" r="1.65" fill="#FF3030"/>
<circle cx="430.8" cy="410.8" r="1.65" fill="#FF3030"/>
<circle cx="408.6" cy="390.2" r="1.65" fill="#1E90FF"/>
<circle cx="441.1" cy="403.7" r="1.65" fill="#FF3030"/>
<circle cx="427.8" cy="394.5" r="1.65" fill="#FF3030"/>
<circle cx="422.1" cy="403" r="1.65" fill="#FF3030"/>
<circle cx="412.6" cy="415.1" r="1.65" fill="#FF3030"/>
<circle cx="372.8" cy="411" r="1.65" fill="#FF3030"/>
<circle cx="427.1" cy="360.2" r="1.65" fill="#FF3030"/>
<circle cx="432.3" cy="388" r="1.65" fill="#FF3030"/>
<circle cx="307.3" cy="359.4" r="1.65" fill="#FF3030"/>
<circle cx="393.5" cy="402.7" r="1.65" fill="#1E90FF"/>
<circle cx="379.7" cy="402.1" r="1.65" fill="#1E90FF"/>
<circle cx="343" cy="391.4" r="1.65" fill="#1E90FF"/>
<circle cx="349.6" cy="383.2" r="1.65" fill="#1E90FF"/>
<circle cx="365.4" cy="407.3" r="1.65" fill="#1E90FF"/>
<circle cx="355.2" cy="392.6" r="1.65" fill="#FF3030"/>
<circle cx="380.1" cy="401.2" r="1.65" fill="#1E90FF"/>
<circle cx="421.2" cy="400.9" r="1.65" fill="#FF3030"/>
<circle cx="350.4" cy="407.7" r="1.65" fill="#1E90FF"/>
<circle cx="363.6" cy="409" r="1.65" fill="#1E90FF"/>
<circle cx="395.2" cy="396.7" r="1.65" fill="#1E90FF"/>
<circle cx="386.4" cy="357.2" r="1.65" fill="#1E90FF"/>
<circle cx="328.4" cy="394.6" r="1.65" fill="#1E90FF"/>
<circle cx="350.2" cy="376.9" r="1.65" fill="#FF3030"/>
<circle cx="383.6" cy="404.1" r="1.65" fill="#1E90FF"/>
<circle cx="389.5" cy="416" r="1.65" fill="#1E90FF"/>
<circle cx="325.2" cy="411.5" r="1.65" fill="#1E90FF"/>
<circle cx="354.6" cy="404.6" r="1.65" fill="#1E90FF"/>
<circle cx="420.9" cy="397.9" r="1.65" fill="#FF3030"/>
<circle cx="421.7" cy="370.3" r="1.65" fill="#FF3030"/>
<circle cx="405.9" cy="388" r="1.65" fill="#1E90FF"/>
<circle cx="436.7" cy="410.1" r="1.65" fill="#FF3030"/>
<circle cx="401" cy="408.6" r="1.65" fill="#FF3030"/>
<circle cx="337.3" cy="392" r="1.65" fill="#1E90FF"/>
<circle cx="349.8" cy="406.6" r="1.65" fill="#1E90FF"/>
<circle cx="441.1" cy="410.9" r="1.65" fill="#FF3030"/>
<circle cx="379" cy="342.6" r="1.65" fill="#1E90FF"/>
<circle cx="417.1" cy="403.8" r="1.65" fill="#FF3030"/>
<circle cx="362.1" cy="412.8" r="1.65" fill="#1E90FF"/>
<circle cx="419.2" cy="399.9" r="1.65" fill="#FF3030"/>
<circle cx="421.2" cy="399.4" r="1.65" fill="#FF3030"/>
<circle cx="408.1" cy="413.8" r="1.65" fill="#FF3030"/>
<circle cx="355.1" cy="269" r="1.65" fill="#1E90FF"/>
<circle cx="366.2" cy="414.7" r="1.65" fill="#1E90FF"/>
<circle cx="375.7" cy="400" r="1.65" fill="#FF3030"/>
<circle cx="410" cy="412" r="1.65" fill="#FF3030"/>
<circle cx="387.4" cy="387.4" r="1.65" fill="#FF3030"/>
<circle cx="400.1" cy="401.1" r="1.65" fill="#FF3030"/>
<circle cx="359.8" cy="367" r="1.65" fill="#1E90FF"/>
<circle cx="284.1" cy="390.7" r="1.65" fill="#FF3030"/>
<circle cx="347.3" cy="372.6" r="1.65" fill="#1E90FF"/>
<circle cx="434.1" cy="398.7" r="1.65" fill="#FF3030"/>
<circle cx="423" cy="404.6" r="1.65" fill="#FF3030"/>
<circle cx="408.1" cy="386.6" r="1.65" fill="#FF3030"/>
<circle cx="400.9" cy="413.5" r="1.65" fill="#FF3030"/>
<circle cx="427.2" cy="390.8" r="1.65" fill="#FF3030"/>
<circle cx="373.6" cy="398.6" r="1.65" fill="#1E90FF"/>
<circle cx="432.5" cy="361" r="1.65" fill="#FF3030"/>
<circle cx="351.6" cy="407.3" r="1.65" fill="#1E90FF"/>
<circle cx="372.8" cy="397" r="1.65" fill="#1E90FF"/>
<circle cx="407.5" cy="395.8" r="1.65" fill="#FF3030"/>
<circle cx="417.2" cy="369.1" r="1.65" fill="#FF3030"/>
<circle cx="355.7" cy="347.9" r="1.65" fill="#1E90FF"/>
<circle cx="423.2" cy="396.3" r="1.65" fill="#FF3030"/>
<circle cx="440" cy="408" r="1.65" fill="#FF3030"/>
<circle cx="351.1" cy="415.7" r="1.65" fill="#FF3030"/>
<circle cx="391" cy="392.7" r="1.65" fill="#1E90FF"/>
<circle cx="402.1" cy="407.1" r="1.65" fill="#1E90FF"/>
<circle cx="362.8" cy="411.2" r="1.65" fill="#FF3030"/>
<circle cx="322.2" cy="390.7" r="1.65" fill="#1E90FF"/>
<circle cx="363" cy="343.7" r="1.65" fill="#1E90FF"/>
<circle cx="406.2" cy="415.2" r="1.65" fill="#FF3030"/>
<circle cx="392.8" cy="379.4" r="1.65" fill="#1E90FF"/>
<circle cx="408" cy="411.7" r="1.65" fill="#FF3030"/>
<circle cx="334.2" cy="403.2" r="1.65" fill="#1E90FF"/>
<circle cx="355" cy="409.3" r="1.65" fill="#FF3030"/>
<circle cx="358.4" cy="394.1" r="1.65" fill="#1E90FF"/>
<circle cx="404.9" cy="397.1" r="1.65" fill="#FF3030"/>
<circle cx="339.4" cy="408.9" r="1.65" fill="#1E90FF"/>
<circle cx="395.3" cy="390.4" r="1.65" fill="#1E90FF"/>
<circle cx="361.9" cy="384.4" r="1.65" fill="#1E90FF"/>
<circle cx="419.3" cy="394.7" r="1.65" fill="#FF3030"/>
<circle cx="390.5" cy="415.8" r="1.65" fill="#1E90FF"/>
<circle cx="360" cy="367" r="1.65" fill="#1E90FF"/>
<circle cx="351" cy="406.4" r="1.65" fill="#1E90FF"/>
<circle cx="435.6" cy="409.6" r="1.65" fill="#FF3030"/>
<circle cx="373" cy="402.1" r="1.65" fill="#1E90FF"/>
<circle cx="419.2" cy="399.8" r="1.65" fill="#FF3030"/>
<circle cx="349.2" cy="290.8" r="1.65" fill="#1E90FF"/>
<circle cx="388" cy="404.4" r="1.65" fill="#FF3030"/>
<circle cx="402.1" cy="384" r="1.65" fill="#FF3030"/>
<circle cx="410.3" cy="403.5" r="1.65" fill="#FF3030"/>
<circle cx="389.2" cy="409.7" r="1.65" fill="#FF3030"/>
<circle cx="337.7" cy="382.1" r="1.65" fill="#1E90FF"/>
<circle cx="370.4" cy="410.4" r="1.65" fill="#1E90FF"/>
<circle cx="413.9" cy="403" r="1.65" fill="#FF3030"/>
<circle cx="343.9" cy="412.2" r="1.65" fill="#1E90FF"/>
<circle cx="360.3" cy="399.5" r="1.65" fill="#1E90FF"/>
<circle cx="391.5" cy="409.3" r="1.65" fill="#1E90FF"/>
<circle cx="430.5" cy="372.9" r="1.65" fill="#FF3030"/>
<circle cx="358.8" cy="401.6" r="1.65" fill="#1E90FF"/>
<circle cx="417" cy="414.9" r="1.65" fill="#FF3030"/>
<circle cx="434" cy="310.4" r="1.65" fill="#FF3030"/>
<circle cx="434.6" cy="389" r="1.65" fill="#FF3030"/>
<circle cx="435.5" cy="400" r="1.65" fill="#FF3030"/>
<circle cx="363.4" cy="276.7" r="1.65" fill="#1E90FF"/>
<circle cx="317.3" cy="409.1" r="1.65" fill="#FF3030"/>
<circle cx="385.4" cy="407.1" r="1.65" fill="#FF3030"/>
<circle cx="306.4" cy="365.1" r="1.65" fill="#1E90FF"/>
<circle cx="413.2" cy="394.6" r="1.65" fill="#FF3030"/>
<circle cx="376.6" cy="413.2" r="1.65" fill="#1E90FF"/>
<circle cx="388.1" cy="359.9" r="1.65" fill="#1E90FF"/>
<circle cx="348.2" cy="302.5" r="1.65" fill="#1E90FF"/>
<circle cx="356.7" cy="399.1" r="1.65" fill="#FF3030"/>
<circle cx="391.8" cy="357" r="1.65" fill="#1E90FF"/>
<circle cx="439.9" cy="396.2" r="1.65" fill="#FF3030"/>
<circle cx="425.2" cy="396.7" r="1.65" fill="#FF3030"/>
<circle cx="390.8" cy="407.5" r="1.65" fill="#1E90FF"/>
<circle cx="404.4" cy="391.7" r="1.65" fill="#FF3030"/>
<circle cx="433.9" cy="402.9" r="1.65" fill="#FF3030"/>
<circle cx="396.4" cy="398.1" r="1.65" fill="#FF3030"/>
<circle cx="351.1" cy="410.4" r="1.65" fill="#1E90FF"/>
<circle cx="358.9" cy="413.5" r="1.65" fill="#1E90FF"/>
<circle cx="386.6" cy="385.7" r="1.65" fill="#FF3030"/>
<circle cx="275" cy="335.5" r="1.65" fill="#1E90FF"/>
<circle cx="410.9" cy="392.6" r="1.65" fill="#FF3030"/>
<circle cx="400.9" cy="404.2" r="1.65" fill="#FF3030"/>
<circle cx="395.1" cy="372.1" r="1.65" fill="#FF3030"/>
<circle cx="399.4" cy="399.3" r="1.65" fill="#FF3030"/>
<circle cx="401.7" cy="393" r="1.65" fill="#FF3030"/>
<circle cx="396.9" cy="377" r="1.65" fill="#FF3030"/>
<circle cx="352.9" cy="408.6" r="1.65" fill="#FF3030"/>
<circle cx="427.2" cy="415.7" r="1.65" fill="#FF3030"/>
<circle cx="392.1" cy="363.9" r="1.65" fill="#1E90FF"/>
<circle cx="412.7" cy="402.3" r="1.65" fill="#FF3030"/>
<circle cx="336" cy="363.8" r="1.65" fill="#1E90FF"/>
<circle cx="380.4" cy="406" r="1.65" fill="#1E90FF"/>
<circle cx="397" cy="391.2" r="1.65" fill="#FF3030"/>
<circle cx="362.5" cy="400.7" r="1.65" fill="#1E90FF"/>
<circle cx="436.4" cy="403" r="1.65" fill="#FF3030"/>
<circle cx="417.1" cy="371.5" r="1.65" fill="#FF3030"/>
<circle cx="362.7" cy="360.2" r="1.65" fill="#1E90FF"/>
<circle cx="438.4" cy="402.2" r="1.65" fill="#FF3030"/>
<circle cx="401.3" cy="415.1" r="1.65" fill="#1E90FF"/>
<circle cx="401.6" cy="412.4" r="1.65" fill="#FF3030"/>
<circle cx="439.8" cy="414.7" r="1.65" fill="#FF3030"/>
<circle cx="348.6" cy="399.8" r="1.65" fill="#1E90FF"/>
<circle cx="437.4" cy="408.4" r="1.65" fill="#FF3030"/>
<circle cx="416.1" cy="411.7" r="1.65" fill="#FF3030"/>
<circle cx="384.2" cy="387.5" r="1.65" fill="#1E90FF"/>
<circle cx="343" cy="400.9" r="1.65" fill="#1E90FF"/>
<circle cx="384.1" cy="361.3" r="1.65" fill="#1E90FF"/>
<circle cx="398.4" cy="379.8" r="1.65" fill="#FF3030"/>
<circle cx="414.9" cy="410.6" r="1.65" fill="#FF3030"/>
<circle cx="389.9" cy="413.5" r="1.65" fill="#FF3030"/>
<circle cx="364.7" cy="410.5" r="1.65" fill="#FF3030"/>
<circle cx="367.4" cy="365.3" r="1.65" fill="#1E90FF"/>
<circle cx="428.2" cy="406.2" r="1.65" fill="#FF3030"/>
<circle cx="371.3" cy="388.1" r="1.65" fill="#1E90FF"/>
<circle cx="387.7" cy="396.6" r="1.65" fill="#1E90FF"/>
<circle cx="344.9" cy="359.2" r="1.65" fill="#1E90FF"/>
<circle cx="431.5" cy="347.9" r="1.65" fill="#FF3030"/>
<circle cx="401.8" cy="410.8" r="1.65" fill="#FF3030"/>
<circle cx="405.6" cy="389.6" r="1.65" fill="#FF3030"/>
<circle cx="427.6" cy="396.7" r="1.65" fill="#FF3030"/>
<circle cx="368.4" cy="403.9" r="1.65" fill="#1E90FF"/>
<circle cx="367.1" cy="396.6" r="1.65" fill="#FF3030"/>
<circle cx="402.1" cy="405.1" r="1.65" fill="#FF3030"/>
<circle cx="400.9" cy="390.5" r="1.65" fill="#FF3030"/>
<circle cx="375.8" cy="406.3" r="1.65" fill="#1E90FF"/>
<circle cx="318.3" cy="386.3" r="1.65" fill="#1E90FF"/>
<circle cx="434.7" cy="410.8" r="1.65" fill="#FF3030"/>
<circle cx="381" cy="397.6" r="1.65" fill="#FF3030"/>
<circle cx="438.5" cy="412" r="1.65" fill="#FF3030"/>
<circle cx="419" cy="407.8" r="1.65" fill="#FF3030"/>
<circle cx="372.9" cy="381.9" r="1.65" fill="#1E90FF"/>
<circle cx="404.6" cy="413.5" r="1.65" fill="#FF3030"/>
<circle cx="427.8" cy="357.8" r="1.65" fill="#FF3030"/>
<circle cx="376" cy="372.8" r="1.65" fill="#1E90FF"/>
<circle cx="393.1" cy="415.5" r="1.65" fill="#1E90FF"/>
<circle cx="425.7" cy="396.5" r="1.65" fill="#FF3030"/>
<circle cx="418.5" cy="409.4" r="1.65" fill="#FF3030"/>
<circle cx="368.5" cy="391.1" r="1.65" fill="#1E90FF"/>
<circle cx="417.1" cy="399.7" r="1.65" fill="#FF3030"/>
<circle cx="336.7" cy="270.5" r="1.65" fill="#1E90FF"/>
<circle cx="380.1" cy="345.9" r="1.65" fill="#1E90FF"/>
<circle cx="414.8" cy="356.5" r="1.65" fill="#FF3030"/>
<circle cx="336.4" cy="387.5" r="1.65" fill="#1E90FF"/>
<circle cx="309.1" cy="404.4" r="1.65" fill="#1E90FF"/>
<circle cx="410.3" cy="380.1" r="1.65" fill="#FF3030"/>
<circle cx="356.6" cy="385.8" r="1.65" fill="#FF3030"/>
<circle cx="366.6" cy="363.5" r="1.65" fill="#1E90FF"/>
<circle cx="404.1" cy="411.5" r="1.65" fill="#1E90FF"/>
<circle cx="346.6" cy="378.6" r="1.65" fill="#1E90FF"/>
<circle cx="430.1" cy="409.3" r="1.65" fill="#FF3030"/>
<circle cx="353.8" cy="381.6" r="1.65" fill="#1E90FF"/>
<circle cx="376" cy="288.7" r="1.65" fill="#FF3030"/>
<circle cx="421.5" cy="398.5" r="1.65" fill="#FF3030"/>
<circle cx="365" cy="415.6" r="1.65" fill="#1E90FF"/>
<circle cx="409.7" cy="404.4" r="1.65" fill="#FF3030"/>
<circle cx="413.5" cy="388.9" r="1.65" fill="#FF3030"/>
<circle cx="388.7" cy="352.5" r="1.65" fill="#1E90FF"/>
<circle cx="410" cy="404.1" r="1.65" fill="#FF3030"/>
<circle cx="383.1" cy="408.5" r="1.65" fill="#1E90FF"/>
<circle cx="414.6" cy="398.2" r="1.65" fill="#FF3030"/>
<circle cx="380.1" cy="397.3" r="1.65" fill="#1E90FF"/>
<circle cx="386.8" cy="344.8" r="1.65" fill="#1E90FF"/>
<circle cx="359.6" cy="405.2" r="1.65" fill="#1E90FF"/>
<circle cx="407.4" cy="400.1" r="1.65" fill="#FF3030"/>
<circle cx="375.4" cy="410.8" r="1.65" fill="#1E90FF"/>
<circle cx="353.7" cy="415.5" r="1.65" fill="#1E90FF"/>
<circle cx="438.6" cy="412.6" r="1.65" fill="#FF3030"/>
<circle cx="438.7" cy="347.5" r="1.65" fill="#FF3030"/>
<circle cx="349.1" cy="345" r="1.65" fill="#1E90FF"/>
<circle cx="340.1" cy="388.3" r="1.65" fill="#1E90FF"/>
<circle cx="372.1" cy="415.1" r="1.65" fill="#1E90FF"/>
<circle cx="289.4" cy="379.4" r="1.65" fill="#1E90FF"/>
<circle cx="426.9" cy="415.6" r="1.65" fill="#FF3030"/>
<circle cx="366.2" cy="388.7" r="1.65" fill="#1E90FF"/>
<circle cx="350.8" cy="383.8" r="1.65" fill="#1E90FF"/>
<circle cx="372.6" cy="372.2" r="1.65" fill="#1E90FF"/>
<circle cx="327" cy="395.2" r="1.65" fill="#1E90FF"/>
<circle cx="346.6" cy="313.9" r="1.65" fill="#1E90FF"/>
<circle cx="379.6" cy="359.1" r="1.65" fill="#1E90FF"/>
<circle cx="372.5" cy="298.3" r="1.65" fill="#1E90FF"/>
<circle cx="391.6" cy="404.7" r="1.65" fill="#FF3030"/>
<circle cx="362.1" cy="406.8" r="1.65" fill="#FF3030"/>
<circle cx="420.6" cy="402.8" r="1.65" fill="#FF3030"/>
<circle cx="439.7" cy="386.9" r="1.65" fill="#FF3030"/>
<circle cx="392.2" cy="348.5" r="1.65" fill="#1E90FF"/>
<circle cx="417" cy="406.9" r="1.65" fill="#FF3030"/>
<circle cx="378" cy="398.3" r="1.65" fill="#1E90FF"/>
<circle cx="416.9" cy="389.9" r="1.65" fill="#FF3030"/>
<circle cx="439.6" cy="397.3" r="1.65" fill="#FF3030"/>
<circle cx="406.8" cy="376.7" r="1.65" fill="#1E90FF"/>
<circle cx="360.2" cy="411.4" r="1.65" fill="#FF3030"/>
<circle cx="440.4" cy="384" r="1.65" fill="#FF3030"/>
<circle cx="376.5" cy="407.8" r="1.65" fill="#FF3030"/>
<circle cx="384.8" cy="325.6" r="1.65" fill="#1E90FF"/>
<circle cx="434.3" cy="406.6" r="1.65" fill="#FF3030"/>
<circle cx="408.1" cy="389.9" r="1.65" fill="#FF3030"/>
<circle cx="341.2" cy="393.1" r="1.65" fill="#1E90FF"/>
<circle cx="415.7" cy="404.1" r="1.65" fill="#FF3030"/>
<circle cx="303.4" cy="391.6" r="1.65" fill="#1E90FF"/>
<circle cx="356" cy="377.3" r="1.65" fill="#1E90FF"/>
<circle cx="416.4" cy="395.7" r="1.65" fill="#FF3030"/>
<circle cx="405.5" cy="380.2" r="1.65" fill="#FF3030"/>
<circle cx="402.9" cy="403.3" r="1.65" fill="#1E90FF"/>
<circle cx="425" cy="415" r="1.65" fill="#FF3030"/>
<circle cx="377.6" cy="405.7" r="1.65" fill="#FF3030"/>
<circle cx="315.2" cy="360.7" r="1.65" fill="#1E90FF"/>
<circle cx="383.6" cy="402.2" r="1.65" fill="#FF3030"/>
<circle cx="422.9" cy="403.2" r="1.65" fill="#FF3030"/>
<circle cx="286.2" cy="342.6" r="1.65" fill="#FF3030"/>
<circle cx="440.2" cy="330.6" r="1.65" fill="#FF3030"/>
<circle cx="399.7" cy="412" r="1.65" fill="#FF3030"/>
<circle cx="367" cy="372.5" r="1.65" fill="#FF3030"/>
<circle cx="426" cy="384.5" r="1.65" fill="#FF3030"/>
<circle cx="421.1" cy="414.9" r="1.65" fill="#FF3030"/>
<circle cx="384" cy="408.2" r="1.65" fill="#FF3030"/>
<circle cx="394.8" cy="398.9" r="1.65" fill="#FF3030"/>
<circle cx="329.4" cy="369.7" r="1.65" fill="#1E90FF"/>
<circle cx="395.5" cy="378.4" r="1.65" fill="#1E90FF"/>
<circle cx="433.4" cy="410.9" r="1.65" fill="#FF3030"/>
<circle cx="411.5" cy="405.8" r="1.65" fill="#FF3030"/>
<circle cx="368.4" cy="410.2" r="1.65" fill="#FF3030"/>
<circle cx="413.1" cy="384.6" r="1.65" fill="#FF3030"/>
<circle cx="381.8" cy="364.9" r="1.65" fill="#FF3030"/>
<circle cx="436.4" cy="383.2" r="1.65" fill="#FF3030"/>
<circle cx="351.9" cy="372.6" r="1.65" fill="#1E90FF"/>
<circle cx="389" cy="398.2" r="1.65" fill="#FF3030"/>
<circle cx="438.4" cy="407.1" r="1.65" fill="#FF3030"/>
<circle cx="413.3" cy="398.5" r="1.65" fill="#FF3030"/>
<circle cx="419" cy="378.5" r="1.65" fill="#FF3030"/>
<circle cx="281.1" cy="390.5" r="1.65" fill="#1E90FF"/>
<circle cx="353.7" cy="415.4" r="1.65" fill="#FF3030"/>
<circle cx="407.5" cy="400.4" r="1.65" fill="#FF3030"/>
<circle cx="435.2" cy="391.2" r="1.65" fill="#FF3030"/>
<circle cx="438.3" cy="383.9" r="1.65" fill="#FF3030"/>
<circle cx="418.9" cy="410.4" r="1.65" fill="#FF3030"/>
<circle cx="424.1" cy="409.6" r="1.65" fill="#FF3030"/>
<circle cx="439.1" cy="388" r="1.65" fill="#FF3030"/>
<circle cx="420.9" cy="407.5" r="1.65" fill="#FF3030"/>
<circle cx="429.6" cy="412.2" r="1.65" fill="#FF3030"/>
<circle cx="410.7" cy="389" r="1.65" fill="#FF3030"/>
<circle cx="427.1" cy="407.3" r="1.65" fill="#FF3030"/>
<circle cx="436.7" cy="395.7" r="1.65" fill="#FF3030"/>
<circle cx="436.3" cy="403.5" r="1.65" fill="#FF3030"/>
<circle cx="388.1" cy="374.1" r="1.65" fill="#FF3030"/>
<circle cx="423.7" cy="406.2" r="1.65" fill="#FF3030"/>
<circle cx="346.5" cy="308.7" r="1.65" fill="#1E90FF"/>
<circle cx="329.3" cy="401.2" r="1.65" fill="#1E90FF"/>
<circle cx="441.1" cy="412.3" r="1.65" fill="#FF3030"/>
<circle cx="362.7" cy="403" r="1.65" fill="#1E90FF"/>
<circle cx="439.3" cy="384.8" r="1.65" fill="#FF3030"/>
<circle cx="350.4" cy="413.4" r="1.65" fill="#1E90FF"/>
<circle cx="383.8" cy="398.8" r="1.65" fill="#FF3030"/>
<circle cx="426.2" cy="403.9" r="1.65" fill="#FF3030"/>
<circle cx="406.7" cy="406.8" r="1.65" fill="#FF3030"/>
<circle cx="390.7" cy="328.4" r="1.65" fill="#1E90FF"/>
<circle cx="407.3" cy="340.8" r="1.65" fill="#FF3030"/>
<circle cx="427.3" cy="415.5" r="1.65" fill="#FF3030"/>
<circle cx="347.6" cy="361.2" r="1.65" fill="#1E90FF"/>
<circle cx="392.5" cy="412.6" r="1.65" fill="#1E90FF"/>
<circle cx="426.1" cy="357.6" r="1.65" fill="#FF3030"/>
<circle cx="418.8" cy="406.2" r="1.65" fill="#FF3030"/>
<circle cx="432.1" cy="403.8" r="1.65" fill="#FF3030"/>
<circle cx="364.9" cy="416.2" r="1.65" fill="#1E90FF"/>
<circle cx="403.8" cy="405.7" r="1.65" fill="#FF3030"/>
<circle cx="394.4" cy="410.3" r="1.65" fill="#1E90FF"/>
<circle cx="332.3" cy="378.4" r="1.65" fill="#1E90FF"/>
<circle cx="400.8" cy="416.1" r="1.65" fill="#FF3030"/>
<circle cx="393.5" cy="392" r="1.65" fill="#1E90FF"/>
<circle cx="365.1" cy="413.7" r="1.65" fill="#1E90FF"/>
<circle cx="400.8" cy="399.5" r="1.65" fill="#FF3030"/>
<circle cx="329.9" cy="389.8" r="1.65" fill="#1E90FF"/>
<circle cx="377.6" cy="404.3" r="1.65" fill="#1E90FF"/>
<circle cx="346.2" cy="408.5" r="1.65" fill="#1E90FF"/>
<circle cx="364.4" cy="376.3" r="1.65" fill="#1E90FF"/>
<circle cx="346.2" cy="306.8" r="1.65" fill="#1E90FF"/>
<circle cx="406.2" cy="385.7" r="1.65" fill="#1E90FF"/>
<circle cx="328.6" cy="361" r="1.65" fill="#1E90FF"/>
<circle cx="420.3" cy="404.1" r="1.65" fill="#FF3030"/>
<circle cx="367.7" cy="393.1" r="1.65" fill="#1E90FF"/>
<circle cx="388.6" cy="405.1" r="1.65" fill="#1E90FF"/>
<circle cx="420.9" cy="412.6" r="1.65" fill="#FF3030"/>
<circle cx="437.6" cy="404.3" r="1.65" fill="#FF3030"/>
<circle cx="381.7" cy="401.4" r="1.65" fill="#FF3030"/>
<circle cx="357.3" cy="401.5" r="1.65" fill="#1E90FF"/>
<circle cx="375.4" cy="393" r="1.65" fill="#1E90FF"/>
<circle cx="426.3" cy="388.8" r="1.65" fill="#FF3030"/>
<circle cx="352.3" cy="412.8" r="1.65" fill="#1E90FF"/>
<circle cx="374.8" cy="395" r="1.65" fill="#FF3030"/>
<circle cx="417.1" cy="399.8" r="1.65" fill="#FF3030"/>
<circle cx="388.1" cy="398.9" r="1.65" fill="#FF3030"/>
<circle cx="374.5" cy="398.2" r="1.65" fill="#FF3030"/>
<circle cx="372" cy="397.7" r="1.65" fill="#FF3030"/>
<circle cx="411" cy="414.4" r="1.65" fill="#FF3030"/>
<circle cx="411.9" cy="405.6" r="1.65" fill="#FF3030"/>
<circle cx="414.3" cy="391.5" r="1.65" fill="#FF3030"/>
<circle cx="421.5" cy="411.7" r="1.65" fill="#FF3030"/>
<circle cx="411.3" cy="407.9" r="1.65" fill="#FF3030"/>
<circle cx="387.6" cy="306.2" r="1.65" fill="#1E90FF"/>
<circle cx="343.1" cy="398.4" r="1.65" fill="#1E90FF"/>
<circle cx="405.5" cy="412.4" r="1.65" fill="#FF3030"/>
<circle cx="414" cy="389.5" r="1.65" fill="#FF3030"/>
<circle cx="356.9" cy="415.4" r="1.65" fill="#1E90FF"/>
<circle cx="368.5" cy="415.1" r="1.65" fill="#1E90FF"/>
<circle cx="434.1" cy="389.1" r="1.65" fill="#FF3030"/>
<circle cx="422.7" cy="394.2" r="1.65" fill="#FF3030"/>
<circle cx="403.9" cy="389.3" r="1.65" fill="#FF3030"/>
<circle cx="370.6" cy="391.2" r="1.65" fill="#FF3030"/>
<circle cx="392.1" cy="404.3" r="1.65" fill="#1E90FF"/>
<circle cx="384.7" cy="401.3" r="1.65" fill="#1E90FF"/>
<circle cx="423.7" cy="375.8" r="1.65" fill="#FF3030"/>
<circle cx="438.2" cy="406.4" r="1.65" fill="#FF3030"/>
<circle cx="340.4" cy="253.9" r="1.65" fill="#1E90FF"/>
<circle cx="323.7" cy="348.6" r="1.65" fill="#FF3030"/>
<circle cx="413.5" cy="401.6" r="1.65" fill="#FF3030"/>
<circle cx="367.3" cy="392.2" r="1.65" fill="#1E90FF"/>
<circle cx="383.3" cy="385.9" r="1.65" fill="#FF3030"/>
<circle cx="387.1" cy="403.4" r="1.65" fill="#1E90FF"/>
<circle cx="422.4" cy="387.1" r="1.65" fill="#FF3030"/>
<circle cx="367.2" cy="395" r="1.65" fill="#1E90FF"/>
<circle cx="403.4" cy="407.5" r="1.65" fill="#FF3030"/>
<circle cx="318.2" cy="411.6" r="1.65" fill="#1E90FF"/>
<circle cx="397.5" cy="402.4" r="1.65" fill="#FF3030"/>
<circle cx="374.6" cy="403.2" r="1.65" fill="#1E90FF"/>
<circle cx="368.6" cy="310.6" r="1.65" fill="#1E90FF"/>
<circle cx="373.1" cy="390.6" r="1.65" fill="#1E90FF"/>
<circle cx="377" cy="332.1" r="1.65" fill="#1E90FF"/>
<circle cx="419.9" cy="414.8" r="1.65" fill="#FF3030"/>
<circle cx="336.5" cy="315.9" r="1.65" fill="#1E90FF"/>
<circle cx="405.9" cy="414.3" r="1.65" fill="#FF3030"/>
<circle cx="400.8" cy="400" r="1.65" fill="#1E90FF"/>
<circle cx="419.8" cy="392.4" r="1.65" fill="#FF3030"/>
<circle cx="336.7" cy="414.7" r="1.65" fill="#1E90FF"/>
<circle cx="386.5" cy="407.3" r="1.65" fill="#FF3030"/>
<circle cx="350.1" cy="389.1" r="1.65" fill="#1E90FF"/>
<circle cx="353.2" cy="402.8" r="1.65" fill="#1E90FF"/>
<circle cx="399.9" cy="415.4" r="1.65" fill="#FF3030"/>
<circle cx="369.2" cy="415.4" r="1.65" fill="#FF3030"/>
<circle cx="339.7" cy="383.2" r="1.65" fill="#1E90FF"/>
<circle cx="376.1" cy="360.5" r="1.65" fill="#1E90FF"/>
<circle cx="376.6" cy="387.5" r="1.65" fill="#FF3030"/>
<circle cx="282.6" cy="376.5" r="1.65" fill="#1E90FF"/>
<circle cx="364.2" cy="296.6" r="1.65" fill="#1E90FF"/>
<circle cx="414" cy="406.8" r="1.65" fill="#FF3030"/>
<circle cx="336.5" cy="252.1" r="1.65" fill="#1E90FF"/>
<circle cx="349.3" cy="401.2" r="1.65" fill="#1E90FF"/>
<circle cx="354.7" cy="412.7" r="1.65" fill="#1E90FF"/>
<circle cx="398.2" cy="415.4" r="1.65" fill="#FF3030"/>
<circle cx="390.2" cy="362.8" r="1.65" fill="#1E90FF"/>
<circle cx="357" cy="403.6" r="1.65" fill="#FF3030"/>
<circle cx="391.2" cy="391.3" r="1.65" fill="#1E90FF"/>
<circle cx="402.5" cy="377.7" r="1.65" fill="#1E90FF"/>
<circle cx="426.9" cy="384.6" r="1.65" fill="#FF3030"/>
<circle cx="417.5" cy="405" r="1.65" fill="#FF3030"/>
<circle cx="406.2" cy="406.3" r="1.65" fill="#FF3030"/>
<circle cx="399.4" cy="400.3" r="1.65" fill="#FF3030"/>
<circle cx="350.2" cy="356.7" r="1.65" fill="#1E90FF"/>
<circle cx="430.3" cy="390.7" r="1.65" fill="#FF3030"/>
<circle cx="355.7" cy="382.3" r="1.65" fill="#1E90FF"/>
<circle cx="375.9" cy="397.9" r="1.65" fill="#1E90FF"/>
<circle cx="434" cy="313" r="1.65" fill="#FF3030"/>
<circle cx="393.1" cy="383.8" r="1.65" fill="#1E90FF"/>
<circle cx="352.2" cy="372.5" r="1.65" fill="#1E90FF"/>
<circle cx="404.5" cy="395.3" r="1.65" fill="#FF3030"/>
<circle cx="336.2" cy="280.5" r="1.65" fill="#1E90FF"/>
<circle cx="342" cy="361.5" r="1.65" fill="#1E90FF"/>
<circle cx="360.6" cy="404.7" r="1.65" fill="#1E90FF"/>
<circle cx="358.1" cy="409.6" r="1.65" fill="#1E90FF"/>
<circle cx="420.1" cy="404.4" r="1.65" fill="#FF3030"/>
<circle cx="336.1" cy="281.4" r="1.65" fill="#1E90FF"/>
<circle cx="385.7" cy="353.4" r="1.65" fill="#1E90FF"/>
<circle cx="397.4" cy="406.4" r="1.65" fill="#1E90FF"/>
<circle cx="420.4" cy="390.5" r="1.65" fill="#FF3030"/>
<circle cx="436.8" cy="415.6" r="1.65" fill="#FF3030"/>
<circle cx="438.5" cy="401.8" r="1.65" fill="#FF3030"/>
<circle cx="373.8" cy="403.8" r="1.65" fill="#1E90FF"/>
<circle cx="358.6" cy="403.4" r="1.65" fill="#1E90FF"/>
<circle cx="386.4" cy="366.4" r="1.65" fill="#1E90FF"/>
<circle cx="348.3" cy="287.8" r="1.65" fill="#1E90FF"/>
<circle cx="393.3" cy="392.5" r="1.65" fill="#1E90FF"/>
<circle cx="421.2" cy="369.4" r="1.65" fill="#FF3030"/>
<circle cx="381.7" cy="397.7" r="1.65" fill="#1E90FF"/>
<circle cx="377.1" cy="386.1" r="1.65" fill="#1E90FF"/>
<circle cx="386.8" cy="397.7" r="1.65" fill="#1E90FF"/>
<circle cx="424.4" cy="415.9" r="1.65" fill="#FF3030"/>
<circle cx="320.8" cy="385.4" r="1.65" fill="#1E90FF"/>
<circle cx="393.8" cy="404.1" r="1.65" fill="#1E90FF"/>
<circle cx="408" cy="416.2" r="1.65" fill="#FF3030"/>
<circle cx="381.6" cy="389.4" r="1.65" fill="#1E90FF"/>
<circle cx="366.6" cy="402.7" r="1.65" fill="#1E90FF"/>
<circle cx="372.3" cy="309.3" r="1.65" fill="#1E90FF"/>
<circle cx="344" cy="391.8" r="1.65" fill="#1E90FF"/>
<circle cx="371.9" cy="375.6" r="1.65" fill="#1E90FF"/>
<circle cx="389.7" cy="381.2" r="1.65" fill="#1E90FF"/>
<circle cx="439.5" cy="410.5" r="1.65" fill="#FF3030"/>
<circle cx="314.5" cy="383.5" r="1.65" fill="#1E90FF"/>
<circle cx="421.4" cy="367.3" r="1.65" fill="#FF3030"/>
<circle cx="370.2" cy="414.2" r="1.65" fill="#1E90FF"/>
<circle cx="357.2" cy="378.1" r="1.65" fill="#1E90FF"/>
<circle cx="426.9" cy="408.1" r="1.65" fill="#FF3030"/>
<circle cx="388.1" cy="414.3" r="1.65" fill="#1E90FF"/>
<circle cx="417" cy="409.7" r="1.65" fill="#FF3030"/>
<circle cx="378" cy="408.2" r="1.65" fill="#1E90FF"/>
<circle cx="403.6" cy="315.3" r="1.65" fill="#1E90FF"/>
<circle cx="361.6" cy="373.7" r="1.65" fill="#FF3030"/>
<circle cx="383.6" cy="386.5" r="1.65" fill="#FF3030"/>
<circle cx="394.7" cy="359.3" r="1.65" fill="#1E90FF"/>
<circle cx="396" cy="404" r="1.65" fill="#FF3030"/>
<circle cx="360.5" cy="416.3" r="1.65" fill="#FF3030"/>
<circle cx="411.5" cy="414.4" r="1.65" fill="#FF3030"/>
<circle cx="409.5" cy="394.8" r="1.65" fill="#FF3030"/>
<circle cx="388.2" cy="400.8" r="1.65" fill="#1E90FF"/>
<circle cx="379.2" cy="414.4" r="1.65" fill="#1E90FF"/>
<circle cx="332.4" cy="376" r="1.65" fill="#1E90FF"/>
<circle cx="398.6" cy="384.4" r="1.65" fill="#1E90FF"/>
<circle cx="334.4" cy="329" r="1.65" fill="#1E90FF"/>
<circle cx="373" cy="411.3" r="1.65" fill="#1E90FF"/>
<circle cx="436.7" cy="354.2" r="1.65" fill="#FF3030"/>
<circle cx="357.4" cy="400.6" r="1.65" fill="#1E90FF"/>
<circle cx="430.2" cy="411.3" r="1.65" fill="#FF3030"/>
<circle cx="433.7" cy="405" r="1.65" fill="#FF3030"/>
<circle cx="405.5" cy="402.3" r="1.65" fill="#FF3030"/>
<circle cx="364.2" cy="364.4" r="1.65" fill="#FF3030"/>
<circle cx="373.3" cy="416.3" r="1.65" fill="#1E90FF"/>
<circle cx="426.5" cy="389" r="1.65" fill="#FF3030"/>
<circle cx="357.8" cy="379.8" r="1.65" fill="#1E90FF"/>
<circle cx="366.7" cy="391.9" r="1.65" fill="#1E90FF"/>
<circle cx="439.3" cy="413" r="1.65" fill="#FF3030"/>
<circle cx="366.1" cy="410.8" r="1.65" fill="#1E90FF"/>
<circle cx="336.4" cy="404.8" r="1.65" fill="#1E90FF"/>
<circle cx="374" cy="375.5" r="1.65" fill="#1E90FF"/>
<circle cx="357" cy="410.8" r="1.65" fill="#1E90FF"/>
<circle cx="421.2" cy="410.7" r="1.65" fill="#FF3030"/>
<circle cx="374.8" cy="404.6" r="1.65" fill="#1E90FF"/>
<circle cx="439.1" cy="334.9" r="1.65" fill="#FF3030"/>
<circle cx="366.7" cy="335.1" r="1.65" fill="#FF3030"/>
<circle cx="428.8" cy="416" r="1.65" fill="#FF3030"/>
<circle cx="429.1" cy="369.2" r="1.65" fill="#FF3030"/>
<circle cx="407" cy="409.6" r="1.65" fill="#FF3030"/>
<circle cx="362.5" cy="410" r="1.65" fill="#1E90FF"/>
<circle cx="376.7" cy="410.1" r="1.65" fill="#1E90FF"/>
<circle cx="379.7" cy="412.7" r="1.65" fill="#FF3030"/>
<circle cx="404.7" cy="401.1" r="1.65" fill="#FF3030"/>
<circle cx="389.1" cy="383.5" r="1.65" fill="#1E90FF"/>
<circle cx="374.9" cy="402.4" r="1.65" fill="#1E90FF"/>
<circle cx="427.7" cy="403.6" r="1.65" fill="#FF3030"/>
<circle cx="325.4" cy="402.5" r="1.65" fill="#1E90FF"/>
<circle cx="346.2" cy="382.1" r="1.65" fill="#1E90FF"/>
<circle cx="316.5" cy="363.4" r="1.65" fill="#1E90FF"/>
<circle cx="349.6" cy="266.8" r="1.65" fill="#1E90FF"/>
<circle cx="336.8" cy="415.7" r="1.65" fill="#1E90FF"/>
<circle cx="362.7" cy="350.2" r="1.65" fill="#1E90FF"/>
<circle cx="377.4" cy="382.9" r="1.65" fill="#1E90FF"/>
<circle cx="324.2" cy="391.1" r="1.65" fill="#1E90FF"/>
<circle cx="403.3" cy="410.8" r="1.65" fill="#FF3030"/>
<circle cx="428" cy="412.5" r="1.65" fill="#FF3030"/>
<circle cx="406.4" cy="406.1" r="1.65" fill="#1E90FF"/>
<circle cx="367.4" cy="391.3" r="1.65" fill="#1E90FF"/>
<circle cx="436.6" cy="386.1" r="1.65" fill="#FF3030"/>
<circle cx="408.4" cy="408.9" r="1.65" fill="#1E90FF"/>
<circle cx="357.2" cy="412.4" r="1.65" fill="#1E90FF"/>
<circle cx="375.8" cy="390.3" r="1.65" fill="#1E90FF"/>
<circle cx="337.8" cy="403.3" r="1.65" fill="#1E90FF"/>
<circle cx="414.3" cy="384.1" r="1.65" fill="#FF3030"/>
<circle cx="396" cy="397.9" r="1.65" fill="#FF3030"/>
</g>
<path d="M275.9,355.4 Q365,382.2 441.3,401.9 L441.3,407.1 Q365,382.8 275.9,367.4 Z" fill="#BBBBBB" fill-opacity="0.6"/>
<line x1="275.9" y1="361.4" x2="441.3" y2="404.5" stroke="#000" stroke-width="1.6"/>
<line x1="350.2" y1="244.3" x2="350.2" y2="424" stroke="#000" stroke-width="1.5" stroke-dasharray="3,2.25"/>
<line x1="395.7" y1="244.3" x2="395.7" y2="424" stroke="#000" stroke-width="1.5" stroke-dasharray="3,2.25"/>
<rect x="267.3" y="242.9" width="182.2" height="181.4" fill="none" stroke="#000" stroke-width="1.3"/>
<line x1="264.6" y1="416.4" x2="267.3" y2="416.4" stroke="#000" stroke-width="1.1"/>
<text x="261.3" y="419.8" font-size="9.5" text-anchor="end">0</text>
<line x1="264.6" y1="375.1" x2="267.3" y2="375.1" stroke="#000" stroke-width="1.1"/>
<text x="261.3" y="378.5" font-size="9.5" text-anchor="end">5</text>
<line x1="264.6" y1="333.8" x2="267.3" y2="333.8" stroke="#000" stroke-width="1.1"/>
<text x="261.3" y="337.3" font-size="9.5" text-anchor="end">10</text>
<line x1="264.6" y1="292.6" x2="267.3" y2="292.6" stroke="#000" stroke-width="1.1"/>
<text x="261.3" y="296" font-size="9.5" text-anchor="end">15</text>
<line x1="264.6" y1="251.3" x2="267.3" y2="251.3" stroke="#000" stroke-width="1.1"/>
<text x="261.3" y="254.7" font-size="9.5" text-anchor="end">20</text>
<line x1="304.6" y1="424.3" x2="304.6" y2="427.7" stroke="#000" stroke-width="1.1"/>
<text x="304.6" y="437" font-size="8.6" text-anchor="middle">0.4</text>
<line x1="350.1" y1="424.3" x2="350.1" y2="427.7" stroke="#000" stroke-width="1.1"/>
<text x="350.1" y="437" font-size="8.6" text-anchor="middle">0.6</text>
<line x1="395.6" y1="424.3" x2="395.6" y2="427.7" stroke="#000" stroke-width="1.1"/>
<text x="395.6" y="437" font-size="8.6" text-anchor="middle">0.8</text>
<line x1="441.1" y1="424.3" x2="441.1" y2="427.7" stroke="#000" stroke-width="1.1"/>
<text x="441.1" y="437" font-size="8.6" text-anchor="middle">1.0</text>
<text x="283" y="449.3" font-size="8.35">Representative structure similarity (RSS)</text>
<text transform="translate(242.1,333.2) rotate(-90)" font-size="8.4" text-anchor="middle">Relative errors (%)</text>
<text x="306.2" y="253.2" font-size="7.3" text-anchor="middle">Small</text>
<text x="306.2" y="261" font-size="7.3" text-anchor="middle">(5.90%)</text>
<text x="373.4" y="253.2" font-size="7.3" text-anchor="middle">Medium</text>
<text x="373.4" y="261" font-size="7.3" text-anchor="middle">(2.14%)</text>
<text x="423.8" y="253.2" font-size="7.3" text-anchor="middle">Large</text>
<text x="423.8" y="261" font-size="7.3" text-anchor="middle">(1.56%)</text>
<rect x="271.8" y="273.6" width="5" height="4.5" fill="#2F8DF0"/>
<rect x="271.8" y="283" width="5" height="4.5" fill="#EE3535"/>
<text x="278.6" y="278.4" font-size="7">Excluded super classes</text>
<text x="278.6" y="287.8" font-size="7">Other super classes</text>
<text x="275.2" y="418.6" font-size="8.0"><tspan font-style="italic">p</tspan>&#8211;value: 3.19e&#8211;42</text>
<text x="-0.4" y="476.8" font-size="13.4" font-weight="bold">f</text>
<g fill="#32CD32">
<circle cx="121.8" cy="501.3" r="1.2"/>
<circle cx="120.5" cy="533.8" r="1.2"/>
<circle cx="125.5" cy="538.5" r="1.2"/>
<circle cx="135.9" cy="552" r="1.2"/>
<circle cx="129.4" cy="554.1" r="1.2"/>
<circle cx="151.5" cy="548.9" r="1.2"/>
<circle cx="125" cy="561.1" r="1.2"/>
<circle cx="129.4" cy="565.8" r="1.2"/>
<circle cx="129.4" cy="568.9" r="1.2"/>
<circle cx="109.9" cy="571.5" r="1.2"/>
<circle cx="130.7" cy="586" r="1.2"/>
<circle cx="132.8" cy="587.1" r="1.2"/>
<circle cx="122.9" cy="584.5" r="1.2"/>
<circle cx="150.4" cy="581.4" r="1.2"/>
<circle cx="122.4" cy="591.2" r="1.2"/>
<circle cx="111.4" cy="598.2" r="1.2"/>
<circle cx="106.8" cy="600.8" r="1.2"/>
<circle cx="118" cy="596" r="1.2"/>
<circle cx="141" cy="594" r="1.2"/>
<circle cx="146" cy="590" r="1.2"/>
<circle cx="118.4" cy="612.4" r="1.2"/>
<circle cx="151.8" cy="604.4" r="1.2"/>
<circle cx="151.9" cy="628" r="1.2"/>
<circle cx="138.6" cy="623.3" r="1.2"/>
<circle cx="131.4" cy="623.1" r="1.2"/>
<circle cx="144.8" cy="636" r="1.2"/>
<circle cx="155" cy="632.3" r="1.2"/>
<circle cx="131.7" cy="636.6" r="1.2"/>
<circle cx="156.5" cy="630.2" r="1.2"/>
<circle cx="119.8" cy="636.2" r="1.2"/>
<circle cx="130.7" cy="627" r="1.2"/>
<circle cx="129.6" cy="635.5" r="1.2"/>
<circle cx="154" cy="623.4" r="1.2"/>
<circle cx="154.5" cy="635.6" r="1.2"/>
<circle cx="154.5" cy="633.4" r="1.2"/>
<circle cx="140.2" cy="613.5" r="1.2"/>
<circle cx="132.4" cy="624.1" r="1.2"/>
<circle cx="148.3" cy="623.1" r="1.2"/>
<circle cx="120.3" cy="632.6" r="1.2"/>
<circle cx="125.4" cy="636.7" r="1.2"/>
<circle cx="137.3" cy="632.6" r="1.2"/>
<circle cx="114.3" cy="611.9" r="1.2"/>
<circle cx="120.1" cy="632.1" r="1.2"/>
<circle cx="142.1" cy="634.4" r="1.2"/>
<circle cx="151.8" cy="624.6" r="1.2"/>
<circle cx="144.5" cy="636.8" r="1.2"/>
<circle cx="134.7" cy="629.6" r="1.2"/>
<circle cx="127.9" cy="627.8" r="1.2"/>
<circle cx="129.8" cy="632.3" r="1.2"/>
<circle cx="137.9" cy="625" r="1.2"/>
<circle cx="154.6" cy="625" r="1.2"/>
<circle cx="141.2" cy="624.9" r="1.2"/>
<circle cx="142.6" cy="618.1" r="1.2"/>
<circle cx="148.1" cy="623.3" r="1.2"/>
<circle cx="126.9" cy="632" r="1.2"/>
<circle cx="143.1" cy="632.4" r="1.2"/>
<circle cx="128.6" cy="614.9" r="1.2"/>
<circle cx="137.6" cy="636.2" r="1.2"/>
<circle cx="134.2" cy="618.5" r="1.2"/>
<circle cx="144.6" cy="626.7" r="1.2"/>
<circle cx="145" cy="623.8" r="1.2"/>
<circle cx="141.3" cy="631.9" r="1.2"/>
<circle cx="150.8" cy="633.4" r="1.2"/>
<circle cx="139.3" cy="620.5" r="1.2"/>
<circle cx="134.5" cy="636.3" r="1.2"/>
<circle cx="154.3" cy="627.8" r="1.2"/>
<circle cx="136.3" cy="630.4" r="1.2"/>
<circle cx="148.9" cy="612" r="1.2"/>
<circle cx="116.2" cy="622.2" r="1.2"/>
<circle cx="152.9" cy="634.1" r="1.2"/>
<circle cx="150.3" cy="634.9" r="1.2"/>
<circle cx="151.1" cy="626.9" r="1.2"/>
<circle cx="153.1" cy="623.9" r="1.2"/>
<circle cx="143.5" cy="633.3" r="1.2"/>
<circle cx="147.8" cy="617.3" r="1.2"/>
<circle cx="153.8" cy="635.6" r="1.2"/>
<circle cx="120.9" cy="612.5" r="1.2"/>
<circle cx="144.1" cy="630.3" r="1.2"/>
<circle cx="121.5" cy="630.3" r="1.2"/>
<circle cx="144.9" cy="634.3" r="1.2"/>
<circle cx="139.8" cy="602.2" r="1.2"/>
<circle cx="118.5" cy="626.8" r="1.2"/>
<circle cx="140.1" cy="635.7" r="1.2"/>
<circle cx="155.4" cy="615.5" r="1.2"/>
<circle cx="153.4" cy="619.7" r="1.2"/>
<circle cx="146.3" cy="610.7" r="1.2"/>
<circle cx="146.2" cy="633.5" r="1.2"/>
<circle cx="126.2" cy="636.8" r="1.2"/>
<circle cx="130.9" cy="614.1" r="1.2"/>
<circle cx="140.3" cy="618.7" r="1.2"/>
<circle cx="146.2" cy="633.4" r="1.2"/>
<circle cx="153" cy="633.5" r="1.2"/>
<circle cx="150.3" cy="629.3" r="1.2"/>
<circle cx="135.7" cy="636.9" r="1.2"/>
<circle cx="149.6" cy="613.7" r="1.2"/>
<circle cx="139.4" cy="635" r="1.2"/>
<circle cx="145.5" cy="626.1" r="1.2"/>
<circle cx="128.4" cy="631" r="1.2"/>
<circle cx="156.6" cy="618.8" r="1.2"/>
<circle cx="143.4" cy="623.1" r="1.2"/>
<circle cx="144.1" cy="634" r="1.2"/>
<circle cx="136.4" cy="629.7" r="1.2"/>
<circle cx="150.3" cy="618.2" r="1.2"/>
<circle cx="123.7" cy="606.8" r="1.2"/>
<circle cx="155.8" cy="627.7" r="1.2"/>
<circle cx="145.2" cy="632.4" r="1.2"/>
<circle cx="146.9" cy="613.2" r="1.2"/>
<circle cx="140.8" cy="629.2" r="1.2"/>
<circle cx="147.6" cy="622.2" r="1.2"/>
<circle cx="119.6" cy="618.4" r="1.2"/>
<circle cx="114.7" cy="626.9" r="1.2"/>
<circle cx="149.3" cy="626.8" r="1.2"/>
<circle cx="137.9" cy="605.8" r="1.2"/>
<circle cx="140" cy="626.7" r="1.2"/>
<circle cx="128.2" cy="636.5" r="1.2"/>
<circle cx="147.4" cy="636.4" r="1.2"/>
<circle cx="148.8" cy="634.7" r="1.2"/>
<circle cx="142.9" cy="617.9" r="1.2"/>
<circle cx="140.6" cy="603.1" r="1.2"/>
<circle cx="148.2" cy="621.6" r="1.2"/>
<circle cx="141" cy="632.4" r="1.2"/>
<circle cx="123.2" cy="611.8" r="1.2"/>
<circle cx="142.4" cy="630.4" r="1.2"/>
<circle cx="118" cy="635.4" r="1.2"/>
<circle cx="131.4" cy="636.2" r="1.2"/>
<circle cx="134.4" cy="630.2" r="1.2"/>
<circle cx="130.6" cy="635.9" r="1.2"/>
<circle cx="145.7" cy="620.6" r="1.2"/>
<circle cx="129.8" cy="636.1" r="1.2"/>
<circle cx="130.8" cy="635.2" r="1.2"/>
<circle cx="155.5" cy="630" r="1.2"/>
<circle cx="137.3" cy="636.6" r="1.2"/>
<circle cx="143.4" cy="612.9" r="1.2"/>
<circle cx="142.3" cy="635.4" r="1.2"/>
<circle cx="137.8" cy="624.8" r="1.2"/>
<circle cx="149.1" cy="625.2" r="1.2"/>
<circle cx="123.6" cy="614.1" r="1.2"/>
<circle cx="137.9" cy="613.5" r="1.2"/>
<circle cx="129.3" cy="635.5" r="1.2"/>
<circle cx="150.7" cy="605.3" r="1.2"/>
<circle cx="139.5" cy="634.6" r="1.2"/>
<circle cx="153.4" cy="632.6" r="1.2"/>
<circle cx="154.4" cy="617.4" r="1.2"/>
<circle cx="116.2" cy="620.6" r="1.2"/>
<circle cx="134.2" cy="628.4" r="1.2"/>
<circle cx="155.5" cy="609.7" r="1.2"/>
<circle cx="131.2" cy="628.8" r="1.2"/>
<circle cx="131.5" cy="633.6" r="1.2"/>
<circle cx="141.1" cy="635.3" r="1.2"/>
<circle cx="144" cy="628.1" r="1.2"/>
<circle cx="125.2" cy="625.5" r="1.2"/>
<circle cx="120.5" cy="616.1" r="1.2"/>
<circle cx="144" cy="628.2" r="1.2"/>
<circle cx="151.1" cy="616" r="1.2"/>
<circle cx="136.9" cy="631.1" r="1.2"/>
<circle cx="148.8" cy="605.7" r="1.2"/>
<circle cx="146.8" cy="612.9" r="1.2"/>
<circle cx="152.2" cy="614.5" r="1.2"/>
<circle cx="143.8" cy="627.4" r="1.2"/>
<circle cx="145.5" cy="631.7" r="1.2"/>
<circle cx="145.5" cy="622.7" r="1.2"/>
<circle cx="142.4" cy="632.8" r="1.2"/>
<circle cx="155.8" cy="623.8" r="1.2"/>
<circle cx="143" cy="633" r="1.2"/>
<circle cx="154.3" cy="626.7" r="1.2"/>
<circle cx="153.6" cy="621.7" r="1.2"/>
<circle cx="153.5" cy="636.6" r="1.2"/>
<circle cx="148.2" cy="615.6" r="1.2"/>
<circle cx="146" cy="619.6" r="1.2"/>
<circle cx="149.2" cy="625.9" r="1.2"/>
<circle cx="151" cy="626.4" r="1.2"/>
<circle cx="140.8" cy="614.9" r="1.2"/>
<circle cx="147.4" cy="620" r="1.2"/>
<circle cx="129.9" cy="631.3" r="1.2"/>
<circle cx="124.1" cy="627.4" r="1.2"/>
<circle cx="143.9" cy="619.2" r="1.2"/>
<circle cx="136.3" cy="629.8" r="1.2"/>
<circle cx="147.3" cy="635.1" r="1.2"/>
<circle cx="144.1" cy="636.1" r="1.2"/>
<circle cx="143.7" cy="627.4" r="1.2"/>
<circle cx="143.6" cy="618.3" r="1.2"/>
<circle cx="147.9" cy="629" r="1.2"/>
<circle cx="122.6" cy="630.9" r="1.2"/>
<circle cx="126.5" cy="626.5" r="1.2"/>
<circle cx="154" cy="630.5" r="1.2"/>
<circle cx="132.8" cy="613" r="1.2"/>
<circle cx="144.2" cy="633.9" r="1.2"/>
<circle cx="146" cy="624.7" r="1.2"/>
<circle cx="153.1" cy="620.5" r="1.2"/>
<circle cx="153" cy="614.6" r="1.2"/>
<circle cx="127" cy="629.8" r="1.2"/>
<circle cx="152.4" cy="627.2" r="1.2"/>
<circle cx="149.8" cy="631" r="1.2"/>
<circle cx="150.8" cy="630.9" r="1.2"/>
<circle cx="142.4" cy="624.8" r="1.2"/>
<circle cx="152.9" cy="613.7" r="1.2"/>
<circle cx="142.6" cy="635.9" r="1.2"/>
<circle cx="128.3" cy="611.4" r="1.2"/>
<circle cx="150.7" cy="631" r="1.2"/>
<circle cx="151.3" cy="620.3" r="1.2"/>
<circle cx="130.3" cy="629.3" r="1.2"/>
<circle cx="122.3" cy="629.2" r="1.2"/>
<circle cx="155.5" cy="629.9" r="1.2"/>
<circle cx="152.9" cy="610.4" r="1.2"/>
<circle cx="150.3" cy="637.1" r="1.2"/>
<circle cx="156.5" cy="624" r="1.2"/>
<circle cx="156.7" cy="600.7" r="1.2"/>
<circle cx="152.1" cy="635.8" r="1.2"/>
<circle cx="136.3" cy="625.8" r="1.2"/>
<circle cx="134.5" cy="609.4" r="1.2"/>
<circle cx="140.3" cy="613.8" r="1.2"/>
<circle cx="131.8" cy="630.7" r="1.2"/>
<circle cx="151.3" cy="636.4" r="1.2"/>
<circle cx="156.5" cy="634.6" r="1.2"/>
<circle cx="138.7" cy="627.1" r="1.2"/>
<circle cx="128.7" cy="636.7" r="1.2"/>
<circle cx="154.4" cy="627" r="1.2"/>
<circle cx="142.9" cy="634.7" r="1.2"/>
<circle cx="117.7" cy="630.3" r="1.2"/>
<circle cx="145.3" cy="612.4" r="1.2"/>
<circle cx="137.4" cy="616.2" r="1.2"/>
<circle cx="138.7" cy="634.9" r="1.2"/>
<circle cx="148.7" cy="631.3" r="1.2"/>
<circle cx="131.7" cy="634.6" r="1.2"/>
<circle cx="130.8" cy="627.1" r="1.2"/>
<circle cx="146.5" cy="621.7" r="1.2"/>
<circle cx="130.3" cy="624.7" r="1.2"/>
<circle cx="137.9" cy="623" r="1.2"/>
<circle cx="148.3" cy="616.6" r="1.2"/>
<circle cx="148.2" cy="625.2" r="1.2"/>
<circle cx="124.1" cy="605" r="1.2"/>
<circle cx="136" cy="613" r="1.2"/>
<circle cx="143" cy="635.3" r="1.2"/>
<circle cx="153.5" cy="623.3" r="1.2"/>
<circle cx="115.3" cy="635.2" r="1.2"/>
<circle cx="149.2" cy="625" r="1.2"/>
<circle cx="118.2" cy="633" r="1.2"/>
<circle cx="135.4" cy="635.1" r="1.2"/>
<circle cx="123.4" cy="624.1" r="1.2"/>
<circle cx="128.4" cy="622.3" r="1.2"/>
<circle cx="156.6" cy="630.3" r="1.2"/>
<circle cx="133.3" cy="626.6" r="1.2"/>
<circle cx="147.6" cy="636.4" r="1.2"/>
<circle cx="132.8" cy="619.7" r="1.2"/>
<circle cx="150.9" cy="632.9" r="1.2"/>
<circle cx="148.8" cy="622.1" r="1.2"/>
<circle cx="125.5" cy="627.9" r="1.2"/>
<circle cx="149.9" cy="601.4" r="1.2"/>
<circle cx="131.7" cy="630.6" r="1.2"/>
<circle cx="141.8" cy="634.2" r="1.2"/>
<circle cx="121" cy="631.9" r="1.2"/>
<circle cx="137.8" cy="627.5" r="1.2"/>
<circle cx="143.7" cy="599.4" r="1.2"/>
<circle cx="120" cy="632.6" r="1.2"/>
<circle cx="132.9" cy="612.2" r="1.2"/>
<circle cx="146" cy="624.6" r="1.2"/>
<circle cx="144.6" cy="619.2" r="1.2"/>
<circle cx="148.5" cy="614.4" r="1.2"/>
<circle cx="156.1" cy="628.5" r="1.2"/>
<circle cx="139.3" cy="631" r="1.2"/>
<circle cx="142.2" cy="608.6" r="1.2"/>
<circle cx="153" cy="611.7" r="1.2"/>
<circle cx="130.5" cy="621.4" r="1.2"/>
<circle cx="144.4" cy="629.5" r="1.2"/>
<circle cx="137.8" cy="629.4" r="1.2"/>
<circle cx="136.2" cy="634" r="1.2"/>
<circle cx="147.3" cy="633.8" r="1.2"/>
<circle cx="123.1" cy="619.8" r="1.2"/>
<circle cx="129.1" cy="621.2" r="1.2"/>
<circle cx="144.8" cy="633.1" r="1.2"/>
<circle cx="154.4" cy="601.7" r="1.2"/>
<circle cx="133.1" cy="619.7" r="1.2"/>
<circle cx="149.2" cy="631" r="1.2"/>
<circle cx="151.5" cy="636.5" r="1.2"/>
<circle cx="154.3" cy="611" r="1.2"/>
<circle cx="154" cy="623" r="1.2"/>
<circle cx="141.2" cy="619.5" r="1.2"/>
<circle cx="140.1" cy="630.7" r="1.2"/>
<circle cx="151" cy="622.5" r="1.2"/>
<circle cx="147" cy="625.1" r="1.2"/>
</g>
<g fill="#FF6347">
<circle cx="163.9" cy="545" r="1.2"/>
<circle cx="171.7" cy="540.3" r="1.2"/>
<circle cx="195.1" cy="564.5" r="1.2"/>
<circle cx="196.4" cy="563.2" r="1.2"/>
<circle cx="156.1" cy="567.8" r="1.2"/>
<circle cx="166" cy="568.4" r="1.2"/>
<circle cx="173" cy="562.6" r="1.2"/>
<circle cx="194.6" cy="571.5" r="1.2"/>
<circle cx="197.2" cy="574.1" r="1.2"/>
<circle cx="166.5" cy="578.8" r="1.2"/>
<circle cx="168.6" cy="582.6" r="1.2"/>
<circle cx="178.2" cy="578.2" r="1.2"/>
<circle cx="180.3" cy="581.4" r="1.2"/>
<circle cx="187.3" cy="584" r="1.2"/>
<circle cx="168.6" cy="588.6" r="1.2"/>
<circle cx="158.7" cy="591.2" r="1.2"/>
<circle cx="163.2" cy="591.7" r="1.2"/>
<circle cx="181.2" cy="634" r="1.2"/>
<circle cx="202.3" cy="618.6" r="1.2"/>
<circle cx="192.6" cy="613" r="1.2"/>
<circle cx="181.7" cy="608.6" r="1.2"/>
<circle cx="189.3" cy="629.4" r="1.2"/>
<circle cx="177.4" cy="619" r="1.2"/>
<circle cx="176.8" cy="628" r="1.2"/>
<circle cx="179.5" cy="629.3" r="1.2"/>
<circle cx="164" cy="636.3" r="1.2"/>
<circle cx="163.3" cy="627.7" r="1.2"/>
<circle cx="203.2" cy="630.7" r="1.2"/>
<circle cx="159.8" cy="629.2" r="1.2"/>
<circle cx="185.6" cy="622.6" r="1.2"/>
<circle cx="177.6" cy="612.1" r="1.2"/>
<circle cx="202.3" cy="610.1" r="1.2"/>
<circle cx="158.2" cy="631.5" r="1.2"/>
<circle cx="196.7" cy="627.5" r="1.2"/>
<circle cx="179.7" cy="632.7" r="1.2"/>
<circle cx="180.3" cy="632.3" r="1.2"/>
<circle cx="158.8" cy="620.7" r="1.2"/>
<circle cx="182.2" cy="597.7" r="1.2"/>
<circle cx="189.4" cy="634.1" r="1.2"/>
<circle cx="157.5" cy="637" r="1.2"/>
<circle cx="178.5" cy="610.6" r="1.2"/>
<circle cx="176.7" cy="594.3" r="1.2"/>
<circle cx="188.1" cy="618" r="1.2"/>
<circle cx="171" cy="610.7" r="1.2"/>
<circle cx="181.1" cy="622" r="1.2"/>
<circle cx="176.6" cy="612.4" r="1.2"/>
<circle cx="188.5" cy="630.3" r="1.2"/>
<circle cx="162.7" cy="624.3" r="1.2"/>
<circle cx="186.3" cy="617.7" r="1.2"/>
<circle cx="203.8" cy="627.1" r="1.2"/>
<circle cx="157.9" cy="629" r="1.2"/>
<circle cx="163" cy="599.3" r="1.2"/>
<circle cx="169.6" cy="637" r="1.2"/>
<circle cx="197" cy="599.8" r="1.2"/>
<circle cx="177.9" cy="622.9" r="1.2"/>
<circle cx="158.1" cy="637.1" r="1.2"/>
<circle cx="165.2" cy="604.6" r="1.2"/>
<circle cx="177.6" cy="619.2" r="1.2"/>
<circle cx="175.4" cy="630.8" r="1.2"/>
<circle cx="174.5" cy="626.9" r="1.2"/>
<circle cx="166.6" cy="633.6" r="1.2"/>
<circle cx="171.5" cy="625.9" r="1.2"/>
<circle cx="179.6" cy="628.6" r="1.2"/>
<circle cx="176.3" cy="614.4" r="1.2"/>
<circle cx="165.5" cy="613" r="1.2"/>
<circle cx="182.4" cy="635.6" r="1.2"/>
<circle cx="198" cy="621.3" r="1.2"/>
<circle cx="187.7" cy="630.6" r="1.2"/>
<circle cx="159" cy="618.6" r="1.2"/>
<circle cx="190.6" cy="617.4" r="1.2"/>
<circle cx="191.3" cy="629.7" r="1.2"/>
<circle cx="157.2" cy="636.8" r="1.2"/>
<circle cx="169.6" cy="615.1" r="1.2"/>
<circle cx="157" cy="606.5" r="1.2"/>
<circle cx="187.5" cy="631.1" r="1.2"/>
<circle cx="182.8" cy="626.3" r="1.2"/>
<circle cx="169.2" cy="596.9" r="1.2"/>
<circle cx="170.4" cy="622.3" r="1.2"/>
<circle cx="174" cy="620.5" r="1.2"/>
<circle cx="186.3" cy="629.4" r="1.2"/>
<circle cx="200" cy="607.5" r="1.2"/>
<circle cx="195.1" cy="599" r="1.2"/>
<circle cx="178" cy="630.1" r="1.2"/>
<circle cx="194.6" cy="635.2" r="1.2"/>
<circle cx="166.1" cy="623" r="1.2"/>
<circle cx="194.4" cy="631.6" r="1.2"/>
<circle cx="187.7" cy="630.4" r="1.2"/>
<circle cx="177.4" cy="630.9" r="1.2"/>
<circle cx="196.7" cy="617.2" r="1.2"/>
<circle cx="190.7" cy="621.2" r="1.2"/>
<circle cx="204.4" cy="596.8" r="1.2"/>
<circle cx="177.2" cy="626.4" r="1.2"/>
<circle cx="179.1" cy="624.3" r="1.2"/>
<circle cx="163.9" cy="616.7" r="1.2"/>
<circle cx="177" cy="629.8" r="1.2"/>
<circle cx="197.5" cy="631.1" r="1.2"/>
<circle cx="193.6" cy="624.1" r="1.2"/>
<circle cx="202.7" cy="630.8" r="1.2"/>
<circle cx="192.4" cy="631" r="1.2"/>
<circle cx="186.3" cy="614.6" r="1.2"/>
<circle cx="195.4" cy="628.7" r="1.2"/>
<circle cx="168.4" cy="634.1" r="1.2"/>
<circle cx="167.3" cy="634.7" r="1.2"/>
<circle cx="190" cy="631.5" r="1.2"/>
<circle cx="194.5" cy="636.3" r="1.2"/>
<circle cx="178.6" cy="613.3" r="1.2"/>
<circle cx="193" cy="636.7" r="1.2"/>
<circle cx="203" cy="635.4" r="1.2"/>
<circle cx="171.7" cy="599.8" r="1.2"/>
<circle cx="169.7" cy="621.3" r="1.2"/>
<circle cx="171.2" cy="631.8" r="1.2"/>
<circle cx="166.6" cy="616.2" r="1.2"/>
<circle cx="171.9" cy="633.7" r="1.2"/>
<circle cx="194" cy="627.1" r="1.2"/>
<circle cx="186.3" cy="634.9" r="1.2"/>
<circle cx="201" cy="617.1" r="1.2"/>
<circle cx="164.4" cy="626.4" r="1.2"/>
<circle cx="176.7" cy="620" r="1.2"/>
<circle cx="195.3" cy="612.7" r="1.2"/>
<circle cx="197.1" cy="627.8" r="1.2"/>
<circle cx="179" cy="629.5" r="1.2"/>
<circle cx="166.7" cy="596.1" r="1.2"/>
<circle cx="167.3" cy="629.2" r="1.2"/>
<circle cx="182" cy="598.4" r="1.2"/>
<circle cx="158.2" cy="597.6" r="1.2"/>
<circle cx="180.3" cy="600" r="1.2"/>
<circle cx="187.5" cy="624.7" r="1.2"/>
<circle cx="201.1" cy="615.5" r="1.2"/>
<circle cx="182.4" cy="626.3" r="1.2"/>
<circle cx="194.9" cy="632.5" r="1.2"/>
<circle cx="199.6" cy="635.9" r="1.2"/>
<circle cx="176.7" cy="628.5" r="1.2"/>
<circle cx="195.9" cy="627.2" r="1.2"/>
<circle cx="184.5" cy="619.7" r="1.2"/>
<circle cx="186" cy="626.3" r="1.2"/>
<circle cx="196.6" cy="634" r="1.2"/>
<circle cx="197.2" cy="621.8" r="1.2"/>
<circle cx="176.8" cy="629.7" r="1.2"/>
<circle cx="171.2" cy="599.4" r="1.2"/>
<circle cx="167.7" cy="624.9" r="1.2"/>
<circle cx="175.4" cy="631.7" r="1.2"/>
<circle cx="187" cy="630.2" r="1.2"/>
<circle cx="161.2" cy="614.5" r="1.2"/>
<circle cx="160.7" cy="634.6" r="1.2"/>
<circle cx="167" cy="608.7" r="1.2"/>
<circle cx="169.8" cy="635.4" r="1.2"/>
<circle cx="198.5" cy="624.1" r="1.2"/>
<circle cx="173.4" cy="628.6" r="1.2"/>
<circle cx="172.2" cy="615.8" r="1.2"/>
<circle cx="191.1" cy="623.3" r="1.2"/>
<circle cx="197.3" cy="607.6" r="1.2"/>
<circle cx="175.3" cy="610.8" r="1.2"/>
<circle cx="202.5" cy="621.4" r="1.2"/>
<circle cx="167.1" cy="616.6" r="1.2"/>
<circle cx="203.9" cy="596.2" r="1.2"/>
<circle cx="173.1" cy="632.9" r="1.2"/>
<circle cx="184.7" cy="611.1" r="1.2"/>
<circle cx="194.1" cy="626.7" r="1.2"/>
<circle cx="164" cy="635.2" r="1.2"/>
<circle cx="156.8" cy="628.4" r="1.2"/>
<circle cx="182.3" cy="617.5" r="1.2"/>
<circle cx="161.8" cy="608" r="1.2"/>
<circle cx="172.1" cy="628.1" r="1.2"/>
<circle cx="159.1" cy="635.5" r="1.2"/>
<circle cx="185.4" cy="606.6" r="1.2"/>
<circle cx="175.1" cy="606.5" r="1.2"/>
<circle cx="180.8" cy="610.9" r="1.2"/>
<circle cx="174.2" cy="627.2" r="1.2"/>
<circle cx="164" cy="621.5" r="1.2"/>
<circle cx="177.2" cy="633.8" r="1.2"/>
<circle cx="159.7" cy="614.4" r="1.2"/>
<circle cx="173.8" cy="631.6" r="1.2"/>
<circle cx="157.9" cy="635.6" r="1.2"/>
<circle cx="178.1" cy="607.7" r="1.2"/>
<circle cx="177.2" cy="629.1" r="1.2"/>
<circle cx="197.6" cy="604.6" r="1.2"/>
<circle cx="180.3" cy="633.8" r="1.2"/>
<circle cx="166.8" cy="634.7" r="1.2"/>
<circle cx="172.2" cy="598.1" r="1.2"/>
<circle cx="160" cy="624.2" r="1.2"/>
<circle cx="176.5" cy="616.7" r="1.2"/>
<circle cx="194.1" cy="614.8" r="1.2"/>
<circle cx="164.6" cy="606.4" r="1.2"/>
<circle cx="176.6" cy="628.9" r="1.2"/>
<circle cx="202.8" cy="633.5" r="1.2"/>
<circle cx="189.2" cy="594.4" r="1.2"/>
<circle cx="190.8" cy="636.6" r="1.2"/>
<circle cx="189.5" cy="618.4" r="1.2"/>
<circle cx="176.8" cy="633.3" r="1.2"/>
<circle cx="171.8" cy="624.7" r="1.2"/>
<circle cx="167" cy="631.6" r="1.2"/>
<circle cx="203.8" cy="606.9" r="1.2"/>
<circle cx="179" cy="636.7" r="1.2"/>
<circle cx="173.7" cy="601.2" r="1.2"/>
<circle cx="178.8" cy="630.8" r="1.2"/>
<circle cx="168.7" cy="633.5" r="1.2"/>
<circle cx="164.7" cy="629.9" r="1.2"/>
<circle cx="179.5" cy="629.2" r="1.2"/>
<circle cx="195.8" cy="596.4" r="1.2"/>
<circle cx="185.7" cy="597.5" r="1.2"/>
<circle cx="167.8" cy="607.3" r="1.2"/>
<circle cx="194" cy="598" r="1.2"/>
<circle cx="186" cy="632.7" r="1.2"/>
<circle cx="189.9" cy="614.1" r="1.2"/>
<circle cx="172.6" cy="623.7" r="1.2"/>
<circle cx="171.4" cy="612.4" r="1.2"/>
<circle cx="201.6" cy="612.2" r="1.2"/>
<circle cx="170.9" cy="616.4" r="1.2"/>
<circle cx="174.6" cy="598" r="1.2"/>
<circle cx="201.7" cy="636.1" r="1.2"/>
<circle cx="159" cy="632.6" r="1.2"/>
<circle cx="204.1" cy="634.8" r="1.2"/>
<circle cx="185.5" cy="630" r="1.2"/>
<circle cx="200.1" cy="632.4" r="1.2"/>
<circle cx="201.3" cy="624" r="1.2"/>
<circle cx="191.8" cy="626.2" r="1.2"/>
<circle cx="180" cy="627.5" r="1.2"/>
<circle cx="169.7" cy="628.2" r="1.2"/>
<circle cx="157.5" cy="631.8" r="1.2"/>
<circle cx="162.7" cy="631.5" r="1.2"/>
<circle cx="183.5" cy="620.6" r="1.2"/>
<circle cx="185.8" cy="630.7" r="1.2"/>
<circle cx="171.9" cy="628" r="1.2"/>
<circle cx="187.7" cy="622.1" r="1.2"/>
<circle cx="187.8" cy="623.9" r="1.2"/>
<circle cx="169.4" cy="627.4" r="1.2"/>
<circle cx="170.2" cy="618.7" r="1.2"/>
<circle cx="163.2" cy="596.4" r="1.2"/>
<circle cx="197.1" cy="604" r="1.2"/>
<circle cx="197.2" cy="628" r="1.2"/>
<circle cx="177.9" cy="600.6" r="1.2"/>
<circle cx="161.5" cy="625.5" r="1.2"/>
<circle cx="170.7" cy="599.7" r="1.2"/>
<circle cx="160.7" cy="635.2" r="1.2"/>
<circle cx="170.2" cy="619.6" r="1.2"/>
<circle cx="203" cy="627.6" r="1.2"/>
<circle cx="189.4" cy="619.4" r="1.2"/>
<circle cx="190.8" cy="622.4" r="1.2"/>
<circle cx="199.7" cy="620.9" r="1.2"/>
<circle cx="199.2" cy="628.1" r="1.2"/>
<circle cx="200.6" cy="621.2" r="1.2"/>
<circle cx="172.3" cy="633.1" r="1.2"/>
<circle cx="179.4" cy="616.7" r="1.2"/>
<circle cx="184.4" cy="631.2" r="1.2"/>
<circle cx="160.4" cy="632.5" r="1.2"/>
<circle cx="200.4" cy="629.2" r="1.2"/>
<circle cx="201.5" cy="637" r="1.2"/>
<circle cx="191.7" cy="619.1" r="1.2"/>
<circle cx="176.7" cy="619.1" r="1.2"/>
<circle cx="158.5" cy="625.5" r="1.2"/>
<circle cx="165.5" cy="606.9" r="1.2"/>
<circle cx="172.6" cy="600.3" r="1.2"/>
<circle cx="167.1" cy="607.4" r="1.2"/>
<circle cx="191.7" cy="636.8" r="1.2"/>
<circle cx="180.8" cy="627.5" r="1.2"/>
<circle cx="157.9" cy="616.5" r="1.2"/>
<circle cx="176.2" cy="595.7" r="1.2"/>
<circle cx="164.1" cy="609.4" r="1.2"/>
<circle cx="167.5" cy="626.5" r="1.2"/>
<circle cx="165.4" cy="634.8" r="1.2"/>
<circle cx="171.4" cy="634.8" r="1.2"/>
<circle cx="158.2" cy="614.2" r="1.2"/>
<circle cx="189.7" cy="624.6" r="1.2"/>
<circle cx="167.4" cy="635.7" r="1.2"/>
<circle cx="184.7" cy="623.6" r="1.2"/>
<circle cx="161.2" cy="630.3" r="1.2"/>
<circle cx="201.4" cy="628.9" r="1.2"/>
<circle cx="199.8" cy="615.9" r="1.2"/>
<circle cx="192.7" cy="634.6" r="1.2"/>
<circle cx="167" cy="623.4" r="1.2"/>
<circle cx="177" cy="600.2" r="1.2"/>
<circle cx="192.8" cy="625.4" r="1.2"/>
<circle cx="181.1" cy="614.9" r="1.2"/>
<circle cx="186.5" cy="635.9" r="1.2"/>
<circle cx="173.1" cy="633.6" r="1.2"/>
<circle cx="176.1" cy="613.8" r="1.2"/>
<circle cx="194.2" cy="635.1" r="1.2"/>
<circle cx="190.1" cy="616.7" r="1.2"/>
<circle cx="175.8" cy="607.6" r="1.2"/>
<circle cx="172.3" cy="634.5" r="1.2"/>
<circle cx="182.7" cy="634.8" r="1.2"/>
<circle cx="175.5" cy="620.1" r="1.2"/>
<circle cx="167.7" cy="619.6" r="1.2"/>
<circle cx="178.8" cy="615.6" r="1.2"/>
<circle cx="199.8" cy="610.5" r="1.2"/>
<circle cx="162.2" cy="616.8" r="1.2"/>
<circle cx="201.4" cy="632.1" r="1.2"/>
<circle cx="180.2" cy="615.3" r="1.2"/>
<circle cx="189.5" cy="636.1" r="1.2"/>
<circle cx="193.5" cy="623.9" r="1.2"/>
<circle cx="192.2" cy="636.7" r="1.2"/>
<circle cx="191.8" cy="634.9" r="1.2"/>
<circle cx="175.9" cy="635.6" r="1.2"/>
<circle cx="178" cy="633.4" r="1.2"/>
<circle cx="183.8" cy="634.3" r="1.2"/>
<circle cx="189.8" cy="617.8" r="1.2"/>
<circle cx="179.1" cy="636.4" r="1.2"/>
<circle cx="187.4" cy="627.3" r="1.2"/>
<circle cx="161.3" cy="633" r="1.2"/>
<circle cx="157.7" cy="625.8" r="1.2"/>
<circle cx="170.5" cy="601.9" r="1.2"/>
<circle cx="160.7" cy="633.3" r="1.2"/>
<circle cx="194.7" cy="635.7" r="1.2"/>
<circle cx="194" cy="632.4" r="1.2"/>
<circle cx="157.8" cy="632.8" r="1.2"/>
<circle cx="170.2" cy="629.7" r="1.2"/>
<circle cx="180.3" cy="634.1" r="1.2"/>
<circle cx="186.9" cy="630" r="1.2"/>
<circle cx="180.2" cy="604.9" r="1.2"/>
<circle cx="183.8" cy="623.9" r="1.2"/>
<circle cx="172.6" cy="634" r="1.2"/>
<circle cx="180.3" cy="619.6" r="1.2"/>
<circle cx="158.7" cy="628.1" r="1.2"/>
<circle cx="192" cy="631.4" r="1.2"/>
<circle cx="156.7" cy="628.6" r="1.2"/>
<circle cx="192.6" cy="630.7" r="1.2"/>
<circle cx="193.9" cy="611.2" r="1.2"/>
<circle cx="173.2" cy="610.4" r="1.2"/>
<circle cx="171.6" cy="635.7" r="1.2"/>
<circle cx="172.4" cy="622.5" r="1.2"/>
<circle cx="188.8" cy="631.6" r="1.2"/>
<circle cx="177.4" cy="630.6" r="1.2"/>
<circle cx="163.8" cy="629.2" r="1.2"/>
<circle cx="189.2" cy="630.2" r="1.2"/>
<circle cx="164.5" cy="618.9" r="1.2"/>
<circle cx="185.6" cy="626" r="1.2"/>
<circle cx="201.9" cy="631" r="1.2"/>
<circle cx="160.7" cy="622.2" r="1.2"/>
<circle cx="196.8" cy="619.1" r="1.2"/>
<circle cx="197.6" cy="596.3" r="1.2"/>
<circle cx="186.5" cy="616.2" r="1.2"/>
<circle cx="188.9" cy="623" r="1.2"/>
<circle cx="198.4" cy="598.2" r="1.2"/>
<circle cx="171.6" cy="630.1" r="1.2"/>
<circle cx="188.4" cy="628.1" r="1.2"/>
<circle cx="157.5" cy="614.6" r="1.2"/>
<circle cx="159.7" cy="619.2" r="1.2"/>
<circle cx="184.1" cy="614" r="1.2"/>
<circle cx="161.5" cy="602.7" r="1.2"/>
<circle cx="194.1" cy="633.7" r="1.2"/>
<circle cx="182" cy="607.5" r="1.2"/>
<circle cx="202.3" cy="625.7" r="1.2"/>
<circle cx="174.4" cy="624.9" r="1.2"/>
<circle cx="177.7" cy="633.5" r="1.2"/>
<circle cx="192" cy="630.1" r="1.2"/>
<circle cx="164.9" cy="617.8" r="1.2"/>
<circle cx="202.4" cy="612.1" r="1.2"/>
<circle cx="176.6" cy="623.7" r="1.2"/>
<circle cx="170" cy="627.6" r="1.2"/>
<circle cx="192.4" cy="632.1" r="1.2"/>
<circle cx="166.3" cy="623.6" r="1.2"/>
<circle cx="162.9" cy="612.1" r="1.2"/>
<circle cx="185.9" cy="621.2" r="1.2"/>
<circle cx="174.6" cy="630.2" r="1.2"/>
<circle cx="180.8" cy="619.9" r="1.2"/>
<circle cx="175.7" cy="632.3" r="1.2"/>
<circle cx="201.6" cy="598.6" r="1.2"/>
<circle cx="185.7" cy="630.6" r="1.2"/>
<circle cx="163.5" cy="636" r="1.2"/>
<circle cx="200.5" cy="607.9" r="1.2"/>
<circle cx="191.4" cy="636.9" r="1.2"/>
<circle cx="190.8" cy="626.1" r="1.2"/>
<circle cx="172.8" cy="634.6" r="1.2"/>
<circle cx="160.4" cy="618.4" r="1.2"/>
<circle cx="189.7" cy="606" r="1.2"/>
<circle cx="177" cy="630.1" r="1.2"/>
<circle cx="197.1" cy="615.9" r="1.2"/>
<circle cx="187.5" cy="634.3" r="1.2"/>
<circle cx="181.9" cy="634.4" r="1.2"/>
<circle cx="162.1" cy="607.9" r="1.2"/>
<circle cx="171.7" cy="607.9" r="1.2"/>
<circle cx="200.1" cy="618.7" r="1.2"/>
<circle cx="187.8" cy="625.4" r="1.2"/>
<circle cx="186.2" cy="633.2" r="1.2"/>
<circle cx="162.4" cy="620.5" r="1.2"/>
<circle cx="170.1" cy="629.7" r="1.2"/>
<circle cx="174.8" cy="630.4" r="1.2"/>
<circle cx="183.3" cy="620.7" r="1.2"/>
<circle cx="185.9" cy="628.9" r="1.2"/>
<circle cx="195.1" cy="633.2" r="1.2"/>
<circle cx="197.4" cy="607.8" r="1.2"/>
<circle cx="176.9" cy="632.3" r="1.2"/>
<circle cx="157.4" cy="636.1" r="1.2"/>
<circle cx="164.4" cy="610.7" r="1.2"/>
<circle cx="174.3" cy="621.3" r="1.2"/>
<circle cx="197.1" cy="619.2" r="1.2"/>
<circle cx="179.2" cy="628.7" r="1.2"/>
<circle cx="183.9" cy="627.9" r="1.2"/>
<circle cx="161.5" cy="635" r="1.2"/>
<circle cx="200.9" cy="599.1" r="1.2"/>
<circle cx="171.8" cy="610" r="1.2"/>
<circle cx="169.2" cy="623" r="1.2"/>
<circle cx="160.4" cy="635.2" r="1.2"/>
<circle cx="203" cy="610.7" r="1.2"/>
<circle cx="174.6" cy="608.2" r="1.2"/>
<circle cx="178.8" cy="617.7" r="1.2"/>
<circle cx="160.1" cy="627.9" r="1.2"/>
<circle cx="197.9" cy="596.9" r="1.2"/>
<circle cx="181.5" cy="634.5" r="1.2"/>
<circle cx="167" cy="623.9" r="1.2"/>
<circle cx="191.5" cy="616.6" r="1.2"/>
<circle cx="156.9" cy="627.8" r="1.2"/>
<circle cx="182.7" cy="626.2" r="1.2"/>
<circle cx="201.9" cy="636.2" r="1.2"/>
<circle cx="164.7" cy="627.4" r="1.2"/>
<circle cx="179.7" cy="632.3" r="1.2"/>
<circle cx="191.1" cy="631" r="1.2"/>
<circle cx="181.3" cy="635" r="1.2"/>
<circle cx="186.6" cy="610.8" r="1.2"/>
<circle cx="162.2" cy="622.7" r="1.2"/>
<circle cx="164.5" cy="625.9" r="1.2"/>
<circle cx="158.4" cy="614.7" r="1.2"/>
<circle cx="203.1" cy="619.4" r="1.2"/>
<circle cx="171" cy="631.6" r="1.2"/>
<circle cx="175" cy="622.1" r="1.2"/>
<circle cx="182.9" cy="634.6" r="1.2"/>
<circle cx="165.9" cy="623.7" r="1.2"/>
<circle cx="198" cy="615.7" r="1.2"/>
<circle cx="200.8" cy="627.8" r="1.2"/>
<circle cx="166.1" cy="633.3" r="1.2"/>
<circle cx="201.8" cy="620.3" r="1.2"/>
<circle cx="172.5" cy="627.9" r="1.2"/>
<circle cx="179.2" cy="629.7" r="1.2"/>
<circle cx="176.1" cy="634.1" r="1.2"/>
<circle cx="164.9" cy="614.8" r="1.2"/>
<circle cx="182.9" cy="603.2" r="1.2"/>
<circle cx="161.8" cy="631.1" r="1.2"/>
<circle cx="184.8" cy="617.7" r="1.2"/>
<circle cx="197.4" cy="630.8" r="1.2"/>
<circle cx="199.5" cy="602.7" r="1.2"/>
<circle cx="165.3" cy="626.3" r="1.2"/>
<circle cx="191.5" cy="635.7" r="1.2"/>
<circle cx="180.5" cy="604.4" r="1.2"/>
<circle cx="176" cy="619.5" r="1.2"/>
<circle cx="161.7" cy="627" r="1.2"/>
<circle cx="197.3" cy="632.4" r="1.2"/>
<circle cx="157.1" cy="618.5" r="1.2"/>
<circle cx="188.4" cy="624.5" r="1.2"/>
<circle cx="180" cy="605" r="1.2"/>
<circle cx="197.2" cy="608.4" r="1.2"/>
<circle cx="164.5" cy="623.4" r="1.2"/>
<circle cx="156.9" cy="617.4" r="1.2"/>
<circle cx="188" cy="636.8" r="1.2"/>
<circle cx="199.8" cy="611" r="1.2"/>
<circle cx="174.3" cy="635.4" r="1.2"/>
<circle cx="197.1" cy="626" r="1.2"/>
<circle cx="158.8" cy="634.2" r="1.2"/>
<circle cx="182" cy="630.7" r="1.2"/>
<circle cx="163.8" cy="635.6" r="1.2"/>
<circle cx="173.9" cy="626.1" r="1.2"/>
<circle cx="168.5" cy="622.6" r="1.2"/>
<circle cx="161.2" cy="612.5" r="1.2"/>
<circle cx="161.3" cy="625.7" r="1.2"/>
<circle cx="196.6" cy="603.3" r="1.2"/>
<circle cx="196.7" cy="621.2" r="1.2"/>
<circle cx="197.7" cy="613.3" r="1.2"/>
<circle cx="198.5" cy="610.6" r="1.2"/>
<circle cx="177.7" cy="615.3" r="1.2"/>
<circle cx="168.3" cy="628.8" r="1.2"/>
<circle cx="181.8" cy="608.8" r="1.2"/>
<circle cx="202.7" cy="615.2" r="1.2"/>
<circle cx="195.5" cy="608" r="1.2"/>
<circle cx="159.8" cy="629.3" r="1.2"/>
<circle cx="194.8" cy="628.3" r="1.2"/>
<circle cx="177.6" cy="629.1" r="1.2"/>
<circle cx="203.7" cy="620.6" r="1.2"/>
<circle cx="158.2" cy="610.3" r="1.2"/>
<circle cx="168.7" cy="628.3" r="1.2"/>
<circle cx="162" cy="633.7" r="1.2"/>
<circle cx="158.9" cy="636.9" r="1.2"/>
<circle cx="190.5" cy="631.8" r="1.2"/>
<circle cx="194" cy="636.6" r="1.2"/>
<circle cx="199.8" cy="631.9" r="1.2"/>
<circle cx="188.1" cy="633.4" r="1.2"/>
<circle cx="166.8" cy="595.6" r="1.2"/>
<circle cx="182.6" cy="630.8" r="1.2"/>
<circle cx="157" cy="633.2" r="1.2"/>
<circle cx="202.4" cy="633.6" r="1.2"/>
<circle cx="161.9" cy="614.2" r="1.2"/>
<circle cx="187.1" cy="596.4" r="1.2"/>
<circle cx="192.4" cy="635" r="1.2"/>
<circle cx="185.4" cy="632.9" r="1.2"/>
<circle cx="192.4" cy="628.4" r="1.2"/>
<circle cx="174.4" cy="636.8" r="1.2"/>
<circle cx="188.9" cy="612.2" r="1.2"/>
<circle cx="159.3" cy="630" r="1.2"/>
<circle cx="186" cy="633.5" r="1.2"/>
<circle cx="201.4" cy="624.2" r="1.2"/>
<circle cx="167.5" cy="631.9" r="1.2"/>
<circle cx="188" cy="615.1" r="1.2"/>
<circle cx="176.8" cy="605.7" r="1.2"/>
<circle cx="186.7" cy="635.4" r="1.2"/>
<circle cx="171.6" cy="632" r="1.2"/>
<circle cx="171.7" cy="620.8" r="1.2"/>
<circle cx="165.2" cy="637" r="1.2"/>
<circle cx="166.8" cy="630.7" r="1.2"/>
<circle cx="171" cy="632.7" r="1.2"/>
<circle cx="184" cy="634.9" r="1.2"/>
<circle cx="165.1" cy="615.8" r="1.2"/>
<circle cx="186" cy="605.6" r="1.2"/>
<circle cx="194.9" cy="630.9" r="1.2"/>
<circle cx="171.2" cy="623.4" r="1.2"/>
<circle cx="188.9" cy="611.3" r="1.2"/>
<circle cx="198.8" cy="636.7" r="1.2"/>
<circle cx="171" cy="623.8" r="1.2"/>
<circle cx="157.6" cy="598.9" r="1.2"/>
<circle cx="163.8" cy="613.8" r="1.2"/>
<circle cx="179.8" cy="595.6" r="1.2"/>
<circle cx="195.7" cy="624.8" r="1.2"/>
<circle cx="194.5" cy="624.4" r="1.2"/>
<circle cx="175.3" cy="618.8" r="1.2"/>
<circle cx="173.8" cy="619.8" r="1.2"/>
<circle cx="201.7" cy="628.9" r="1.2"/>
<circle cx="198.8" cy="597.8" r="1.2"/>
<circle cx="177.9" cy="622.5" r="1.2"/>
<circle cx="177.4" cy="615" r="1.2"/>
<circle cx="196.8" cy="611" r="1.2"/>
<circle cx="163" cy="628.3" r="1.2"/>
<circle cx="174.1" cy="597.6" r="1.2"/>
<circle cx="171.8" cy="630.6" r="1.2"/>
<circle cx="179.3" cy="628.6" r="1.2"/>
<circle cx="160.3" cy="627.4" r="1.2"/>
<circle cx="157.6" cy="604.5" r="1.2"/>
<circle cx="169.5" cy="596.9" r="1.2"/>
<circle cx="160" cy="619.8" r="1.2"/>
<circle cx="188" cy="610.8" r="1.2"/>
<circle cx="157.5" cy="600.7" r="1.2"/>
<circle cx="180.8" cy="636.8" r="1.2"/>
<circle cx="157" cy="626.9" r="1.2"/>
<circle cx="181.5" cy="610.6" r="1.2"/>
<circle cx="197" cy="629.8" r="1.2"/>
<circle cx="187.5" cy="631" r="1.2"/>
<circle cx="177.9" cy="630.6" r="1.2"/>
<circle cx="188.2" cy="632.8" r="1.2"/>
<circle cx="166" cy="616.9" r="1.2"/>
<circle cx="171.3" cy="634.5" r="1.2"/>
<circle cx="199.2" cy="607" r="1.2"/>
<circle cx="204.2" cy="634.1" r="1.2"/>
<circle cx="170.9" cy="636.2" r="1.2"/>
<circle cx="198.9" cy="627.1" r="1.2"/>
<circle cx="188.1" cy="632" r="1.2"/>
<circle cx="202.3" cy="635.2" r="1.2"/>
<circle cx="165" cy="618" r="1.2"/>
<circle cx="180.2" cy="630.4" r="1.2"/>
<circle cx="182" cy="630.7" r="1.2"/>
<circle cx="192.4" cy="616.4" r="1.2"/>
<circle cx="176.1" cy="614.6" r="1.2"/>
<circle cx="182.4" cy="614.5" r="1.2"/>
<circle cx="166" cy="603.6" r="1.2"/>
<circle cx="200.5" cy="633.3" r="1.2"/>
<circle cx="184.3" cy="627.2" r="1.2"/>
<circle cx="177.3" cy="631" r="1.2"/>
<circle cx="179.6" cy="615" r="1.2"/>
<circle cx="196.3" cy="617.9" r="1.2"/>
<circle cx="187" cy="622.6" r="1.2"/>
<circle cx="166" cy="619.2" r="1.2"/>
<circle cx="197.4" cy="634.1" r="1.2"/>
<circle cx="173.9" cy="632.4" r="1.2"/>
<circle cx="188.2" cy="597.1" r="1.2"/>
<circle cx="164.9" cy="633.5" r="1.2"/>
<circle cx="180.8" cy="620.9" r="1.2"/>
<circle cx="180.5" cy="629.7" r="1.2"/>
<circle cx="170.9" cy="627" r="1.2"/>
<circle cx="203.1" cy="613.4" r="1.2"/>
<circle cx="160.6" cy="633.7" r="1.2"/>
<circle cx="169.5" cy="636.7" r="1.2"/>
<circle cx="178.8" cy="616.6" r="1.2"/>
<circle cx="185.8" cy="612.9" r="1.2"/>
<circle cx="160.4" cy="629.4" r="1.2"/>
<circle cx="167.6" cy="628.5" r="1.2"/>
<circle cx="162.8" cy="636.3" r="1.2"/>
<circle cx="164.2" cy="623.6" r="1.2"/>
<circle cx="186.5" cy="598.5" r="1.2"/>
<circle cx="184.1" cy="621.4" r="1.2"/>
<circle cx="173" cy="626.9" r="1.2"/>
<circle cx="182.9" cy="628.5" r="1.2"/>
<circle cx="171.9" cy="607.6" r="1.2"/>
<circle cx="161.5" cy="605.2" r="1.2"/>
<circle cx="185.2" cy="634.7" r="1.2"/>
<circle cx="161.2" cy="614.8" r="1.2"/>
<circle cx="187.4" cy="630.9" r="1.2"/>
<circle cx="185.1" cy="636.6" r="1.2"/>
<circle cx="178.5" cy="625.8" r="1.2"/>
<circle cx="167.3" cy="597.4" r="1.2"/>
<circle cx="175.6" cy="609.8" r="1.2"/>
<circle cx="199" cy="624.7" r="1.2"/>
<circle cx="186.4" cy="627.8" r="1.2"/>
<circle cx="202.9" cy="616.1" r="1.2"/>
<circle cx="173.3" cy="620.5" r="1.2"/>
<circle cx="203.2" cy="622.7" r="1.2"/>
<circle cx="192.5" cy="629.1" r="1.2"/>
<circle cx="198.4" cy="613.1" r="1.2"/>
<circle cx="196.3" cy="634.5" r="1.2"/>
<circle cx="169.5" cy="619.6" r="1.2"/>
<circle cx="170.2" cy="599.1" r="1.2"/>
<circle cx="170.5" cy="616.4" r="1.2"/>
<circle cx="157.1" cy="622.3" r="1.2"/>
<circle cx="166.2" cy="633.8" r="1.2"/>
<circle cx="179.6" cy="626.1" r="1.2"/>
<circle cx="184.8" cy="632.3" r="1.2"/>
<circle cx="177.6" cy="630.7" r="1.2"/>
<circle cx="195.1" cy="629" r="1.2"/>
<circle cx="158.7" cy="623.9" r="1.2"/>
<circle cx="192.7" cy="627.2" r="1.2"/>
<circle cx="203.8" cy="635.7" r="1.2"/>
<circle cx="158.3" cy="627.8" r="1.2"/>
<circle cx="174.9" cy="607.6" r="1.2"/>
<circle cx="199.8" cy="633.7" r="1.2"/>
<circle cx="164.8" cy="636.8" r="1.2"/>
<circle cx="197.8" cy="621.6" r="1.2"/>
<circle cx="162.4" cy="622.7" r="1.2"/>
<circle cx="167.8" cy="622.1" r="1.2"/>
<circle cx="172.9" cy="617.4" r="1.2"/>
<circle cx="202.4" cy="632.1" r="1.2"/>
<circle cx="196.3" cy="619.3" r="1.2"/>
<circle cx="172.1" cy="607.8" r="1.2"/>
<circle cx="166.6" cy="625.2" r="1.2"/>
<circle cx="183.6" cy="621.9" r="1.2"/>
<circle cx="201.8" cy="632.7" r="1.2"/>
<circle cx="168.1" cy="626.9" r="1.2"/>
<circle cx="185" cy="597.4" r="1.2"/>
<circle cx="168" cy="629.3" r="1.2"/>
<circle cx="190" cy="613.2" r="1.2"/>
<circle cx="175.8" cy="626.9" r="1.2"/>
<circle cx="190.6" cy="630.7" r="1.2"/>
<circle cx="177.9" cy="630.9" r="1.2"/>
<circle cx="202.7" cy="629.5" r="1.2"/>
<circle cx="179.3" cy="633.1" r="1.2"/>
<circle cx="171.1" cy="635.3" r="1.2"/>
<circle cx="158.1" cy="606.7" r="1.2"/>
<circle cx="170.1" cy="628.6" r="1.2"/>
<circle cx="182" cy="607.8" r="1.2"/>
<circle cx="171.2" cy="615.6" r="1.2"/>
<circle cx="193.5" cy="605.4" r="1.2"/>
<circle cx="159.1" cy="616.5" r="1.2"/>
<circle cx="202.4" cy="618.1" r="1.2"/>
<circle cx="175.6" cy="620.3" r="1.2"/>
<circle cx="188.7" cy="624.7" r="1.2"/>
<circle cx="180.6" cy="621.8" r="1.2"/>
<circle cx="200.6" cy="622.7" r="1.2"/>
<circle cx="184.8" cy="610.4" r="1.2"/>
<circle cx="180.4" cy="631.3" r="1.2"/>
<circle cx="179.1" cy="637" r="1.2"/>
<circle cx="202.7" cy="621.3" r="1.2"/>
<circle cx="185.1" cy="624.3" r="1.2"/>
<circle cx="167.3" cy="635.2" r="1.2"/>
<circle cx="183.3" cy="600.1" r="1.2"/>
<circle cx="200.6" cy="632.8" r="1.2"/>
<circle cx="180.7" cy="634.5" r="1.2"/>
<circle cx="201.9" cy="607.9" r="1.2"/>
<circle cx="200.9" cy="635.7" r="1.2"/>
<circle cx="199.3" cy="627.6" r="1.2"/>
<circle cx="171.7" cy="615.1" r="1.2"/>
<circle cx="161.4" cy="632.5" r="1.2"/>
<circle cx="163" cy="636.6" r="1.2"/>
<circle cx="181.3" cy="635.2" r="1.2"/>
<circle cx="182.6" cy="627" r="1.2"/>
<circle cx="203.8" cy="618.4" r="1.2"/>
<circle cx="179.8" cy="629.4" r="1.2"/>
<circle cx="203.3" cy="611.3" r="1.2"/>
<circle cx="159.8" cy="634.9" r="1.2"/>
<circle cx="175.8" cy="607.1" r="1.2"/>
<circle cx="202.3" cy="629.2" r="1.2"/>
<circle cx="189.6" cy="632.6" r="1.2"/>
<circle cx="190.7" cy="602.4" r="1.2"/>
<circle cx="182.5" cy="625.4" r="1.2"/>
<circle cx="173.2" cy="633.2" r="1.2"/>
<circle cx="200.1" cy="630.5" r="1.2"/>
<circle cx="157.6" cy="621.4" r="1.2"/>
<circle cx="172.4" cy="632.6" r="1.2"/>
<circle cx="169.3" cy="630.9" r="1.2"/>
<circle cx="171.4" cy="628.8" r="1.2"/>
<circle cx="185.5" cy="600.1" r="1.2"/>
<circle cx="203" cy="634.1" r="1.2"/>
<circle cx="190.3" cy="617.4" r="1.2"/>
<circle cx="191.8" cy="622.7" r="1.2"/>
<circle cx="164.1" cy="624.3" r="1.2"/>
<circle cx="191.6" cy="602.3" r="1.2"/>
<circle cx="187" cy="635.4" r="1.2"/>
<circle cx="184.5" cy="605.9" r="1.2"/>
<circle cx="163.4" cy="625.2" r="1.2"/>
<circle cx="201.3" cy="610.3" r="1.2"/>
<circle cx="183.5" cy="632.7" r="1.2"/>
<circle cx="187.3" cy="610.1" r="1.2"/>
<circle cx="162.5" cy="632.4" r="1.2"/>
<circle cx="162.2" cy="632.4" r="1.2"/>
<circle cx="163.8" cy="627.4" r="1.2"/>
<circle cx="198.6" cy="621.6" r="1.2"/>
<circle cx="190" cy="622.1" r="1.2"/>
<circle cx="188.1" cy="624.2" r="1.2"/>
<circle cx="186.4" cy="612.1" r="1.2"/>
<circle cx="164.5" cy="627.8" r="1.2"/>
<circle cx="161.3" cy="637" r="1.2"/>
<circle cx="182.1" cy="634.5" r="1.2"/>
<circle cx="165" cy="636" r="1.2"/>
<circle cx="183.5" cy="627" r="1.2"/>
<circle cx="188.6" cy="630.2" r="1.2"/>
</g>
<g fill="#1E90FF">
<circle cx="43.1" cy="621.1" r="1.2"/>
<circle cx="43.9" cy="637.2" r="1.2"/>
<circle cx="51.7" cy="619" r="1.2"/>
<circle cx="63.4" cy="629.4" r="1.2"/>
<circle cx="72.5" cy="634.6" r="1.2"/>
<circle cx="76.4" cy="632" r="1.2"/>
<circle cx="80.3" cy="619.6" r="1.2"/>
<circle cx="88.6" cy="615.7" r="1.2"/>
<circle cx="90.7" cy="622.4" r="1.2"/>
<circle cx="95.3" cy="628.6" r="1.2"/>
<circle cx="96.4" cy="631.5" r="1.2"/>
<circle cx="97.7" cy="602.1" r="1.2"/>
<circle cx="97.9" cy="612.5" r="1.2"/>
<circle cx="101.6" cy="584" r="1.2"/>
<circle cx="104.7" cy="588.6" r="1.2"/>
<circle cx="99" cy="624.2" r="1.2"/>
<circle cx="101" cy="625.5" r="1.2"/>
<circle cx="102.1" cy="633.3" r="1.2"/>
<circle cx="103.6" cy="635.4" r="1.2"/>
<circle cx="107.3" cy="600" r="1.2"/>
<circle cx="110.9" cy="599" r="1.2"/>
<circle cx="94" cy="483.9" r="1.2"/>
<circle cx="100.5" cy="550.7" r="1.2"/>
<circle cx="107.5" cy="602.7" r="1.2"/>
<circle cx="92" cy="630.5" r="1.2"/>
<circle cx="98.5" cy="619" r="1.2"/>
<circle cx="105.5" cy="631" r="1.2"/>
<circle cx="106.5" cy="626" r="1.2"/>
<circle cx="100.5" cy="636" r="1.2"/>
<circle cx="94.5" cy="636.5" r="1.2"/>
<circle cx="91.8" cy="633.7" r="1.2"/>
<circle cx="107.1" cy="633.2" r="1.2"/>
<circle cx="93.8" cy="625.1" r="1.2"/>
<circle cx="90.2" cy="634.3" r="1.2"/>
<circle cx="101.2" cy="635.2" r="1.2"/>
<circle cx="93.3" cy="632.2" r="1.2"/>
<circle cx="93.1" cy="623.6" r="1.2"/>
<circle cx="95.8" cy="631.4" r="1.2"/>
<circle cx="106" cy="631.3" r="1.2"/>
<circle cx="99.4" cy="628.1" r="1.2"/>
</g>
<path d="M42.9,604.2 Q120,616 204.4,623.9 L204.4,628.7 Q120,618 42.9,611.4 Z" fill="#BBBBBB" fill-opacity="0.6"/>
<line x1="42.9" y1="607.8" x2="204.4" y2="626.3" stroke="#000" stroke-width="1.5"/>
<rect x="34.5" y="476.4" width="177.3" height="168.6" fill="none" stroke="#000" stroke-width="1.3"/>
<line x1="31.1" y1="637.1" x2="34.5" y2="637.1" stroke="#000" stroke-width="1.1"/>
<text x="27.1" y="640.1" font-size="8.4" text-anchor="end">0</text>
<line x1="31.1" y1="579.3" x2="34.5" y2="579.3" stroke="#000" stroke-width="1.1"/>
<text x="27.1" y="582.3" font-size="8.4" text-anchor="end">10</text>
<line x1="31.1" y1="521.5" x2="34.5" y2="521.5" stroke="#000" stroke-width="1.1"/>
<text x="27.1" y="524.5" font-size="8.4" text-anchor="end">20</text>
<line x1="61.3" y1="645" x2="61.3" y2="648.3" stroke="#000" stroke-width="1.1"/>
<text x="61.3" y="657.6" font-size="8.6" text-anchor="middle">0.4</text>
<line x1="109" y1="645" x2="109" y2="648.3" stroke="#000" stroke-width="1.1"/>
<text x="109" y="657.6" font-size="8.6" text-anchor="middle">0.6</text>
<line x1="156.7" y1="645" x2="156.7" y2="648.3" stroke="#000" stroke-width="1.1"/>
<text x="156.7" y="657.6" font-size="8.6" text-anchor="middle">0.8</text>
<line x1="204.4" y1="645" x2="204.4" y2="648.3" stroke="#000" stroke-width="1.1"/>
<text x="204.4" y="657.6" font-size="8.6" text-anchor="middle">1.0</text>
<text x="50.8" y="669.5" font-size="8.4">Representive structure similarity (RSS)</text>
<text transform="translate(10.6,560.2) rotate(-90)" font-size="8.4" text-anchor="middle">Relative errors (%)</text>
<text x="138.2" y="489.3" font-size="8.45"><tspan font-style="italic">p</tspan>&#8211;value: 2.98e&#8211;10</text>
<rect x="56.8" y="487.1" width="13.2" height="59" fill="#2288F8"/>
<rect x="76.8" y="502.9" width="13.7" height="43.2" fill="#32C832"/>
<rect x="97.3" y="507.9" width="13.7" height="38.2" fill="#FF6347"/>
<path d="M51.4,484.5 V546.1 H116.2" fill="none" stroke="#666" stroke-width="0.8"/>
<line x1="49.8" y1="545.7" x2="51.4" y2="545.7" stroke="#666" stroke-width="0.7"/>
<text x="48.6" y="547.5" font-size="5.2" text-anchor="end">0</text>
<line x1="49.8" y1="523.1" x2="51.4" y2="523.1" stroke="#666" stroke-width="0.7"/>
<text x="48.6" y="524.9" font-size="5.2" text-anchor="end">1</text>
<line x1="49.8" y1="500.5" x2="51.4" y2="500.5" stroke="#666" stroke-width="0.7"/>
<text x="48.6" y="502.3" font-size="5.2" text-anchor="end">2</text>
<text x="63.4" y="485.6" font-size="5.6" text-anchor="middle">2.6%</text>
<text x="83.6" y="501.3" font-size="5.6" text-anchor="middle">1.9%</text>
<text x="104.2" y="506.4" font-size="5.6" text-anchor="middle">1.7%</text>
<text x="62.9" y="552.4" font-size="5.5" text-anchor="middle">&#8804;0.6</text>
<text x="83.4" y="552.4" font-size="5.5" text-anchor="middle">0.6&#8211;0.8</text>
<text x="103.6" y="552.4" font-size="5.5" text-anchor="middle">&gt;0.8</text>
<text x="83.4" y="559.6" font-size="5.5" text-anchor="middle">RSS</text>
<text transform="translate(41.8,514.8) rotate(-90)" font-size="5.6" text-anchor="middle">MRE (%)</text>
<text x="231.2" y="476.7" font-size="13.4" font-weight="bold">h</text>
<rect x="271.1" y="586.2" width="22.9" height="58.8" fill="#FF6347"/>
<rect x="271.1" y="512.2" width="22.9" height="74" fill="#32CD32"/>
<rect x="271.1" y="493" width="22.9" height="19.2" fill="#1E90FF"/>
<text x="282.6" y="505.1" font-size="7" text-anchor="middle" fill="#111">12.6</text>
<text x="282.6" y="553.2" font-size="7" text-anchor="middle" fill="#111">48.7</text>
<text x="282.6" y="622.1" font-size="7" text-anchor="middle" fill="#111">38.7</text>
<text x="282.6" y="652.2" font-size="5.5" text-anchor="middle">KEGG</text>
<rect x="296.4" y="519.1" width="22.9" height="125.9" fill="#FF6347"/>
<rect x="296.4" y="497.7" width="22.9" height="21.4" fill="#32CD32"/>
<rect x="296.4" y="493" width="22.9" height="4.7" fill="#1E90FF"/>
<text x="307.9" y="498.8" font-size="7" text-anchor="middle" fill="#111">3.1</text>
<text x="307.9" y="511.6" font-size="7" text-anchor="middle" fill="#111">14.1</text>
<text x="307.9" y="584.1" font-size="7" text-anchor="middle" fill="#111">82.8</text>
<text x="307.9" y="652.2" font-size="5.5" text-anchor="middle">HMDB</text>
<rect x="321.7" y="524.2" width="22.9" height="120.8" fill="#FF6347"/>
<rect x="321.7" y="499.1" width="22.9" height="25.1" fill="#32CD32"/>
<rect x="321.7" y="493" width="22.9" height="6.1" fill="#1E90FF"/>
<text x="333.2" y="498.8" font-size="7" text-anchor="middle" fill="#111">4.0</text>
<text x="333.2" y="514" font-size="7" text-anchor="middle" fill="#111">16.5</text>
<text x="333.2" y="582.8" font-size="7" text-anchor="middle" fill="#111">79.5</text>
<text x="333.2" y="652.2" font-size="5.5" text-anchor="middle">LMSD</text>
<rect x="347" y="601.7" width="22.9" height="43.3" fill="#FF6347"/>
<rect x="347" y="510.6" width="22.9" height="91" fill="#32CD32"/>
<rect x="347" y="493" width="22.9" height="17.6" fill="#1E90FF"/>
<text x="358.4" y="504.9" font-size="7" text-anchor="middle" fill="#111">11.6</text>
<text x="358.4" y="554.9" font-size="7" text-anchor="middle" fill="#111">59.9</text>
<text x="358.4" y="625.4" font-size="7" text-anchor="middle" fill="#111">28.5</text>
<text x="358.4" y="652.2" font-size="5.5" text-anchor="middle">MINE</text>
<rect x="372.3" y="605.8" width="22.9" height="39.2" fill="#FF6347"/>
<rect x="372.3" y="509.7" width="22.9" height="96.1" fill="#32CD32"/>
<rect x="372.3" y="493" width="22.9" height="16.7" fill="#1E90FF"/>
<text x="383.8" y="505.2" font-size="7" text-anchor="middle" fill="#111">11.0</text>
<text x="383.8" y="554.9" font-size="7" text-anchor="middle" fill="#111">63.2</text>
<text x="383.8" y="625.4" font-size="7" text-anchor="middle" fill="#111">25.8</text>
<text x="383.8" y="652.2" font-size="5.5" text-anchor="middle">DrugBank</text>
<rect x="397.6" y="622.5" width="22.9" height="22.5" fill="#FF6347"/>
<rect x="397.6" y="527.7" width="22.9" height="94.8" fill="#32CD32"/>
<rect x="397.6" y="493" width="22.9" height="34.7" fill="#1E90FF"/>
<text x="409.1" y="511.3" font-size="7" text-anchor="middle" fill="#111">22.8</text>
<text x="409.1" y="576.1" font-size="7" text-anchor="middle" fill="#111">62.4</text>
<text x="409.1" y="637.9" font-size="7" text-anchor="middle" fill="#111">14.8</text>
<text x="409.1" y="652.2" font-size="5.5" text-anchor="middle">DSSTox</text>
<rect x="422.9" y="597.1" width="22.9" height="47.9" fill="#FF6347"/>
<rect x="422.9" y="502" width="22.9" height="95.2" fill="#32CD32"/>
<rect x="422.9" y="493" width="22.9" height="9" fill="#1E90FF"/>
<text x="434.4" y="500.5" font-size="7" text-anchor="middle" fill="#111">5.9</text>
<text x="434.4" y="555.9" font-size="7" text-anchor="middle" fill="#111">62.6</text>
<text x="434.4" y="625.4" font-size="7" text-anchor="middle" fill="#111">31.5</text>
<text x="434.4" y="652.2" font-size="5.5" text-anchor="middle">UNPD</text>
<path d="M267.5,473.4 V644.4 H449.2" fill="none" stroke="#000" stroke-width="1.4"/>
<line x1="264.8" y1="645" x2="267.5" y2="645" stroke="#000" stroke-width="1.1"/>
<text x="261.5" y="648.4" font-size="9.5" text-anchor="end">0</text>
<line x1="264.8" y1="607" x2="267.5" y2="607" stroke="#000" stroke-width="1.1"/>
<text x="261.5" y="610.4" font-size="9.5" text-anchor="end">25</text>
<line x1="264.8" y1="569" x2="267.5" y2="569" stroke="#000" stroke-width="1.1"/>
<text x="261.5" y="572.4" font-size="9.5" text-anchor="end">50</text>
<line x1="264.8" y1="531" x2="267.5" y2="531" stroke="#000" stroke-width="1.1"/>
<text x="261.5" y="534.4" font-size="9.5" text-anchor="end">75</text>
<line x1="264.8" y1="493" x2="267.5" y2="493" stroke="#000" stroke-width="1.1"/>
<text x="261.5" y="496.4" font-size="9.5" text-anchor="end">100</text>
<text transform="translate(237.8,565) rotate(-90)" font-size="8.0" text-anchor="middle">Percentage (%)</text>
<rect x="279.1" y="476.1" width="7.5" height="7.5" fill="#1E90FF"/>
<text x="288.9" y="482.5" font-size="7">RSS &#8804; 0.6</text>
<rect x="328.2" y="476.1" width="7.5" height="7.5" fill="#32CD32"/>
<text x="338.2" y="482.5" font-size="7">0.6 &lt; RSS &#8804; 0.8</text>
<rect x="392.1" y="476.1" width="7.5" height="7.5" fill="#FF6347"/>
<text x="402" y="482.5" font-size="7">0.8 &lt; RSS</text>
<text x="473.2" y="322.2" font-size="13.4" font-weight="bold">g</text>
<text x="486.3" y="345.6" font-size="8.3">RSS: 0.9363</text>
<line x1="540.6" y1="366.2" x2="573.2" y2="349.4" stroke="#000" stroke-width="1.4"/>
<line x1="545.7" y1="376.6" x2="624.6" y2="368.8" stroke="#000" stroke-width="1.4"/>
<line x1="546.3" y1="390" x2="580.9" y2="391.7" stroke="#000" stroke-width="1.4"/>
<line x1="544" y1="402.4" x2="626.9" y2="424.9" stroke="#000" stroke-width="1.4"/>
<line x1="537.3" y1="414.2" x2="569.8" y2="437" stroke="#000" stroke-width="1.9"/>
<circle cx="510.4" cy="388.8" r="36.3" fill="#fff" stroke="#F0573A" stroke-width="1.3"/>
<circle cx="589.1" cy="343.1" r="17" fill="#F9A08F"/>
<text x="570.9" y="323.8" font-size="7">TC: 0.9444</text>
<circle cx="640.4" cy="366.2" r="17" fill="#F9A08F"/>
<text x="624.5" y="347" font-size="7">TC: 0.9370</text>
<circle cx="596.8" cy="392.5" r="17" fill="#F9A08F"/>
<text x="616.3" y="392.9" font-size="7">TC: 0.9360</text>
<circle cx="643.1" cy="424" r="17" fill="#F9A08F"/>
<text x="624.5" y="405.4" font-size="7">TC: 0.9360</text>
<circle cx="585.1" cy="443.8" r="17" fill="#F9A08F"/>
<text x="567.8" y="424.7" font-size="7">TC: 0.9280</text>
<path d="M483.5,380.8 L490.6,384.9 L490.6,393.1 L483.5,397.2 L476.4,393.1 L476.4,384.9 Z M488.6,386.9 L488.6,391.1 M482.7,394.5 L479.2,392.4 M479.2,385.6 L482.7,383.5" fill="none" stroke="#555" stroke-width="0.6"/>
<path d="M526.8,380.8 L533.9,384.9 L533.9,393.1 L526.8,397.2 L519.7,393.1 L519.7,384.9 Z M527.6,383.5 L531.1,385.6 M531.1,392.4 L527.6,394.5 M521.7,391.1 L521.7,386.9" fill="none" stroke="#555" stroke-width="0.6"/>
<path d="M490.6,384.9 L497.6,380.8 M497.6,380.8 L497.6,374 M497.6,380.8 L505.5,385 M498.2,382.6 L505.2,386.8 M505.5,385 L505.5,391.5 M505.5,385 L512.4,380.8 M512.4,380.8 L512.4,374.5 M513.6,380.8 L513.6,374.5 M512.4,380.8 L519.7,384.9 M526.8,380.8 L526.8,374.8 M533.9,393.1 L539.5,396.2 M519.7,393.1 L514,396.3 M512.4,398.6 L512.4,405.5" fill="none" stroke="#555" stroke-width="0.6"/>
<g font-size="3.6" fill="#F06060" text-anchor="middle">
<text x="512.6" y="374.2">O</text><text x="527.6" y="374.2">OH</text><text x="542.8" y="398.6">OH</text><text x="512.5" y="398.6">O</text>
</g>
<g font-size="3" fill="#888" text-anchor="middle"><text x="497.6" y="374">H</text><text x="505.5" y="394.6">H</text></g>
<path d="M581.9,339.2 L584.8,340.9 L584.8,344.1 L581.9,345.8 L579,344.1 L579,340.9 Z M584,341.7 L584,343.3 M581.6,344.7 L580.2,343.9 M580.2,341.1 L581.6,340.3" fill="none" stroke="#5A3A34" stroke-width="0.5"/>
<path d="M597.5,339 L600.4,340.7 L600.4,344.1 L597.5,345.8 L594.6,344.1 L594.6,340.7 Z M597.8,340.1 L599.3,341 M599.3,343.8 L597.8,344.7 M595.4,343.3 L595.4,341.5" fill="none" stroke="#5A3A34" stroke-width="0.5"/>
<path d="M584.8,340.9 L587.3,339.2 M587.3,339.2 L589.6,340.9 M589.6,340.9 L592.2,339.5 M592.2,339.5 L592.2,336.9 M592.2,339.5 L594.6,340.8 M594.6,344.1 L591.7,345.6 M600.4,344.1 L602.9,345.6 M579,344.1 L577.2,345.6 M577.2,345.6 L574.2,344.2" fill="none" stroke="#5A3A34" stroke-width="0.5"/>
<path d="M630.9,360.9 L634.6,363.1 L634.6,367.3 L630.9,369.5 L627.2,367.3 L627.2,363.1 Z M633.6,364.1 L633.6,366.3 M630.5,368.1 L628.6,367 M628.6,363.4 L630.5,362.3" fill="none" stroke="#5A3A34" stroke-width="0.5"/>
<path d="M645.6,360.9 L649.3,363.1 L649.3,367.3 L645.6,369.5 L641.9,367.3 L641.9,363.1 Z M646,362.3 L647.9,363.4 M647.9,367 L646,368.1 M642.9,366.3 L642.9,364.1" fill="none" stroke="#5A3A34" stroke-width="0.5"/>
<path d="M634.6,363.1 L638.4,362.1 M638.4,362.1 L638.4,358 M638.4,362.1 L641.9,363.1 M630.9,360.9 L630.9,357.5 M641.9,367.4 L638.1,369.9 M649.3,367.4 L651,368.5 M651,368.5 L652.4,373.8" fill="none" stroke="#5A3A34" stroke-width="0.5"/>
<path d="M593.5,387.9 L597.8,390.4 L597.8,395.4 L593.5,397.9 L589.2,395.4 L589.2,390.4 Z M596.6,391.6 L596.6,394.2 M593,396.2 L590.8,395 M590.8,390.8 L593,389.6" fill="none" stroke="#5A3A34" stroke-width="0.5"/>
<path d="M597.8,390.4 L602.4,387.9 M602.4,387.9 L602.4,382.6 M602.4,387.9 L606.9,390.6 M597.8,395.4 L602.4,397.8 M602.4,397.8 L606.7,395.1 M589.2,395.4 L585,398" fill="none" stroke="#5A3A34" stroke-width="0.5"/>
<path d="M642.1,418.6 L646.4,421.1 L646.4,426.1 L642.1,428.6 L637.8,426.1 L637.8,421.1 Z M645.2,422.3 L645.2,424.9 M641.6,426.9 L639.4,425.7 M639.4,421.5 L641.6,420.3" fill="none" stroke="#5A3A34" stroke-width="0.5"/>
<path d="M646.4,421.1 L650.9,418.4 M650.9,418.4 L650.9,413.5 M650.9,418.4 L655.5,421.1 M646.4,426.1 L651,428.6 M637.8,426.1 L633.4,428.6 M633.4,428.6 L629,426" fill="none" stroke="#5A3A34" stroke-width="0.5"/>
<path d="M589.7,442.7 L587.3,446.9 L582.5,446.9 L580.1,442.7 L582.5,438.5 L587.3,438.5 Z M588,443.1 L586.8,445.2 M583,445.2 L581.8,443.1 M583.7,439.8 L586.1,439.8" fill="none" stroke="#5A3A34" stroke-width="0.5"/>
<path d="M587.3,438.5 L589.6,434.6 M587.3,446.9 L589.6,451.2 M589.7,442.7 L594.5,442.7 M594.5,442.7 L596.5,439 M594.5,442.7 L596.8,446.5 M580.1,442.7 L575.5,442.7 M575.5,442.7 L572.5,438.8" fill="none" stroke="#5A3A34" stroke-width="0.5"/>
<text x="475.6" y="439.1" font-size="8.3">Names: Cardamonin</text>
<text x="475.6" y="449.4" font-size="8.3">Exp. CCS: 164.0 &#197;<tspan font-size="5.6" dx="0.7" dy="-3.9">2</tspan></text>
<text x="475.6" y="459.7" font-size="8.3">Pred. CCS: 163.4 &#197;<tspan font-size="5.6" dx="0.7" dy="-3.9">2</tspan></text>
<text x="475.6" y="469.6" font-size="8.3">Rel. error: 0.4%</text>
<text x="489.6" y="519.9" font-size="8.3">RSS: 0.5645</text>
<line x1="543" y1="540.4" x2="576.6" y2="523.7" stroke="#000" stroke-width="1.5" stroke-dasharray="3.1,2.4"/>
<line x1="550.7" y1="550.5" x2="626.9" y2="542.1" stroke="#000" stroke-width="1.5" stroke-dasharray="3.1,2.4"/>
<line x1="550.7" y1="564" x2="583.6" y2="566.6" stroke="#000" stroke-width="1.5" stroke-dasharray="3.1,2.4"/>
<line x1="549" y1="577.4" x2="629.6" y2="596.9" stroke="#000" stroke-width="1.5" stroke-dasharray="3.1,2.4"/>
<line x1="541.6" y1="588.1" x2="573.2" y2="611.6" stroke="#000" stroke-width="1.5" stroke-dasharray="3.1,2.4"/>
<circle cx="514.1" cy="563.3" r="36.6" fill="#fff" stroke="#1E88F0" stroke-width="1.5"/>
<circle cx="592" cy="517.4" r="17.2" fill="#72B4F8"/>
<text x="574.3" y="498.4" font-size="7">TC: 0.7155</text>
<circle cx="643.4" cy="540.6" r="17.2" fill="#72B4F8"/>
<text x="627.5" y="520.7" font-size="7">TC: 0.5575</text>
<circle cx="600" cy="566.7" r="17.2" fill="#72B4F8"/>
<text x="618.9" y="567.1" font-size="7">TC: 0.5333</text>
<circle cx="646.3" cy="599.5" r="17.2" fill="#72B4F8"/>
<text x="627.9" y="580.5" font-size="7">TC: 0.5122</text>
<circle cx="588.1" cy="618.7" r="17.2" fill="#72B4F8"/>
<text x="571.3" y="599.9" font-size="7">TC: 0.5039</text>
<path d="M495.8,555.1 L502.4,558.9 L502.4,566.5 L495.8,570.3 L489.2,566.5 L489.2,558.9 Z M496.5,557.6 L499.8,559.6 M499.8,565.8 L496.5,567.8 M491.1,564.6 L491.1,560.8" fill="none" stroke="#555" stroke-width="0.6"/>
<path d="M535,555.1 L541.6,558.9 L541.6,566.5 L535,570.3 L528.4,566.5 L528.4,558.9 Z M539.7,560.8 L539.7,564.6 M534.3,567.8 L531,565.8 M531,559.6 L534.3,557.6" fill="none" stroke="#555" stroke-width="0.6"/>
<path d="M489.2,558.9 L483.8,555.7 M489.2,566.5 L483.8,569.4 M502.4,566.5 L507.6,569.8 M510,569.8 L515.3,566.5 M515.3,566.5 L515.3,560.5 M516.4,566.5 L516.4,560.5 M515.3,566.5 L520.6,569.8 M523,569.8 L528.4,566.5 M541.6,558.9 L546.3,556" fill="none" stroke="#555" stroke-width="0.6"/>
<g font-size="3.6" text-anchor="middle">
<text x="515.5" y="559.5" fill="#F06060">O</text><text x="508.8" y="572.8" fill="#6A8AD0">N</text><text x="521.8" y="572.8" fill="#6A8AD0">N</text>
<text x="481.8" y="556.5" fill="#6CC36C">Cl</text><text x="481.8" y="571" fill="#6CC36C">Cl</text><text x="548.5" y="556.5" fill="#6CC36C">Cl</text>
</g>
<path d="M587.9,511.9 L591.8,514.1 L591.8,518.6 L587.9,520.9 L584,518.6 L584,514.1 Z M590.7,515.3 L590.7,517.5 M587.5,519.4 L585.5,518.3 M585.5,514.5 L587.5,513.4" fill="none" stroke="#2C3C58" stroke-width="0.5"/>
<path d="M584,514.2 L580,511.6 M584,518.7 L580,521 M591.8,518.7 L595.2,520.8 M595.2,520.8 L599.6,518.3 M599.6,518.3 L599.6,513.5 M599.6,518.3 L603.6,520.6 M603.6,520.6 L603.6,525 M603.6,520.6 L607.5,518.2" fill="none" stroke="#2C3C58" stroke-width="0.5"/>
<path d="M642.5,538.3 L640.1,542.4 L635.4,542.4 L633.1,538.3 L635.4,534.2 L640.1,534.2 Z M639,541.1 L636.6,541.1 M634.8,537.9 L635.9,535.9 M639.7,535.9 L640.8,537.9" fill="none" stroke="#2C3C58" stroke-width="0.5"/>
<path d="M642.5,538.3 L647.4,538.3 M647.4,538.3 L649.7,542.2 M649.7,542.2 L654.5,542.2 M649.7,542.2 L647.3,546.5" fill="none" stroke="#2C3C58" stroke-width="0.5"/>
<path d="M601.5,566.4 L599.4,570 L595.2,570 L593.1,566.4 L595.2,562.8 L599.4,562.8 Z M598.3,568.9 L596.3,568.9 M594.6,566 L595.6,564.2 M599,564.2 L600,566" fill="none" stroke="#2C3C58" stroke-width="0.5"/>
<path d="M593.1,566.4 L586.5,566.4 M601.5,566.4 L611.8,566.4 M605.3,562.3 L605.3,570.7 M606.3,562.3 L606.3,570.7" fill="none" stroke="#2C3C58" stroke-width="0.5"/>
<path d="M645.7,598.1 L643.2,602.4 L638.2,602.4 L635.7,598.1 L638.2,593.8 L643.2,593.8 Z M641.9,601.1 L639.5,601.1 M637.5,597.6 L638.7,595.5 M642.7,595.5 L643.9,597.6" fill="none" stroke="#2C3C58" stroke-width="0.5"/>
<path d="M645.7,598.1 L655.5,598.1 M650.3,593 L650.3,603.5 M651.3,593 L651.3,603.5 M643.2,602.4 L646.3,606.9" fill="none" stroke="#2C3C58" stroke-width="0.5"/>
<path d="M585.3,618 L588.8,620 L588.8,624 L585.3,626 L581.8,624 L581.8,620 Z M585.7,619.3 L587.4,620.3 M587.4,623.7 L585.7,624.7 M582.8,623 L582.8,621" fill="none" stroke="#2C3C58" stroke-width="0.5"/>
<path d="M581.8,620 L578.6,618.2 M578.6,618.2 L576,615.4 M578.6,618.2 L575.8,619.8 M578.6,618.2 L578.6,614.5 M588.8,620 L591.4,618.3 M591.4,618.3 L594.5,620.1 M594.5,620.1 L594.5,623.4 M594.5,620.1 L597.5,618.2 M597.5,618.2 L597.5,614.5 M597.5,618.2 L600.6,619.7" fill="none" stroke="#2C3C58" stroke-width="0.5"/>
<text x="478.5" y="612.9" font-size="8.3">Names: Triclocarban</text>
<text x="478.5" y="623.3" font-size="8.3">Exp. CCS: 169.0 &#197;<tspan font-size="5.6" dx="0.7" dy="-3.9">2</tspan></text>
<text x="478.5" y="633.4" font-size="8.3">Pred. CCS : 152.1 &#197;<tspan font-size="5.6" dx="0.7" dy="-3.9">2</tspan></text>
<text x="478.5" y="643.2" font-size="8.3">Rela. error: 14.9%</text>
</svg></body></html>
